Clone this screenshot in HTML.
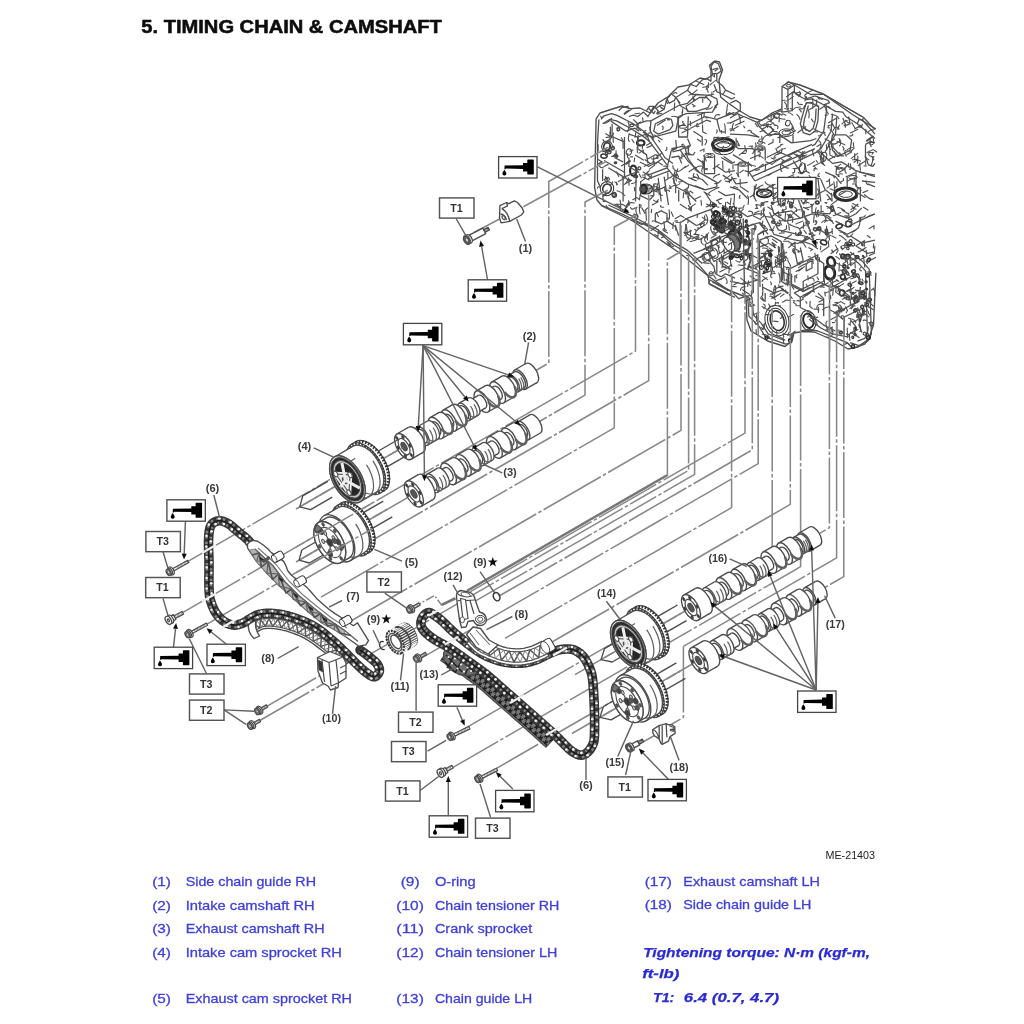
<!DOCTYPE html>
<html><head><meta charset="utf-8"><title>Timing chain &amp; camshaft</title>
<style>html,body{margin:0;padding:0;background:#fff}svg{display:block}text{font-family:"Liberation Sans",sans-serif}</style>
</head><body>
<svg width="1024" height="1024" viewBox="0 0 1024 1024">
<rect width="1024" height="1024" fill="#fff"/>
<g id="art" filter="url(#soft)">
<path d="M596.1 118.9 L594.6 187.7 L597.0 200.0 L602.0 206.0 L632.7 221.0 L679.6 253.0 L708.9 276.5 L728.0 290.0 L746.0 297.0 L747.0 320.0 L751.0 331.0 L767.5 341.0 L785.1 346.5 L792.0 341.0 L793.9 333.0 L803.0 331.5 L814.4 332.0 L834.9 341.0 L848.0 349.0 L858.0 347.0 L868.6 339.0 L873.5 325.0 L875.9 272.7 L875.9 129.0 L852.5 114.5 L823.2 94.0 L800.0 85.0 L788.0 82.0 L783.5 86.0 L782.2 108.6 L772.0 113.0 L761.7 120.3 L750.0 117.0 L738.2 110.0 L728.0 103.0 L720.6 96.9 L719.0 80.0 L722.5 70.0 L719.5 62.0 L714.8 61.0 L711.0 66.0 L712.5 75.0 L706.0 79.3 L700.0 78.0 L688.4 85.2 L678.0 87.0 L667.9 96.9 L658.0 103.0 L650.3 113.0 L640.0 108.0 L629.8 108.6 L622.0 106.0 L609.3 110.0 L600.0 113.0 Z" fill="#fff" stroke="#fff" stroke-width="0.01" stroke-linecap="butt" stroke-linejoin="round"/>
<path d="M875.9 129.0 L852.5 114.5 L823.2 94.0 L800.0 85.0 L788.0 82.0 L783.5 86.0 L782.2 108.6 L772.0 113.0 L761.7 120.3 L750.0 117.0 L738.2 110.0 L728.0 103.0 L720.6 96.9 L719.0 80.0 L722.5 70.0 L719.5 62.0 L714.8 61.0 L711.0 66.0 L712.5 75.0 L706.0 79.3 L700.0 78.0 L688.4 85.2 L678.0 87.0 L667.9 96.9 L658.0 103.0 L650.3 113.0 L640.0 108.0 L629.8 108.6 L622.0 106.0 L609.3 110.0 L600.0 113.0 L596.1 118.9 L594.6 187.7 L597.0 200.0 L602.0 206.0 L632.7 221.0 L679.6 253.0 L708.9 276.5 L728.0 290.0 L746.0 297.0 L747.0 320.0 L751.0 331.0 L767.5 341.0 L785.1 346.5 L792.0 341.0 L793.9 333.0 L803.0 331.5 L814.4 332.0 L834.9 341.0 L848.0 349.0 L858.0 347.0 L868.6 339.0 L873.5 325.0 L875.9 272.7" fill="none" stroke="#4c4c4c" stroke-width="1.35" stroke-linecap="butt" stroke-linejoin="round"/>
<path d="M598.9 119.4 L597.5 142.9 L597.5 181.0 L599.6 185.4 L605.5 191.2" fill="none" stroke="#505050" stroke-width="1.28" stroke-linecap="butt" stroke-linejoin="round"/>
<path d="M601.1 119.4 L604.0 115.8 L611.4 113.6 L616.5 115.1 L633.3 123.8 L643.6 131.2 L650.9 137.0 L661.2 151.7 L664.8 157.5 L672.9 163.4" fill="none" stroke="#505050" stroke-width="1.28" stroke-linecap="butt" stroke-linejoin="round"/>
<path d="M602.6 123.8 L609.9 119.4 L616.5 120.9 L630.4 128.2 L642.1 135.6 L649.4 141.4 L658.2 153.1 L667.0 164.9" fill="none" stroke="#505050" stroke-width="1.28" stroke-linecap="butt" stroke-linejoin="round"/>
<path d="M628.9 116.5 L633.3 115.1 L637.7 116.5 L643.6 112.1 L648.0 116.5 L653.8 106.3 L658.2 110.7 L656.8 113.6 L664.1 109.2 L667.0 98.9 L671.4 93.8 L675.8 97.5 L687.5 90.2 L690.5 84.3 L696.3 86.5 L702.2 79.9 L706.6 78.4 L711.0 81.4" fill="none" stroke="#505050" stroke-width="1.28" stroke-linecap="butt" stroke-linejoin="round"/>
<path d="M650.9 120.9 L678.7 105.5 L687.5 103.3 L696.3 94.5 L709.5 95.3 L716.8 98.9 L717.6 103.3 L712.4 112.1 L686.1 113.6 L678.7 116.5 L675.8 131.2 L653.8 137.0 L650.2 131.2 Z" fill="none" stroke="#505050" stroke-width="1.28" stroke-linecap="butt" stroke-linejoin="round"/>
<path d="M655.3 123.8 L667.0 118.0 L671.4 119.4 L672.9 125.3 L670.0 129.7 L658.2 134.1 L653.8 131.2 Z" fill="none" stroke="#505050" stroke-width="1.28" stroke-linecap="butt" stroke-linejoin="round"/>
<path d="M686.1 106.3 L699.3 97.5 L706.6 97.5 L711.0 101.9 L708.0 107.7 L696.3 111.4 L687.5 111.4 Z" fill="none" stroke="#505050" stroke-width="1.28" stroke-linecap="butt" stroke-linejoin="round"/>
<path d="M678.0 116.5 L678.7 137.0 L687.5 137.0 L688.3 116.5" fill="none" stroke="#505050" stroke-width="1.28" stroke-linecap="butt" stroke-linejoin="round"/>
<ellipse cx="682.8" cy="126.8" rx="4.4" ry="1.5" transform="rotate(0 682.8 126.8)" fill="none" stroke="#333" stroke-width="0.95"/>
<path d="M675.8 140.0 L676.5 148.7 L671.4 150.2 L667.0 167.8 L672.9 175.1 L687.5 183.9 L705.1 189.8 L716.8 186.8 L716.8 182.4 L706.6 176.6 L696.3 170.7 L687.5 157.5 L684.6 145.8 L671.4 148.7" fill="none" stroke="#505050" stroke-width="1.28" stroke-linecap="butt" stroke-linejoin="round"/>
<path d="M687.5 138.5 L690.5 145.8 L686.1 148.7" fill="none" stroke="#505050" stroke-width="1.28" stroke-linecap="butt" stroke-linejoin="round"/>
<path d="M672.9 151.7 L680.2 150.2 L687.5 160.5 L699.3 172.2" fill="none" stroke="#505050" stroke-width="1.28" stroke-linecap="butt" stroke-linejoin="round"/>
<ellipse cx="723.4" cy="144.6" rx="10.8" ry="6.0" transform="rotate(0 723.4 144.6)" fill="#fff" stroke="#2a2a2a" stroke-width="3.2"/>
<ellipse cx="723.4" cy="144.6" rx="6.7" ry="3.2" transform="rotate(0 723.4 144.6)" fill="none" stroke="#333" stroke-width="1.0"/>
<ellipse cx="723.4" cy="148.7" rx="10.8" ry="6.0" transform="rotate(0 723.4 148.7)" fill="none" stroke="#333" stroke-width="1.0"/>
<path d="M704.4 156.1 L704.4 173.6 L714.6 173.6 L714.6 156.1" fill="none" stroke="#505050" stroke-width="1.28" stroke-linecap="butt" stroke-linejoin="round"/>
<ellipse cx="709.5" cy="155.5" rx="5.1" ry="2.1" transform="rotate(0 709.5 155.5)" fill="#fff" stroke="#333" stroke-width="0.95"/>
<ellipse cx="709.5" cy="155.5" rx="2.6" ry="1.0" transform="rotate(0 709.5 155.5)" fill="none" stroke="#333" stroke-width="0.95"/>
<ellipse cx="607.0" cy="146.5" rx="5.3" ry="5.5" transform="rotate(20 607.0 146.5)" fill="#fff" stroke="#333" stroke-width="1.0"/>
<ellipse cx="607.0" cy="146.5" rx="3.3" ry="3.7" transform="rotate(20 607.0 146.5)" fill="none" stroke="#333" stroke-width="1.6"/>
<ellipse cx="607.0" cy="188.6" rx="6.7" ry="7.1" transform="rotate(20 607.0 188.6)" fill="#fff" stroke="#333" stroke-width="1.0"/>
<ellipse cx="607.0" cy="188.6" rx="4.2" ry="4.7" transform="rotate(20 607.0 188.6)" fill="none" stroke="#333" stroke-width="1.6"/>
<ellipse cx="628.9" cy="152.0" rx="2.6" ry="3.2" transform="rotate(20 628.9 152.0)" fill="none" stroke="#333" stroke-width="0.95"/>
<ellipse cx="604.0" cy="156.1" rx="3.2" ry="2.1" transform="rotate(0 604.0 156.1)" fill="none" stroke="#333" stroke-width="1.4"/>
<ellipse cx="633.3" cy="170.7" rx="3.2" ry="5.0" transform="rotate(0 633.3 170.7)" fill="none" stroke="#2a2a2a" stroke-width="2.2"/>
<ellipse cx="646.5" cy="189.0" rx="5.9" ry="5.0" transform="rotate(0 646.5 189.0)" fill="#bbb" stroke="#333" stroke-width="1.2"/>
<ellipse cx="643.6" cy="189.0" rx="3.2" ry="4.4" transform="rotate(0 643.6 189.0)" fill="#555" stroke="#222" stroke-width="2.2"/>
<ellipse cx="640.7" cy="142.9" rx="3.8" ry="2.6" transform="rotate(0 640.7 142.9)" fill="none" stroke="#2a2a2a" stroke-width="2"/>
<path d="M610.6 120.9 L626.0 131.2 L634.8 128.2 L639.2 131.2" fill="none" stroke="#505050" stroke-width="1.28" stroke-linecap="butt" stroke-linejoin="round"/>
<path d="M612.1 123.8 L612.1 137.0 L605.5 142.9" fill="none" stroke="#505050" stroke-width="1.28" stroke-linecap="butt" stroke-linejoin="round"/>
<path d="M624.5 137.0 L624.5 176.6 L628.9 181.0" fill="none" stroke="#505050" stroke-width="1.28" stroke-linecap="butt" stroke-linejoin="round"/>
<path d="M621.6 178.0 L636.3 172.2 L635.5 201.5" fill="none" stroke="#505050" stroke-width="1.28" stroke-linecap="butt" stroke-linejoin="round"/>
<path d="M604.0 160.5 L624.5 172.2" fill="none" stroke="#505050" stroke-width="1.28" stroke-linecap="butt" stroke-linejoin="round"/>
<path d="M612.8 137.0 L623.1 141.4 L623.1 148.7" fill="none" stroke="#505050" stroke-width="1.28" stroke-linecap="butt" stroke-linejoin="round"/>
<path d="M614.3 157.5 L623.1 161.9" fill="none" stroke="#505050" stroke-width="1.28" stroke-linecap="butt" stroke-linejoin="round"/>
<path d="M602.6 169.3 L602.6 181.0" fill="none" stroke="#505050" stroke-width="1.28" stroke-linecap="butt" stroke-linejoin="round"/>
<path d="M608.4 167.8 L623.1 176.6 L623.1 201.5" fill="none" stroke="#505050" stroke-width="1.28" stroke-linecap="butt" stroke-linejoin="round"/>
<path d="M628.9 134.1 L637.7 137.0 L646.5 134.1 L649.4 141.4" fill="none" stroke="#505050" stroke-width="1.28" stroke-linecap="butt" stroke-linejoin="round"/>
<path d="M637.7 137.0 L637.7 148.7 L646.5 154.6 L648.0 163.4" fill="none" stroke="#505050" stroke-width="1.28" stroke-linecap="butt" stroke-linejoin="round"/>
<path d="M628.9 157.5 L628.9 166.3 L637.7 172.2" fill="none" stroke="#505050" stroke-width="1.28" stroke-linecap="butt" stroke-linejoin="round"/>
<path d="M648.0 175.1 L667.0 167.8" fill="none" stroke="#505050" stroke-width="1.28" stroke-linecap="butt" stroke-linejoin="round"/>
<path d="M648.0 178.8 L670.0 170.7" fill="none" stroke="#505050" stroke-width="1.28" stroke-linecap="butt" stroke-linejoin="round"/>
<path d="M640.7 181.0 L640.7 195.6 L649.4 200.0 L653.8 195.6 L653.8 183.9" fill="none" stroke="#505050" stroke-width="1.28" stroke-linecap="butt" stroke-linejoin="round"/>
<path d="M658.2 178.0 L661.2 201.5" fill="none" stroke="#505050" stroke-width="1.28" stroke-linecap="butt" stroke-linejoin="round"/>
<path d="M664.1 176.6 L668.5 205.0" fill="none" stroke="#505050" stroke-width="1.28" stroke-linecap="butt" stroke-linejoin="round"/>
<path d="M687.5 125.3 L705.1 116.5 L716.8 119.4 L731.5 113.6 L735.0 115.1" fill="none" stroke="#505050" stroke-width="1.28" stroke-linecap="butt" stroke-linejoin="round"/>
<path d="M690.5 128.2 L706.6 120.2 L711.0 121.6" fill="none" stroke="#505050" stroke-width="1.28" stroke-linecap="butt" stroke-linejoin="round"/>
<path d="M716.8 119.4 L719.8 131.2" fill="none" stroke="#505050" stroke-width="1.28" stroke-linecap="butt" stroke-linejoin="round"/>
<path d="M693.4 131.2 L702.2 137.0 L702.2 145.8" fill="none" stroke="#505050" stroke-width="1.28" stroke-linecap="butt" stroke-linejoin="round"/>
<path d="M722.7 94.5 L731.5 98.9 L735.0 97.5" fill="none" stroke="#505050" stroke-width="1.28" stroke-linecap="butt" stroke-linejoin="round"/>
<path d="M725.6 90.2 L735.0 94.5" fill="none" stroke="#505050" stroke-width="1.28" stroke-linecap="butt" stroke-linejoin="round"/>
<path d="M716.8 81.4 L722.7 85.8 L725.6 90.2 L722.7 94.5 L716.8 91.6 L713.9 84.3" fill="none" stroke="#505050" stroke-width="1.28" stroke-linecap="butt" stroke-linejoin="round"/>
<path d="M711.0 81.4 L711.0 71.1 L709.5 65.3 L713.9 61.6 L718.3 63.8 L721.2 71.1 L716.8 74.0 L716.8 81.4" fill="none" stroke="#505050" stroke-width="1.28" stroke-linecap="butt" stroke-linejoin="round"/>
<path d="M712.4 69.6 L717.6 68.2" fill="none" stroke="#505050" stroke-width="1.28" stroke-linecap="butt" stroke-linejoin="round"/>
<path d="M711.7 74.0 L716.8 73.3" fill="none" stroke="#505050" stroke-width="1.28" stroke-linecap="butt" stroke-linejoin="round"/>
<path d="M667.0 98.9 L669.2 103.3 L674.4 100.4 L675.8 97.5" fill="none" stroke="#505050" stroke-width="1.28" stroke-linecap="butt" stroke-linejoin="round"/>
<path d="M646.5 110.7 L649.4 106.3 L653.8 106.3" fill="none" stroke="#505050" stroke-width="1.28" stroke-linecap="butt" stroke-linejoin="round"/>
<path d="M648.0 107.7 L653.8 113.6 L655.3 110.7" fill="none" stroke="#505050" stroke-width="1.28" stroke-linecap="butt" stroke-linejoin="round"/>
<path d="M633.3 119.4 L637.7 123.8 L646.5 120.9 L650.9 120.9" fill="none" stroke="#505050" stroke-width="1.28" stroke-linecap="butt" stroke-linejoin="round"/>
<path d="M618.7 110.7 L621.6 107.7 L627.5 106.3 L628.9 107.7" fill="none" stroke="#505050" stroke-width="1.28" stroke-linecap="butt" stroke-linejoin="round"/>
<path d="M687.5 90.2 L691.9 94.5 L696.3 94.5" fill="none" stroke="#505050" stroke-width="1.28" stroke-linecap="butt" stroke-linejoin="round"/>
<path d="M675.8 97.5 L680.2 103.3" fill="none" stroke="#505050" stroke-width="1.28" stroke-linecap="butt" stroke-linejoin="round"/>
<path d="M721.2 157.5 L731.5 163.4 L735.0 161.9" fill="none" stroke="#505050" stroke-width="1.28" stroke-linecap="butt" stroke-linejoin="round"/>
<path d="M716.8 166.3 L725.6 172.2 L735.0 170.7" fill="none" stroke="#505050" stroke-width="1.28" stroke-linecap="butt" stroke-linejoin="round"/>
<path d="M722.7 175.1 L731.5 181.0" fill="none" stroke="#505050" stroke-width="1.28" stroke-linecap="butt" stroke-linejoin="round"/>
<path d="M718.3 191.2 L725.6 195.6 L735.0 194.2" fill="none" stroke="#505050" stroke-width="1.28" stroke-linecap="butt" stroke-linejoin="round"/>
<path d="M705.1 192.7 L711.0 201.5 L716.8 205.0" fill="none" stroke="#505050" stroke-width="1.28" stroke-linecap="butt" stroke-linejoin="round"/>
<path d="M672.9 178.0 L675.8 186.8 L687.5 192.7 L696.3 201.5" fill="none" stroke="#505050" stroke-width="1.28" stroke-linecap="butt" stroke-linejoin="round"/>
<path d="M678.7 189.8 L678.7 201.5" fill="none" stroke="#505050" stroke-width="1.28" stroke-linecap="butt" stroke-linejoin="round"/>
<path d="M687.5 195.6 L690.5 205.0" fill="none" stroke="#505050" stroke-width="1.28" stroke-linecap="butt" stroke-linejoin="round"/>
<path d="M693.4 176.6 L702.2 179.5 L708.0 185.4" fill="none" stroke="#505050" stroke-width="1.28" stroke-linecap="butt" stroke-linejoin="round"/>
<path d="M671.4 157.5 L678.7 156.1 L681.7 163.4" fill="none" stroke="#505050" stroke-width="1.28" stroke-linecap="butt" stroke-linejoin="round"/>
<path d="M782.0 86.5 L788.6 82.1 L794.4 85.0 L794.4 92.4 L792.3 93.1 L792.3 110.7 L782.0 112.1 Z" fill="#fff" stroke="#505050" stroke-width="1.28" stroke-linecap="butt" stroke-linejoin="round"/>
<path d="M782.0 86.5 L787.9 89.4 L794.4 85.0" fill="none" stroke="#505050" stroke-width="1.28" stroke-linecap="butt" stroke-linejoin="round"/>
<path d="M787.9 89.4 L787.9 110.7" fill="none" stroke="#505050" stroke-width="1.28" stroke-linecap="butt" stroke-linejoin="round"/>
<ellipse cx="788.6" cy="85.8" rx="2.3" ry="1.2" transform="rotate(0 788.6 85.8)" fill="none" stroke="#333" stroke-width="0.95"/>
<path d="M794.4 85.0 L810.6 94.5 L823.7 94.3 L863.3 117.3 L862.6 120.2 L858.9 119.4 L857.4 123.8 L845.7 116.5 L842.8 112.1 L835.5 111.4 L823.7 104.8 L812.0 98.9 L806.2 99.7 L801.8 97.5 L794.4 92.4" fill="none" stroke="#505050" stroke-width="1.28" stroke-linecap="butt" stroke-linejoin="round"/>
<path d="M863.3 117.3 L875.0 129.7" fill="none" stroke="#505050" stroke-width="1.28" stroke-linecap="butt" stroke-linejoin="round"/>
<path d="M862.6 120.2 L875.0 134.1" fill="none" stroke="#505050" stroke-width="1.28" stroke-linecap="butt" stroke-linejoin="round"/>
<path d="M857.4 123.8 L875.0 138.5" fill="none" stroke="#505050" stroke-width="1.28" stroke-linecap="butt" stroke-linejoin="round"/>
<path d="M823.7 94.3 L841.3 104.8 L861.8 116.5" fill="none" stroke="#505050" stroke-width="1.28" stroke-linecap="butt" stroke-linejoin="round"/>
<path d="M806.2 98.9 L815.0 96.0 L828.1 100.4 L829.6 102.6 L823.7 104.8" fill="none" stroke="#505050" stroke-width="1.28" stroke-linecap="butt" stroke-linejoin="round"/>
<ellipse cx="798.1" cy="93.8" rx="2.3" ry="1.3" transform="rotate(0 798.1 93.8)" fill="none" stroke="#333" stroke-width="0.95"/>
<path d="M806.2 102.6 L801.8 118.0 L800.3 123.8 L803.2 132.6 L809.8 134.8 L815.0 131.2 L817.9 120.9 L818.6 106.3 L812.0 103.3 Z" fill="none" stroke="#505050" stroke-width="1.28" stroke-linecap="butt" stroke-linejoin="round"/>
<path d="M808.4 105.5 L804.4 119.4 L803.5 125.3 L805.6 130.0 L809.8 131.2 L813.2 128.2 L815.5 119.4 L816.1 108.5" fill="none" stroke="#505050" stroke-width="1.28" stroke-linecap="butt" stroke-linejoin="round"/>
<path d="M823.7 105.5 L826.7 109.2 L823.7 131.2 L815.0 144.4 L812.0 145.8" fill="none" stroke="#505050" stroke-width="1.28" stroke-linecap="butt" stroke-linejoin="round"/>
<path d="M832.5 113.6 L831.1 131.2 L820.8 148.7 L816.4 151.7" fill="none" stroke="#505050" stroke-width="1.28" stroke-linecap="butt" stroke-linejoin="round"/>
<path d="M836.9 116.5 L835.5 134.1 L825.2 151.7" fill="none" stroke="#505050" stroke-width="1.28" stroke-linecap="butt" stroke-linejoin="round"/>
<path d="M730.0 123.1 L743.9 116.5 L757.1 122.4 L780.5 110.7 L782.0 112.1" fill="none" stroke="#505050" stroke-width="1.28" stroke-linecap="butt" stroke-linejoin="round"/>
<path d="M757.1 122.4 L759.3 126.8 L768.1 134.8 L778.3 134.1 L780.5 135.6 L791.5 142.9 L810.6 140.7 L816.4 138.5" fill="none" stroke="#505050" stroke-width="1.28" stroke-linecap="butt" stroke-linejoin="round"/>
<path d="M759.3 126.8 L765.2 123.8 L773.9 129.7 L768.1 134.8" fill="none" stroke="#505050" stroke-width="1.28" stroke-linecap="butt" stroke-linejoin="round"/>
<ellipse cx="769.5" cy="123.1" rx="2.9" ry="1.6" transform="rotate(0 769.5 123.1)" fill="none" stroke="#333" stroke-width="0.95"/>
<ellipse cx="776.9" cy="115.8" rx="2.3" ry="2.6" transform="rotate(30 776.9 115.8)" fill="none" stroke="#333" stroke-width="0.95"/>
<ellipse cx="787.9" cy="123.1" rx="2.3" ry="2.9" transform="rotate(20 787.9 123.1)" fill="none" stroke="#333" stroke-width="0.95"/>
<path d="M754.9 148.7 L754.9 160.5" fill="none" stroke="#505050" stroke-width="1.28" stroke-linecap="butt" stroke-linejoin="round"/>
<path d="M765.2 148.7 L765.2 160.5" fill="none" stroke="#505050" stroke-width="1.28" stroke-linecap="butt" stroke-linejoin="round"/>
<ellipse cx="760.0" cy="148.0" rx="5.1" ry="2.2" transform="rotate(0 760.0 148.0)" fill="#fff" stroke="#333" stroke-width="0.95"/>
<ellipse cx="760.0" cy="148.0" rx="2.6" ry="1.2" transform="rotate(0 760.0 148.0)" fill="none" stroke="#333" stroke-width="0.95"/>
<ellipse cx="760.0" cy="142.9" rx="2.6" ry="1.3" transform="rotate(0 760.0 142.9)" fill="none" stroke="#333" stroke-width="0.95"/>
<path d="M738.1 164.9 L738.1 176.6" fill="none" stroke="#505050" stroke-width="1.28" stroke-linecap="butt" stroke-linejoin="round"/>
<path d="M748.3 164.9 L748.3 176.6" fill="none" stroke="#505050" stroke-width="1.28" stroke-linecap="butt" stroke-linejoin="round"/>
<ellipse cx="743.2" cy="164.1" rx="5.1" ry="2.2" transform="rotate(0 743.2 164.1)" fill="#fff" stroke="#333" stroke-width="0.95"/>
<ellipse cx="743.2" cy="164.1" rx="2.6" ry="1.2" transform="rotate(0 743.2 164.1)" fill="none" stroke="#333" stroke-width="0.95"/>
<ellipse cx="786.4" cy="132.6" rx="7.3" ry="3.7" transform="rotate(0 786.4 132.6)" fill="#fff" stroke="#333" stroke-width="0.95"/>
<ellipse cx="786.4" cy="132.6" rx="4.4" ry="2.1" transform="rotate(0 786.4 132.6)" fill="none" stroke="#333" stroke-width="0.95"/>
<path d="M779.8 134.8 L779.8 142.9" fill="none" stroke="#505050" stroke-width="1.28" stroke-linecap="butt" stroke-linejoin="round"/>
<path d="M793.0 134.8 L793.0 142.9" fill="none" stroke="#505050" stroke-width="1.28" stroke-linecap="butt" stroke-linejoin="round"/>
<path d="M749.0 172.2 L812.0 144.4" fill="none" stroke="#505050" stroke-width="1.28" stroke-linecap="butt" stroke-linejoin="round"/>
<path d="M752.0 176.6 L815.0 148.7" fill="none" stroke="#505050" stroke-width="1.28" stroke-linecap="butt" stroke-linejoin="round"/>
<path d="M754.9 181.0 L817.9 151.7" fill="none" stroke="#505050" stroke-width="1.28" stroke-linecap="butt" stroke-linejoin="round"/>
<path d="M744.6 170.7 L749.0 172.2 L754.9 181.0" fill="none" stroke="#505050" stroke-width="1.28" stroke-linecap="butt" stroke-linejoin="round"/>
<path d="M832.5 134.8 L845.7 134.8 L851.6 140.0 L850.1 150.2 L838.4 156.1 L832.5 150.2 L831.1 142.9 Z" fill="none" stroke="#505050" stroke-width="1.28" stroke-linecap="butt" stroke-linejoin="round"/>
<path d="M865.5 144.4 L865.5 156.1 L868.4 164.9 L872.8 166.3 L875.0 163.4" fill="none" stroke="#505050" stroke-width="1.28" stroke-linecap="butt" stroke-linejoin="round"/>
<path d="M865.5 144.4 L870.6 141.4 L875.0 142.9" fill="none" stroke="#505050" stroke-width="1.28" stroke-linecap="butt" stroke-linejoin="round"/>
<ellipse cx="871.4" cy="143.6" rx="2.1" ry="1.2" transform="rotate(0 871.4 143.6)" fill="none" stroke="#333" stroke-width="0.95"/>
<path d="M817.9 150.2 L832.5 163.4 L841.3 161.9 L856.0 170.7 L875.0 176.6" fill="none" stroke="#505050" stroke-width="1.28" stroke-linecap="butt" stroke-linejoin="round"/>
<path d="M856.0 170.7 L856.0 186.8" fill="none" stroke="#505050" stroke-width="1.28" stroke-linecap="butt" stroke-linejoin="round"/>
<path d="M847.2 176.6 L847.2 186.8" fill="none" stroke="#505050" stroke-width="1.28" stroke-linecap="butt" stroke-linejoin="round"/>
<ellipse cx="853.0" cy="177.3" rx="4.4" ry="1.8" transform="rotate(0 853.0 177.3)" fill="none" stroke="#333" stroke-width="0.95"/>
<ellipse cx="845.7" cy="194.2" rx="11.1" ry="6.2" transform="rotate(0 845.7 194.2)" fill="#fff" stroke="#2a2a2a" stroke-width="3.0"/>
<ellipse cx="845.7" cy="194.2" rx="6.7" ry="3.2" transform="rotate(0 845.7 194.2)" fill="none" stroke="#333" stroke-width="0.95"/>
<ellipse cx="764.4" cy="193.4" rx="7.6" ry="3.8" transform="rotate(0 764.4 193.4)" fill="#fff" stroke="#2a2a2a" stroke-width="2.0"/>
<ellipse cx="764.4" cy="193.4" rx="4.4" ry="1.9" transform="rotate(0 764.4 193.4)" fill="none" stroke="#333" stroke-width="0.95"/>
<path d="M730.0 103.3 L735.9 100.4 L740.3 103.3 L740.3 110.7 L734.4 113.6" fill="none" stroke="#505050" stroke-width="1.28" stroke-linecap="butt" stroke-linejoin="round"/>
<path d="M730.0 118.0 L737.3 113.6 L743.2 116.5" fill="none" stroke="#505050" stroke-width="1.28" stroke-linecap="butt" stroke-linejoin="round"/>
<path d="M730.0 134.1 L747.6 134.8 L759.3 137.0" fill="none" stroke="#505050" stroke-width="1.28" stroke-linecap="butt" stroke-linejoin="round"/>
<path d="M730.0 142.9 L738.8 148.7 L753.4 148.7" fill="none" stroke="#505050" stroke-width="1.28" stroke-linecap="butt" stroke-linejoin="round"/>
<path d="M732.9 154.6 L752.0 166.3" fill="none" stroke="#505050" stroke-width="1.28" stroke-linecap="butt" stroke-linejoin="round"/>
<path d="M766.6 157.5 L778.3 151.7 L791.5 157.5 L781.3 163.4" fill="none" stroke="#505050" stroke-width="1.28" stroke-linecap="butt" stroke-linejoin="round"/>
<path d="M793.0 160.5 L798.8 169.3 L801.8 173.6 L806.2 170.7 L804.7 163.4" fill="none" stroke="#505050" stroke-width="1.28" stroke-linecap="butt" stroke-linejoin="round"/>
<ellipse cx="802.1" cy="167.8" rx="2.6" ry="5.0" transform="rotate(10 802.1 167.8)" fill="none" stroke="#333" stroke-width="0.95"/>
<path d="M817.9 151.7 L823.7 160.5 L823.7 156.1 L820.8 150.2" fill="none" stroke="#505050" stroke-width="1.28" stroke-linecap="butt" stroke-linejoin="round"/>
<ellipse cx="823.7" cy="156.8" rx="2.9" ry="4.7" transform="rotate(15 823.7 156.8)" fill="none" stroke="#333" stroke-width="0.95"/>
<path d="M825.2 172.2 L835.5 176.6 L841.3 183.9" fill="none" stroke="#505050" stroke-width="1.28" stroke-linecap="butt" stroke-linejoin="round"/>
<path d="M820.8 179.5 L825.2 189.8 L832.5 195.6" fill="none" stroke="#505050" stroke-width="1.28" stroke-linecap="butt" stroke-linejoin="round"/>
<path d="M858.9 172.2 L875.0 175.1" fill="none" stroke="#505050" stroke-width="1.28" stroke-linecap="butt" stroke-linejoin="round"/>
<path d="M861.8 181.0 L875.0 182.4" fill="none" stroke="#505050" stroke-width="1.28" stroke-linecap="butt" stroke-linejoin="round"/>
<path d="M756.4 183.9 L753.4 195.6 L756.4 201.5" fill="none" stroke="#505050" stroke-width="1.28" stroke-linecap="butt" stroke-linejoin="round"/>
<path d="M772.5 183.9 L773.9 201.5" fill="none" stroke="#505050" stroke-width="1.28" stroke-linecap="butt" stroke-linejoin="round"/>
<path d="M731.5 176.6 L735.9 183.9 L747.6 182.4" fill="none" stroke="#505050" stroke-width="1.28" stroke-linecap="butt" stroke-linejoin="round"/>
<path d="M730.0 186.8 L738.8 189.8 L747.6 198.5" fill="none" stroke="#505050" stroke-width="1.28" stroke-linecap="butt" stroke-linejoin="round"/>
<path d="M817.9 178.0 L820.8 201.5" fill="none" stroke="#505050" stroke-width="1.28" stroke-linecap="butt" stroke-linejoin="round"/>
<path d="M826.7 194.2 L832.5 201.5" fill="none" stroke="#505050" stroke-width="1.28" stroke-linecap="butt" stroke-linejoin="round"/>
<path d="M860.4 186.8 L860.4 201.5" fill="none" stroke="#505050" stroke-width="1.28" stroke-linecap="butt" stroke-linejoin="round"/>
<path d="M867.7 183.9 L875.0 186.8" fill="none" stroke="#505050" stroke-width="1.28" stroke-linecap="butt" stroke-linejoin="round"/>
<path d="M842.8 118.0 L845.7 125.3 L850.1 123.8 L848.6 116.5" fill="none" stroke="#505050" stroke-width="1.28" stroke-linecap="butt" stroke-linejoin="round"/>
<path d="M831.1 145.8 L841.3 156.1" fill="none" stroke="#505050" stroke-width="1.28" stroke-linecap="butt" stroke-linejoin="round"/>
<path d="M601.1 205.0 L621.6 213.8 L633.3 219.6 L646.5 225.5 L661.2 234.3 L672.9 244.5 L687.5 253.3 L696.3 262.1 L708.0 275.3 L709.5 284.1 L728.5 294.4 L735.0 297.3" fill="none" stroke="#505050" stroke-width="1.28" stroke-linecap="butt" stroke-linejoin="round"/>
<path d="M608.4 205.0 L633.3 216.7 L658.2 229.9 L672.9 241.6 L687.5 250.4 L702.2 263.6" fill="none" stroke="#505050" stroke-width="1.28" stroke-linecap="butt" stroke-linejoin="round"/>
<path d="M680.2 222.6 L687.5 218.2 L711.0 209.4 L716.8 205.0" fill="none" stroke="#505050" stroke-width="1.28" stroke-linecap="butt" stroke-linejoin="round"/>
<path d="M680.2 222.6 L680.2 251.9" fill="none" stroke="#505050" stroke-width="1.28" stroke-linecap="butt" stroke-linejoin="round"/>
<path d="M686.1 224.0 L687.5 234.3 L696.3 238.7 L699.3 234.3" fill="none" stroke="#505050" stroke-width="1.28" stroke-linecap="butt" stroke-linejoin="round"/>
<path d="M705.1 244.5 L713.9 240.2 L731.5 232.8 L732.9 240.2 L716.8 248.9 L706.6 250.4 Z" fill="#fff" stroke="#505050" stroke-width="1.28" stroke-linecap="butt" stroke-linejoin="round"/>
<ellipse cx="715.4" cy="244.3" rx="3.5" ry="5.0" transform="rotate(-20 715.4 244.3)" fill="none" stroke="#333" stroke-width="1.4"/>
<path d="M709.5 279.7 L731.5 291.4 L730.0 294.6 L708.8 283.4 Z" fill="none" stroke="#505050" stroke-width="1.28" stroke-linecap="butt" stroke-linejoin="round"/>
<path d="M712.4 281.9 L728.5 290.7" fill="none" stroke="#505050" stroke-width="1.28" stroke-linecap="butt" stroke-linejoin="round"/>
<path d="M655.3 213.8 L661.2 210.9 L667.0 213.8 L667.0 221.1 L661.2 224.0 L655.3 221.1 Z" fill="none" stroke="#505050" stroke-width="1.28" stroke-linecap="butt" stroke-linejoin="round"/>
<path d="M658.2 231.4 L664.1 236.5 L661.2 238.0" fill="none" stroke="#505050" stroke-width="1.28" stroke-linecap="butt" stroke-linejoin="round"/>
<path d="M633.3 213.8 L637.7 215.3 L636.3 221.1 L631.9 219.6" fill="none" stroke="#505050" stroke-width="1.28" stroke-linecap="butt" stroke-linejoin="round"/>
<path d="M693.4 253.3 L705.1 248.9 L735.0 236.5" fill="none" stroke="#505050" stroke-width="1.28" stroke-linecap="butt" stroke-linejoin="round"/>
<path d="M696.3 259.2 L706.6 253.3 L731.5 243.1" fill="none" stroke="#505050" stroke-width="1.28" stroke-linecap="butt" stroke-linejoin="round"/>
<path d="M706.6 257.7 L713.9 266.5 L715.4 273.8 L721.2 276.8 L725.6 273.8 L735.0 278.2" fill="none" stroke="#505050" stroke-width="1.28" stroke-linecap="butt" stroke-linejoin="round"/>
<path d="M716.8 260.7 L716.8 273.8" fill="none" stroke="#505050" stroke-width="1.28" stroke-linecap="butt" stroke-linejoin="round"/>
<ellipse cx="711.0" cy="273.8" rx="2.1" ry="2.1" transform="rotate(0 711.0 273.8)" fill="none" stroke="#333" stroke-width="0.95"/>
<path d="M722.7 248.9 L722.7 266.5 L731.5 269.4" fill="none" stroke="#505050" stroke-width="1.28" stroke-linecap="butt" stroke-linejoin="round"/>
<path d="M687.5 219.6 L696.3 225.5 L705.1 222.6" fill="none" stroke="#505050" stroke-width="1.28" stroke-linecap="butt" stroke-linejoin="round"/>
<path d="M667.0 221.1 L675.8 227.0 L678.7 235.8" fill="none" stroke="#505050" stroke-width="1.28" stroke-linecap="butt" stroke-linejoin="round"/>
<ellipse cx="716.8" cy="213.8" rx="3.2" ry="2.3" transform="rotate(30 716.8 213.8)" fill="none" stroke="#2a2a2a" stroke-width="2.0"/>
<ellipse cx="722.7" cy="221.1" rx="3.2" ry="2.3" transform="rotate(30 722.7 221.1)" fill="none" stroke="#2a2a2a" stroke-width="2.0"/>
<ellipse cx="730.0" cy="213.8" rx="3.2" ry="2.3" transform="rotate(30 730.0 213.8)" fill="none" stroke="#2a2a2a" stroke-width="2.0"/>
<ellipse cx="731.5" cy="227.0" rx="3.2" ry="2.3" transform="rotate(30 731.5 227.0)" fill="none" stroke="#2a2a2a" stroke-width="2.0"/>
<ellipse cx="721.2" cy="229.9" rx="3.2" ry="2.3" transform="rotate(30 721.2 229.9)" fill="none" stroke="#2a2a2a" stroke-width="2.0"/>
<ellipse cx="713.9" cy="222.6" rx="3.2" ry="2.3" transform="rotate(30 713.9 222.6)" fill="none" stroke="#2a2a2a" stroke-width="2.0"/>
<path d="M711.0 209.4 L713.9 216.7 L721.2 225.5 L731.5 228.4 L735.0 227.0" fill="none" stroke="#505050" stroke-width="1.89" stroke-linecap="butt" stroke-linejoin="round"/>
<path d="M747.6 295.8 L749.0 316.3 L759.3 326.6 L765.2 336.8 L785.7 344.2 L791.5 342.7 L793.0 333.9" fill="none" stroke="#505050" stroke-width="1.28" stroke-linecap="butt" stroke-linejoin="round"/>
<path d="M752.0 297.3 L753.4 314.9 L761.5 323.6 L768.1 333.9 L784.2 340.5" fill="none" stroke="#505050" stroke-width="1.28" stroke-linecap="butt" stroke-linejoin="round"/>
<ellipse cx="776.9" cy="320.7" rx="11.7" ry="15.4" transform="rotate(-15 776.9 320.7)" fill="#fff" stroke="#333" stroke-width="1.0"/>
<ellipse cx="776.9" cy="320.7" rx="9.1" ry="12.6" transform="rotate(-15 776.9 320.7)" fill="none" stroke="#333" stroke-width="1.0"/>
<ellipse cx="777.2" cy="320.7" rx="6.7" ry="10.0" transform="rotate(-15 777.2 320.7)" fill="none" stroke="#333" stroke-width="1.6"/>
<ellipse cx="808.4" cy="320.7" rx="7.3" ry="10.3" transform="rotate(-15 808.4 320.7)" fill="#fff" stroke="#333" stroke-width="1.0"/>
<ellipse cx="808.4" cy="320.7" rx="5.0" ry="7.3" transform="rotate(-15 808.4 320.7)" fill="none" stroke="#2a2a2a" stroke-width="2.0"/>
<ellipse cx="831.1" cy="262.1" rx="3.7" ry="5.1" transform="rotate(-15 831.1 262.1)" fill="none" stroke="#2a2a2a" stroke-width="2.6"/>
<ellipse cx="829.6" cy="272.7" rx="5.1" ry="6.7" transform="rotate(-15 829.6 272.7)" fill="none" stroke="#2a2a2a" stroke-width="3.0"/>
<path d="M788.6 269.4 L817.9 254.8 L817.9 259.2 L823.7 263.6 L823.7 281.2 L803.2 291.4 L788.6 284.1 Z" fill="none" stroke="#505050" stroke-width="1.28" stroke-linecap="butt" stroke-linejoin="round"/>
<path d="M791.5 273.8 L791.5 284.1 L803.2 290.0" fill="none" stroke="#505050" stroke-width="1.28" stroke-linecap="butt" stroke-linejoin="round"/>
<path d="M803.2 291.4 L803.2 281.2 L817.9 273.8 L817.9 259.2" fill="none" stroke="#505050" stroke-width="1.28" stroke-linecap="butt" stroke-linejoin="round"/>
<path d="M806.2 263.6 L812.0 260.7 L812.0 268.0 L806.2 270.9 Z" fill="none" stroke="#505050" stroke-width="1.28" stroke-linecap="butt" stroke-linejoin="round"/>
<path d="M763.7 213.8 L773.9 234.3 L788.6 238.7 L803.2 241.6 L812.0 244.5 L817.9 248.9" fill="none" stroke="#505050" stroke-width="1.28" stroke-linecap="butt" stroke-linejoin="round"/>
<path d="M769.5 212.3 L778.3 229.9 L791.5 232.8 L806.2 236.5 L817.9 243.1" fill="none" stroke="#505050" stroke-width="1.28" stroke-linecap="butt" stroke-linejoin="round"/>
<path d="M771.0 205.0 L773.9 213.8 L785.7 221.1 L800.3 218.2 L812.0 213.8 L823.7 215.3 L832.5 221.1" fill="none" stroke="#505050" stroke-width="1.28" stroke-linecap="butt" stroke-linejoin="round"/>
<path d="M812.0 205.0 L812.0 212.3 L829.6 213.8 L832.5 209.4" fill="none" stroke="#505050" stroke-width="1.28" stroke-linecap="butt" stroke-linejoin="round"/>
<path d="M800.3 205.0 L816.4 247.5" fill="none" stroke="#505050" stroke-width="1.35" stroke-linecap="butt" stroke-linejoin="round"/>
<path d="M850.1 251.9 L861.8 260.7 L869.2 269.4 L871.4 333.9 L867.7 341.2 L858.9 345.6 L850.1 342.7" fill="none" stroke="#505050" stroke-width="1.28" stroke-linecap="butt" stroke-linejoin="round"/>
<path d="M847.2 254.8 L858.9 263.6 L865.5 270.9 L867.4 332.4 L864.8 338.3 L857.4 341.2" fill="none" stroke="#505050" stroke-width="1.28" stroke-linecap="butt" stroke-linejoin="round"/>
<path d="M800.3 331.0 L809.1 329.5 L817.9 331.0 L832.5 336.8 L847.2 342.7 L853.0 348.5 L864.8 344.2 L870.6 336.8" fill="none" stroke="#505050" stroke-width="1.28" stroke-linecap="butt" stroke-linejoin="round"/>
<path d="M809.1 319.3 L820.8 328.0 L832.5 333.9 L847.2 336.8" fill="none" stroke="#505050" stroke-width="1.28" stroke-linecap="butt" stroke-linejoin="round"/>
<path d="M812.0 316.3 L823.7 325.1 L835.5 331.0" fill="none" stroke="#505050" stroke-width="1.28" stroke-linecap="butt" stroke-linejoin="round"/>
<ellipse cx="734.4" cy="238.7" rx="6.7" ry="8.8" transform="rotate(0 734.4 238.7)" fill="#999" stroke="#2a2a2a" stroke-width="3.0"/>
<ellipse cx="732.9" cy="238.7" rx="3.5" ry="5.3" transform="rotate(0 732.9 238.7)" fill="#fff" stroke="#333" stroke-width="1.4"/>
<ellipse cx="842.8" cy="256.3" rx="2.1" ry="2.3" transform="rotate(0 842.8 256.3)" fill="none" stroke="#2a2a2a" stroke-width="1.6"/>
<ellipse cx="847.9" cy="256.6" rx="2.1" ry="2.3" transform="rotate(0 847.9 256.6)" fill="none" stroke="#2a2a2a" stroke-width="1.6"/>
<ellipse cx="842.8" cy="276.8" rx="2.3" ry="2.6" transform="rotate(0 842.8 276.8)" fill="none" stroke="#2a2a2a" stroke-width="1.6"/>
<ellipse cx="842.1" cy="292.9" rx="2.6" ry="2.9" transform="rotate(0 842.1 292.9)" fill="none" stroke="#2a2a2a" stroke-width="1.6"/>
<ellipse cx="854.5" cy="275.3" rx="1.8" ry="1.9" transform="rotate(0 854.5 275.3)" fill="none" stroke="#2a2a2a" stroke-width="1.6"/>
<ellipse cx="856.0" cy="300.2" rx="2.1" ry="2.3" transform="rotate(0 856.0 300.2)" fill="none" stroke="#2a2a2a" stroke-width="1.6"/>
<ellipse cx="862.6" cy="292.9" rx="1.8" ry="1.9" transform="rotate(0 862.6 292.9)" fill="none" stroke="#2a2a2a" stroke-width="1.6"/>
<ellipse cx="844.3" cy="266.5" rx="1.5" ry="1.6" transform="rotate(0 844.3 266.5)" fill="none" stroke="#2a2a2a" stroke-width="1.6"/>
<ellipse cx="867.7" cy="275.3" rx="1.5" ry="1.6" transform="rotate(0 867.7 275.3)" fill="none" stroke="#2a2a2a" stroke-width="1.6"/>
<ellipse cx="868.4" cy="337.6" rx="1.8" ry="1.9" transform="rotate(0 868.4 337.6)" fill="none" stroke="#2a2a2a" stroke-width="1.6"/>
<ellipse cx="766.6" cy="337.6" rx="1.5" ry="1.6" transform="rotate(0 766.6 337.6)" fill="none" stroke="#2a2a2a" stroke-width="1.6"/>
<ellipse cx="790.1" cy="340.5" rx="1.5" ry="1.6" transform="rotate(0 790.1 340.5)" fill="none" stroke="#2a2a2a" stroke-width="1.6"/>
<ellipse cx="853.0" cy="346.4" rx="1.5" ry="1.6" transform="rotate(0 853.0 346.4)" fill="none" stroke="#2a2a2a" stroke-width="1.6"/>
<path d="M730.0 213.8 L738.8 210.9 L747.6 216.7 L756.4 213.8 L763.7 213.8" fill="none" stroke="#505050" stroke-width="1.28" stroke-linecap="butt" stroke-linejoin="round"/>
<path d="M743.2 218.2 L744.6 295.8" fill="none" stroke="#505050" stroke-width="1.35" stroke-linecap="butt" stroke-linejoin="round"/>
<path d="M752.0 229.9 L753.4 292.9" fill="none" stroke="#505050" stroke-width="1.28" stroke-linecap="butt" stroke-linejoin="round"/>
<path d="M759.3 240.2 L760.0 287.0" fill="none" stroke="#505050" stroke-width="1.28" stroke-linecap="butt" stroke-linejoin="round"/>
<path d="M744.6 227.0 L759.3 222.6 L768.1 234.3" fill="none" stroke="#505050" stroke-width="1.28" stroke-linecap="butt" stroke-linejoin="round"/>
<path d="M759.3 240.2 L771.0 235.8 L781.3 241.6 L781.3 281.2 L785.7 284.1" fill="none" stroke="#505050" stroke-width="1.28" stroke-linecap="butt" stroke-linejoin="round"/>
<path d="M782.7 243.1 L784.2 281.2" fill="none" stroke="#505050" stroke-width="1.28" stroke-linecap="butt" stroke-linejoin="round"/>
<path d="M730.0 275.3 L744.6 268.0 L759.3 273.8" fill="none" stroke="#505050" stroke-width="1.28" stroke-linecap="butt" stroke-linejoin="round"/>
<path d="M730.0 281.2 L743.2 284.1 L759.3 279.7" fill="none" stroke="#505050" stroke-width="1.28" stroke-linecap="butt" stroke-linejoin="round"/>
<path d="M732.9 292.9 L738.8 298.7 L747.6 295.8" fill="none" stroke="#505050" stroke-width="1.28" stroke-linecap="butt" stroke-linejoin="round"/>
<path d="M760.8 253.3 L771.0 253.3 L771.0 270.9 L762.2 273.8" fill="none" stroke="#505050" stroke-width="1.28" stroke-linecap="butt" stroke-linejoin="round"/>
<path d="M762.2 287.0 L773.9 292.9 L782.7 290.0 L788.6 292.9" fill="none" stroke="#505050" stroke-width="1.28" stroke-linecap="butt" stroke-linejoin="round"/>
<path d="M765.2 292.9 L765.2 301.7" fill="none" stroke="#505050" stroke-width="1.28" stroke-linecap="butt" stroke-linejoin="round"/>
<path d="M794.4 292.9 L817.9 281.2 L823.7 284.1 L800.3 297.3 Z" fill="none" stroke="#505050" stroke-width="1.28" stroke-linecap="butt" stroke-linejoin="round"/>
<path d="M800.3 297.3 L800.3 307.5 L812.0 313.4" fill="none" stroke="#505050" stroke-width="1.28" stroke-linecap="butt" stroke-linejoin="round"/>
<path d="M823.7 284.1 L829.6 287.0 L829.6 351.5" fill="none" stroke="#505050" stroke-width="1.28" stroke-linecap="butt" stroke-linejoin="round"/>
<path d="M832.5 287.0 L856.0 273.8" fill="none" stroke="#505050" stroke-width="1.28" stroke-linecap="butt" stroke-linejoin="round"/>
<path d="M835.5 313.4 L857.4 301.7" fill="none" stroke="#505050" stroke-width="1.28" stroke-linecap="butt" stroke-linejoin="round"/>
<path d="M842.8 317.8 L857.4 310.5" fill="none" stroke="#505050" stroke-width="1.28" stroke-linecap="butt" stroke-linejoin="round"/>
<path d="M836.9 311.9 L836.9 336.8" fill="none" stroke="#505050" stroke-width="1.28" stroke-linecap="butt" stroke-linejoin="round"/>
<path d="M844.3 317.8 L844.3 336.8" fill="none" stroke="#505050" stroke-width="1.28" stroke-linecap="butt" stroke-linejoin="round"/>
<path d="M832.5 304.6 L838.4 306.1 L839.9 313.4" fill="none" stroke="#505050" stroke-width="1.28" stroke-linecap="butt" stroke-linejoin="round"/>
<path d="M850.1 281.2 L851.6 298.7 L858.9 301.7 L860.4 287.0" fill="none" stroke="#505050" stroke-width="1.28" stroke-linecap="butt" stroke-linejoin="round"/>
<path d="M832.5 205.0 L835.5 213.8 L847.2 218.2 L856.0 213.8 L861.8 207.9" fill="none" stroke="#505050" stroke-width="1.28" stroke-linecap="butt" stroke-linejoin="round"/>
<path d="M835.5 221.1 L847.2 227.0 L861.8 219.6 L875.0 213.8" fill="none" stroke="#505050" stroke-width="1.28" stroke-linecap="butt" stroke-linejoin="round"/>
<path d="M838.4 229.9 L847.2 234.3 L856.0 229.9" fill="none" stroke="#505050" stroke-width="1.28" stroke-linecap="butt" stroke-linejoin="round"/>
<path d="M850.1 235.8 L861.8 243.1 L875.0 240.2" fill="none" stroke="#505050" stroke-width="1.28" stroke-linecap="butt" stroke-linejoin="round"/>
<path d="M856.0 246.0 L867.7 253.3 L875.0 251.9" fill="none" stroke="#505050" stroke-width="1.28" stroke-linecap="butt" stroke-linejoin="round"/>
<path d="M817.9 228.4 L826.7 234.3 L832.5 231.4" fill="none" stroke="#505050" stroke-width="1.28" stroke-linecap="butt" stroke-linejoin="round"/>
<ellipse cx="823.7" cy="242.4" rx="3.2" ry="2.3" transform="rotate(20 823.7 242.4)" fill="none" stroke="#333" stroke-width="1.6"/>
<ellipse cx="839.1" cy="226.2" rx="3.2" ry="2.1" transform="rotate(-20 839.1 226.2)" fill="none" stroke="#333" stroke-width="1.6"/>
<ellipse cx="848.6" cy="224.0" rx="2.9" ry="2.9" transform="rotate(0 848.6 224.0)" fill="none" stroke="#333" stroke-width="1.4"/>
<path d="M857.4 307.5 L861.8 316.3 L858.9 325.1 L861.8 332.4" fill="none" stroke="#505050" stroke-width="1.28" stroke-linecap="butt" stroke-linejoin="round"/>
<path d="M850.1 319.3 L856.0 326.6 L854.5 333.9" fill="none" stroke="#505050" stroke-width="1.28" stroke-linecap="butt" stroke-linejoin="round"/>
<path d="M817.9 292.9 L823.7 298.7 L823.7 316.3" fill="none" stroke="#505050" stroke-width="1.28" stroke-linecap="butt" stroke-linejoin="round"/>
<path d="M730.0 219.6 L735.9 225.5 L735.9 234.3" fill="none" stroke="#505050" stroke-width="1.28" stroke-linecap="butt" stroke-linejoin="round"/>
<path d="M747.6 234.3 L750.5 243.1 L747.6 251.9 L750.5 260.7 L747.6 269.4" fill="none" stroke="#505050" stroke-width="1.89" stroke-linecap="butt" stroke-linejoin="round"/>
<path d="M763.7 253.3 L766.6 260.7 L763.7 266.5 L768.1 272.4" fill="none" stroke="#505050" stroke-width="2.16" stroke-linecap="butt" stroke-linejoin="round"/>
<path d="M794.4 248.9 L797.4 263.6 L803.2 260.7 L800.3 247.5" fill="none" stroke="#505050" stroke-width="1.28" stroke-linecap="butt" stroke-linejoin="round"/>
<path d="M778.3 246.0 L779.8 266.5" fill="none" stroke="#505050" stroke-width="1.28" stroke-linecap="butt" stroke-linejoin="round"/>
<path d="M773.9 213.8 L791.5 210.9 L800.3 218.2" fill="none" stroke="#505050" stroke-width="1.28" stroke-linecap="butt" stroke-linejoin="round"/>
<ellipse cx="730.4" cy="224.0" rx="2.1" ry="2.1" transform="rotate(133 730.4 224.0)" fill="none" stroke="#2a2a2a" stroke-width="1.8"/>
<ellipse cx="713.8" cy="216.6" rx="2.3" ry="1.9" transform="rotate(162 713.8 216.6)" fill="none" stroke="#2a2a2a" stroke-width="1.1"/>
<ellipse cx="726.1" cy="210.7" rx="1.8" ry="1.4" transform="rotate(2 726.1 210.7)" fill="none" stroke="#2a2a2a" stroke-width="1.2"/>
<ellipse cx="720.8" cy="228.7" rx="2.1" ry="1.2" transform="rotate(143 720.8 228.7)" fill="none" stroke="#2a2a2a" stroke-width="1.1"/>
<ellipse cx="730.3" cy="207.4" rx="1.0" ry="0.9" transform="rotate(38 730.3 207.4)" fill="none" stroke="#2a2a2a" stroke-width="1.2"/>
<ellipse cx="740.5" cy="227.6" rx="1.4" ry="1.4" transform="rotate(97 740.5 227.6)" fill="none" stroke="#2a2a2a" stroke-width="1.6"/>
<ellipse cx="718.7" cy="229.4" rx="2.0" ry="1.9" transform="rotate(161 718.7 229.4)" fill="none" stroke="#2a2a2a" stroke-width="1.3"/>
<ellipse cx="723.1" cy="208.5" rx="1.2" ry="0.6" transform="rotate(54 723.1 208.5)" fill="none" stroke="#2a2a2a" stroke-width="1.5"/>
<ellipse cx="713.1" cy="222.3" rx="1.5" ry="1.0" transform="rotate(147 713.1 222.3)" fill="none" stroke="#2a2a2a" stroke-width="1.4"/>
<ellipse cx="721.8" cy="217.0" rx="2.0" ry="1.0" transform="rotate(176 721.8 217.0)" fill="none" stroke="#2a2a2a" stroke-width="1.0"/>
<ellipse cx="734.0" cy="226.8" rx="1.0" ry="0.9" transform="rotate(66 734.0 226.8)" fill="none" stroke="#2a2a2a" stroke-width="1.5"/>
<ellipse cx="713.3" cy="205.3" rx="1.3" ry="1.2" transform="rotate(35 713.3 205.3)" fill="none" stroke="#2a2a2a" stroke-width="1.7"/>
<ellipse cx="739.0" cy="229.4" rx="1.5" ry="1.0" transform="rotate(94 739.0 229.4)" fill="none" stroke="#2a2a2a" stroke-width="1.7"/>
<ellipse cx="716.0" cy="224.2" rx="2.1" ry="2.0" transform="rotate(7 716.0 224.2)" fill="none" stroke="#2a2a2a" stroke-width="1.9"/>
<ellipse cx="715.6" cy="213.2" rx="1.9" ry="1.8" transform="rotate(61 715.6 213.2)" fill="none" stroke="#2a2a2a" stroke-width="1.8"/>
<ellipse cx="728.3" cy="212.4" rx="1.4" ry="0.8" transform="rotate(14 728.3 212.4)" fill="none" stroke="#2a2a2a" stroke-width="1.1"/>
<ellipse cx="732.3" cy="230.9" rx="1.2" ry="0.6" transform="rotate(178 732.3 230.9)" fill="none" stroke="#2a2a2a" stroke-width="1.5"/>
<ellipse cx="724.4" cy="210.4" rx="1.8" ry="1.7" transform="rotate(82 724.4 210.4)" fill="none" stroke="#2a2a2a" stroke-width="1.4"/>
<ellipse cx="714.6" cy="228.7" rx="1.0" ry="0.8" transform="rotate(151 714.6 228.7)" fill="none" stroke="#2a2a2a" stroke-width="1.1"/>
<ellipse cx="733.5" cy="229.6" rx="1.9" ry="1.7" transform="rotate(19 733.5 229.6)" fill="none" stroke="#2a2a2a" stroke-width="1.4"/>
<ellipse cx="717.2" cy="226.8" rx="1.4" ry="1.0" transform="rotate(180 717.2 226.8)" fill="none" stroke="#2a2a2a" stroke-width="1.8"/>
<ellipse cx="740.3" cy="216.2" rx="1.7" ry="1.5" transform="rotate(86 740.3 216.2)" fill="none" stroke="#2a2a2a" stroke-width="1.3"/>
<ellipse cx="724.3" cy="208.0" rx="1.5" ry="1.5" transform="rotate(173 724.3 208.0)" fill="none" stroke="#2a2a2a" stroke-width="1.6"/>
<ellipse cx="727.0" cy="213.1" rx="1.1" ry="0.7" transform="rotate(141 727.0 213.1)" fill="none" stroke="#2a2a2a" stroke-width="1.8"/>
<ellipse cx="723.1" cy="225.2" rx="2.1" ry="1.8" transform="rotate(120 723.1 225.2)" fill="none" stroke="#2a2a2a" stroke-width="1.7"/>
<ellipse cx="723.2" cy="223.0" rx="1.4" ry="1.0" transform="rotate(139 723.2 223.0)" fill="none" stroke="#2a2a2a" stroke-width="1.6"/>
<ellipse cx="721.2" cy="229.5" rx="1.9" ry="1.5" transform="rotate(2 721.2 229.5)" fill="none" stroke="#2a2a2a" stroke-width="1.5"/>
<ellipse cx="720.0" cy="222.1" rx="1.6" ry="1.5" transform="rotate(117 720.0 222.1)" fill="none" stroke="#2a2a2a" stroke-width="1.7"/>
<ellipse cx="722.7" cy="221.4" rx="2.0" ry="1.9" transform="rotate(63 722.7 221.4)" fill="none" stroke="#2a2a2a" stroke-width="1.8"/>
<ellipse cx="737.4" cy="222.6" rx="2.4" ry="2.3" transform="rotate(93 737.4 222.6)" fill="none" stroke="#2a2a2a" stroke-width="1.5"/>
<ellipse cx="717.7" cy="226.6" rx="2.3" ry="1.7" transform="rotate(124 717.7 226.6)" fill="none" stroke="#2a2a2a" stroke-width="1.6"/>
<ellipse cx="733.4" cy="208.6" rx="2.1" ry="1.7" transform="rotate(120 733.4 208.6)" fill="none" stroke="#2a2a2a" stroke-width="1.4"/>
<ellipse cx="730.5" cy="224.9" rx="1.9" ry="1.6" transform="rotate(5 730.5 224.9)" fill="none" stroke="#2a2a2a" stroke-width="1.1"/>
<ellipse cx="725.3" cy="221.6" rx="1.3" ry="1.1" transform="rotate(114 725.3 221.6)" fill="none" stroke="#2a2a2a" stroke-width="1.0"/>
<ellipse cx="747.8" cy="228.6" rx="0.9" ry="0.5" transform="rotate(57 747.8 228.6)" fill="none" stroke="#2a2a2a" stroke-width="1.2"/>
<ellipse cx="746.2" cy="221.4" rx="1.3" ry="0.9" transform="rotate(110 746.2 221.4)" fill="none" stroke="#2a2a2a" stroke-width="1.5"/>
<ellipse cx="746.4" cy="254.3" rx="0.9" ry="0.6" transform="rotate(50 746.4 254.3)" fill="none" stroke="#2a2a2a" stroke-width="1.4"/>
<ellipse cx="745.7" cy="251.6" rx="1.2" ry="0.6" transform="rotate(110 745.7 251.6)" fill="none" stroke="#2a2a2a" stroke-width="1.1"/>
<ellipse cx="748.3" cy="232.9" rx="1.4" ry="1.4" transform="rotate(147 748.3 232.9)" fill="none" stroke="#2a2a2a" stroke-width="1.4"/>
<ellipse cx="749.9" cy="244.4" rx="1.2" ry="0.7" transform="rotate(107 749.9 244.4)" fill="none" stroke="#2a2a2a" stroke-width="1.5"/>
<ellipse cx="750.7" cy="256.8" rx="1.4" ry="1.0" transform="rotate(161 750.7 256.8)" fill="none" stroke="#2a2a2a" stroke-width="1.0"/>
<ellipse cx="745.6" cy="241.5" rx="1.5" ry="0.8" transform="rotate(113 745.6 241.5)" fill="none" stroke="#2a2a2a" stroke-width="1.8"/>
<ellipse cx="747.3" cy="236.4" rx="1.1" ry="0.7" transform="rotate(175 747.3 236.4)" fill="none" stroke="#2a2a2a" stroke-width="1.3"/>
<ellipse cx="750.8" cy="254.7" rx="1.4" ry="0.9" transform="rotate(177 750.8 254.7)" fill="none" stroke="#2a2a2a" stroke-width="1.4"/>
<ellipse cx="747.5" cy="232.1" rx="1.8" ry="1.3" transform="rotate(52 747.5 232.1)" fill="none" stroke="#2a2a2a" stroke-width="1.4"/>
<ellipse cx="745.7" cy="243.6" rx="1.3" ry="0.8" transform="rotate(141 745.7 243.6)" fill="none" stroke="#2a2a2a" stroke-width="1.7"/>
<ellipse cx="745.1" cy="240.2" rx="1.1" ry="1.1" transform="rotate(141 745.1 240.2)" fill="none" stroke="#2a2a2a" stroke-width="1.2"/>
<ellipse cx="746.6" cy="225.9" rx="1.8" ry="1.2" transform="rotate(109 746.6 225.9)" fill="none" stroke="#2a2a2a" stroke-width="1.4"/>
<ellipse cx="748.9" cy="242.9" rx="1.6" ry="0.9" transform="rotate(137 748.9 242.9)" fill="none" stroke="#2a2a2a" stroke-width="1.3"/>
<ellipse cx="748.2" cy="232.8" rx="1.2" ry="0.9" transform="rotate(84 748.2 232.8)" fill="none" stroke="#2a2a2a" stroke-width="1.3"/>
<ellipse cx="769.2" cy="264.2" rx="0.9" ry="0.6" transform="rotate(82 769.2 264.2)" fill="none" stroke="#2a2a2a" stroke-width="1.8"/>
<ellipse cx="770.8" cy="263.1" rx="0.9" ry="0.8" transform="rotate(77 770.8 263.1)" fill="none" stroke="#2a2a2a" stroke-width="1.5"/>
<ellipse cx="768.8" cy="265.2" rx="1.4" ry="1.4" transform="rotate(69 768.8 265.2)" fill="none" stroke="#2a2a2a" stroke-width="1.4"/>
<ellipse cx="770.4" cy="254.7" rx="1.2" ry="1.1" transform="rotate(12 770.4 254.7)" fill="none" stroke="#2a2a2a" stroke-width="1.8"/>
<ellipse cx="768.6" cy="260.4" rx="1.2" ry="1.1" transform="rotate(164 768.6 260.4)" fill="none" stroke="#2a2a2a" stroke-width="1.1"/>
<ellipse cx="766.3" cy="263.2" rx="1.4" ry="1.0" transform="rotate(28 766.3 263.2)" fill="none" stroke="#2a2a2a" stroke-width="1.5"/>
<ellipse cx="769.9" cy="251.6" rx="1.2" ry="1.0" transform="rotate(143 769.9 251.6)" fill="none" stroke="#2a2a2a" stroke-width="1.6"/>
<ellipse cx="761.3" cy="267.3" rx="2.0" ry="2.0" transform="rotate(126 761.3 267.3)" fill="none" stroke="#2a2a2a" stroke-width="1.0"/>
<ellipse cx="770.3" cy="255.3" rx="1.6" ry="1.6" transform="rotate(128 770.3 255.3)" fill="none" stroke="#2a2a2a" stroke-width="1.1"/>
<ellipse cx="764.2" cy="272.0" rx="1.1" ry="0.9" transform="rotate(75 764.2 272.0)" fill="none" stroke="#2a2a2a" stroke-width="1.1"/>
<ellipse cx="767.8" cy="251.0" rx="1.0" ry="0.7" transform="rotate(13 767.8 251.0)" fill="none" stroke="#2a2a2a" stroke-width="1.1"/>
<ellipse cx="767.3" cy="267.8" rx="1.9" ry="1.1" transform="rotate(78 767.3 267.8)" fill="none" stroke="#2a2a2a" stroke-width="1.3"/>
<ellipse cx="736.8" cy="255.9" rx="2.3" ry="1.6" transform="rotate(10 736.8 255.9)" fill="none" stroke="#2a2a2a" stroke-width="1.6"/>
<ellipse cx="731.0" cy="257.6" rx="1.7" ry="1.6" transform="rotate(100 731.0 257.6)" fill="none" stroke="#2a2a2a" stroke-width="1.6"/>
<ellipse cx="732.4" cy="256.6" rx="1.4" ry="1.2" transform="rotate(93 732.4 256.6)" fill="none" stroke="#2a2a2a" stroke-width="1.1"/>
<ellipse cx="732.0" cy="254.5" rx="2.0" ry="1.2" transform="rotate(128 732.0 254.5)" fill="none" stroke="#2a2a2a" stroke-width="1.6"/>
<ellipse cx="730.1" cy="258.0" rx="1.1" ry="0.6" transform="rotate(107 730.1 258.0)" fill="none" stroke="#2a2a2a" stroke-width="1.2"/>
<ellipse cx="740.4" cy="255.8" rx="1.5" ry="1.3" transform="rotate(5 740.4 255.8)" fill="none" stroke="#2a2a2a" stroke-width="1.7"/>
<ellipse cx="729.7" cy="251.8" rx="2.3" ry="2.0" transform="rotate(40 729.7 251.8)" fill="none" stroke="#2a2a2a" stroke-width="1.1"/>
<ellipse cx="741.6" cy="258.0" rx="2.1" ry="1.2" transform="rotate(112 741.6 258.0)" fill="none" stroke="#2a2a2a" stroke-width="1.3"/>
<path d="M707.5 249 L728 237 L735 249.5 L714 261.5 Z" fill="#fff" stroke="#4c4c4c" stroke-width="1.35" stroke-linejoin="round" />
<ellipse cx="733.5" cy="242.5" rx="6" ry="9" transform="rotate(-28 733.5 242.5)" fill="#777" stroke="#333" stroke-width="1.6"/>
<ellipse cx="729" cy="244.5" rx="5" ry="8" transform="rotate(-28 729 244.5)" fill="#fff" stroke="#444" stroke-width="1.2"/>
<ellipse cx="714" cy="253" rx="3.6" ry="5.6" transform="rotate(-28 714 253)" fill="#fff" stroke="#444" stroke-width="1.2"/>
<ellipse cx="707" cy="256.5" rx="2.6" ry="4.2" transform="rotate(-28 707 256.5)" fill="#fff" stroke="#444" stroke-width="1.1"/>
<path d="M700 257.5 L713 250 M702.5 263 L716 255.5" fill="none" stroke="#4c4c4c" stroke-width="1.35" stroke-linejoin="round" />
<ellipse cx="847.5" cy="273.3" rx="1.7" ry="1.1" transform="rotate(69 847.5 273.3)" fill="none" stroke="#3a3a3a" stroke-width="1.1"/>
<ellipse cx="866.6" cy="304.8" rx="1.9" ry="1.4" transform="rotate(153 866.6 304.8)" fill="none" stroke="#3a3a3a" stroke-width="1.5"/>
<ellipse cx="859.0" cy="297.3" rx="1.8" ry="1.3" transform="rotate(17 859.0 297.3)" fill="none" stroke="#3a3a3a" stroke-width="1.0"/>
<ellipse cx="846.5" cy="243.9" rx="2.0" ry="1.5" transform="rotate(137 846.5 243.9)" fill="none" stroke="#3a3a3a" stroke-width="1.0"/>
<ellipse cx="855.0" cy="329.0" rx="1.7" ry="1.2" transform="rotate(84 855.0 329.0)" fill="none" stroke="#3a3a3a" stroke-width="1.1"/>
<ellipse cx="844.9" cy="255.9" rx="1.3" ry="0.9" transform="rotate(158 844.9 255.9)" fill="none" stroke="#3a3a3a" stroke-width="1.1"/>
<ellipse cx="848.1" cy="267.7" rx="1.0" ry="0.7" transform="rotate(42 848.1 267.7)" fill="none" stroke="#3a3a3a" stroke-width="1.4"/>
<ellipse cx="841.0" cy="332.5" rx="1.3" ry="1.3" transform="rotate(124 841.0 332.5)" fill="none" stroke="#3a3a3a" stroke-width="1.6"/>
<ellipse cx="855.1" cy="334.5" rx="1.0" ry="0.8" transform="rotate(52 855.1 334.5)" fill="none" stroke="#3a3a3a" stroke-width="1.6"/>
<ellipse cx="863.3" cy="256.3" rx="1.1" ry="0.6" transform="rotate(41 863.3 256.3)" fill="none" stroke="#3a3a3a" stroke-width="1.1"/>
<ellipse cx="852.8" cy="337.4" rx="1.3" ry="0.9" transform="rotate(84 852.8 337.4)" fill="none" stroke="#3a3a3a" stroke-width="1.3"/>
<ellipse cx="863.4" cy="311.8" rx="1.0" ry="0.6" transform="rotate(121 863.4 311.8)" fill="none" stroke="#3a3a3a" stroke-width="1.8"/>
<ellipse cx="860.7" cy="283.1" rx="2.2" ry="1.1" transform="rotate(11 860.7 283.1)" fill="none" stroke="#3a3a3a" stroke-width="1.7"/>
<ellipse cx="853.1" cy="244.5" rx="1.6" ry="1.6" transform="rotate(93 853.1 244.5)" fill="none" stroke="#3a3a3a" stroke-width="1.3"/>
<ellipse cx="843.0" cy="247.1" rx="2.1" ry="1.5" transform="rotate(168 843.0 247.1)" fill="none" stroke="#3a3a3a" stroke-width="1.0"/>
<ellipse cx="847.8" cy="245.0" rx="1.4" ry="0.7" transform="rotate(46 847.8 245.0)" fill="none" stroke="#3a3a3a" stroke-width="1.4"/>
<ellipse cx="849.8" cy="245.1" rx="0.9" ry="0.8" transform="rotate(32 849.8 245.1)" fill="none" stroke="#3a3a3a" stroke-width="1.5"/>
<ellipse cx="852.9" cy="293.1" rx="0.9" ry="0.6" transform="rotate(19 852.9 293.1)" fill="none" stroke="#3a3a3a" stroke-width="1.5"/>
<ellipse cx="869.5" cy="299.8" rx="2.0" ry="1.2" transform="rotate(3 869.5 299.8)" fill="none" stroke="#3a3a3a" stroke-width="1.5"/>
<ellipse cx="855.6" cy="297.1" rx="1.3" ry="1.1" transform="rotate(131 855.6 297.1)" fill="none" stroke="#3a3a3a" stroke-width="1.8"/>
<ellipse cx="849.8" cy="284.9" rx="2.0" ry="1.2" transform="rotate(21 849.8 284.9)" fill="none" stroke="#3a3a3a" stroke-width="1.3"/>
<ellipse cx="842.8" cy="317.2" rx="1.9" ry="1.3" transform="rotate(23 842.8 317.2)" fill="none" stroke="#3a3a3a" stroke-width="1.1"/>
<ellipse cx="847.8" cy="248.4" rx="1.4" ry="1.1" transform="rotate(44 847.8 248.4)" fill="none" stroke="#3a3a3a" stroke-width="1.1"/>
<ellipse cx="862.4" cy="244.8" rx="1.1" ry="0.7" transform="rotate(67 862.4 244.8)" fill="none" stroke="#3a3a3a" stroke-width="1.1"/>
<ellipse cx="853.5" cy="271.4" rx="1.9" ry="1.4" transform="rotate(161 853.5 271.4)" fill="none" stroke="#3a3a3a" stroke-width="1.6"/>
<ellipse cx="864.3" cy="297.5" rx="1.4" ry="1.3" transform="rotate(118 864.3 297.5)" fill="none" stroke="#3a3a3a" stroke-width="1.9"/>
<ellipse cx="863.3" cy="310.1" rx="1.2" ry="1.1" transform="rotate(69 863.3 310.1)" fill="none" stroke="#3a3a3a" stroke-width="1.1"/>
<ellipse cx="842.1" cy="256.9" rx="1.2" ry="1.0" transform="rotate(51 842.1 256.9)" fill="none" stroke="#3a3a3a" stroke-width="1.1"/>
<ellipse cx="864.4" cy="295.7" rx="0.8" ry="0.4" transform="rotate(23 864.4 295.7)" fill="none" stroke="#3a3a3a" stroke-width="1.3"/>
<ellipse cx="867.5" cy="334.9" rx="1.7" ry="1.0" transform="rotate(77 867.5 334.9)" fill="none" stroke="#3a3a3a" stroke-width="1.3"/>
<ellipse cx="850.6" cy="241.2" rx="1.6" ry="1.5" transform="rotate(131 850.6 241.2)" fill="none" stroke="#3a3a3a" stroke-width="1.1"/>
<ellipse cx="857.0" cy="257.1" rx="1.8" ry="1.3" transform="rotate(169 857.0 257.1)" fill="none" stroke="#3a3a3a" stroke-width="1.7"/>
<ellipse cx="843.8" cy="271.7" rx="2.1" ry="1.5" transform="rotate(78 843.8 271.7)" fill="none" stroke="#3a3a3a" stroke-width="1.4"/>
<ellipse cx="864.6" cy="333.6" rx="1.5" ry="1.5" transform="rotate(107 864.6 333.6)" fill="none" stroke="#3a3a3a" stroke-width="1.1"/>
<ellipse cx="866.1" cy="281.9" rx="0.9" ry="0.9" transform="rotate(6 866.1 281.9)" fill="none" stroke="#3a3a3a" stroke-width="1.5"/>
<ellipse cx="855.4" cy="328.2" rx="1.3" ry="0.8" transform="rotate(50 855.4 328.2)" fill="none" stroke="#3a3a3a" stroke-width="1.2"/>
<ellipse cx="858.0" cy="275.7" rx="1.9" ry="1.1" transform="rotate(63 858.0 275.7)" fill="none" stroke="#3a3a3a" stroke-width="1.2"/>
<ellipse cx="871.4" cy="324.0" rx="2.0" ry="1.6" transform="rotate(72 871.4 324.0)" fill="none" stroke="#3a3a3a" stroke-width="1.1"/>
<ellipse cx="866.6" cy="289.0" rx="0.9" ry="0.5" transform="rotate(18 866.6 289.0)" fill="none" stroke="#3a3a3a" stroke-width="1.6"/>
<ellipse cx="868.8" cy="259.9" rx="1.9" ry="1.3" transform="rotate(123 868.8 259.9)" fill="none" stroke="#3a3a3a" stroke-width="1.8"/>
<ellipse cx="859.9" cy="320.0" rx="1.3" ry="0.7" transform="rotate(92 859.9 320.0)" fill="none" stroke="#3a3a3a" stroke-width="1.5"/>
<ellipse cx="845.9" cy="278.9" rx="1.2" ry="0.6" transform="rotate(56 845.9 278.9)" fill="none" stroke="#3a3a3a" stroke-width="1.3"/>
<ellipse cx="855.2" cy="310.3" rx="1.4" ry="1.3" transform="rotate(147 855.2 310.3)" fill="none" stroke="#3a3a3a" stroke-width="1.8"/>
<ellipse cx="862.2" cy="307.0" rx="1.6" ry="1.4" transform="rotate(65 862.2 307.0)" fill="none" stroke="#3a3a3a" stroke-width="1.5"/>
<ellipse cx="861.7" cy="292.2" rx="1.2" ry="0.6" transform="rotate(16 861.7 292.2)" fill="none" stroke="#3a3a3a" stroke-width="1.3"/>
<ellipse cx="858.6" cy="316.0" rx="1.8" ry="1.2" transform="rotate(167 858.6 316.0)" fill="none" stroke="#3a3a3a" stroke-width="1.2"/>
<ellipse cx="817.3" cy="202.5" rx="1.7" ry="1.4" transform="rotate(172 817.3 202.5)" fill="none" stroke="#444" stroke-width="1.8"/>
<ellipse cx="815.0" cy="229.3" rx="1.7" ry="1.4" transform="rotate(38 815.0 229.3)" fill="none" stroke="#444" stroke-width="1.5"/>
<ellipse cx="831.7" cy="208.4" rx="2.0" ry="1.5" transform="rotate(71 831.7 208.4)" fill="none" stroke="#444" stroke-width="1.0"/>
<ellipse cx="791.2" cy="206.2" rx="1.6" ry="1.5" transform="rotate(164 791.2 206.2)" fill="none" stroke="#444" stroke-width="1.6"/>
<ellipse cx="790.9" cy="203.8" rx="1.6" ry="1.3" transform="rotate(129 790.9 203.8)" fill="none" stroke="#444" stroke-width="1.3"/>
<ellipse cx="830.9" cy="207.4" rx="1.2" ry="0.7" transform="rotate(112 830.9 207.4)" fill="none" stroke="#444" stroke-width="1.8"/>
<ellipse cx="773.4" cy="222.1" rx="1.7" ry="1.1" transform="rotate(11 773.4 222.1)" fill="none" stroke="#444" stroke-width="1.5"/>
<ellipse cx="826.4" cy="230.8" rx="1.7" ry="1.2" transform="rotate(77 826.4 230.8)" fill="none" stroke="#444" stroke-width="1.5"/>
<ellipse cx="832.4" cy="210.6" rx="1.1" ry="0.9" transform="rotate(174 832.4 210.6)" fill="none" stroke="#444" stroke-width="1.2"/>
<ellipse cx="762.4" cy="204.0" rx="1.5" ry="1.2" transform="rotate(33 762.4 204.0)" fill="none" stroke="#444" stroke-width="1.2"/>
<ellipse cx="807.6" cy="222.6" rx="1.6" ry="1.4" transform="rotate(11 807.6 222.6)" fill="none" stroke="#444" stroke-width="1.4"/>
<ellipse cx="826.8" cy="233.5" rx="1.2" ry="1.1" transform="rotate(116 826.8 233.5)" fill="none" stroke="#444" stroke-width="1.8"/>
<ellipse cx="778.3" cy="224.4" rx="1.8" ry="1.3" transform="rotate(18 778.3 224.4)" fill="none" stroke="#444" stroke-width="1.2"/>
<ellipse cx="772.5" cy="203.2" rx="1.0" ry="0.8" transform="rotate(19 772.5 203.2)" fill="none" stroke="#444" stroke-width="1.7"/>
<ellipse cx="818.9" cy="228.6" rx="1.8" ry="1.5" transform="rotate(166 818.9 228.6)" fill="none" stroke="#444" stroke-width="1.9"/>
<ellipse cx="810.0" cy="233.8" rx="0.9" ry="0.5" transform="rotate(12 810.0 233.8)" fill="none" stroke="#444" stroke-width="1.2"/>
<ellipse cx="790.0" cy="216.1" rx="1.6" ry="1.4" transform="rotate(15 790.0 216.1)" fill="none" stroke="#444" stroke-width="1.4"/>
<ellipse cx="803.5" cy="213.1" rx="0.9" ry="0.8" transform="rotate(67 803.5 213.1)" fill="none" stroke="#444" stroke-width="1.6"/>
<ellipse cx="799.6" cy="233.7" rx="1.9" ry="1.0" transform="rotate(137 799.6 233.7)" fill="none" stroke="#444" stroke-width="1.6"/>
<ellipse cx="783.7" cy="204.1" rx="1.4" ry="0.9" transform="rotate(133 783.7 204.1)" fill="none" stroke="#444" stroke-width="1.8"/>
<ellipse cx="612.8" cy="148.2" rx="1.6" ry="1.4" transform="rotate(142 612.8 148.2)" fill="none" stroke="#444" stroke-width="1.5"/>
<ellipse cx="609.0" cy="152.0" rx="2.0" ry="1.5" transform="rotate(9 609.0 152.0)" fill="none" stroke="#444" stroke-width="1.4"/>
<ellipse cx="606.5" cy="178.3" rx="1.1" ry="0.7" transform="rotate(17 606.5 178.3)" fill="none" stroke="#444" stroke-width="1.4"/>
<ellipse cx="639.3" cy="168.3" rx="1.5" ry="1.4" transform="rotate(17 639.3 168.3)" fill="none" stroke="#444" stroke-width="1.3"/>
<ellipse cx="631.7" cy="125.4" rx="1.9" ry="1.3" transform="rotate(3 631.7 125.4)" fill="none" stroke="#444" stroke-width="1.2"/>
<ellipse cx="616.2" cy="155.6" rx="1.6" ry="0.9" transform="rotate(39 616.2 155.6)" fill="none" stroke="#444" stroke-width="1.9"/>
<ellipse cx="615.5" cy="162.8" rx="1.1" ry="0.7" transform="rotate(172 615.5 162.8)" fill="none" stroke="#444" stroke-width="1.6"/>
<ellipse cx="618.3" cy="129.2" rx="1.5" ry="1.3" transform="rotate(78 618.3 129.2)" fill="none" stroke="#444" stroke-width="1.5"/>
<ellipse cx="635.7" cy="176.6" rx="1.8" ry="0.9" transform="rotate(4 635.7 176.6)" fill="none" stroke="#444" stroke-width="1.7"/>
<ellipse cx="614.2" cy="194.9" rx="2.0" ry="1.9" transform="rotate(68 614.2 194.9)" fill="none" stroke="#444" stroke-width="1.9"/>
<path d="M807.3 317.0 Q808.5 316.1 811.7 316.7 M604.1 179.1 L607.4 183.3 M646.1 184.7 Q646.0 187.5 648.8 184.8 M845.7 221.5 Q848.0 220.7 850.6 218.9 M702.7 160.9 Q705.6 163.2 702.8 164.6 M760.6 257.2 Q766.6 254.3 766.6 254.2 M749.6 299.3 L750.0 302.3 M629.1 133.9 Q627.5 140.2 629.3 141.3 M766.4 237.0 L767.6 238.7 M775.4 303.3 Q779.6 302.0 778.4 303.1 M779.4 204.4 L781.1 206.8 M769.3 248.1 L772.7 250.6 L770.3 251.6 M716.3 223.1 L722.9 227.0 L726.9 224.8 M829.7 146.0 L829.9 154.9 L834.6 157.5 M832.1 228.6 L832.3 233.8 M667.5 178.8 Q673.1 176.8 671.7 176.0 M708.7 194.1 Q708.7 192.0 714.2 189.8 M755.9 205.0 L757.6 208.3 L755.4 208.3 M771.0 261.5 Q772.0 265.4 771.6 267.4 M853.3 142.7 L853.9 148.6 L851.0 150.7 M603.3 201.4 L605.7 201.4 M756.7 248.5 Q760.9 246.4 764.7 244.6 M658.6 140.3 L659.8 142.0 M699.2 228.5 L705.3 224.7 M719.4 258.2 L719.3 261.3 L720.9 262.2 M843.4 345.0 L847.4 343.0 L849.6 344.5 M642.6 175.1 Q643.6 176.1 649.3 170.7 M846.2 259.1 L849.9 257.5 M671.2 212.1 L673.2 216.4 M711.3 250.7 Q711.7 249.0 714.4 250.9 M786.3 282.0 L785.9 284.9 M842.0 123.9 Q845.8 120.4 847.2 120.5 M610.4 127.2 L610.5 136.5 L605.7 133.7 M719.7 271.9 Q726.2 268.6 726.7 268.1 M676.4 185.5 Q679.5 184.6 679.9 183.4 M834.7 302.7 L837.4 302.4 M689.9 241.5 Q696.2 241.0 699.0 237.4 M723.1 141.5 Q724.0 136.7 729.2 136.7 M851.0 209.6 L857.9 204.2 M813.6 149.6 Q811.6 149.5 813.8 155.9 M873.9 156.4 Q871.8 161.4 873.9 159.6 M681.9 132.8 L690.3 128.8 M854.0 162.4 Q853.7 162.5 857.9 159.6 M755.6 142.8 L756.2 146.8 M854.7 153.5 L854.7 159.7 M816.9 146.4 L820.8 144.3 M656.6 187.6 L657.1 191.9 L654.7 190.9 M777.3 255.4 L777.3 260.1 M778.8 151.3 Q780.0 150.1 785.4 148.3 M771.9 274.1 Q770.3 272.2 775.1 273.6 M782.1 268.2 Q783.2 269.5 783.0 275.1 M784.8 108.5 Q787.6 109.5 788.8 108.7 M816.7 307.9 Q817.4 303.0 823.6 304.4 M740.6 278.1 L745.7 282.1 L742.1 283.6 M655.0 186.8 L657.5 186.5 M859.6 163.3 Q860.2 167.7 860.4 170.2 M656.4 155.2 Q657.5 157.5 661.9 152.8 M850.4 321.7 L850.1 325.1 L848.4 323.9 M621.9 210.9 L627.6 206.7 M737.1 173.4 Q735.6 171.9 739.0 177.0 M628.1 177.9 L630.2 181.5 M849.5 136.0 Q853.8 135.7 852.5 134.2 M858.1 252.0 Q861.0 251.1 866.0 247.5 M812.6 184.7 Q817.0 189.5 815.1 189.1 M850.2 256.7 L850.5 265.2 M852.6 159.8 L856.7 159.4 M714.7 117.6 Q715.3 113.8 719.6 114.9 M681.7 155.6 Q684.0 157.7 686.4 153.3 M809.6 109.5 L816.9 105.1 M787.8 156.0 L796.1 152.3 M651.4 175.0 L651.1 178.5 M801.8 154.1 Q802.9 158.6 802.5 159.1 M624.1 164.9 Q628.1 161.0 629.8 160.5 M816.2 242.0 L816.0 246.5 M761.6 129.0 Q766.2 127.9 768.4 124.1 M716.8 228.0 Q720.7 231.7 722.6 230.6 M837.4 242.3 Q837.8 242.8 840.2 240.6 M836.0 313.4 Q836.4 316.3 839.1 313.6 M710.1 84.8 Q715.6 80.0 716.4 80.2 M843.0 256.6 Q846.9 257.6 845.7 261.1 M597.4 188.2 Q598.7 185.0 600.1 187.8 M751.8 255.2 L751.6 257.5 M833.3 215.6 Q834.2 215.8 840.5 212.4 M794.2 196.5 L793.3 203.4 M760.8 240.8 Q757.0 245.7 760.0 247.1 M746.6 250.8 Q746.4 248.5 748.6 250.8 M785.7 211.5 L784.9 221.3 M814.0 128.9 Q820.4 132.2 821.5 132.5 M715.0 70.9 L718.1 68.8 M654.0 183.9 Q657.2 184.2 655.8 183.7 M798.7 271.0 L802.7 268.0 M736.1 138.1 L736.3 147.5 M639.3 174.1 L641.3 178.0 M842.7 146.5 L844.1 148.8 L843.3 150.1 M774.9 156.1 Q772.6 158.8 775.8 157.7 M666.9 241.7 L670.5 244.1 L668.2 245.2 M721.3 130.4 L721.6 133.1 M680.2 204.3 L686.7 208.4 M794.6 207.2 Q797.3 208.2 796.4 211.5 M716.8 215.5 Q720.1 219.2 717.0 219.6 M804.7 295.1 Q811.6 291.0 813.5 291.4 M736.0 260.6 Q739.7 263.3 740.3 261.2 M610.2 138.9 L609.2 148.0 M798.6 267.6 Q804.4 263.6 806.8 263.9 M692.8 96.8 Q695.1 100.6 695.1 100.5 M708.6 82.7 L708.4 87.6 M751.6 229.3 Q755.2 226.9 755.8 229.8 M716.7 129.9 Q717.9 130.5 716.5 133.1 M666.8 147.4 L666.8 149.7 L665.6 150.4 M822.5 309.6 Q825.8 306.9 829.3 306.7 M729.2 237.9 Q730.7 241.0 730.8 240.4 M737.1 220.9 L739.0 225.3 M716.3 242.7 Q716.1 245.6 719.6 247.2 M836.8 156.6 L840.8 154.9 M742.6 251.3 L748.6 248.5 M603.3 196.4 L609.0 192.2 M647.4 134.5 L653.9 138.0 M798.0 176.3 L799.7 179.5 L801.8 179.5 M724.6 261.8 Q727.5 263.2 727.7 263.7 M673.0 175.5 Q676.4 178.0 677.0 173.8 M648.9 166.3 L657.6 161.8 L662.6 165.0 M604.1 166.4 Q609.3 163.3 607.7 164.9 M679.1 126.6 L683.4 124.5 M762.3 334.3 Q767.9 334.5 769.6 337.6 M744.1 262.2 Q746.7 265.1 743.9 265.1 M748.5 211.2 Q753.2 211.0 752.4 213.5 M688.4 205.4 L691.2 209.9 M830.5 289.7 L838.6 285.9 M819.9 156.5 L822.4 160.2 M720.3 230.0 Q726.9 234.6 729.1 234.0 M831.9 250.8 Q831.5 248.4 833.2 252.6 M862.9 192.6 L867.8 190.5 M616.9 203.9 L620.3 208.4 M645.0 159.8 Q648.4 162.2 650.3 163.4 M772.9 298.2 Q774.0 298.2 780.8 293.1 M805.8 301.3 L806.8 303.3 M750.4 158.5 L758.8 154.9 L763.2 158.1 M781.0 255.4 L786.7 252.3 M817.7 188.9 Q820.6 195.4 817.9 198.5 M833.0 175.3 L834.4 177.8 M636.2 124.5 L640.6 121.9 M855.9 245.7 L864.3 240.8 L864.3 246.6 M757.9 234.4 L757.0 242.4 M693.1 98.9 L693.9 100.7 M780.2 197.9 L780.8 203.4 M794.8 168.9 L794.4 172.3 L792.6 173.1 M719.8 131.7 Q722.8 131.6 724.2 132.1 M718.2 215.7 L717.9 222.9 M754.7 189.4 Q761.4 185.5 763.0 185.0 M760.6 261.1 Q766.2 260.0 767.9 257.9 M797.5 102.3 L799.3 104.6 M866.7 275.6 L870.9 273.3 M813.9 309.1 L817.4 309.2 M806.1 96.5 L807.6 99.6 M763.4 304.1 Q767.0 305.8 763.8 308.5 M755.3 123.4 L757.5 126.6 M731.0 198.4 L730.2 204.5 L727.3 202.2 M706.3 234.1 L706.0 238.0 M785.3 136.3 Q784.1 137.0 788.6 136.0 M825.1 132.8 Q821.8 131.0 825.4 135.4 M777.1 148.2 Q776.7 148.1 781.0 145.5 M643.8 223.6 L649.1 225.9 M845.3 297.0 L850.2 296.8 M730.4 131.0 L738.3 126.3 M780.8 144.4 Q780.6 144.7 782.8 144.2 M828.0 264.9 Q828.2 266.8 832.5 267.6 M850.1 289.7 Q849.8 293.6 850.5 292.5 M819.2 173.3 Q816.6 176.6 819.3 176.4 M868.3 305.2 Q867.8 307.5 869.6 307.0 M843.1 271.9 L843.9 273.9 M775.1 285.4 Q772.2 291.1 774.7 293.0 M733.2 217.2 Q734.1 216.3 732.9 221.1 M838.0 275.8 L842.8 275.3 M837.9 287.9 Q840.0 285.3 843.4 283.7 M791.0 244.4 L795.6 247.9 M766.8 189.4 Q768.2 186.2 775.1 184.4 M819.3 257.5 Q819.6 260.5 819.5 261.5 M775.9 148.7 L778.5 154.1 M768.7 304.0 Q771.1 308.2 769.1 308.3 M651.6 209.4 L651.3 212.6 M836.2 279.6 Q836.2 281.4 838.8 281.1 M773.0 203.2 L778.9 200.8 L778.4 204.6 M788.9 189.6 L790.0 191.8 M670.1 187.8 Q674.5 185.0 675.1 185.4 M792.0 126.9 Q794.8 126.0 791.8 129.6 M769.8 136.1 L772.8 134.5 M839.6 152.7 L841.5 155.9 L843.7 155.9 M851.9 205.9 L853.8 209.1 L856.1 209.0 M869.3 152.4 Q867.5 155.4 871.7 156.6 M632.8 199.7 L636.6 197.6 M685.7 193.2 Q690.1 190.5 688.7 193.5 M834.1 151.6 L836.1 155.7 M778.2 263.6 L782.5 260.5 M788.3 317.0 L793.6 314.6 M852.6 184.0 L854.2 183.9 M815.7 296.1 L823.2 299.8 M739.0 208.9 L741.4 214.0 M693.2 260.2 Q691.5 259.4 696.5 260.5 M825.0 216.7 Q827.4 221.0 824.5 222.3 M866.2 305.3 L873.5 309.8 M843.1 263.8 L847.3 260.7 L847.7 263.8 M688.3 154.6 L693.2 154.9 L694.8 152.4 M713.7 275.4 L716.0 278.8 M819.6 231.0 Q820.9 231.0 819.4 234.3 M807.4 220.7 L807.1 226.0 M744.4 227.9 L752.5 224.6 M786.2 256.4 Q784.0 255.4 788.0 259.2 M848.4 163.3 L848.4 167.1 M792.2 286.7 L793.9 289.2 M868.2 311.5 Q867.6 312.1 870.1 315.5 M690.1 230.0 L690.9 237.9 L687.0 240.7 M825.0 202.6 L826.7 202.7 L826.1 203.6 M739.2 155.1 L745.4 150.2 L744.8 145.5 M740.2 179.2 L740.2 185.3 M606.6 205.7 Q605.3 205.4 608.0 207.6 M740.9 219.4 Q739.7 218.7 741.1 224.1 M734.2 199.9 L733.9 203.6 M722.4 263.0 L729.3 268.0 L728.9 273.0 M784.4 102.1 Q787.1 104.3 786.5 107.3 M706.2 109.5 Q712.3 108.8 712.2 106.8 M830.6 295.4 Q828.9 298.7 830.4 297.7 M787.6 267.2 Q791.8 269.6 790.2 265.4 M837.8 207.7 Q838.8 206.7 844.6 210.6 M663.1 230.2 Q662.9 227.1 666.3 230.4 M793.0 168.5 Q798.9 169.3 801.9 164.4 M829.4 178.9 L829.7 184.9 M723.7 210.8 L726.4 214.6 M714.8 106.1 L717.8 104.5 M724.0 156.8 L731.9 162.0 M628.1 122.4 Q630.4 125.0 627.6 131.6 M673.9 174.3 L673.9 183.1 M745.3 243.8 L753.6 238.7 M761.8 136.3 L762.1 141.7 L765.0 143.2 M703.9 169.2 L707.3 169.6 M835.4 320.0 Q836.7 322.2 836.4 321.5 M697.4 227.9 Q702.4 228.9 704.0 224.4 M796.0 224.0 Q796.6 223.5 802.8 221.2 M763.7 225.3 Q765.0 224.7 764.0 227.9 M774.6 245.3 L774.5 247.5 M831.0 253.5 L837.8 248.5 M748.7 266.5 L751.3 268.4 M779.5 287.2 Q779.5 286.5 783.6 289.5 M744.8 253.6 Q745.7 251.0 748.1 253.8 M796.6 154.6 L800.3 156.6 L802.4 155.3 M793.1 127.8 L794.4 130.8 M718.1 201.3 L719.5 203.6 L721.2 203.6 M702.7 98.7 L702.8 102.2 M858.1 312.3 L858.5 317.2 M626.3 164.2 L630.5 161.1 M636.9 207.1 Q634.3 210.1 638.1 217.0 M866.6 140.5 Q872.6 135.9 873.1 136.1 M747.9 131.1 Q748.4 129.6 751.5 131.3 M786.0 101.1 Q786.5 101.5 793.2 96.6 M831.3 204.6 L837.1 200.3 M844.0 296.7 Q846.7 301.3 849.1 299.0 M776.7 331.4 L777.0 336.3 M658.4 189.0 L659.2 194.7 M713.4 178.0 Q713.9 175.9 719.6 174.1 M732.2 277.3 Q732.1 282.2 731.8 281.4 M850.0 302.2 L850.7 303.9 M648.6 133.1 L650.1 133.0 M863.6 257.4 L864.8 267.1 M850.1 167.9 L854.0 168.3 M647.6 159.0 L655.4 154.7 M825.1 115.2 Q826.7 115.7 827.2 114.9 M753.0 266.2 L761.5 261.2 L761.6 267.1 M808.7 278.5 Q814.2 276.9 814.1 281.0 M656.4 108.1 L661.2 104.9 L664.3 106.4 M761.4 296.2 L763.3 299.4 M839.5 125.1 Q835.8 130.4 839.1 129.0 M730.4 232.5 Q733.7 234.4 738.2 237.2 M837.7 315.1 Q841.6 318.5 844.7 320.4 M734.5 194.1 L734.3 199.4 M738.8 208.4 L743.1 207.8 L744.1 205.4 M787.3 274.1 L787.2 281.1 M725.9 278.2 Q728.3 283.1 726.3 283.4 M762.5 139.7 Q765.2 134.4 768.8 135.4 M772.4 242.6 L776.0 245.1 M796.1 271.4 L804.4 266.7 M858.9 276.8 Q861.7 281.0 858.7 280.3 M696.0 81.0 L703.8 84.6 M830.2 207.2 L832.1 206.9 M688.8 95.2 Q692.8 94.3 697.1 89.9 M702.5 125.1 L702.8 131.8 L706.3 133.7 M701.3 235.2 Q701.9 235.2 704.9 237.8 M816.7 99.8 L816.5 105.6 M758.0 151.9 L764.2 147.6 M763.8 324.6 L763.2 329.1 L761.0 327.4 M836.8 286.4 Q840.2 291.2 837.3 291.0 M782.5 270.7 L782.0 280.1 M867.0 152.6 L873.2 149.6 L876.7 151.9 M830.1 309.9 L838.8 314.5 M737.7 249.8 Q737.5 247.6 739.4 252.1 M849.3 296.7 Q850.9 299.4 850.2 305.4 M705.0 139.6 Q708.3 139.5 705.1 144.8 M618.4 181.6 L625.4 177.7 M873.6 243.8 L873.4 247.9 M792.7 249.5 L794.4 252.2 M635.9 168.6 L638.8 172.5 M853.0 322.0 Q858.1 320.0 858.4 318.4 M856.4 317.2 L864.6 313.7 L868.9 316.9 M787.8 260.4 L790.4 265.3 M744.4 245.0 L750.5 242.1 M748.5 280.9 Q747.6 284.1 750.7 285.7 M868.4 322.8 L870.1 323.0 M642.7 176.9 L649.0 179.9 M859.3 260.1 L865.6 257.0 M665.6 189.8 Q669.9 189.8 669.3 191.5 M684.9 153.5 L687.7 153.9 L688.7 152.5 M746.9 219.5 L746.6 225.4 M802.8 203.3 L806.6 202.9 M690.4 121.4 L690.7 125.7 M689.9 178.2 L693.4 177.7 M655.8 163.8 Q661.3 158.6 662.2 159.2 M694.0 173.4 Q691.8 177.9 696.3 177.3 M751.1 254.5 L756.6 257.8 M791.1 123.3 L792.4 125.6 M848.6 318.2 Q855.4 319.1 855.8 322.8 M838.3 293.7 L841.8 296.2 M739.3 227.8 L739.0 230.8 M777.8 137.6 Q781.1 136.6 782.3 137.0 M764.3 323.4 L764.4 328.0 L762.0 329.4 M784.5 196.7 Q785.9 200.5 785.1 201.9 M856.5 276.0 Q859.4 278.2 858.9 279.7 M837.0 141.3 L844.8 144.8 M831.5 114.5 Q837.4 115.0 838.9 118.7 M668.0 120.1 Q666.5 118.2 669.5 120.0 M839.7 304.9 Q843.6 309.7 840.8 307.7 M724.2 249.7 L724.1 252.1 L725.3 252.8 M804.7 95.2 Q806.1 100.3 804.9 101.0 M799.3 242.7 Q803.0 242.3 803.3 243.3 M790.9 274.8 L791.5 283.7 M630.0 151.2 L632.9 149.9 M808.3 256.7 L810.5 257.0 M806.2 284.2 L807.7 287.0 M789.7 294.6 Q788.2 293.3 792.2 298.5 M652.3 191.3 Q652.5 191.4 658.8 187.7 M852.9 294.5 L856.0 292.2 M799.5 91.4 Q801.8 93.7 798.8 96.7 M817.4 256.5 Q815.3 258.9 817.4 260.4 M851.3 298.6 Q851.0 300.5 854.1 297.4 M728.3 225.5 L732.6 228.8 M874.8 290.3 L874.8 295.6 M721.6 211.3 L726.1 211.5 M599.7 165.7 Q599.2 167.6 603.5 167.8 M773.7 321.1 L778.0 321.6 M833.6 267.1 L833.3 271.6 M771.7 271.3 Q769.6 277.8 771.9 277.4 M838.9 306.9 L841.5 312.1 M786.6 96.7 Q791.6 92.7 793.7 91.4 M832.4 144.4 Q838.7 143.5 840.1 139.7 M850.4 133.0 L857.8 129.3 M702.6 87.3 L707.3 86.7 L706.2 89.4 M797.7 132.7 Q804.3 127.9 805.7 126.8 M704.4 168.9 L707.4 168.5 M772.0 242.6 L774.9 246.8 M741.8 228.4 L747.2 232.2 M851.5 298.4 L855.6 295.6 M652.8 134.8 Q651.6 135.3 653.3 140.0 M797.9 243.6 L805.8 239.1 M801.7 200.5 Q799.9 199.5 803.8 204.2 M634.4 187.5 L634.7 190.8 M856.1 294.8 L858.4 299.2 M639.5 204.5 Q643.0 204.6 639.6 208.2 M839.2 172.3 L844.1 169.5 M730.4 259.7 L730.9 265.3 L728.2 267.2 M807.5 108.2 Q810.0 112.1 808.8 117.8 M641.8 207.9 L644.8 213.1 M642.6 117.9 L643.0 121.3 M739.9 117.3 L741.5 117.5 M764.0 228.2 L766.5 228.1 L767.4 229.4 M788.2 241.4 L792.4 243.9 L795.0 242.5 M792.9 185.9 L795.5 190.2 M704.0 191.9 L710.1 195.5 M811.3 196.6 Q817.1 197.7 818.2 193.3 M845.7 167.0 Q843.9 170.8 846.3 173.2 M631.6 183.6 Q636.7 182.7 636.0 180.4 M626.1 206.6 Q627.6 201.4 634.3 203.0 M663.8 230.8 L667.6 232.9 M608.0 177.1 Q611.1 180.2 608.0 180.2 M615.0 181.9 Q617.3 183.2 616.6 185.0 M777.1 196.1 L778.0 202.5 M732.1 255.1 L735.1 253.6 M609.8 132.0 L610.3 136.1 M798.9 159.3 Q800.3 155.4 806.6 155.0 M818.8 308.2 L818.4 312.4 M732.0 255.0 L734.9 255.2 M774.6 289.9 Q778.5 286.2 783.1 286.1 M684.7 235.3 Q688.6 231.6 691.4 230.6 M829.3 281.3 Q831.7 281.1 830.8 285.1 M835.6 196.1 L836.4 198.2 M801.7 126.3 Q808.9 130.9 809.7 131.6 M825.5 239.5 Q827.8 236.1 830.9 235.3 M793.1 300.7 Q794.0 301.7 795.0 300.8 M713.2 168.7 L719.1 164.4 M740.5 290.3 Q740.6 286.8 745.1 286.7 M782.7 274.8 L782.4 279.8 M725.8 202.4 Q724.9 208.0 726.2 207.1 M663.9 221.6 Q664.6 227.9 664.9 230.5 M706.7 204.1 L711.0 206.8 M762.8 276.4 Q766.8 279.4 767.8 279.7 M733.2 203.6 L734.3 205.3 M825.0 138.8 L829.9 141.5 M624.1 113.6 Q629.0 109.6 628.9 110.4 M849.5 334.0 L858.0 329.5 M730.6 225.5 Q731.4 228.0 730.9 229.6 M635.6 132.9 L635.6 135.3 M821.7 222.4 L825.3 219.9 L827.7 221.0 M836.7 167.2 L840.9 164.1 M859.1 317.2 L865.0 314.4 M764.0 207.6 L764.3 210.8 M767.9 207.0 Q767.6 206.9 772.9 210.0 M721.4 221.1 L724.4 219.4 M869.2 228.4 L874.0 225.7 L874.0 229.0 M788.9 223.9 Q789.1 230.3 789.5 230.0 M754.3 186.1 L754.4 194.5 L750.0 197.0 M669.1 209.8 Q669.8 214.9 669.3 218.9 M710.2 220.5 Q709.8 221.3 714.2 218.1 M806.0 171.1 L809.3 173.1 M834.0 305.6 L840.8 301.6 L844.8 303.9 M777.4 256.8 L777.3 261.2 M697.5 159.1 L704.1 163.4 L703.8 168.1 M784.5 272.6 L792.0 276.6 M736.4 255.9 L742.6 253.2 L745.8 255.6 M787.2 214.4 L793.1 217.5 M788.3 192.5 Q790.2 193.9 792.7 190.5 M848.6 213.2 Q849.5 218.6 848.4 220.3 M792.4 202.7 L791.8 207.1 L789.7 205.5 M741.5 223.6 Q740.8 228.2 746.4 226.9 M867.9 302.2 Q867.9 302.4 871.1 300.8 M765.5 216.5 L770.4 217.1 M853.2 207.5 L854.9 207.7 M740.6 236.0 Q744.0 240.9 746.2 240.0 M816.3 160.5 L817.6 162.5 M849.9 308.5 Q852.6 305.3 855.1 306.0 M831.7 330.2 Q834.3 331.0 831.8 335.5 M772.1 218.0 L774.7 219.7 M646.0 130.5 Q643.4 130.1 646.4 136.5 M780.7 163.8 Q786.1 168.7 788.5 168.0 M737.1 140.8 L739.5 145.8 M831.5 193.3 L832.1 199.6 M864.4 303.1 Q867.7 301.5 868.7 301.3 M753.3 194.3 L754.4 196.4 M781.9 314.1 L782.0 317.4 L780.3 318.5 M797.1 150.7 L802.0 153.3 L804.8 151.5 M772.4 196.6 L775.7 194.2 M645.0 210.4 Q647.9 207.3 648.7 207.7 M780.2 118.5 Q783.5 119.5 785.0 119.1 M771.4 298.2 L779.5 294.2 M686.0 190.3 Q684.2 194.3 686.2 193.8 M759.7 241.9 L767.8 247.1 M638.2 123.3 L638.1 128.7 L640.8 130.4 M804.1 239.1 L807.8 236.4 M756.1 329.6 L756.3 333.3 M828.7 220.2 Q831.3 219.6 833.4 223.5 M729.6 215.8 Q726.9 218.9 729.1 224.3 M772.4 239.3 L777.1 242.4 M849.9 260.7 L854.0 258.7 L856.3 260.2 M731.0 212.9 L736.3 210.7 L736.8 207.2 M856.1 290.6 Q860.3 289.6 858.6 294.1 M768.5 144.6 L773.0 142.3 L773.1 139.3 M864.4 194.7 Q870.0 199.6 873.1 199.5 M755.8 275.8 Q756.4 274.5 759.2 276.2 M812.7 98.4 Q813.1 104.7 812.6 108.3 M721.5 254.7 L721.0 263.9 M723.5 146.3 Q721.2 151.0 723.7 150.5 M866.4 181.2 Q865.6 183.3 868.1 184.8 M630.4 156.8 L632.8 156.8 M748.3 162.1 Q748.4 164.8 755.4 166.3 M769.6 229.6 Q773.4 230.6 774.3 226.7 M728.4 244.8 L733.8 241.0 L734.1 245.0 M719.0 245.0 Q717.3 247.2 719.9 253.4 M738.2 142.8 L738.0 145.9 M685.3 218.6 Q689.2 218.9 687.8 222.9 M687.1 187.8 L687.2 194.9 M790.0 224.4 Q791.3 226.0 798.7 227.9 M852.2 231.5 Q852.3 233.0 858.8 227.5 M825.5 330.4 L832.2 327.2 L831.8 331.6 M624.6 114.4 L632.0 108.9 M616.6 171.9 L618.7 176.4 M757.8 260.3 L765.0 255.4 M804.4 237.3 Q804.5 238.5 808.1 239.4 M747.6 296.1 Q750.9 295.0 751.0 295.8 M720.3 238.2 Q721.7 243.3 726.6 242.2 M832.8 322.5 Q831.5 322.8 834.5 322.4 M669.6 185.7 L670.8 188.4 L669.1 188.2 M711.8 246.1 Q711.4 247.2 713.8 250.5 M853.7 299.9 Q853.7 300.3 859.5 297.5 M616.9 190.8 Q620.3 191.2 624.8 195.6 M771.3 114.8 L771.0 120.2 M832.0 236.1 L835.9 238.1 M743.7 126.1 L744.8 127.8 M652.3 221.5 Q652.4 219.8 656.0 222.0 M840.0 232.0 L844.6 232.6 M706.2 207.0 L710.3 205.1 L710.5 202.4 M835.3 245.0 L838.2 250.2 L836.4 253.3 M845.4 120.3 Q849.1 124.0 849.2 122.5 M709.7 273.4 Q711.3 275.0 714.4 271.3 M604.0 123.2 Q607.6 123.5 611.6 118.3 M756.0 204.6 L760.7 205.2 M736.3 233.2 Q734.0 233.3 736.6 237.6 M710.7 229.8 L713.3 233.9 M724.2 258.9 L731.2 254.4 M799.7 229.0 Q800.1 228.6 805.4 225.1 M724.4 124.0 Q725.4 126.0 725.3 133.3 M870.4 302.3 Q868.3 301.5 873.2 306.0 M674.5 170.7 L677.2 170.4 L677.8 168.9 M701.0 200.4 L701.5 205.3 M798.6 250.8 Q796.6 253.6 801.2 251.1 M851.3 158.4 L857.7 153.4 M625.8 183.2 Q628.2 178.4 631.5 180.4 M782.6 243.4 L782.8 248.1 M760.4 297.8 Q764.5 302.3 764.4 300.4 M866.1 261.3 L867.4 263.6 M810.5 259.5 L813.1 259.4 M874.9 246.3 L874.4 251.5 M847.3 181.0 L854.5 177.6 L854.1 182.3 M704.2 262.9 L709.1 263.4 M864.9 156.9 L868.8 159.9 M751.4 290.8 L751.4 298.0 M775.6 286.5 L775.7 292.4 L772.6 294.3 M782.5 163.1 Q778.7 166.5 781.6 171.4 M865.8 158.0 L865.7 164.6 M796.8 114.6 Q799.2 116.0 800.0 119.3 M845.5 267.9 L848.1 272.9 M773.7 267.5 L781.7 262.3 M733.8 284.9 L738.1 282.3 M667.9 217.8 L668.1 220.3 M720.1 230.0 L723.6 229.6 L724.4 227.7 M762.3 292.7 L762.7 295.8 M755.2 266.6 L756.2 268.2 M744.9 243.1 L748.9 240.0 M802.6 151.6 L803.2 156.1 L805.7 157.2 M851.8 122.7 L854.8 127.8 M842.8 293.9 L850.1 297.6 M722.2 266.8 L725.6 266.8 M598.1 144.6 L598.1 150.7 M814.2 215.4 L813.6 222.3 M694.6 229.3 Q697.3 229.8 695.2 233.7 M733.5 123.4 Q730.9 128.6 734.1 130.9 M774.9 256.8 Q780.7 260.4 780.6 260.4 M723.2 241.6 Q720.0 241.0 723.5 244.8 M703.8 256.5 L704.1 260.5 M760.8 223.4 Q758.7 223.9 762.8 226.1 M862.0 313.7 L867.6 310.0 M714.5 189.3 L719.0 187.4 M809.2 175.5 L812.0 179.4 M710.1 240.9 L718.9 236.8 M828.1 285.3 Q826.8 287.1 831.1 286.8 M749.5 302.1 L754.4 305.1 L751.3 306.7 M772.7 198.5 L775.3 198.4 M829.3 277.8 Q832.1 281.8 829.4 281.0 M737.7 239.7 L738.6 241.3 M827.6 199.8 L830.6 198.6 M600.7 116.4 Q601.4 119.1 603.7 116.0 M729.6 209.0 L733.1 206.3 M612.2 156.5 L616.2 153.7 L616.0 150.7 M694.7 199.3 L700.6 196.5 M724.2 221.8 L724.2 225.5 L722.2 224.4 M779.3 214.8 L781.0 214.9 L780.4 215.8 M780.9 203.2 Q779.4 206.9 784.8 205.2 M794.8 275.7 L794.9 281.9 M775.1 188.0 L777.4 188.3 M785.3 131.2 Q791.0 131.3 792.3 127.4 M674.7 221.0 L677.5 220.9 M640.7 189.1 Q644.8 187.4 642.9 192.6 M770.3 294.1 L775.0 293.5 L773.9 296.1 M606.7 147.5 Q604.7 148.9 605.6 155.6 M802.8 212.5 L802.2 217.6 M674.7 102.8 L674.2 110.5 M812.8 319.2 L817.6 317.1 M818.5 210.4 Q816.1 210.1 818.5 216.1 M830.9 283.3 L837.6 280.1 M711.2 225.9 Q710.2 227.0 711.2 229.9 M805.5 94.5 Q809.3 91.5 812.7 90.3 M781.9 115.4 Q781.1 112.4 785.9 115.3 M643.2 172.1 L651.2 177.5 M712.1 232.2 Q715.3 230.8 715.2 234.4 M681.3 106.4 Q687.8 109.4 688.7 111.7 M779.4 233.3 L784.2 232.9 M731.7 286.4 L736.3 286.8 M667.7 172.8 L668.1 178.6 L665.2 180.6 M835.0 166.1 L842.9 169.4 L847.0 166.2 M628.6 200.7 Q630.4 204.4 627.9 205.8 M814.2 166.4 Q817.6 169.4 814.1 168.9 M695.6 185.7 L703.7 189.2 M675.6 225.2 L675.9 230.1 M714.6 205.3 Q718.2 207.6 718.9 207.1 M846.9 154.7 Q847.4 154.1 851.5 152.3 M826.6 226.4 L826.9 236.2 M637.1 147.0 L637.4 152.5 M647.4 172.1 Q648.8 175.8 649.5 177.1 M802.7 291.6 L809.8 287.5 M861.0 267.1 Q858.3 269.9 861.4 270.9 M778.8 273.1 Q780.8 277.6 779.7 282.9 M639.5 204.3 Q639.0 210.0 640.1 213.9 M863.9 175.5 Q866.7 176.9 865.5 175.4 M783.1 337.7 L783.8 343.6 M776.0 262.6 L780.4 264.7 M752.8 255.5 Q751.2 259.6 752.6 261.1 M740.8 236.0 L743.9 236.3 M784.7 266.8 Q787.6 267.3 786.7 269.4 M662.2 126.0 Q664.0 127.2 662.6 129.6 M845.3 306.9 L847.5 310.4 L846.4 312.6 M698.1 239.5 Q699.3 239.9 706.8 235.4 M803.4 207.4 L808.8 209.7 M860.7 294.9 Q863.8 299.4 860.5 298.9 M634.6 158.1 L634.2 161.7 M783.0 191.7 L784.6 195.6 M677.1 171.5 Q680.0 171.8 685.4 166.4 M805.0 106.1 Q806.5 101.0 812.8 102.7 M688.1 209.0 L695.3 203.9 M776.7 335.4 L784.8 340.1 M729.8 169.2 Q727.8 168.3 729.7 172.9 M737.9 213.1 Q739.3 214.1 743.2 209.2 M775.6 259.5 Q774.7 264.7 776.4 267.2 M725.5 181.1 Q729.2 183.1 732.4 178.1 M845.8 256.8 Q847.5 257.5 853.7 253.2 M755.5 265.0 Q759.4 264.2 756.5 267.0 M818.8 302.0 L823.4 299.7 M800.7 156.7 L800.6 161.8 M643.2 132.3 L648.4 135.9 L644.9 137.5 M714.7 137.2 Q712.7 140.1 714.2 142.6 M605.4 176.6 Q605.3 179.1 607.4 180.5 M850.2 212.3 L853.4 210.4 M781.6 231.6 L786.5 228.9 L786.5 225.6 M852.7 203.6 Q857.9 206.4 858.3 206.4 M602.7 151.6 Q608.2 150.9 607.4 154.8 M729.8 179.8 Q729.2 181.6 729.5 182.6 M750.5 295.4 L751.5 297.6 M765.7 164.4 L765.1 171.4 M630.5 207.5 Q631.8 210.7 635.1 207.7 M667.7 242.9 Q669.7 246.0 673.5 246.6 M773.0 113.1 L773.5 117.6 M632.0 139.6 L634.1 142.7 M828.1 143.5 L834.6 139.0 M811.2 237.1 L815.1 235.0 M846.5 333.9 L848.3 336.5 M833.3 130.3 Q835.2 125.7 838.8 128.1 M762.7 248.1 Q768.2 247.4 769.9 252.9 M753.4 314.7 L758.9 312.2 M689.4 193.5 Q687.9 198.3 689.2 198.7 M735.1 232.7 Q738.9 227.5 741.2 228.9 M725.4 230.8 Q726.4 229.8 729.2 228.9 M819.5 109.2 L826.7 104.8 M782.2 302.2 Q784.9 301.3 785.5 300.4 M870.5 271.3 L871.0 275.4 M865.8 129.4 L865.8 133.8 M850.1 163.8 Q851.9 169.2 849.7 169.4 M734.9 212.3 L741.7 216.1 M621.3 166.0 L628.3 161.7 M701.8 223.8 Q699.0 225.6 701.9 226.9 M797.7 264.5 Q800.6 261.6 799.7 264.8 M686.6 255.5 Q689.8 255.1 688.8 255.3 M855.6 184.2 L858.2 188.8 L856.6 191.5 M767.7 175.7 L771.5 173.4 M633.1 215.4 L634.4 217.8 M862.2 279.2 L863.1 281.0 M730.8 220.6 L734.5 220.5 M654.5 135.1 L662.2 139.7 M870.4 140.1 Q869.1 140.7 871.1 146.8 M674.7 172.0 Q673.9 174.9 674.2 177.4 M713.9 234.6 L720.6 230.1 L720.3 225.2 M657.3 125.2 L665.5 120.0 M821.1 205.6 L821.2 212.0 M697.7 115.5 L704.4 112.6 L703.9 116.9 M677.9 118.8 L682.4 115.4 L682.0 112.1 M611.7 156.5 L615.2 156.8 M816.0 321.1 L817.4 324.5 M840.6 311.6 L844.5 309.9 M834.1 313.3 L838.8 310.0 M627.8 153.6 Q626.8 157.0 627.9 157.6 M825.7 109.5 L828.4 114.0 M818.5 307.3 L818.1 310.4 M699.1 224.4 L704.9 220.2 L704.5 215.9 M846.8 236.6 Q849.9 238.2 852.8 233.7 M847.2 291.5 Q850.7 290.5 854.0 287.4 M734.8 164.9 Q740.4 164.6 740.2 162.5 M783.1 183.2 Q780.4 182.1 783.4 186.4 M799.1 228.6 L801.6 232.8 M788.4 155.7 L796.5 151.0 M817.3 96.6 L819.2 99.2 M771.2 158.0 L774.0 159.2 M855.4 289.8 Q857.9 292.1 859.3 290.2 M846.2 150.3 Q843.3 150.9 846.2 156.2 M869.7 152.2 L873.3 152.5 L872.1 154.3 M684.6 129.5 L686.3 129.5 M782.9 211.1 L786.2 208.8 L785.9 206.4 M777.2 114.4 Q775.0 111.9 779.0 114.1 M685.8 224.6 Q686.1 226.1 684.7 233.4 M789.1 182.0 L791.8 179.9 M624.0 184.5 L629.0 181.7 L629.0 185.2 M716.4 280.5 Q721.9 279.5 725.1 276.8 M835.9 171.9 Q836.6 166.7 843.0 167.7 M748.3 265.6 L757.2 269.7 M761.3 210.5 L761.2 215.4 M857.7 162.9 Q857.4 158.6 860.4 161.2 M650.7 195.9 L652.8 195.6 M850.8 278.8 Q855.5 278.0 855.8 275.7 M867.9 216.5 L873.6 214.2 M804.1 230.3 L806.3 233.4 M866.1 250.3 L866.9 256.5 M772.8 122.7 L775.0 125.6 M665.4 187.6 Q663.9 188.5 665.4 191.4 M647.1 147.6 L652.5 145.2 M722.2 213.0 Q725.0 216.5 725.7 213.3 M788.1 112.8 Q788.9 111.9 792.9 115.1 M739.9 172.6 L743.3 170.2 M789.1 133.5 L795.6 130.7 M826.7 206.4 Q830.1 207.3 827.7 208.2 M742.4 293.2 L750.4 298.8 L745.1 301.3 M851.9 305.2 L855.9 303.2 M614.6 193.8 L615.9 196.5 L614.1 196.3 M804.5 194.5 L805.3 201.4 L809.1 203.1 M716.5 200.6 L721.7 198.4 M749.2 303.7 Q752.6 306.2 749.2 306.1 M695.0 169.8 Q697.0 165.0 702.9 166.2 M860.2 292.2 L865.0 289.5 M863.4 207.2 L867.9 210.1 M836.4 167.9 L839.2 169.6 M850.8 265.6 Q853.7 263.3 856.4 261.6 M745.7 243.9 L748.9 242.3 M656.8 190.5 Q664.1 187.5 665.6 186.2 M792.5 152.6 L799.5 157.8 M707.5 85.2 Q705.8 85.7 708.2 92.2 M839.4 235.6 Q839.9 234.6 846.0 240.2 M621.4 137.7 L623.4 141.4 M782.4 201.3 L788.0 197.3 L788.4 201.5 M781.1 256.6 Q779.1 254.7 783.1 259.1 M864.1 166.0 L866.2 165.9 M776.7 262.0 L784.3 257.6 L784.2 252.3 M859.6 324.0 Q861.8 331.3 859.8 331.7 M844.9 256.5 L844.9 259.8 M856.8 192.3 L865.1 197.4 M856.8 317.1 Q859.2 316.5 862.3 313.3 M747.5 195.8 Q749.1 197.0 748.1 204.4 M713.9 150.6 Q719.8 150.9 720.8 154.4 M795.7 232.4 L795.9 235.1 L797.4 235.7 M603.0 139.5 Q604.1 142.8 607.0 141.5 M814.9 253.2 L815.6 259.0 M722.6 161.2 L723.0 169.1 M867.3 235.5 L870.3 237.7 M769.2 243.5 L775.5 247.7 M634.6 136.8 L636.3 136.8 M635.6 155.2 L643.4 160.1 M651.2 158.8 Q656.5 160.3 657.9 155.0 M849.5 334.5 L849.8 340.4 M777.5 221.9 L778.5 223.8 M827.0 321.2 Q824.5 323.0 827.8 330.3 M800.5 108.7 Q803.7 109.7 804.8 105.5 M704.0 248.8 L711.0 245.2 L711.2 240.5 M727.1 123.0 L730.5 122.9 M759.2 120.3 Q758.1 124.1 761.9 125.2 M773.6 198.0 L776.7 196.7 M791.4 179.8 L797.4 183.2 M751.0 132.2 Q757.6 135.9 758.0 136.9 M791.6 335.1 L791.4 341.4 M628.3 202.4 Q630.9 205.5 628.1 205.1 M783.6 333.7 Q782.5 332.0 783.8 337.0 M808.7 247.8 L812.4 249.4 L810.5 250.9 M634.7 221.4 L641.9 224.5 L645.6 221.7 M642.7 145.1 L642.2 149.0 M705.8 214.2 Q709.1 219.2 706.6 223.9 M718.6 230.3 L722.5 228.6 M813.1 166.3 L820.7 162.6 L824.9 165.5 M688.2 147.4 L688.2 153.1 L691.2 154.8 M755.4 168.8 Q755.0 171.6 759.7 169.3 M851.9 283.2 L856.3 281.0 M831.0 319.6 L838.9 315.3 M606.1 137.4 Q612.9 137.6 613.6 133.1 M738.8 115.2 Q741.0 120.4 740.0 123.9 M640.9 181.6 L645.3 178.2 L644.9 174.9 M781.3 158.9 L783.9 160.7 L782.2 161.5 M762.6 284.2 L762.5 289.2 M757.8 261.4 L758.8 263.7 M813.5 131.5 L817.6 132.0 M620.1 200.0 Q621.3 205.5 620.3 209.9 M765.3 251.5 L764.7 258.2 M707.8 260.2 Q709.9 261.7 710.2 260.1 M840.4 270.1 Q847.3 271.0 849.1 273.7 M780.9 262.6 L786.0 260.3 M637.5 124.0 L637.9 127.1 L636.4 128.2 M771.6 120.2 Q774.3 116.0 777.1 117.4 M843.9 125.0 Q846.4 126.7 845.2 127.1 M820.7 161.2 L823.4 163.3 M800.9 242.4 Q804.1 241.8 809.4 237.7 M831.9 277.7 Q833.1 284.9 831.9 287.6 M675.1 218.8 L680.7 215.5 L684.0 217.5 M639.1 153.1 L643.2 150.3 L643.5 153.3 M856.0 191.0 Q859.2 196.8 856.1 198.3 M832.9 285.4 L840.9 289.5 M787.8 203.3 Q786.5 200.1 791.6 203.0 M806.2 188.4 Q807.0 188.3 806.4 194.6 M848.1 334.9 L854.7 330.6 M779.1 220.8 L784.1 220.7 M822.9 214.2 Q828.3 215.3 830.9 218.0 M673.6 93.5 Q676.0 91.6 676.8 93.4 M753.4 215.9 L760.6 219.4 M859.8 217.6 Q865.3 217.1 865.2 215.4 M762.8 191.6 L769.6 186.5 L774.3 188.5 M701.4 113.8 L702.3 123.5 M870.0 260.5 L875.5 257.4 M705.9 117.9 Q705.6 117.2 708.2 117.8 M697.4 123.3 Q694.8 127.8 698.8 126.1 M817.7 194.0 L824.8 190.6 M609.0 184.5 Q610.5 186.6 612.7 181.9 M825.9 107.8 Q827.0 104.9 830.1 107.7 M740.3 239.6 Q740.0 243.6 745.3 243.1 M840.6 182.2 L843.5 180.5 L843.4 178.5 M714.0 109.4 Q715.5 105.6 716.5 107.5 M843.5 294.7 Q845.0 290.9 851.4 288.8 M733.6 178.6 L736.3 178.7 M772.4 267.1 L772.6 270.9 L774.6 272.0 M722.4 205.4 Q727.2 207.8 729.9 209.9 M740.1 195.3 Q738.3 198.5 740.1 198.2 M616.6 182.9 Q615.6 181.0 617.5 184.5 M702.3 217.4 Q707.4 221.4 708.0 220.0 M814.1 171.0 Q813.4 166.7 817.0 169.0 M770.0 296.5 Q770.6 294.6 775.4 299.6 M732.7 253.8 L734.4 253.6 L735.0 254.4 M816.0 178.4 Q819.7 177.8 820.6 179.0 M819.0 140.7 Q822.7 143.5 820.0 148.6 M785.9 280.0 L789.6 282.0 M702.8 167.1 Q701.0 171.3 702.3 171.9 M735.1 216.8 Q737.1 217.0 739.2 216.3 M786.6 279.3 Q789.0 282.1 787.1 284.2 M775.5 125.1 Q778.8 125.4 777.6 128.6 M683.7 144.3 Q680.1 144.0 683.5 147.8 M789.6 215.2 Q786.1 222.6 788.8 223.9 M792.7 218.4 L792.5 222.1 M693.9 234.4 L698.2 234.5 M672.8 148.4 Q672.4 149.0 673.2 152.0 M747.7 283.2 L747.8 286.4 M828.1 160.1 L835.5 156.0 M708.4 232.9 Q706.9 234.0 707.5 240.0 M663.8 166.3 Q666.3 165.7 667.9 166.6 M692.3 104.3 L694.9 105.9 L693.3 106.8 M734.3 210.2 L735.1 218.6 M796.7 180.2 L796.0 189.2 L800.5 192.2 M778.4 305.4 Q781.9 307.8 780.0 305.6 M832.1 123.4 L834.8 128.1 M690.0 191.1 L692.9 192.9 M759.5 259.1 L764.2 256.2 M829.4 296.6 Q831.2 295.4 830.6 298.8 M780.5 296.6 L784.1 294.0 M854.7 129.0 L861.0 125.3 M788.7 247.7 Q794.1 242.3 797.1 243.3 M683.0 121.4 Q681.4 121.7 684.6 124.2 M765.2 314.5 L769.2 314.6 M749.0 146.2 Q754.1 145.7 752.5 146.3 M734.7 231.2 Q737.5 228.6 737.2 231.3 M804.1 294.6 L807.3 295.1 M816.1 103.6 Q816.7 106.2 817.7 106.3 M675.5 183.8 Q675.8 187.7 675.6 192.8 M797.1 274.8 Q795.2 275.8 796.8 277.9 M849.5 222.1 L852.3 222.3 M828.6 122.8 L836.4 118.3 M742.5 289.8 Q744.1 290.9 749.4 294.3 M735.3 125.2 L744.1 121.2 M787.7 335.4 Q792.6 334.2 795.2 331.2 M820.8 246.2 L820.4 249.8 M658.4 230.2 L657.9 236.6 L654.7 234.4 M714.7 183.6 Q718.2 184.0 721.0 180.3 M824.8 292.0 L825.3 296.0 M824.7 293.3 L833.3 289.8 L832.6 295.3 M704.6 98.0 Q706.2 94.8 713.6 94.2 M709.1 204.8 L712.6 205.0 M832.8 265.0 Q830.4 266.2 834.3 267.0 M770.6 281.9 Q772.0 284.6 770.9 284.7 M810.3 317.9 L815.1 319.8 M820.5 287.2 L828.3 282.8 M762.1 147.0 L762.3 150.5 M760.7 207.0 Q762.6 201.3 767.8 201.6 M703.8 155.6 L706.3 161.0 M779.2 247.1 L779.5 251.9 M730.4 235.2 L735.4 231.7 L735.1 228.1 M864.2 297.3 L871.0 302.5 M812.1 120.0 Q810.5 117.4 813.3 121.8 M863.4 320.7 Q862.4 319.3 866.5 320.5 M762.8 265.6 Q765.5 264.0 768.1 262.3 M813.9 287.7 Q812.2 286.8 814.3 292.2 M762.1 281.4 Q761.5 280.5 766.9 277.8 M824.1 278.1 L824.8 285.0 M682.8 168.2 Q684.0 168.4 688.7 165.1 M706.1 237.8 Q702.7 239.0 706.3 242.3 M656.4 154.9 Q659.7 158.4 656.9 158.4 M871.3 290.2 L873.7 288.3 L874.0 290.2 M866.7 141.3 L873.1 136.8 L873.6 141.5 M807.9 275.8 L808.1 279.8 M731.5 264.3 L731.8 266.7 M818.5 135.7 L820.2 135.7 L820.7 134.8 M838.6 290.8 Q839.8 288.0 842.4 290.8 M855.0 263.5 L855.3 267.9 M845.4 247.2 L849.1 246.9 M817.1 277.0 L818.5 279.6 M649.7 127.4 Q651.0 132.4 650.0 132.9 M738.2 265.0 L742.7 265.4 M727.5 104.7 L726.9 109.0 M680.0 150.0 L688.8 145.8 L688.4 151.6 M821.1 251.9 L828.8 246.5 L828.3 240.8 M830.3 129.9 Q831.0 128.7 833.6 134.2 M762.0 246.5 L768.1 243.5 L768.5 239.4 M841.1 246.4 Q843.2 250.7 842.4 249.5 M635.8 219.4 L635.9 221.7 M804.5 215.8 L806.9 219.8 M719.7 235.7 L719.6 241.2 M780.8 253.6 Q779.8 254.4 784.1 251.7 M774.5 193.5 L777.5 192.2 M818.6 211.9 Q819.8 212.2 823.5 211.3 M847.3 265.6 Q848.8 264.7 851.9 262.8 M784.7 239.7 L791.4 234.5 M805.7 207.8 Q811.0 207.9 813.8 203.7 M714.5 74.5 L714.5 76.7 L713.3 76.1 M757.1 316.2 L756.4 321.1 M787.6 283.0 L787.8 286.0 M858.2 165.6 L865.4 161.1 M807.3 261.6 Q810.6 259.5 812.5 259.3 M802.2 297.9 L810.5 292.7 M734.2 218.4 L736.9 222.3 M850.6 332.4 Q856.7 335.2 859.1 337.7 M770.6 126.2 L773.4 131.4 L777.0 131.5 M635.0 113.8 L639.4 113.2 M832.7 143.3 L833.1 147.5 M757.9 234.4 L763.3 230.8 L763.6 234.6 M729.9 129.1 L731.4 128.9 M813.0 259.6 Q812.6 262.4 813.4 263.1 M803.0 242.7 L805.9 247.2 M852.0 304.0 Q854.7 305.2 851.4 308.8 M847.2 328.0 L847.7 337.6 M793.1 176.5 L793.0 182.2 M778.8 260.5 L779.2 263.4 L780.8 264.1 M839.0 195.2 L845.5 191.4 M649.4 169.1 L654.6 165.3 L654.1 161.4 M760.0 131.7 Q765.3 129.4 764.7 131.8 M769.5 306.3 Q776.0 307.1 775.5 302.1 M765.8 161.8 L772.0 164.4 L775.2 161.9 M868.5 131.6 L871.4 129.3 L873.5 130.2 M856.7 308.6 Q859.4 312.2 860.4 309.0 M754.9 226.0 L753.7 234.5 M645.7 190.2 Q649.1 189.9 654.2 185.5 M792.6 214.2 Q796.0 209.0 800.3 209.9 M821.0 286.8 Q824.5 287.6 824.1 287.2 M826.4 144.7 L826.7 150.0 M778.7 254.3 L786.0 257.7 M812.0 232.4 Q813.8 235.7 814.1 235.9 M783.8 249.7 L784.2 255.3 L781.4 257.2 M849.2 151.2 L851.4 151.4 L852.1 150.3 M700.1 151.0 L704.0 149.1 L703.9 151.7 M723.8 253.5 L731.6 248.9 L731.5 243.5 M738.1 251.3 L740.7 251.4 M771.2 217.0 L778.5 211.7 L779.0 217.1 M598.3 163.9 L602.2 162.2 M836.3 285.8 L835.7 292.1 L838.8 294.4 M651.0 230.6 L658.5 225.6 M757.6 188.1 L759.1 190.3 L758.4 191.7 M733.7 188.1 Q732.8 185.0 737.8 188.1 M857.9 156.0 L857.4 163.2 M752.7 224.1 Q757.2 225.3 755.8 228.2 M781.4 260.3 Q785.5 256.8 785.7 260.1 M764.6 255.4 L765.9 257.9 M740.3 186.5 L748.3 191.9 M810.4 204.5 Q810.9 204.7 812.0 204.4 M807.8 182.8 Q805.8 183.5 808.3 189.5 M684.7 232.5 L687.3 237.9 L690.9 238.2 M697.4 139.3 L700.8 141.5 M683.8 232.6 L687.9 232.5 M839.5 253.9 L840.8 255.8 M758.9 234.3 L767.6 230.0 M618.3 204.2 Q624.0 203.4 626.3 207.6 M782.5 269.0 Q784.9 270.2 782.6 275.3 M851.5 219.1 L851.4 224.3 M665.9 100.9 L667.6 103.4 M765.1 181.9 Q766.3 185.6 773.4 185.4 M726.3 216.3 L729.6 214.1 L729.5 211.7 M656.3 212.4 L658.5 216.7 M838.8 329.9 L839.3 333.9 M762.0 306.5 Q769.0 310.7 770.0 310.4 M673.3 222.5 L672.8 228.4 M798.1 172.5 L801.2 173.8 M678.9 181.9 Q683.7 181.8 681.7 180.7 M644.2 166.3 L653.0 162.6 L653.8 157.0 M746.5 249.5 L747.7 258.8 L743.2 262.2 M807.0 314.1 L811.8 317.7 L815.0 316.3 M867.7 326.6 Q868.7 326.2 867.6 332.2 M689.0 171.7 L695.7 167.2 M759.7 188.0 L760.0 192.2 L762.3 193.3 M756.8 314.7 Q755.9 318.5 757.2 319.7 M761.6 190.9 L762.4 192.7 L761.2 192.6 M866.8 272.0 L871.1 272.2 M836.9 181.2 L837.0 186.5 L834.3 188.1 M783.6 241.3 L788.3 241.2 M792.2 199.5 Q791.3 198.2 796.2 197.4 M737.2 248.7 L738.6 251.9 M646.5 145.3 L651.0 142.7 M660.8 205.6 Q659.8 207.5 663.4 207.2 M810.2 301.4 L809.8 306.5 L812.3 308.3 M614.7 204.2 L620.6 207.1 M715.1 141.8 L720.8 138.4 M675.8 222.3 L679.3 222.5 M683.6 192.8 L683.2 197.8 M688.6 177.7 L696.3 180.9 M613.0 135.9 L613.3 142.3 M754.1 213.3 Q757.0 211.9 759.1 210.9 M779.4 220.1 L781.5 224.9 M771.1 230.4 L773.4 230.4 M703.3 253.8 Q700.5 255.9 703.2 259.9 M858.5 127.2 Q862.6 127.6 862.2 124.3 M828.5 126.4 Q827.0 128.3 829.5 127.9 M869.5 255.5 L874.8 253.0 M762.9 288.7 L762.7 294.5 M659.7 105.6 Q661.9 109.6 664.5 108.7 M724.3 179.2 Q726.2 178.5 731.7 174.1 M711.1 237.9 L716.3 235.0 M826.8 337.1 Q825.9 337.4 828.7 337.3 M658.3 183.0 Q656.1 184.8 658.0 190.1 M839.4 263.1 L839.0 271.1 M671.8 116.5 Q677.6 115.2 678.7 120.2 M836.4 167.6 L836.1 174.1 L839.4 176.2 M721.8 230.3 L727.8 227.2 M763.1 209.1 L764.0 215.8 L760.8 218.2 M781.8 197.0 L788.1 192.4 M785.5 290.0 Q783.8 291.7 787.6 293.6 M723.3 255.0 Q724.0 258.7 723.2 259.4 M859.8 217.9 Q860.4 224.2 858.5 227.3 M815.9 220.6 L816.9 222.3 M713.8 137.7 L718.4 137.2 L717.3 139.7 M691.7 206.5 L691.1 211.0 L689.0 209.3 M751.0 229.3 L755.5 229.1 M860.7 218.0 L860.7 221.3 M767.8 118.7 L771.2 120.9 M842.5 299.2 L846.6 296.7 L846.7 299.6 M653.5 200.2 Q656.3 203.0 658.4 199.8 M736.3 238.9 Q742.1 236.6 743.1 235.6 M869.4 291.2 L869.0 298.3 M790.5 108.4 Q792.8 111.0 794.9 108.0 M852.7 271.4 L852.2 276.3 M752.7 153.7 Q755.2 148.1 759.5 149.0 M764.3 195.4 Q767.5 194.1 770.9 192.0 M763.3 125.6 Q768.3 124.4 767.6 127.7 M758.2 317.8 L757.5 324.3 M780.2 286.6 L782.9 290.9 L786.0 290.8 M799.1 108.8 L801.3 111.9 M799.6 301.2 L803.5 299.0 M833.9 181.9 L835.1 190.9 L830.1 188.8 M856.1 301.3 L861.0 297.8 L860.7 294.2 M672.8 165.7 L673.3 168.7 L674.9 169.3 M711.9 92.0 Q712.0 93.3 711.7 95.4 M857.0 188.0 Q859.6 186.4 861.0 190.6 M682.1 153.5 L681.7 158.5 L679.2 156.8 M803.4 202.9 Q810.0 196.9 811.6 197.3 M836.3 262.9 Q840.1 264.7 844.1 266.8 M819.4 97.7 Q820.7 99.0 822.2 99.4 M827.0 188.1 L832.8 184.0 M760.1 222.6 Q761.7 224.7 765.5 226.6 M726.6 114.4 Q731.0 112.0 729.8 112.8 M657.7 113.9 Q656.6 114.1 661.8 113.5 M640.3 194.0 L639.5 199.7 L636.8 197.6 M676.1 172.0 L678.5 176.7 M762.9 221.0 Q761.1 227.1 762.9 227.4 M854.7 273.3 L854.8 275.6 M777.3 113.8 L779.7 113.5 L780.5 114.6 M637.9 144.0 Q636.1 141.5 641.1 145.7 M697.1 214.1 Q697.7 214.6 697.1 217.7 M746.4 149.7 L746.4 152.1 M602.8 195.4 L608.9 192.7 M801.9 211.3 Q803.2 210.8 804.4 211.2 M717.2 254.2 Q723.1 252.8 724.2 248.8 M847.3 297.9 Q849.6 296.9 848.8 300.3 M775.5 161.5 L779.7 159.0 M736.4 239.2 Q738.6 235.8 743.6 235.9 M795.8 107.5 L800.6 107.0 M598.1 159.4 L601.8 161.7 L599.5 162.9 M864.0 290.8 L866.2 294.0 M788.8 272.7 L791.7 277.7 M675.7 174.1 Q675.3 174.7 676.4 181.0 M828.3 144.2 Q829.5 149.1 830.6 149.5 M722.7 262.3 L722.0 267.7 M807.5 165.3 Q809.0 165.5 814.4 161.4 M714.0 91.7 Q711.9 92.0 716.7 90.0 M777.9 205.4 L780.4 203.5 M765.1 237.1 L767.9 236.9 L767.1 238.4 M759.1 151.9 Q761.5 151.7 759.2 156.8 M842.0 209.9 L847.8 213.6 M702.1 163.7 Q705.6 164.1 702.4 166.5 M796.9 301.1 Q798.2 299.5 798.9 301.0 M740.3 239.9 Q742.4 240.3 742.8 241.8 M795.9 305.8 Q797.8 305.7 799.7 305.7 M803.8 222.5 L803.2 228.6 M855.9 309.4 L857.9 312.9 L856.7 315.0 M828.5 232.4 L829.5 239.9 M872.3 156.5 Q873.5 160.0 871.2 165.8 M774.4 133.7 Q775.3 132.8 779.0 133.1 M742.3 153.4 L745.5 153.4 M733.0 164.6 L733.0 169.0 M793.8 248.5 Q791.1 250.0 794.5 253.7 M844.8 215.9 L847.7 216.1 L846.7 217.5 M783.2 186.8 L790.3 183.5 M678.1 101.3 L680.9 106.2 M845.1 244.1 L848.6 241.7 L850.9 242.8 M692.0 238.9 L697.1 235.9 M759.5 166.9 L763.4 164.0 M778.8 284.7 L779.1 287.7 M800.4 104.4 L802.3 104.6 M788.1 177.3 L793.8 174.8 M847.2 150.2 Q846.9 149.0 852.4 147.5 M779.5 117.9 L779.0 122.0 M775.2 155.2 L781.5 152.5 L782.0 148.5 M624.7 210.6 L627.9 210.3 M638.2 135.3 L638.2 139.3 M747.2 245.1 L750.1 246.8 M751.8 147.4 L754.9 151.5 M845.7 266.6 L845.8 273.4 L849.4 275.4 M816.2 207.7 Q814.4 213.4 817.0 216.9 M846.1 176.7 L854.8 173.0 M702.2 238.1 Q699.5 241.4 703.1 244.7 M839.0 138.4 Q842.0 142.8 839.6 145.9 M640.3 162.2 L648.8 166.4 M840.5 308.9 L844.6 309.5 M835.9 256.6 Q839.5 258.5 839.3 259.3 M659.9 193.0 L661.0 195.2 L662.5 195.3 M848.1 217.8 L852.2 220.7 M696.4 230.7 L701.7 226.6 M793.4 302.4 L796.2 304.5 M826.5 181.5 Q830.5 180.9 829.0 179.6 M682.7 108.8 L682.5 112.5 M727.1 109.3 Q725.5 115.1 726.7 116.0 M815.2 221.0 Q817.7 224.3 815.0 224.6 M726.5 115.7 Q728.8 114.1 733.9 112.6 M754.8 322.4 L755.9 324.5 M786.3 300.1 Q784.9 299.7 790.0 300.4 M828.1 125.5 L831.8 125.0 M645.8 210.6 L646.4 220.1 M697.0 174.1 L698.9 177.2 L697.8 179.1 M794.8 242.0 L795.2 248.9 L798.8 250.8 M602.7 195.5 Q603.2 199.6 603.4 201.2 M783.2 334.2 L787.8 334.5 L789.4 332.2 M843.5 233.6 L848.5 236.5 M838.3 176.4 Q838.2 173.0 842.5 174.0 M734.4 234.0 L737.5 231.6 M750.1 275.9 Q757.4 280.6 758.5 280.1 M841.2 290.0 Q846.4 293.9 849.3 295.9 M684.0 189.9 L688.3 187.9 L688.6 185.1 M783.2 209.3 Q780.4 211.5 784.2 211.7 M816.8 239.6 Q815.6 239.6 820.1 239.2 M782.7 100.5 L784.8 100.2 M776.4 266.7 L780.8 267.3 M760.3 139.0 Q757.1 141.1 760.6 141.9 M812.5 284.2 L813.6 285.7 L814.7 285.6 M652.3 204.9 L658.1 201.7 M716.3 238.1 L719.8 236.2" fill="none" stroke="#505050" stroke-width="1.15" stroke-linecap="round"/>
<path d="M296.0 509.0 L548.8 363.0 L548.8 181.5 L607.8 147.3" fill="none" stroke="#888888" stroke-width="1.55" stroke-dasharray="66 2.5 3.5 2.5" stroke-linecap="butt" stroke-linejoin="round"/>
<path d="M296.0 562.0 L585.0 395.1 L585.0 202.0 L607.8 190.3" fill="none" stroke="#888888" stroke-width="1.55" stroke-dasharray="66 2.5 3.5 2.5" stroke-linecap="butt" stroke-linejoin="round"/>
<path d="M183.0 612.3 L635.5 351.1 L635.5 216.0" fill="none" stroke="#888888" stroke-width="1.55" stroke-dasharray="66 2.5 3.5 2.5" stroke-linecap="butt" stroke-linejoin="round"/>
<path d="M301.0 581.5 L648.7 380.7 L648.7 188.0" fill="none" stroke="#888888" stroke-width="1.55" stroke-dasharray="66 2.5 3.5 2.5" stroke-linecap="butt" stroke-linejoin="round"/>
<path d="M321.0 597.2 L614.3 427.8 L614.3 227.0 L636.0 215.3" fill="none" stroke="#888888" stroke-width="1.55" stroke-dasharray="66 2.5 3.5 2.5" stroke-linecap="butt" stroke-linejoin="round"/>
<path d="M350.0 621.5 L681.0 430.4 L681.0 221.0" fill="none" stroke="#888888" stroke-width="1.55" stroke-dasharray="66 2.5 3.5 2.5" stroke-linecap="butt" stroke-linejoin="round"/>
<path d="M467.0 591.2 L667.4 475.4 L667.4 259.5 L680.0 252.0" fill="none" stroke="#888888" stroke-width="1.55" stroke-dasharray="66 2.5 3.5 2.5" stroke-linecap="butt" stroke-linejoin="round"/>
<path d="M372.0 653.2 L688.6 470.4 L688.6 255.0" fill="none" stroke="#888888" stroke-width="1.55" stroke-dasharray="66 2.5 3.5 2.5" stroke-linecap="butt" stroke-linejoin="round"/>
<path d="M470.0 604.1 L694.6 474.4 L694.6 256.5" fill="none" stroke="#888888" stroke-width="1.55" stroke-dasharray="66 2.5 3.5 2.5" stroke-linecap="butt" stroke-linejoin="round"/>
<path d="M470.0 591.9 L745.0 433.1 L745.0 293.0" fill="none" stroke="#888888" stroke-width="1.55" stroke-dasharray="66 2.5 3.5 2.5" stroke-linecap="butt" stroke-linejoin="round"/>
<path d="M500.0 595.5 L752.3 449.8 L752.3 228.7" fill="none" stroke="#888888" stroke-width="1.55" stroke-dasharray="66 2.5 3.5 2.5" stroke-linecap="butt" stroke-linejoin="round"/>
<path d="M417.0 660.7 L758.2 463.7 L758.2 237.5" fill="none" stroke="#888888" stroke-width="1.55" stroke-dasharray="66 2.5 3.5 2.5" stroke-linecap="butt" stroke-linejoin="round"/>
<path d="M505.0 638.4 L731.6 507.6 L731.6 275.6" fill="none" stroke="#888888" stroke-width="1.55" stroke-dasharray="66 2.5 3.5 2.5" stroke-linecap="butt" stroke-linejoin="round"/>
<path d="M552.0 642.0 L790.3 504.4 L790.3 266.8" fill="none" stroke="#888888" stroke-width="1.55" stroke-dasharray="66 2.5 3.5 2.5" stroke-linecap="butt" stroke-linejoin="round"/>
<path d="M441.0 774.4 L800.6 566.7 L800.6 315.0" fill="none" stroke="#888888" stroke-width="1.55" stroke-dasharray="66 2.5 3.5 2.5" stroke-linecap="butt" stroke-linejoin="round"/>
<path d="M575.0 674.6 L829.4 527.7 L829.4 284.4" fill="none" stroke="#888888" stroke-width="1.55" stroke-dasharray="66 2.5 3.5 2.5" stroke-linecap="butt" stroke-linejoin="round"/>
<path d="M683.4 646.4 L836.6 557.9 L836.6 313.7" fill="none" stroke="#888888" stroke-width="1.55" stroke-dasharray="66 2.5 3.5 2.5" stroke-linecap="butt" stroke-linejoin="round"/>
<path d="M572.0 733.5 L843.8 576.6 L843.8 316.6" fill="none" stroke="#888888" stroke-width="1.55" stroke-dasharray="66 2.5 3.5 2.5" stroke-linecap="butt" stroke-linejoin="round"/>
<path d="M467.0 590.7 L667.0 475.2" fill="none" stroke="#777777" stroke-width="2.29" stroke-linecap="butt" stroke-linejoin="round"/>
<path d="M772.2 546.0 L772.2 307.8" fill="none" stroke="#888888" stroke-width="1.55" stroke-dasharray="66 2.5 3.5 2.5" stroke-linecap="butt" stroke-linejoin="round"/>
<path d="M683.4 646.4 L683.4 717.5 L672.0 724.0" fill="none" stroke="#888888" stroke-width="1.55" stroke-dasharray="66 2.5 3.5 2.5" stroke-linecap="butt" stroke-linejoin="round"/>
<path d="M188.0 561.3 L330.0 479.4" fill="none" stroke="#888888" stroke-width="1.55" stroke-dasharray="66 2.5 3.5 2.5" stroke-linecap="butt" stroke-linejoin="round"/>
<path d="M207.0 624.1 L340.0 547.3" fill="none" stroke="#888888" stroke-width="1.55" stroke-dasharray="66 2.5 3.5 2.5" stroke-linecap="butt" stroke-linejoin="round"/>
<path d="M259.0 710.8 L326.0 672.1" fill="none" stroke="#888888" stroke-width="1.55" stroke-dasharray="66 2.5 3.5 2.5" stroke-linecap="butt" stroke-linejoin="round"/>
<path d="M252.0 725.0 L330.0 680.0" fill="none" stroke="#888888" stroke-width="1.55" stroke-dasharray="66 2.5 3.5 2.5" stroke-linecap="butt" stroke-linejoin="round"/>
<path d="M523.4 206.7 L606.2 161.4" fill="none" stroke="#888888" stroke-width="1.55" stroke-dasharray="66 2.5 3.5 2.5" stroke-linecap="butt" stroke-linejoin="round"/>
<path d="M474.0 232.5 L509.0 214.0" fill="none" stroke="#888888" stroke-width="1.55" stroke-dasharray="66 2.5 3.5 2.5" stroke-linecap="butt" stroke-linejoin="round"/>
<path d="M413.0 607.6 L434.5 595.5 L441.5 605.0 L455.0 598.5" fill="none" stroke="#888888" stroke-width="1.49" stroke-dasharray="9 2 2 2" stroke-linecap="butt" stroke-linejoin="round"/>
<path d="M442.0 604.8 L455.5 598.2" fill="none" stroke="#777777" stroke-width="2.70" stroke-linecap="butt" stroke-linejoin="round"/>
<path d="M452.0 735.9 L622.0 637.8" fill="none" stroke="#888888" stroke-width="1.55" stroke-dasharray="66 2.5 3.5 2.5" stroke-linecap="butt" stroke-linejoin="round"/>
<path d="M481.0 777.3 L612.0 701.6" fill="none" stroke="#888888" stroke-width="1.55" stroke-dasharray="66 2.5 3.5 2.5" stroke-linecap="butt" stroke-linejoin="round"/>
<path d="M640.0 743.5 L661.0 732.0" fill="none" stroke="#888888" stroke-width="1.55" stroke-dasharray="66 2.5 3.5 2.5" stroke-linecap="butt" stroke-linejoin="round"/>
<ellipse cx="531.4" cy="373.1" rx="11.0" ry="5.5" transform="rotate(60 531.4 373.1)" fill="#fff" stroke="#4c4c4c" stroke-width="1.35" />
<path d="M514.6 370.0 L525.9 363.5 L536.9 382.6 L525.6 389.1 Z" fill="#fff" stroke="none"/>
<path d="M514.6 370.0 L525.9 363.5" fill="none" stroke="#4c4c4c" stroke-width="1.35" stroke-linecap="butt" stroke-linejoin="round"/>
<path d="M525.6 389.1 L536.9 382.6" fill="none" stroke="#4c4c4c" stroke-width="1.35" stroke-linecap="butt" stroke-linejoin="round"/>
<ellipse cx="520.1" cy="379.6" rx="11.0" ry="5.5" transform="rotate(60 520.1 379.6)" fill="#fff" stroke="#4c4c4c" stroke-width="1.35" />
<ellipse cx="520.1" cy="379.6" rx="7.2" ry="3.6" transform="rotate(60 520.1 379.6)" fill="#fff" stroke="#4c4c4c" stroke-width="1.35" />
<path d="M515.7 373.8 L516.5 373.3 L523.7 385.8 L522.9 386.3 Z" fill="#fff" stroke="none"/>
<path d="M515.7 373.8 L516.5 373.3" fill="none" stroke="#4c4c4c" stroke-width="1.35" stroke-linecap="butt" stroke-linejoin="round"/>
<path d="M522.9 386.3 L523.7 385.8" fill="none" stroke="#4c4c4c" stroke-width="1.35" stroke-linecap="butt" stroke-linejoin="round"/>
<ellipse cx="519.3" cy="380.1" rx="7.2" ry="3.6" transform="rotate(60 519.3 380.1)" fill="#fff" stroke="#4c4c4c" stroke-width="1.35" />
<ellipse cx="519.3" cy="380.1" rx="9.5" ry="4.8" transform="rotate(60 519.3 380.1)" fill="#fff" stroke="#4c4c4c" stroke-width="1.35" />
<path d="M508.5 375.3 L514.5 371.8 L524.0 388.3 L518.0 391.8 Z" fill="#fff" stroke="none"/>
<path d="M508.5 375.3 L514.5 371.8" fill="none" stroke="#4c4c4c" stroke-width="1.35" stroke-linecap="butt" stroke-linejoin="round"/>
<path d="M518.0 391.8 L524.0 388.3" fill="none" stroke="#4c4c4c" stroke-width="1.35" stroke-linecap="butt" stroke-linejoin="round"/>
<ellipse cx="513.2" cy="383.6" rx="9.5" ry="4.8" transform="rotate(60 513.2 383.6)" fill="#fff" stroke="#4c4c4c" stroke-width="1.35" />
<path d="M510.5 383.3 L511.8 385.7 L513.4 387.8 L515.2 389.5 L517.0 390.5 L518.7 390.9 L520.1 390.6 L521.1 389.5 L521.6 387.9 L521.5 385.8 L521.0 383.4 L520.0 380.9 L518.6 378.6" fill="none" stroke="#606060" stroke-width="1.22" stroke-linecap="butt" stroke-linejoin="round"/>
<path d="M512.6 382.0 L513.9 384.4 L515.6 386.6 L517.4 388.2 L519.2 389.3 L520.8 389.7 L522.2 389.3 L523.2 388.3 L523.7 386.7 L523.7 384.6 L523.1 382.2 L522.1 379.7 L520.7 377.4" fill="none" stroke="#606060" stroke-width="1.22" stroke-linecap="butt" stroke-linejoin="round"/>
<ellipse cx="513.2" cy="383.6" rx="7.2" ry="3.6" transform="rotate(60 513.2 383.6)" fill="#fff" stroke="#4c4c4c" stroke-width="1.35" />
<path d="M504.4 380.3 L509.6 377.3 L516.8 389.8 L511.6 392.8 Z" fill="#fff" stroke="none"/>
<path d="M504.4 380.3 L509.6 377.3" fill="none" stroke="#4c4c4c" stroke-width="1.35" stroke-linecap="butt" stroke-linejoin="round"/>
<path d="M511.6 392.8 L516.8 389.8" fill="none" stroke="#4c4c4c" stroke-width="1.35" stroke-linecap="butt" stroke-linejoin="round"/>
<ellipse cx="508.0" cy="386.6" rx="7.2" ry="3.6" transform="rotate(60 508.0 386.6)" fill="#fff" stroke="#4c4c4c" stroke-width="1.35" />
<ellipse cx="508.0" cy="386.6" rx="12.0" ry="6.0" transform="rotate(60 508.0 386.6)" fill="#fff" stroke="#4c4c4c" stroke-width="1.35" />
<path d="M491.6 382.2 L502.0 376.2 L514.0 397.0 L503.6 403.0 Z" fill="#fff" stroke="none"/>
<path d="M491.6 382.2 L502.0 376.2" fill="none" stroke="#4c4c4c" stroke-width="1.35" stroke-linecap="butt" stroke-linejoin="round"/>
<path d="M503.6 403.0 L514.0 397.0" fill="none" stroke="#4c4c4c" stroke-width="1.35" stroke-linecap="butt" stroke-linejoin="round"/>
<ellipse cx="497.6" cy="392.6" rx="12.0" ry="6.0" transform="rotate(60 497.6 392.6)" fill="#fff" stroke="#4c4c4c" stroke-width="1.35" />
<path d="M504.6 392.2 L506.2 394.0 L507.9 395.6 L509.6 396.6 L511.3 397.3 L512.8 397.4 L514.0 397.0 L515.0 396.1 L515.7 394.7 L515.9 393.0 L515.9 391.0 L515.4 388.7 L514.6 386.4" fill="none" stroke="#606060" stroke-width="2.56" stroke-linecap="butt" stroke-linejoin="round"/>
<ellipse cx="497.6" cy="392.6" rx="7.2" ry="3.6" transform="rotate(60 497.6 392.6)" fill="#fff" stroke="#4c4c4c" stroke-width="1.35" />
<path d="M488.0 389.8 L494.0 386.3 L501.2 398.8 L495.2 402.3 Z" fill="#fff" stroke="none"/>
<path d="M488.0 389.8 L494.0 386.3" fill="none" stroke="#4c4c4c" stroke-width="1.35" stroke-linecap="butt" stroke-linejoin="round"/>
<path d="M495.2 402.3 L501.2 398.8" fill="none" stroke="#4c4c4c" stroke-width="1.35" stroke-linecap="butt" stroke-linejoin="round"/>
<ellipse cx="491.6" cy="396.1" rx="7.2" ry="3.6" transform="rotate(60 491.6 396.1)" fill="#fff" stroke="#4c4c4c" stroke-width="1.35" />
<ellipse cx="491.6" cy="396.1" rx="12.0" ry="6.0" transform="rotate(60 491.6 396.1)" fill="#fff" stroke="#4c4c4c" stroke-width="1.35" />
<path d="M476.0 391.2 L485.6 385.7 L497.6 406.5 L488.0 412.0 Z" fill="#fff" stroke="none"/>
<path d="M476.0 391.2 L485.6 385.7" fill="none" stroke="#4c4c4c" stroke-width="1.35" stroke-linecap="butt" stroke-linejoin="round"/>
<path d="M488.0 412.0 L497.6 406.5" fill="none" stroke="#4c4c4c" stroke-width="1.35" stroke-linecap="butt" stroke-linejoin="round"/>
<ellipse cx="482.0" cy="401.6" rx="12.0" ry="6.0" transform="rotate(60 482.0 401.6)" fill="#fff" stroke="#4c4c4c" stroke-width="1.35" />
<path d="M488.1 401.7 L489.7 403.5 L491.4 405.1 L493.2 406.1 L494.8 406.8 L496.3 406.9 L497.6 406.5 L498.6 405.6 L499.2 404.2 L499.5 402.5 L499.4 400.5 L498.9 398.2 L498.1 395.9" fill="none" stroke="#606060" stroke-width="2.56" stroke-linecap="butt" stroke-linejoin="round"/>
<ellipse cx="482.0" cy="401.6" rx="7.2" ry="3.6" transform="rotate(60 482.0 401.6)" fill="#fff" stroke="#4c4c4c" stroke-width="1.35" />
<path d="M469.8 400.3 L478.4 395.3 L485.6 407.8 L477.0 412.8 Z" fill="#fff" stroke="none"/>
<path d="M469.8 400.3 L478.4 395.3" fill="none" stroke="#4c4c4c" stroke-width="1.35" stroke-linecap="butt" stroke-linejoin="round"/>
<path d="M477.0 412.8 L485.6 407.8" fill="none" stroke="#4c4c4c" stroke-width="1.35" stroke-linecap="butt" stroke-linejoin="round"/>
<ellipse cx="473.4" cy="406.6" rx="7.2" ry="3.6" transform="rotate(60 473.4 406.6)" fill="#fff" stroke="#4c4c4c" stroke-width="1.35" />
<ellipse cx="473.4" cy="406.6" rx="10.0" ry="5.0" transform="rotate(60 473.4 406.6)" fill="#fff" stroke="#4c4c4c" stroke-width="1.35" />
<path d="M458.9 403.4 L468.4 397.9 L478.4 415.2 L468.9 420.7 Z" fill="#fff" stroke="none"/>
<path d="M458.9 403.4 L468.4 397.9" fill="none" stroke="#4c4c4c" stroke-width="1.35" stroke-linecap="butt" stroke-linejoin="round"/>
<path d="M468.9 420.7 L478.4 415.2" fill="none" stroke="#4c4c4c" stroke-width="1.35" stroke-linecap="butt" stroke-linejoin="round"/>
<ellipse cx="463.9" cy="412.1" rx="10.0" ry="5.0" transform="rotate(60 463.9 412.1)" fill="#fff" stroke="#4c4c4c" stroke-width="1.35" />
<path d="M462.1 411.1 L463.5 413.6 L465.2 415.9 L467.1 417.6 L469.0 418.8 L470.7 419.2 L472.2 418.8 L473.2 417.7 L473.7 416.0 L473.7 413.8 L473.1 411.3 L472.1 408.7 L470.6 406.2" fill="none" stroke="#606060" stroke-width="1.22" stroke-linecap="butt" stroke-linejoin="round"/>
<path d="M465.4 409.2 L466.8 411.7 L468.5 413.9 L470.4 415.7 L472.3 416.8 L474.1 417.2 L475.5 416.9 L476.6 415.8 L477.1 414.1 L477.1 411.9 L476.5 409.4 L475.4 406.7 L473.9 404.3" fill="none" stroke="#606060" stroke-width="1.22" stroke-linecap="butt" stroke-linejoin="round"/>
<ellipse cx="463.9" cy="412.1" rx="7.2" ry="3.6" transform="rotate(60 463.9 412.1)" fill="#fff" stroke="#4c4c4c" stroke-width="1.35" />
<path d="M455.1 408.8 L460.3 405.8 L467.5 418.3 L462.3 421.3 Z" fill="#fff" stroke="none"/>
<path d="M455.1 408.8 L460.3 405.8" fill="none" stroke="#4c4c4c" stroke-width="1.35" stroke-linecap="butt" stroke-linejoin="round"/>
<path d="M462.3 421.3 L467.5 418.3" fill="none" stroke="#4c4c4c" stroke-width="1.35" stroke-linecap="butt" stroke-linejoin="round"/>
<ellipse cx="458.7" cy="415.1" rx="7.2" ry="3.6" transform="rotate(60 458.7 415.1)" fill="#fff" stroke="#4c4c4c" stroke-width="1.35" />
<ellipse cx="458.7" cy="415.1" rx="12.0" ry="6.0" transform="rotate(60 458.7 415.1)" fill="#fff" stroke="#4c4c4c" stroke-width="1.35" />
<path d="M443.1 410.2 L452.7 404.7 L464.7 425.5 L455.1 431.0 Z" fill="#fff" stroke="none"/>
<path d="M443.1 410.2 L452.7 404.7" fill="none" stroke="#4c4c4c" stroke-width="1.35" stroke-linecap="butt" stroke-linejoin="round"/>
<path d="M455.1 431.0 L464.7 425.5" fill="none" stroke="#4c4c4c" stroke-width="1.35" stroke-linecap="butt" stroke-linejoin="round"/>
<ellipse cx="449.1" cy="420.6" rx="12.0" ry="6.0" transform="rotate(60 449.1 420.6)" fill="#fff" stroke="#4c4c4c" stroke-width="1.35" />
<path d="M455.2 420.7 L456.8 422.5 L458.5 424.1 L460.3 425.1 L461.9 425.8 L463.4 425.9 L464.7 425.5 L465.6 424.6 L466.3 423.2 L466.6 421.5 L466.5 419.5 L466.0 417.2 L465.2 414.9" fill="none" stroke="#606060" stroke-width="2.56" stroke-linecap="butt" stroke-linejoin="round"/>
<ellipse cx="449.1" cy="420.6" rx="7.2" ry="3.6" transform="rotate(60 449.1 420.6)" fill="#fff" stroke="#4c4c4c" stroke-width="1.35" />
<path d="M441.2 416.8 L445.5 414.3 L452.7 426.8 L448.4 429.3 Z" fill="#fff" stroke="none"/>
<path d="M441.2 416.8 L445.5 414.3" fill="none" stroke="#4c4c4c" stroke-width="1.35" stroke-linecap="butt" stroke-linejoin="round"/>
<path d="M448.4 429.3 L452.7 426.8" fill="none" stroke="#4c4c4c" stroke-width="1.35" stroke-linecap="butt" stroke-linejoin="round"/>
<ellipse cx="444.8" cy="423.1" rx="7.2" ry="3.6" transform="rotate(60 444.8 423.1)" fill="#fff" stroke="#4c4c4c" stroke-width="1.35" />
<ellipse cx="444.8" cy="423.1" rx="12.0" ry="6.0" transform="rotate(60 444.8 423.1)" fill="#fff" stroke="#4c4c4c" stroke-width="1.35" />
<path d="M430.1 417.7 L438.8 412.7 L450.8 433.5 L442.1 438.5 Z" fill="#fff" stroke="none"/>
<path d="M430.1 417.7 L438.8 412.7" fill="none" stroke="#4c4c4c" stroke-width="1.35" stroke-linecap="butt" stroke-linejoin="round"/>
<path d="M442.1 438.5 L450.8 433.5" fill="none" stroke="#4c4c4c" stroke-width="1.35" stroke-linecap="butt" stroke-linejoin="round"/>
<ellipse cx="436.1" cy="428.1" rx="12.0" ry="6.0" transform="rotate(60 436.1 428.1)" fill="#fff" stroke="#4c4c4c" stroke-width="1.35" />
<path d="M441.3 428.7 L443.0 430.5 L444.7 432.1 L446.4 433.1 L448.0 433.8 L449.5 433.9 L450.8 433.5 L451.8 432.6 L452.4 431.2 L452.7 429.5 L452.6 427.5 L452.2 425.2 L451.4 422.9" fill="none" stroke="#606060" stroke-width="2.56" stroke-linecap="butt" stroke-linejoin="round"/>
<ellipse cx="436.1" cy="428.1" rx="7.2" ry="3.6" transform="rotate(60 436.1 428.1)" fill="#fff" stroke="#4c4c4c" stroke-width="1.35" />
<path d="M429.1 423.8 L432.5 421.8 L439.7 434.3 L436.3 436.3 Z" fill="#fff" stroke="none"/>
<path d="M429.1 423.8 L432.5 421.8" fill="none" stroke="#4c4c4c" stroke-width="1.35" stroke-linecap="butt" stroke-linejoin="round"/>
<path d="M436.3 436.3 L439.7 434.3" fill="none" stroke="#4c4c4c" stroke-width="1.35" stroke-linecap="butt" stroke-linejoin="round"/>
<ellipse cx="432.7" cy="430.1" rx="7.2" ry="3.6" transform="rotate(60 432.7 430.1)" fill="#fff" stroke="#4c4c4c" stroke-width="1.35" />
<ellipse cx="432.7" cy="430.1" rx="10.5" ry="5.2" transform="rotate(60 432.7 430.1)" fill="#fff" stroke="#4c4c4c" stroke-width="1.35" />
<path d="M417.0 427.0 L427.4 421.0 L437.9 439.2 L427.5 445.2 Z" fill="#fff" stroke="none"/>
<path d="M417.0 427.0 L427.4 421.0" fill="none" stroke="#4c4c4c" stroke-width="1.35" stroke-linecap="butt" stroke-linejoin="round"/>
<path d="M427.5 445.2 L437.9 439.2" fill="none" stroke="#4c4c4c" stroke-width="1.35" stroke-linecap="butt" stroke-linejoin="round"/>
<ellipse cx="422.3" cy="436.1" rx="10.5" ry="5.2" transform="rotate(60 422.3 436.1)" fill="#fff" stroke="#4c4c4c" stroke-width="1.35" />
<path d="M420.5 435.0 L422.0 437.6 L423.8 440.0 L425.8 441.8 L427.8 443.0 L429.6 443.4 L431.2 443.1 L432.3 441.9 L432.8 440.1 L432.8 437.8 L432.2 435.2 L431.0 432.4 L429.5 429.8" fill="none" stroke="#606060" stroke-width="1.22" stroke-linecap="butt" stroke-linejoin="round"/>
<path d="M424.2 432.9 L425.7 435.5 L427.5 437.9 L429.5 439.7 L431.4 440.9 L433.3 441.3 L434.8 441.0 L435.9 439.8 L436.4 438.0 L436.4 435.7 L435.8 433.1 L434.7 430.3 L433.1 427.7" fill="none" stroke="#606060" stroke-width="1.22" stroke-linecap="butt" stroke-linejoin="round"/>
<ellipse cx="422.3" cy="436.1" rx="7.5" ry="3.8" transform="rotate(60 422.3 436.1)" fill="#fff" stroke="#4c4c4c" stroke-width="1.35" />
<path d="M412.0 433.3 L418.5 429.6 L426.0 442.6 L419.5 446.3 Z" fill="#fff" stroke="none"/>
<path d="M412.0 433.3 L418.5 429.6" fill="none" stroke="#4c4c4c" stroke-width="1.35" stroke-linecap="butt" stroke-linejoin="round"/>
<path d="M419.5 446.3 L426.0 442.6" fill="none" stroke="#4c4c4c" stroke-width="1.35" stroke-linecap="butt" stroke-linejoin="round"/>
<ellipse cx="415.8" cy="439.8" rx="7.5" ry="3.8" transform="rotate(60 415.8 439.8)" fill="#fff" stroke="#4c4c4c" stroke-width="1.35" />
<ellipse cx="415.8" cy="439.8" rx="14.5" ry="7.2" transform="rotate(60 415.8 439.8)" fill="#fff" stroke="#4c4c4c" stroke-width="1.35" />
<path d="M396.9 434.0 L408.5 427.3 L423.0 452.4 L411.4 459.1 Z" fill="#fff" stroke="none"/>
<path d="M396.9 434.0 L408.5 427.3" fill="none" stroke="#4c4c4c" stroke-width="1.35" stroke-linecap="butt" stroke-linejoin="round"/>
<path d="M411.4 459.1 L423.0 452.4" fill="none" stroke="#4c4c4c" stroke-width="1.35" stroke-linecap="butt" stroke-linejoin="round"/>
<ellipse cx="404.1" cy="446.6" rx="14.5" ry="7.2" transform="rotate(60 404.1 446.6)" fill="#fff" stroke="#4c4c4c" stroke-width="1.35" />
<ellipse cx="404.1" cy="446.6" rx="9.0" ry="4.5" transform="rotate(60 404.1 446.6)" fill="#fff" stroke="#4c4c4c" stroke-width="1.22" />
<ellipse cx="404.1" cy="446.6" rx="4.6" ry="2.3" transform="rotate(60 404.1 446.6)" fill="#555" stroke="#4c4c4c" stroke-width="1.22" />
<ellipse cx="411.3" cy="455.0" rx="2.0" ry="1.0" transform="rotate(60 411.3 455.0)" fill="#333" stroke="#4c4c4c" stroke-width="0.68" />
<ellipse cx="410.1" cy="445.5" rx="2.0" ry="1.0" transform="rotate(60 410.1 445.5)" fill="#333" stroke="#4c4c4c" stroke-width="0.68" />
<ellipse cx="402.9" cy="437.0" rx="2.0" ry="1.0" transform="rotate(60 402.9 437.0)" fill="#333" stroke="#4c4c4c" stroke-width="0.68" />
<ellipse cx="396.9" cy="438.1" rx="2.0" ry="1.0" transform="rotate(60 396.9 438.1)" fill="#333" stroke="#4c4c4c" stroke-width="0.68" />
<ellipse cx="398.1" cy="447.7" rx="2.0" ry="1.0" transform="rotate(60 398.1 447.7)" fill="#333" stroke="#4c4c4c" stroke-width="0.68" />
<ellipse cx="405.3" cy="456.1" rx="2.0" ry="1.0" transform="rotate(60 405.3 456.1)" fill="#333" stroke="#4c4c4c" stroke-width="0.68" />
<ellipse cx="535.1" cy="423.9" rx="10.5" ry="5.2" transform="rotate(60 535.1 423.9)" fill="#fff" stroke="#4c4c4c" stroke-width="1.35" />
<path d="M517.8 421.8 L529.9 414.8 L540.4 433.0 L528.3 440.0 Z" fill="#fff" stroke="none"/>
<path d="M517.8 421.8 L529.9 414.8" fill="none" stroke="#4c4c4c" stroke-width="1.35" stroke-linecap="butt" stroke-linejoin="round"/>
<path d="M528.3 440.0 L540.4 433.0" fill="none" stroke="#4c4c4c" stroke-width="1.35" stroke-linecap="butt" stroke-linejoin="round"/>
<ellipse cx="523.0" cy="430.9" rx="10.5" ry="5.2" transform="rotate(60 523.0 430.9)" fill="#fff" stroke="#4c4c4c" stroke-width="1.35" />
<ellipse cx="523.0" cy="430.9" rx="7.2" ry="3.6" transform="rotate(60 523.0 430.9)" fill="#fff" stroke="#4c4c4c" stroke-width="1.35" />
<path d="M515.1 427.2 L519.4 424.7 L526.6 437.1 L522.3 439.6 Z" fill="#fff" stroke="none"/>
<path d="M515.1 427.2 L519.4 424.7" fill="none" stroke="#4c4c4c" stroke-width="1.35" stroke-linecap="butt" stroke-linejoin="round"/>
<path d="M522.3 439.6 L526.6 437.1" fill="none" stroke="#4c4c4c" stroke-width="1.35" stroke-linecap="butt" stroke-linejoin="round"/>
<ellipse cx="518.7" cy="433.4" rx="7.2" ry="3.6" transform="rotate(60 518.7 433.4)" fill="#fff" stroke="#4c4c4c" stroke-width="1.35" />
<ellipse cx="518.7" cy="433.4" rx="12.0" ry="6.0" transform="rotate(60 518.7 433.4)" fill="#fff" stroke="#4c4c4c" stroke-width="1.35" />
<path d="M503.2 428.5 L512.7 423.0 L524.7 443.8 L515.2 449.3 Z" fill="#fff" stroke="none"/>
<path d="M503.2 428.5 L512.7 423.0" fill="none" stroke="#4c4c4c" stroke-width="1.35" stroke-linecap="butt" stroke-linejoin="round"/>
<path d="M515.2 449.3 L524.7 443.8" fill="none" stroke="#4c4c4c" stroke-width="1.35" stroke-linecap="butt" stroke-linejoin="round"/>
<ellipse cx="509.2" cy="438.9" rx="12.0" ry="6.0" transform="rotate(60 509.2 438.9)" fill="#fff" stroke="#4c4c4c" stroke-width="1.35" />
<path d="M515.2 439.0 L516.9 440.9 L518.6 442.4 L520.3 443.5 L521.9 444.1 L523.4 444.2 L524.7 443.8 L525.7 442.9 L526.3 441.6 L526.6 439.8 L526.5 437.8 L526.1 435.6 L525.3 433.2" fill="none" stroke="#606060" stroke-width="2.56" stroke-linecap="butt" stroke-linejoin="round"/>
<ellipse cx="509.2" cy="438.9" rx="7.2" ry="3.6" transform="rotate(60 509.2 438.9)" fill="#fff" stroke="#4c4c4c" stroke-width="1.35" />
<path d="M500.4 435.7 L505.6 432.7 L512.8 445.1 L507.6 448.1 Z" fill="#fff" stroke="none"/>
<path d="M500.4 435.7 L505.6 432.7" fill="none" stroke="#4c4c4c" stroke-width="1.35" stroke-linecap="butt" stroke-linejoin="round"/>
<path d="M507.6 448.1 L512.8 445.1" fill="none" stroke="#4c4c4c" stroke-width="1.35" stroke-linecap="butt" stroke-linejoin="round"/>
<ellipse cx="504.0" cy="441.9" rx="7.2" ry="3.6" transform="rotate(60 504.0 441.9)" fill="#fff" stroke="#4c4c4c" stroke-width="1.35" />
<ellipse cx="504.0" cy="441.9" rx="12.0" ry="6.0" transform="rotate(60 504.0 441.9)" fill="#fff" stroke="#4c4c4c" stroke-width="1.35" />
<path d="M488.4 437.0 L498.0 431.5 L510.0 452.3 L500.4 457.8 Z" fill="#fff" stroke="none"/>
<path d="M488.4 437.0 L498.0 431.5" fill="none" stroke="#4c4c4c" stroke-width="1.35" stroke-linecap="butt" stroke-linejoin="round"/>
<path d="M500.4 457.8 L510.0 452.3" fill="none" stroke="#4c4c4c" stroke-width="1.35" stroke-linecap="butt" stroke-linejoin="round"/>
<ellipse cx="494.4" cy="447.4" rx="12.0" ry="6.0" transform="rotate(60 494.4 447.4)" fill="#fff" stroke="#4c4c4c" stroke-width="1.35" />
<path d="M500.5 447.5 L502.1 449.4 L503.8 450.9 L505.6 452.0 L507.2 452.6 L508.7 452.7 L510.0 452.3 L510.9 451.4 L511.6 450.1 L511.9 448.3 L511.8 446.3 L511.3 444.1 L510.5 441.7" fill="none" stroke="#606060" stroke-width="2.56" stroke-linecap="butt" stroke-linejoin="round"/>
<ellipse cx="494.4" cy="447.4" rx="7.2" ry="3.6" transform="rotate(60 494.4 447.4)" fill="#fff" stroke="#4c4c4c" stroke-width="1.35" />
<path d="M483.9 445.2 L490.8 441.2 L498.0 453.6 L491.1 457.6 Z" fill="#fff" stroke="none"/>
<path d="M483.9 445.2 L490.8 441.2" fill="none" stroke="#4c4c4c" stroke-width="1.35" stroke-linecap="butt" stroke-linejoin="round"/>
<path d="M491.1 457.6 L498.0 453.6" fill="none" stroke="#4c4c4c" stroke-width="1.35" stroke-linecap="butt" stroke-linejoin="round"/>
<ellipse cx="487.5" cy="451.4" rx="7.2" ry="3.6" transform="rotate(60 487.5 451.4)" fill="#fff" stroke="#4c4c4c" stroke-width="1.35" />
<ellipse cx="487.5" cy="451.4" rx="10.0" ry="5.0" transform="rotate(60 487.5 451.4)" fill="#fff" stroke="#4c4c4c" stroke-width="1.35" />
<path d="M473.0 448.3 L482.5 442.8 L492.5 460.1 L483.0 465.6 Z" fill="#fff" stroke="none"/>
<path d="M473.0 448.3 L482.5 442.8" fill="none" stroke="#4c4c4c" stroke-width="1.35" stroke-linecap="butt" stroke-linejoin="round"/>
<path d="M483.0 465.6 L492.5 460.1" fill="none" stroke="#4c4c4c" stroke-width="1.35" stroke-linecap="butt" stroke-linejoin="round"/>
<ellipse cx="478.0" cy="456.9" rx="10.0" ry="5.0" transform="rotate(60 478.0 456.9)" fill="#fff" stroke="#4c4c4c" stroke-width="1.35" />
<path d="M476.2 455.9 L477.6 458.5 L479.3 460.7 L481.2 462.5 L483.1 463.6 L484.9 464.0 L486.3 463.6 L487.4 462.6 L487.9 460.9 L487.9 458.6 L487.3 456.1 L486.2 453.5 L484.7 451.0" fill="none" stroke="#606060" stroke-width="1.22" stroke-linecap="butt" stroke-linejoin="round"/>
<path d="M479.5 454.0 L480.9 456.6 L482.7 458.8 L484.6 460.5 L486.5 461.7 L488.2 462.1 L489.7 461.7 L490.7 460.6 L491.2 458.9 L491.2 456.7 L490.6 454.2 L489.5 451.6 L488.1 449.1" fill="none" stroke="#606060" stroke-width="1.22" stroke-linecap="butt" stroke-linejoin="round"/>
<ellipse cx="478.0" cy="456.9" rx="7.2" ry="3.6" transform="rotate(60 478.0 456.9)" fill="#fff" stroke="#4c4c4c" stroke-width="1.35" />
<path d="M469.2 453.7 L474.4 450.7 L481.6 463.1 L476.4 466.1 Z" fill="#fff" stroke="none"/>
<path d="M469.2 453.7 L474.4 450.7" fill="none" stroke="#4c4c4c" stroke-width="1.35" stroke-linecap="butt" stroke-linejoin="round"/>
<path d="M476.4 466.1 L481.6 463.1" fill="none" stroke="#4c4c4c" stroke-width="1.35" stroke-linecap="butt" stroke-linejoin="round"/>
<ellipse cx="472.8" cy="459.9" rx="7.2" ry="3.6" transform="rotate(60 472.8 459.9)" fill="#fff" stroke="#4c4c4c" stroke-width="1.35" />
<ellipse cx="472.8" cy="459.9" rx="12.0" ry="6.0" transform="rotate(60 472.8 459.9)" fill="#fff" stroke="#4c4c4c" stroke-width="1.35" />
<path d="M457.3 455.0 L466.8 449.5 L478.8 470.3 L469.3 475.8 Z" fill="#fff" stroke="none"/>
<path d="M457.3 455.0 L466.8 449.5" fill="none" stroke="#4c4c4c" stroke-width="1.35" stroke-linecap="butt" stroke-linejoin="round"/>
<path d="M469.3 475.8 L478.8 470.3" fill="none" stroke="#4c4c4c" stroke-width="1.35" stroke-linecap="butt" stroke-linejoin="round"/>
<ellipse cx="463.3" cy="465.4" rx="12.0" ry="6.0" transform="rotate(60 463.3 465.4)" fill="#fff" stroke="#4c4c4c" stroke-width="1.35" />
<path d="M469.3 465.5 L471.0 467.4 L472.7 468.9 L474.4 470.0 L476.0 470.6 L477.5 470.7 L478.8 470.3 L479.8 469.4 L480.4 468.1 L480.7 466.3 L480.6 464.3 L480.2 462.1 L479.4 459.7" fill="none" stroke="#606060" stroke-width="2.56" stroke-linecap="butt" stroke-linejoin="round"/>
<ellipse cx="463.3" cy="465.4" rx="7.2" ry="3.6" transform="rotate(60 463.3 465.4)" fill="#fff" stroke="#4c4c4c" stroke-width="1.35" />
<path d="M454.5 462.2 L459.7 459.2 L466.9 471.6 L461.7 474.6 Z" fill="#fff" stroke="none"/>
<path d="M454.5 462.2 L459.7 459.2" fill="none" stroke="#4c4c4c" stroke-width="1.35" stroke-linecap="butt" stroke-linejoin="round"/>
<path d="M461.7 474.6 L466.9 471.6" fill="none" stroke="#4c4c4c" stroke-width="1.35" stroke-linecap="butt" stroke-linejoin="round"/>
<ellipse cx="458.1" cy="468.4" rx="7.2" ry="3.6" transform="rotate(60 458.1 468.4)" fill="#fff" stroke="#4c4c4c" stroke-width="1.35" />
<ellipse cx="458.1" cy="468.4" rx="12.0" ry="6.0" transform="rotate(60 458.1 468.4)" fill="#fff" stroke="#4c4c4c" stroke-width="1.35" />
<path d="M442.5 463.5 L452.1 458.0 L464.1 478.8 L454.5 484.3 Z" fill="#fff" stroke="none"/>
<path d="M442.5 463.5 L452.1 458.0" fill="none" stroke="#4c4c4c" stroke-width="1.35" stroke-linecap="butt" stroke-linejoin="round"/>
<path d="M454.5 484.3 L464.1 478.8" fill="none" stroke="#4c4c4c" stroke-width="1.35" stroke-linecap="butt" stroke-linejoin="round"/>
<ellipse cx="448.5" cy="473.9" rx="12.0" ry="6.0" transform="rotate(60 448.5 473.9)" fill="#fff" stroke="#4c4c4c" stroke-width="1.35" />
<path d="M454.6 474.0 L456.2 475.9 L457.9 477.4 L459.7 478.5 L461.3 479.1 L462.8 479.2 L464.1 478.8 L465.0 477.9 L465.7 476.6 L466.0 474.8 L465.9 472.8 L465.4 470.6 L464.6 468.2" fill="none" stroke="#606060" stroke-width="2.56" stroke-linecap="butt" stroke-linejoin="round"/>
<ellipse cx="448.5" cy="473.9" rx="7.2" ry="3.6" transform="rotate(60 448.5 473.9)" fill="#fff" stroke="#4c4c4c" stroke-width="1.35" />
<path d="M438.9 471.2 L444.9 467.7 L452.1 480.1 L446.1 483.6 Z" fill="#fff" stroke="none"/>
<path d="M438.9 471.2 L444.9 467.7" fill="none" stroke="#4c4c4c" stroke-width="1.35" stroke-linecap="butt" stroke-linejoin="round"/>
<path d="M446.1 483.6 L452.1 480.1" fill="none" stroke="#4c4c4c" stroke-width="1.35" stroke-linecap="butt" stroke-linejoin="round"/>
<ellipse cx="442.5" cy="477.4" rx="7.2" ry="3.6" transform="rotate(60 442.5 477.4)" fill="#fff" stroke="#4c4c4c" stroke-width="1.35" />
<ellipse cx="442.5" cy="477.4" rx="10.5" ry="5.2" transform="rotate(60 442.5 477.4)" fill="#fff" stroke="#4c4c4c" stroke-width="1.35" />
<path d="M426.8 474.3 L437.2 468.3 L447.7 486.5 L437.3 492.5 Z" fill="#fff" stroke="none"/>
<path d="M426.8 474.3 L437.2 468.3" fill="none" stroke="#4c4c4c" stroke-width="1.35" stroke-linecap="butt" stroke-linejoin="round"/>
<path d="M437.3 492.5 L447.7 486.5" fill="none" stroke="#4c4c4c" stroke-width="1.35" stroke-linecap="butt" stroke-linejoin="round"/>
<ellipse cx="432.1" cy="483.4" rx="10.5" ry="5.2" transform="rotate(60 432.1 483.4)" fill="#fff" stroke="#4c4c4c" stroke-width="1.35" />
<path d="M430.3 482.3 L431.8 485.0 L433.6 487.3 L435.6 489.2 L437.6 490.4 L439.4 490.8 L441.0 490.4 L442.1 489.3 L442.6 487.5 L442.6 485.1 L442.0 482.5 L440.8 479.8 L439.3 477.2" fill="none" stroke="#606060" stroke-width="1.22" stroke-linecap="butt" stroke-linejoin="round"/>
<path d="M434.0 480.2 L435.5 482.9 L437.3 485.2 L439.3 487.1 L441.2 488.3 L443.1 488.7 L444.6 488.3 L445.7 487.2 L446.2 485.4 L446.2 483.0 L445.6 480.4 L444.5 477.7 L442.9 475.1" fill="none" stroke="#606060" stroke-width="1.22" stroke-linecap="butt" stroke-linejoin="round"/>
<ellipse cx="432.1" cy="483.4" rx="7.5" ry="3.8" transform="rotate(60 432.1 483.4)" fill="#fff" stroke="#4c4c4c" stroke-width="1.35" />
<path d="M421.8 480.7 L428.3 476.9 L435.8 489.9 L429.3 493.7 Z" fill="#fff" stroke="none"/>
<path d="M421.8 480.7 L428.3 476.9" fill="none" stroke="#4c4c4c" stroke-width="1.35" stroke-linecap="butt" stroke-linejoin="round"/>
<path d="M429.3 493.7 L435.8 489.9" fill="none" stroke="#4c4c4c" stroke-width="1.35" stroke-linecap="butt" stroke-linejoin="round"/>
<ellipse cx="425.6" cy="487.2" rx="7.5" ry="3.8" transform="rotate(60 425.6 487.2)" fill="#fff" stroke="#4c4c4c" stroke-width="1.35" />
<ellipse cx="425.6" cy="487.2" rx="14.5" ry="7.2" transform="rotate(60 425.6 487.2)" fill="#fff" stroke="#4c4c4c" stroke-width="1.35" />
<path d="M406.6 481.4 L418.3 474.6 L432.8 499.7 L421.1 506.5 Z" fill="#fff" stroke="none"/>
<path d="M406.6 481.4 L418.3 474.6" fill="none" stroke="#4c4c4c" stroke-width="1.35" stroke-linecap="butt" stroke-linejoin="round"/>
<path d="M421.1 506.5 L432.8 499.7" fill="none" stroke="#4c4c4c" stroke-width="1.35" stroke-linecap="butt" stroke-linejoin="round"/>
<ellipse cx="413.9" cy="493.9" rx="14.5" ry="7.2" transform="rotate(60 413.9 493.9)" fill="#fff" stroke="#4c4c4c" stroke-width="1.35" />
<ellipse cx="413.9" cy="493.9" rx="9.0" ry="4.5" transform="rotate(60 413.9 493.9)" fill="#fff" stroke="#4c4c4c" stroke-width="1.22" />
<ellipse cx="413.9" cy="493.9" rx="4.6" ry="2.3" transform="rotate(60 413.9 493.9)" fill="#555" stroke="#4c4c4c" stroke-width="1.22" />
<ellipse cx="421.1" cy="502.4" rx="2.0" ry="1.0" transform="rotate(60 421.1 502.4)" fill="#333" stroke="#4c4c4c" stroke-width="0.68" />
<ellipse cx="419.9" cy="492.8" rx="2.0" ry="1.0" transform="rotate(60 419.9 492.8)" fill="#333" stroke="#4c4c4c" stroke-width="0.68" />
<ellipse cx="412.7" cy="484.4" rx="2.0" ry="1.0" transform="rotate(60 412.7 484.4)" fill="#333" stroke="#4c4c4c" stroke-width="0.68" />
<ellipse cx="406.7" cy="485.5" rx="2.0" ry="1.0" transform="rotate(60 406.7 485.5)" fill="#333" stroke="#4c4c4c" stroke-width="0.68" />
<ellipse cx="407.9" cy="495.0" rx="2.0" ry="1.0" transform="rotate(60 407.9 495.0)" fill="#333" stroke="#4c4c4c" stroke-width="0.68" />
<ellipse cx="415.1" cy="503.5" rx="2.0" ry="1.0" transform="rotate(60 415.1 503.5)" fill="#333" stroke="#4c4c4c" stroke-width="0.68" />
<ellipse cx="814.8" cy="536.1" rx="10.5" ry="5.2" transform="rotate(60 814.8 536.1)" fill="#fff" stroke="#4c4c4c" stroke-width="1.35" />
<path d="M799.2 533.0 L809.6 527.0 L820.1 545.2 L809.7 551.2 Z" fill="#fff" stroke="none"/>
<path d="M799.2 533.0 L809.6 527.0" fill="none" stroke="#4c4c4c" stroke-width="1.35" stroke-linecap="butt" stroke-linejoin="round"/>
<path d="M809.7 551.2 L820.1 545.2" fill="none" stroke="#4c4c4c" stroke-width="1.35" stroke-linecap="butt" stroke-linejoin="round"/>
<ellipse cx="804.4" cy="542.1" rx="10.5" ry="5.2" transform="rotate(60 804.4 542.1)" fill="#fff" stroke="#4c4c4c" stroke-width="1.35" />
<ellipse cx="804.4" cy="542.1" rx="7.2" ry="3.6" transform="rotate(60 804.4 542.1)" fill="#fff" stroke="#4c4c4c" stroke-width="1.35" />
<path d="M800.0 536.4 L800.8 535.9 L808.0 548.4 L807.2 548.9 Z" fill="#fff" stroke="none"/>
<path d="M800.0 536.4 L800.8 535.9" fill="none" stroke="#4c4c4c" stroke-width="1.35" stroke-linecap="butt" stroke-linejoin="round"/>
<path d="M807.2 548.9 L808.0 548.4" fill="none" stroke="#4c4c4c" stroke-width="1.35" stroke-linecap="butt" stroke-linejoin="round"/>
<ellipse cx="803.6" cy="542.6" rx="7.2" ry="3.6" transform="rotate(60 803.6 542.6)" fill="#fff" stroke="#4c4c4c" stroke-width="1.35" />
<ellipse cx="803.6" cy="542.6" rx="9.5" ry="4.8" transform="rotate(60 803.6 542.6)" fill="#fff" stroke="#4c4c4c" stroke-width="1.35" />
<path d="M793.6 537.4 L798.8 534.4 L808.3 550.8 L803.1 553.8 Z" fill="#fff" stroke="none"/>
<path d="M793.6 537.4 L798.8 534.4" fill="none" stroke="#4c4c4c" stroke-width="1.35" stroke-linecap="butt" stroke-linejoin="round"/>
<path d="M803.1 553.8 L808.3 550.8" fill="none" stroke="#4c4c4c" stroke-width="1.35" stroke-linecap="butt" stroke-linejoin="round"/>
<ellipse cx="798.4" cy="545.6" rx="9.5" ry="4.8" transform="rotate(60 798.4 545.6)" fill="#fff" stroke="#4c4c4c" stroke-width="1.35" />
<path d="M795.3 545.5 L796.7 547.9 L798.3 550.0 L800.1 551.7 L801.9 552.7 L803.6 553.1 L805.0 552.8 L805.9 551.8 L806.4 550.1 L806.4 548.0 L805.9 545.6 L804.8 543.2 L803.4 540.8" fill="none" stroke="#606060" stroke-width="1.22" stroke-linecap="butt" stroke-linejoin="round"/>
<path d="M797.1 544.4 L798.5 546.8 L800.1 549.0 L801.9 550.6 L803.7 551.7 L805.4 552.1 L806.8 551.7 L807.8 550.7 L808.3 549.1 L808.2 547.0 L807.7 544.6 L806.7 542.1 L805.3 539.7" fill="none" stroke="#606060" stroke-width="1.22" stroke-linecap="butt" stroke-linejoin="round"/>
<ellipse cx="798.4" cy="545.6" rx="7.2" ry="3.6" transform="rotate(60 798.4 545.6)" fill="#fff" stroke="#4c4c4c" stroke-width="1.35" />
<path d="M790.5 541.9 L794.8 539.4 L802.0 551.9 L797.7 554.4 Z" fill="#fff" stroke="none"/>
<path d="M790.5 541.9 L794.8 539.4" fill="none" stroke="#4c4c4c" stroke-width="1.35" stroke-linecap="butt" stroke-linejoin="round"/>
<path d="M797.7 554.4 L802.0 551.9" fill="none" stroke="#4c4c4c" stroke-width="1.35" stroke-linecap="butt" stroke-linejoin="round"/>
<ellipse cx="794.1" cy="548.1" rx="7.2" ry="3.6" transform="rotate(60 794.1 548.1)" fill="#fff" stroke="#4c4c4c" stroke-width="1.35" />
<ellipse cx="794.1" cy="548.1" rx="12.0" ry="6.0" transform="rotate(60 794.1 548.1)" fill="#fff" stroke="#4c4c4c" stroke-width="1.35" />
<path d="M778.5 543.2 L788.1 537.7 L800.1 558.5 L790.5 564.0 Z" fill="#fff" stroke="none"/>
<path d="M778.5 543.2 L788.1 537.7" fill="none" stroke="#4c4c4c" stroke-width="1.35" stroke-linecap="butt" stroke-linejoin="round"/>
<path d="M790.5 564.0 L800.1 558.5" fill="none" stroke="#4c4c4c" stroke-width="1.35" stroke-linecap="butt" stroke-linejoin="round"/>
<ellipse cx="784.5" cy="553.6" rx="12.0" ry="6.0" transform="rotate(60 784.5 553.6)" fill="#fff" stroke="#4c4c4c" stroke-width="1.35" />
<path d="M790.6 553.7 L792.2 555.6 L793.9 557.1 L795.7 558.2 L797.3 558.8 L798.8 558.9 L800.1 558.5 L801.0 557.6 L801.7 556.3 L802.0 554.5 L801.9 552.5 L801.4 550.3 L800.6 547.9" fill="none" stroke="#606060" stroke-width="2.56" stroke-linecap="butt" stroke-linejoin="round"/>
<ellipse cx="784.5" cy="553.6" rx="7.2" ry="3.6" transform="rotate(60 784.5 553.6)" fill="#fff" stroke="#4c4c4c" stroke-width="1.35" />
<path d="M774.9 550.9 L780.9 547.4 L788.1 559.9 L782.1 563.4 Z" fill="#fff" stroke="none"/>
<path d="M774.9 550.9 L780.9 547.4" fill="none" stroke="#4c4c4c" stroke-width="1.35" stroke-linecap="butt" stroke-linejoin="round"/>
<path d="M782.1 563.4 L788.1 559.9" fill="none" stroke="#4c4c4c" stroke-width="1.35" stroke-linecap="butt" stroke-linejoin="round"/>
<ellipse cx="778.5" cy="557.1" rx="7.2" ry="3.6" transform="rotate(60 778.5 557.1)" fill="#fff" stroke="#4c4c4c" stroke-width="1.35" />
<ellipse cx="778.5" cy="557.1" rx="12.0" ry="6.0" transform="rotate(60 778.5 557.1)" fill="#fff" stroke="#4c4c4c" stroke-width="1.35" />
<path d="M762.9 552.2 L772.5 546.7 L784.5 567.5 L774.9 573.0 Z" fill="#fff" stroke="none"/>
<path d="M762.9 552.2 L772.5 546.7" fill="none" stroke="#4c4c4c" stroke-width="1.35" stroke-linecap="butt" stroke-linejoin="round"/>
<path d="M774.9 573.0 L784.5 567.5" fill="none" stroke="#4c4c4c" stroke-width="1.35" stroke-linecap="butt" stroke-linejoin="round"/>
<ellipse cx="768.9" cy="562.6" rx="12.0" ry="6.0" transform="rotate(60 768.9 562.6)" fill="#fff" stroke="#4c4c4c" stroke-width="1.35" />
<path d="M775.0 562.7 L776.6 564.6 L778.3 566.1 L780.1 567.2 L781.7 567.8 L783.2 567.9 L784.5 567.5 L785.5 566.6 L786.1 565.3 L786.4 563.5 L786.3 561.5 L785.8 559.3 L785.0 556.9" fill="none" stroke="#606060" stroke-width="2.56" stroke-linecap="butt" stroke-linejoin="round"/>
<ellipse cx="768.9" cy="562.6" rx="7.2" ry="3.6" transform="rotate(60 768.9 562.6)" fill="#fff" stroke="#4c4c4c" stroke-width="1.35" />
<path d="M758.4 560.4 L765.3 556.4 L772.5 568.9 L765.6 572.9 Z" fill="#fff" stroke="none"/>
<path d="M758.4 560.4 L765.3 556.4" fill="none" stroke="#4c4c4c" stroke-width="1.35" stroke-linecap="butt" stroke-linejoin="round"/>
<path d="M765.6 572.9 L772.5 568.9" fill="none" stroke="#4c4c4c" stroke-width="1.35" stroke-linecap="butt" stroke-linejoin="round"/>
<ellipse cx="762.0" cy="566.6" rx="7.2" ry="3.6" transform="rotate(60 762.0 566.6)" fill="#fff" stroke="#4c4c4c" stroke-width="1.35" />
<ellipse cx="762.0" cy="566.6" rx="10.0" ry="5.0" transform="rotate(60 762.0 566.6)" fill="#fff" stroke="#4c4c4c" stroke-width="1.35" />
<path d="M748.4 563.0 L757.0 558.0 L767.0 575.3 L758.4 580.3 Z" fill="#fff" stroke="none"/>
<path d="M748.4 563.0 L757.0 558.0" fill="none" stroke="#4c4c4c" stroke-width="1.35" stroke-linecap="butt" stroke-linejoin="round"/>
<path d="M758.4 580.3 L767.0 575.3" fill="none" stroke="#4c4c4c" stroke-width="1.35" stroke-linecap="butt" stroke-linejoin="round"/>
<ellipse cx="753.4" cy="571.6" rx="10.0" ry="5.0" transform="rotate(60 753.4 571.6)" fill="#fff" stroke="#4c4c4c" stroke-width="1.35" />
<path d="M751.3 570.8 L752.7 573.4 L754.4 575.6 L756.3 577.3 L758.2 578.5 L759.9 578.9 L761.4 578.5 L762.4 577.4 L762.9 575.7 L762.9 573.5 L762.3 571.0 L761.3 568.4 L759.8 565.9" fill="none" stroke="#606060" stroke-width="1.22" stroke-linecap="butt" stroke-linejoin="round"/>
<path d="M754.3 569.1 L755.7 571.6 L757.4 573.8 L759.3 575.6 L761.2 576.7 L763.0 577.1 L764.4 576.8 L765.4 575.7 L766.0 574.0 L765.9 571.8 L765.4 569.3 L764.3 566.6 L762.8 564.2" fill="none" stroke="#606060" stroke-width="1.22" stroke-linecap="butt" stroke-linejoin="round"/>
<ellipse cx="753.4" cy="571.6" rx="7.2" ry="3.6" transform="rotate(60 753.4 571.6)" fill="#fff" stroke="#4c4c4c" stroke-width="1.35" />
<path d="M744.6 568.4 L749.8 565.4 L757.0 577.9 L751.8 580.9 Z" fill="#fff" stroke="none"/>
<path d="M744.6 568.4 L749.8 565.4" fill="none" stroke="#4c4c4c" stroke-width="1.35" stroke-linecap="butt" stroke-linejoin="round"/>
<path d="M751.8 580.9 L757.0 577.9" fill="none" stroke="#4c4c4c" stroke-width="1.35" stroke-linecap="butt" stroke-linejoin="round"/>
<ellipse cx="748.2" cy="574.6" rx="7.2" ry="3.6" transform="rotate(60 748.2 574.6)" fill="#fff" stroke="#4c4c4c" stroke-width="1.35" />
<ellipse cx="748.2" cy="574.6" rx="12.0" ry="6.0" transform="rotate(60 748.2 574.6)" fill="#fff" stroke="#4c4c4c" stroke-width="1.35" />
<path d="M732.6 569.7 L742.2 564.2 L754.2 585.0 L744.6 590.5 Z" fill="#fff" stroke="none"/>
<path d="M732.6 569.7 L742.2 564.2" fill="none" stroke="#4c4c4c" stroke-width="1.35" stroke-linecap="butt" stroke-linejoin="round"/>
<path d="M744.6 590.5 L754.2 585.0" fill="none" stroke="#4c4c4c" stroke-width="1.35" stroke-linecap="butt" stroke-linejoin="round"/>
<ellipse cx="738.6" cy="580.1" rx="12.0" ry="6.0" transform="rotate(60 738.6 580.1)" fill="#fff" stroke="#4c4c4c" stroke-width="1.35" />
<path d="M744.7 580.2 L746.3 582.1 L748.0 583.6 L749.8 584.7 L751.4 585.3 L752.9 585.4 L754.2 585.0 L755.1 584.1 L755.8 582.8 L756.1 581.0 L756.0 579.0 L755.5 576.8 L754.7 574.4" fill="none" stroke="#606060" stroke-width="2.56" stroke-linecap="butt" stroke-linejoin="round"/>
<ellipse cx="738.6" cy="580.1" rx="7.2" ry="3.6" transform="rotate(60 738.6 580.1)" fill="#fff" stroke="#4c4c4c" stroke-width="1.35" />
<path d="M729.8 576.9 L735.0 573.9 L742.2 586.4 L737.0 589.4 Z" fill="#fff" stroke="none"/>
<path d="M729.8 576.9 L735.0 573.9" fill="none" stroke="#4c4c4c" stroke-width="1.35" stroke-linecap="butt" stroke-linejoin="round"/>
<path d="M737.0 589.4 L742.2 586.4" fill="none" stroke="#4c4c4c" stroke-width="1.35" stroke-linecap="butt" stroke-linejoin="round"/>
<ellipse cx="733.4" cy="583.1" rx="7.2" ry="3.6" transform="rotate(60 733.4 583.1)" fill="#fff" stroke="#4c4c4c" stroke-width="1.35" />
<ellipse cx="733.4" cy="583.1" rx="12.0" ry="6.0" transform="rotate(60 733.4 583.1)" fill="#fff" stroke="#4c4c4c" stroke-width="1.35" />
<path d="M717.9 578.2 L727.4 572.7 L739.4 593.5 L729.9 599.0 Z" fill="#fff" stroke="none"/>
<path d="M717.9 578.2 L727.4 572.7" fill="none" stroke="#4c4c4c" stroke-width="1.35" stroke-linecap="butt" stroke-linejoin="round"/>
<path d="M729.9 599.0 L739.4 593.5" fill="none" stroke="#4c4c4c" stroke-width="1.35" stroke-linecap="butt" stroke-linejoin="round"/>
<ellipse cx="723.9" cy="588.6" rx="12.0" ry="6.0" transform="rotate(60 723.9 588.6)" fill="#fff" stroke="#4c4c4c" stroke-width="1.35" />
<path d="M730.0 588.7 L731.6 590.6 L733.3 592.1 L735.0 593.2 L736.7 593.8 L738.2 593.9 L739.4 593.5 L740.4 592.6 L741.1 591.3 L741.4 589.5 L741.3 587.5 L740.8 585.3 L740.0 582.9" fill="none" stroke="#606060" stroke-width="2.56" stroke-linecap="butt" stroke-linejoin="round"/>
<ellipse cx="723.9" cy="588.6" rx="7.2" ry="3.6" transform="rotate(60 723.9 588.6)" fill="#fff" stroke="#4c4c4c" stroke-width="1.35" />
<path d="M716.0 584.9 L720.3 582.4 L727.5 594.9 L723.2 597.4 Z" fill="#fff" stroke="none"/>
<path d="M716.0 584.9 L720.3 582.4" fill="none" stroke="#4c4c4c" stroke-width="1.35" stroke-linecap="butt" stroke-linejoin="round"/>
<path d="M723.2 597.4 L727.5 594.9" fill="none" stroke="#4c4c4c" stroke-width="1.35" stroke-linecap="butt" stroke-linejoin="round"/>
<ellipse cx="719.6" cy="591.1" rx="7.2" ry="3.6" transform="rotate(60 719.6 591.1)" fill="#fff" stroke="#4c4c4c" stroke-width="1.35" />
<ellipse cx="719.6" cy="591.1" rx="10.5" ry="5.2" transform="rotate(60 719.6 591.1)" fill="#fff" stroke="#4c4c4c" stroke-width="1.35" />
<path d="M703.9 588.0 L714.3 582.0 L724.8 600.2 L714.4 606.2 Z" fill="#fff" stroke="none"/>
<path d="M703.9 588.0 L714.3 582.0" fill="none" stroke="#4c4c4c" stroke-width="1.35" stroke-linecap="butt" stroke-linejoin="round"/>
<path d="M714.4 606.2 L724.8 600.2" fill="none" stroke="#4c4c4c" stroke-width="1.35" stroke-linecap="butt" stroke-linejoin="round"/>
<ellipse cx="709.2" cy="597.1" rx="10.5" ry="5.2" transform="rotate(60 709.2 597.1)" fill="#fff" stroke="#4c4c4c" stroke-width="1.35" />
<path d="M707.4 596.0 L708.9 598.7 L710.7 601.0 L712.7 602.9 L714.7 604.1 L716.5 604.5 L718.1 604.1 L719.2 603.0 L719.7 601.2 L719.7 598.9 L719.1 596.2 L717.9 593.5 L716.4 590.9" fill="none" stroke="#606060" stroke-width="1.22" stroke-linecap="butt" stroke-linejoin="round"/>
<path d="M711.1 593.9 L712.6 596.6 L714.4 598.9 L716.4 600.8 L718.3 602.0 L720.2 602.4 L721.7 602.0 L722.8 600.9 L723.3 599.1 L723.3 596.8 L722.7 594.1 L721.6 591.4 L720.0 588.8" fill="none" stroke="#606060" stroke-width="1.22" stroke-linecap="butt" stroke-linejoin="round"/>
<ellipse cx="709.2" cy="597.1" rx="7.5" ry="3.8" transform="rotate(60 709.2 597.1)" fill="#fff" stroke="#4c4c4c" stroke-width="1.35" />
<path d="M698.9 594.4 L705.4 590.6 L712.9 603.6 L706.4 607.4 Z" fill="#fff" stroke="none"/>
<path d="M698.9 594.4 L705.4 590.6" fill="none" stroke="#4c4c4c" stroke-width="1.35" stroke-linecap="butt" stroke-linejoin="round"/>
<path d="M706.4 607.4 L712.9 603.6" fill="none" stroke="#4c4c4c" stroke-width="1.35" stroke-linecap="butt" stroke-linejoin="round"/>
<ellipse cx="702.7" cy="600.9" rx="7.5" ry="3.8" transform="rotate(60 702.7 600.9)" fill="#fff" stroke="#4c4c4c" stroke-width="1.35" />
<ellipse cx="702.7" cy="600.9" rx="14.5" ry="7.2" transform="rotate(60 702.7 600.9)" fill="#fff" stroke="#4c4c4c" stroke-width="1.35" />
<path d="M683.8 595.1 L695.4 588.3 L709.9 613.4 L698.2 620.2 Z" fill="#fff" stroke="none"/>
<path d="M683.8 595.1 L695.4 588.3" fill="none" stroke="#4c4c4c" stroke-width="1.35" stroke-linecap="butt" stroke-linejoin="round"/>
<path d="M698.2 620.2 L709.9 613.4" fill="none" stroke="#4c4c4c" stroke-width="1.35" stroke-linecap="butt" stroke-linejoin="round"/>
<ellipse cx="691.0" cy="607.6" rx="14.5" ry="7.2" transform="rotate(60 691.0 607.6)" fill="#fff" stroke="#4c4c4c" stroke-width="1.35" />
<ellipse cx="691.0" cy="607.6" rx="9.0" ry="4.5" transform="rotate(60 691.0 607.6)" fill="#fff" stroke="#4c4c4c" stroke-width="1.22" />
<ellipse cx="691.0" cy="607.6" rx="4.6" ry="2.3" transform="rotate(60 691.0 607.6)" fill="#555" stroke="#4c4c4c" stroke-width="1.22" />
<ellipse cx="698.2" cy="616.1" rx="2.0" ry="1.0" transform="rotate(60 698.2 616.1)" fill="#333" stroke="#4c4c4c" stroke-width="0.68" />
<ellipse cx="697.0" cy="606.5" rx="2.0" ry="1.0" transform="rotate(60 697.0 606.5)" fill="#333" stroke="#4c4c4c" stroke-width="0.68" />
<ellipse cx="689.8" cy="598.1" rx="2.0" ry="1.0" transform="rotate(60 689.8 598.1)" fill="#333" stroke="#4c4c4c" stroke-width="0.68" />
<ellipse cx="683.8" cy="599.2" rx="2.0" ry="1.0" transform="rotate(60 683.8 599.2)" fill="#333" stroke="#4c4c4c" stroke-width="0.68" />
<ellipse cx="685.0" cy="608.7" rx="2.0" ry="1.0" transform="rotate(60 685.0 608.7)" fill="#333" stroke="#4c4c4c" stroke-width="0.68" />
<ellipse cx="692.2" cy="617.2" rx="2.0" ry="1.0" transform="rotate(60 692.2 617.2)" fill="#333" stroke="#4c4c4c" stroke-width="0.68" />
<ellipse cx="820.6" cy="590.0" rx="10.0" ry="5.0" transform="rotate(60 820.6 590.0)" fill="#fff" stroke="#4c4c4c" stroke-width="1.35" />
<path d="M804.4 587.8 L815.6 581.3 L825.6 598.6 L814.4 605.1 Z" fill="#fff" stroke="none"/>
<path d="M804.4 587.8 L815.6 581.3" fill="none" stroke="#4c4c4c" stroke-width="1.35" stroke-linecap="butt" stroke-linejoin="round"/>
<path d="M814.4 605.1 L825.6 598.6" fill="none" stroke="#4c4c4c" stroke-width="1.35" stroke-linecap="butt" stroke-linejoin="round"/>
<ellipse cx="809.4" cy="596.5" rx="10.0" ry="5.0" transform="rotate(60 809.4 596.5)" fill="#fff" stroke="#4c4c4c" stroke-width="1.35" />
<ellipse cx="809.4" cy="596.5" rx="7.2" ry="3.6" transform="rotate(60 809.4 596.5)" fill="#fff" stroke="#4c4c4c" stroke-width="1.35" />
<path d="M799.7 593.8 L805.8 590.3 L813.0 602.7 L806.9 606.2 Z" fill="#fff" stroke="none"/>
<path d="M799.7 593.8 L805.8 590.3" fill="none" stroke="#4c4c4c" stroke-width="1.35" stroke-linecap="butt" stroke-linejoin="round"/>
<path d="M806.9 606.2 L813.0 602.7" fill="none" stroke="#4c4c4c" stroke-width="1.35" stroke-linecap="butt" stroke-linejoin="round"/>
<ellipse cx="803.3" cy="600.0" rx="7.2" ry="3.6" transform="rotate(60 803.3 600.0)" fill="#fff" stroke="#4c4c4c" stroke-width="1.35" />
<ellipse cx="803.3" cy="600.0" rx="12.0" ry="6.0" transform="rotate(60 803.3 600.0)" fill="#fff" stroke="#4c4c4c" stroke-width="1.35" />
<path d="M787.8 595.1 L797.3 589.6 L809.3 610.4 L799.8 615.9 Z" fill="#fff" stroke="none"/>
<path d="M787.8 595.1 L797.3 589.6" fill="none" stroke="#4c4c4c" stroke-width="1.35" stroke-linecap="butt" stroke-linejoin="round"/>
<path d="M799.8 615.9 L809.3 610.4" fill="none" stroke="#4c4c4c" stroke-width="1.35" stroke-linecap="butt" stroke-linejoin="round"/>
<ellipse cx="793.8" cy="605.5" rx="12.0" ry="6.0" transform="rotate(60 793.8 605.5)" fill="#fff" stroke="#4c4c4c" stroke-width="1.35" />
<path d="M799.8 605.6 L801.5 607.4 L803.2 609.0 L804.9 610.1 L806.5 610.7 L808.0 610.8 L809.3 610.4 L810.3 609.5 L810.9 608.1 L811.2 606.4 L811.1 604.4 L810.7 602.1 L809.9 599.8" fill="none" stroke="#606060" stroke-width="2.56" stroke-linecap="butt" stroke-linejoin="round"/>
<ellipse cx="793.8" cy="605.5" rx="7.2" ry="3.6" transform="rotate(60 793.8 605.5)" fill="#fff" stroke="#4c4c4c" stroke-width="1.35" />
<path d="M785.0 602.3 L790.2 599.3 L797.4 611.7 L792.2 614.7 Z" fill="#fff" stroke="none"/>
<path d="M785.0 602.3 L790.2 599.3" fill="none" stroke="#4c4c4c" stroke-width="1.35" stroke-linecap="butt" stroke-linejoin="round"/>
<path d="M792.2 614.7 L797.4 611.7" fill="none" stroke="#4c4c4c" stroke-width="1.35" stroke-linecap="butt" stroke-linejoin="round"/>
<ellipse cx="788.6" cy="608.5" rx="7.2" ry="3.6" transform="rotate(60 788.6 608.5)" fill="#fff" stroke="#4c4c4c" stroke-width="1.35" />
<ellipse cx="788.6" cy="608.5" rx="12.0" ry="6.0" transform="rotate(60 788.6 608.5)" fill="#fff" stroke="#4c4c4c" stroke-width="1.35" />
<path d="M773.0 603.6 L782.6 598.1 L794.6 618.9 L785.0 624.4 Z" fill="#fff" stroke="none"/>
<path d="M773.0 603.6 L782.6 598.1" fill="none" stroke="#4c4c4c" stroke-width="1.35" stroke-linecap="butt" stroke-linejoin="round"/>
<path d="M785.0 624.4 L794.6 618.9" fill="none" stroke="#4c4c4c" stroke-width="1.35" stroke-linecap="butt" stroke-linejoin="round"/>
<ellipse cx="779.0" cy="614.0" rx="12.0" ry="6.0" transform="rotate(60 779.0 614.0)" fill="#fff" stroke="#4c4c4c" stroke-width="1.35" />
<path d="M785.1 614.1 L786.7 615.9 L788.4 617.5 L790.2 618.6 L791.8 619.2 L793.3 619.3 L794.6 618.9 L795.5 618.0 L796.2 616.6 L796.5 614.9 L796.4 612.9 L795.9 610.6 L795.1 608.3" fill="none" stroke="#606060" stroke-width="2.56" stroke-linecap="butt" stroke-linejoin="round"/>
<ellipse cx="779.0" cy="614.0" rx="7.2" ry="3.6" transform="rotate(60 779.0 614.0)" fill="#fff" stroke="#4c4c4c" stroke-width="1.35" />
<path d="M769.4 611.3 L775.4 607.8 L782.6 620.2 L776.6 623.7 Z" fill="#fff" stroke="none"/>
<path d="M769.4 611.3 L775.4 607.8" fill="none" stroke="#4c4c4c" stroke-width="1.35" stroke-linecap="butt" stroke-linejoin="round"/>
<path d="M776.6 623.7 L782.6 620.2" fill="none" stroke="#4c4c4c" stroke-width="1.35" stroke-linecap="butt" stroke-linejoin="round"/>
<ellipse cx="773.0" cy="617.5" rx="7.2" ry="3.6" transform="rotate(60 773.0 617.5)" fill="#fff" stroke="#4c4c4c" stroke-width="1.35" />
<ellipse cx="773.0" cy="617.5" rx="10.0" ry="5.0" transform="rotate(60 773.0 617.5)" fill="#fff" stroke="#4c4c4c" stroke-width="1.35" />
<path d="M759.3 613.8 L768.0 608.8 L778.0 626.1 L769.3 631.1 Z" fill="#fff" stroke="none"/>
<path d="M759.3 613.8 L768.0 608.8" fill="none" stroke="#4c4c4c" stroke-width="1.35" stroke-linecap="butt" stroke-linejoin="round"/>
<path d="M769.3 631.1 L778.0 626.1" fill="none" stroke="#4c4c4c" stroke-width="1.35" stroke-linecap="butt" stroke-linejoin="round"/>
<ellipse cx="764.3" cy="622.5" rx="10.0" ry="5.0" transform="rotate(60 764.3 622.5)" fill="#fff" stroke="#4c4c4c" stroke-width="1.35" />
<path d="M762.2 621.7 L763.6 624.2 L765.4 626.5 L767.2 628.2 L769.1 629.3 L770.9 629.7 L772.3 629.4 L773.4 628.3 L773.9 626.6 L773.9 624.4 L773.3 621.9 L772.2 619.3 L770.7 616.8" fill="none" stroke="#606060" stroke-width="1.22" stroke-linecap="butt" stroke-linejoin="round"/>
<path d="M765.2 619.9 L766.7 622.5 L768.4 624.7 L770.3 626.5 L772.2 627.6 L773.9 628.0 L775.4 627.6 L776.4 626.6 L776.9 624.8 L776.9 622.6 L776.3 620.1 L775.3 617.5 L773.8 615.0" fill="none" stroke="#606060" stroke-width="1.22" stroke-linecap="butt" stroke-linejoin="round"/>
<ellipse cx="764.3" cy="622.5" rx="7.2" ry="3.6" transform="rotate(60 764.3 622.5)" fill="#fff" stroke="#4c4c4c" stroke-width="1.35" />
<path d="M755.5 619.3 L760.7 616.3 L767.9 628.7 L762.7 631.7 Z" fill="#fff" stroke="none"/>
<path d="M755.5 619.3 L760.7 616.3" fill="none" stroke="#4c4c4c" stroke-width="1.35" stroke-linecap="butt" stroke-linejoin="round"/>
<path d="M762.7 631.7 L767.9 628.7" fill="none" stroke="#4c4c4c" stroke-width="1.35" stroke-linecap="butt" stroke-linejoin="round"/>
<ellipse cx="759.1" cy="625.5" rx="7.2" ry="3.6" transform="rotate(60 759.1 625.5)" fill="#fff" stroke="#4c4c4c" stroke-width="1.35" />
<ellipse cx="759.1" cy="625.5" rx="12.0" ry="6.0" transform="rotate(60 759.1 625.5)" fill="#fff" stroke="#4c4c4c" stroke-width="1.35" />
<path d="M743.6 620.6 L753.1 615.1 L765.1 635.9 L755.6 641.4 Z" fill="#fff" stroke="none"/>
<path d="M743.6 620.6 L753.1 615.1" fill="none" stroke="#4c4c4c" stroke-width="1.35" stroke-linecap="butt" stroke-linejoin="round"/>
<path d="M755.6 641.4 L765.1 635.9" fill="none" stroke="#4c4c4c" stroke-width="1.35" stroke-linecap="butt" stroke-linejoin="round"/>
<ellipse cx="749.6" cy="631.0" rx="12.0" ry="6.0" transform="rotate(60 749.6 631.0)" fill="#fff" stroke="#4c4c4c" stroke-width="1.35" />
<path d="M755.7 631.1 L757.3 632.9 L759.0 634.5 L760.7 635.6 L762.4 636.2 L763.9 636.3 L765.1 635.9 L766.1 635.0 L766.8 633.6 L767.0 631.9 L767.0 629.9 L766.5 627.6 L765.7 625.3" fill="none" stroke="#606060" stroke-width="2.56" stroke-linecap="butt" stroke-linejoin="round"/>
<ellipse cx="749.6" cy="631.0" rx="7.2" ry="3.6" transform="rotate(60 749.6 631.0)" fill="#fff" stroke="#4c4c4c" stroke-width="1.35" />
<path d="M740.8 627.8 L746.0 624.8 L753.2 637.2 L748.0 640.2 Z" fill="#fff" stroke="none"/>
<path d="M740.8 627.8 L746.0 624.8" fill="none" stroke="#4c4c4c" stroke-width="1.35" stroke-linecap="butt" stroke-linejoin="round"/>
<path d="M748.0 640.2 L753.2 637.2" fill="none" stroke="#4c4c4c" stroke-width="1.35" stroke-linecap="butt" stroke-linejoin="round"/>
<ellipse cx="744.4" cy="634.0" rx="7.2" ry="3.6" transform="rotate(60 744.4 634.0)" fill="#fff" stroke="#4c4c4c" stroke-width="1.35" />
<ellipse cx="744.4" cy="634.0" rx="12.0" ry="6.0" transform="rotate(60 744.4 634.0)" fill="#fff" stroke="#4c4c4c" stroke-width="1.35" />
<path d="M728.9 629.1 L738.4 623.6 L750.4 644.4 L740.9 649.9 Z" fill="#fff" stroke="none"/>
<path d="M728.9 629.1 L738.4 623.6" fill="none" stroke="#4c4c4c" stroke-width="1.35" stroke-linecap="butt" stroke-linejoin="round"/>
<path d="M740.9 649.9 L750.4 644.4" fill="none" stroke="#4c4c4c" stroke-width="1.35" stroke-linecap="butt" stroke-linejoin="round"/>
<ellipse cx="734.9" cy="639.5" rx="12.0" ry="6.0" transform="rotate(60 734.9 639.5)" fill="#fff" stroke="#4c4c4c" stroke-width="1.35" />
<path d="M740.9 639.6 L742.6 641.4 L744.3 643.0 L746.0 644.1 L747.6 644.7 L749.1 644.8 L750.4 644.4 L751.4 643.5 L752.0 642.1 L752.3 640.4 L752.2 638.4 L751.8 636.1 L751.0 633.8" fill="none" stroke="#606060" stroke-width="2.56" stroke-linecap="butt" stroke-linejoin="round"/>
<ellipse cx="734.9" cy="639.5" rx="7.2" ry="3.6" transform="rotate(60 734.9 639.5)" fill="#fff" stroke="#4c4c4c" stroke-width="1.35" />
<path d="M723.5 637.8 L731.3 633.3 L738.5 645.7 L730.7 650.2 Z" fill="#fff" stroke="none"/>
<path d="M723.5 637.8 L731.3 633.3" fill="none" stroke="#4c4c4c" stroke-width="1.35" stroke-linecap="butt" stroke-linejoin="round"/>
<path d="M730.7 650.2 L738.5 645.7" fill="none" stroke="#4c4c4c" stroke-width="1.35" stroke-linecap="butt" stroke-linejoin="round"/>
<ellipse cx="727.1" cy="644.0" rx="7.2" ry="3.6" transform="rotate(60 727.1 644.0)" fill="#fff" stroke="#4c4c4c" stroke-width="1.35" />
<ellipse cx="727.1" cy="644.0" rx="10.5" ry="5.2" transform="rotate(60 727.1 644.0)" fill="#fff" stroke="#4c4c4c" stroke-width="1.35" />
<path d="M711.4 640.9 L721.8 634.9 L732.3 653.1 L721.9 659.1 Z" fill="#fff" stroke="none"/>
<path d="M711.4 640.9 L721.8 634.9" fill="none" stroke="#4c4c4c" stroke-width="1.35" stroke-linecap="butt" stroke-linejoin="round"/>
<path d="M721.9 659.1 L732.3 653.1" fill="none" stroke="#4c4c4c" stroke-width="1.35" stroke-linecap="butt" stroke-linejoin="round"/>
<ellipse cx="716.7" cy="650.0" rx="10.5" ry="5.2" transform="rotate(60 716.7 650.0)" fill="#fff" stroke="#4c4c4c" stroke-width="1.35" />
<path d="M714.9 648.9 L716.4 651.5 L718.2 653.9 L720.2 655.7 L722.2 656.9 L724.0 657.3 L725.6 657.0 L726.7 655.8 L727.2 654.0 L727.2 651.7 L726.6 649.1 L725.4 646.3 L723.9 643.7" fill="none" stroke="#606060" stroke-width="1.22" stroke-linecap="butt" stroke-linejoin="round"/>
<path d="M718.6 646.8 L720.1 649.4 L721.9 651.8 L723.9 653.6 L725.8 654.8 L727.7 655.2 L729.2 654.9 L730.3 653.7 L730.8 651.9 L730.8 649.6 L730.2 647.0 L729.1 644.2 L727.5 641.6" fill="none" stroke="#606060" stroke-width="1.22" stroke-linecap="butt" stroke-linejoin="round"/>
<ellipse cx="716.7" cy="650.0" rx="7.5" ry="3.8" transform="rotate(60 716.7 650.0)" fill="#fff" stroke="#4c4c4c" stroke-width="1.35" />
<path d="M706.4 647.2 L712.9 643.5 L720.4 656.5 L713.9 660.2 Z" fill="#fff" stroke="none"/>
<path d="M706.4 647.2 L712.9 643.5" fill="none" stroke="#4c4c4c" stroke-width="1.35" stroke-linecap="butt" stroke-linejoin="round"/>
<path d="M713.9 660.2 L720.4 656.5" fill="none" stroke="#4c4c4c" stroke-width="1.35" stroke-linecap="butt" stroke-linejoin="round"/>
<ellipse cx="710.2" cy="653.7" rx="7.5" ry="3.8" transform="rotate(60 710.2 653.7)" fill="#fff" stroke="#4c4c4c" stroke-width="1.35" />
<ellipse cx="710.2" cy="653.7" rx="14.5" ry="7.2" transform="rotate(60 710.2 653.7)" fill="#fff" stroke="#4c4c4c" stroke-width="1.35" />
<path d="M691.2 647.9 L702.9 641.2 L717.4 666.3 L705.8 673.0 Z" fill="#fff" stroke="none"/>
<path d="M691.2 647.9 L702.9 641.2" fill="none" stroke="#4c4c4c" stroke-width="1.35" stroke-linecap="butt" stroke-linejoin="round"/>
<path d="M705.8 673.0 L717.4 666.3" fill="none" stroke="#4c4c4c" stroke-width="1.35" stroke-linecap="butt" stroke-linejoin="round"/>
<ellipse cx="698.5" cy="660.5" rx="14.5" ry="7.2" transform="rotate(60 698.5 660.5)" fill="#fff" stroke="#4c4c4c" stroke-width="1.35" />
<ellipse cx="698.5" cy="660.5" rx="9.0" ry="4.5" transform="rotate(60 698.5 660.5)" fill="#fff" stroke="#4c4c4c" stroke-width="1.22" />
<ellipse cx="698.5" cy="660.5" rx="4.6" ry="2.3" transform="rotate(60 698.5 660.5)" fill="#555" stroke="#4c4c4c" stroke-width="1.22" />
<ellipse cx="705.7" cy="668.9" rx="2.0" ry="1.0" transform="rotate(60 705.7 668.9)" fill="#333" stroke="#4c4c4c" stroke-width="0.68" />
<ellipse cx="704.5" cy="659.4" rx="2.0" ry="1.0" transform="rotate(60 704.5 659.4)" fill="#333" stroke="#4c4c4c" stroke-width="0.68" />
<ellipse cx="697.3" cy="650.9" rx="2.0" ry="1.0" transform="rotate(60 697.3 650.9)" fill="#333" stroke="#4c4c4c" stroke-width="0.68" />
<ellipse cx="691.3" cy="652.0" rx="2.0" ry="1.0" transform="rotate(60 691.3 652.0)" fill="#333" stroke="#4c4c4c" stroke-width="0.68" />
<ellipse cx="692.5" cy="661.6" rx="2.0" ry="1.0" transform="rotate(60 692.5 661.6)" fill="#333" stroke="#4c4c4c" stroke-width="0.68" />
<ellipse cx="699.7" cy="670.0" rx="2.0" ry="1.0" transform="rotate(60 699.7 670.0)" fill="#333" stroke="#4c4c4c" stroke-width="0.68" />
<path d="M327.8 481.4 L302.7 495.9 L299.8 506.8 L310.7 509.7 L332.3 497.2" fill="none" stroke="#4c4c4c" stroke-width="1.35" stroke-linecap="butt" stroke-linejoin="round"/>
<path d="M303.2 504.8 L335.3 486.3" fill="none" stroke="#888888" stroke-width="1.55" stroke-dasharray="11 2.5 3 2.5" stroke-linecap="butt" stroke-linejoin="round"/>
<path d="M319.1 540.0 L301.8 550.0 L299.1 560.2 L309.3 563.0 L323.2 555.0" fill="none" stroke="#4c4c4c" stroke-width="1.35" stroke-linecap="butt" stroke-linejoin="round"/>
<path d="M302.5 558.2 L326.3 544.5" fill="none" stroke="#888888" stroke-width="1.55" stroke-dasharray="11 2.5 3 2.5" stroke-linecap="butt" stroke-linejoin="round"/>
<path d="M619.3 640.2 L604.5 648.7 L601.0 659.6 L612.2 662.0 L623.5 655.5" fill="none" stroke="#4c4c4c" stroke-width="1.35" stroke-linecap="butt" stroke-linejoin="round"/>
<path d="M604.5 657.6 L626.6 644.8" fill="none" stroke="#888888" stroke-width="1.55" stroke-dasharray="11 2.5 3 2.5" stroke-linecap="butt" stroke-linejoin="round"/>
<path d="M618.2 698.0 L603.4 706.5 L599.9 717.4 L611.1 719.8 L622.4 713.3" fill="none" stroke="#4c4c4c" stroke-width="1.35" stroke-linecap="butt" stroke-linejoin="round"/>
<path d="M603.4 715.4 L625.5 702.7" fill="none" stroke="#888888" stroke-width="1.55" stroke-dasharray="11 2.5 3 2.5" stroke-linecap="butt" stroke-linejoin="round"/>
<path d="M367.1 457.5 L398.3 439.5" fill="none" stroke="#4c4c4c" stroke-width="1.35" stroke-linecap="butt" stroke-linejoin="round"/>
<path d="M371.6 465.3 L402.8 447.3" fill="none" stroke="#888888" stroke-width="1.55" stroke-dasharray="11 2.5 3 2.5" stroke-linecap="butt" stroke-linejoin="round"/>
<path d="M376.1 473.1 L407.3 455.1" fill="none" stroke="#4c4c4c" stroke-width="1.35" stroke-linecap="butt" stroke-linejoin="round"/>
<path d="M352.1 519.2 L383.3 501.2" fill="none" stroke="#4c4c4c" stroke-width="1.35" stroke-linecap="butt" stroke-linejoin="round"/>
<path d="M356.6 527.0 L387.8 509.0" fill="none" stroke="#888888" stroke-width="1.55" stroke-dasharray="11 2.5 3 2.5" stroke-linecap="butt" stroke-linejoin="round"/>
<path d="M361.1 534.8 L392.3 516.8" fill="none" stroke="#4c4c4c" stroke-width="1.35" stroke-linecap="butt" stroke-linejoin="round"/>
<path d="M646.3 623.0 L677.5 605.0" fill="none" stroke="#4c4c4c" stroke-width="1.35" stroke-linecap="butt" stroke-linejoin="round"/>
<path d="M650.8 630.8 L682.0 612.8" fill="none" stroke="#888888" stroke-width="1.55" stroke-dasharray="11 2.5 3 2.5" stroke-linecap="butt" stroke-linejoin="round"/>
<path d="M655.3 638.6 L686.5 620.6" fill="none" stroke="#4c4c4c" stroke-width="1.35" stroke-linecap="butt" stroke-linejoin="round"/>
<path d="M645.2 680.9 L676.4 662.9" fill="none" stroke="#4c4c4c" stroke-width="1.35" stroke-linecap="butt" stroke-linejoin="round"/>
<path d="M649.7 688.7 L680.9 670.7" fill="none" stroke="#888888" stroke-width="1.55" stroke-dasharray="11 2.5 3 2.5" stroke-linecap="butt" stroke-linejoin="round"/>
<path d="M654.2 696.4 L685.4 678.4" fill="none" stroke="#4c4c4c" stroke-width="1.35" stroke-linecap="butt" stroke-linejoin="round"/>
<ellipse cx="369.9" cy="466.3" rx="28.5" ry="15.7" transform="rotate(60 369.9 466.3)" fill="#fff" stroke="#4c4c4c" stroke-width="1.35" />
<ellipse cx="369.9" cy="466.3" rx="27.3" ry="15.0" transform="rotate(60 369.9 466.3)" fill="none" stroke="#333" stroke-width="3" stroke-dasharray="1.7 1.5"/>
<ellipse cx="366.0" cy="468.6" rx="28.5" ry="15.7" transform="rotate(60 366.0 468.6)" fill="#fff" stroke="#4c4c4c" stroke-width="1.35" />
<ellipse cx="366.0" cy="468.6" rx="27.2" ry="15.0" transform="rotate(60 366.0 468.6)" fill="none" stroke="#3a3a3a" stroke-width="2.6" stroke-dasharray="1.7 1.5"/>
<ellipse cx="366.0" cy="468.6" rx="25.5" ry="14.0" transform="rotate(60 366.0 468.6)" fill="#fff" stroke="#4c4c4c" stroke-width="1.22" />
<ellipse cx="366.0" cy="468.6" rx="25.8" ry="14.2" transform="rotate(60 366.0 468.6)" fill="#fff" stroke="#4c4c4c" stroke-width="1.35" />
<path d="M334.5 457.0 L353.1 446.2 L378.9 490.9 L360.3 501.7 Z" fill="#fff" stroke="none"/>
<path d="M334.5 457.0 L353.1 446.2" fill="none" stroke="#4c4c4c" stroke-width="1.35" stroke-linecap="butt" stroke-linejoin="round"/>
<path d="M360.3 501.7 L378.9 490.9" fill="none" stroke="#4c4c4c" stroke-width="1.35" stroke-linecap="butt" stroke-linejoin="round"/>
<ellipse cx="347.4" cy="479.3" rx="25.8" ry="14.2" transform="rotate(60 347.4 479.3)" fill="#fff" stroke="#4c4c4c" stroke-width="1.35" />
<path d="M342.0 478.8 L344.7 483.5 L347.9 487.9 L351.4 491.6 L355.1 494.6 L358.9 496.7 L362.5 497.8 L365.8 497.8 L368.7 496.8 L371.0 494.8 L372.6 491.9 L373.5 488.3 L373.5 484.0 L372.8 479.3 L371.3 474.3 L369.2 469.4 L366.4 464.7" fill="none" stroke="#606060" stroke-width="1.22" stroke-linecap="butt" stroke-linejoin="round"/>
<path d="M348.5 475.0 L351.2 479.8 L354.4 484.1 L357.9 487.9 L361.6 490.8 L365.4 492.9 L369.0 494.0 L372.3 494.0 L375.2 493.1 L377.5 491.1 L379.1 488.2 L380.0 484.5 L380.0 480.2 L379.3 475.5 L377.9 470.6 L375.7 465.6 L372.9 460.9" fill="none" stroke="#606060" stroke-width="1.22" stroke-linecap="butt" stroke-linejoin="round"/>
<path d="M348.7 462.2 L355.2 458.4" fill="none" stroke="#6a6a6a" stroke-width="1.22" stroke-linecap="butt" stroke-linejoin="round"/>
<ellipse cx="347.4" cy="479.3" rx="25.8" ry="14.2" transform="rotate(60 347.4 479.3)" fill="#fff" stroke="#4c4c4c" stroke-width="1.35" />
<ellipse cx="347.4" cy="479.3" rx="24.0" ry="13.2" transform="rotate(60 347.4 479.3)" fill="#2b2b2b" stroke="#4c4c4c" stroke-width="0.81" />
<ellipse cx="347.4" cy="479.3" rx="20.6" ry="11.4" transform="rotate(60 347.4 479.3)" fill="#c8c8c8" stroke="#4c4c4c" stroke-width="1.08" />
<ellipse cx="347.4" cy="479.3" rx="18.1" ry="9.9" transform="rotate(60 347.4 479.3)" fill="#252525" stroke="#4c4c4c" stroke-width="0.81" />
<path d="M350.0 474.9 L335.7 474.0 L349.0 492.7 Z" fill="#ddd" stroke="#eee" stroke-width="4.59" stroke-linecap="butt" stroke-linejoin="round"/>
<path d="M350.0 474.9 L335.7 474.0 L349.0 492.7 Z" fill="none" stroke="#505050" stroke-width="1.08" stroke-linecap="butt" stroke-linejoin="round"/>
<ellipse cx="350.0" cy="474.9" rx="3.0" ry="1.8" transform="rotate(60 350.0 474.9)" fill="#fff" stroke="#4c4c4c" stroke-width="1.08" />
<ellipse cx="335.7" cy="474.0" rx="3.0" ry="1.8" transform="rotate(60 335.7 474.0)" fill="#fff" stroke="#4c4c4c" stroke-width="1.08" />
<ellipse cx="349.0" cy="492.7" rx="3.0" ry="1.8" transform="rotate(60 349.0 492.7)" fill="#fff" stroke="#4c4c4c" stroke-width="1.08" />
<ellipse cx="344.9" cy="480.5" rx="3.4" ry="2.0" transform="rotate(60 344.9 480.5)" fill="#666" stroke="#4c4c4c" stroke-width="1.08" />
<path d="M345.4 480.3 L359.8 488.1" fill="none" stroke="#eee" stroke-width="2.97" stroke-linecap="butt" stroke-linejoin="round"/>
<path d="M345.4 480.3 L341.9 462.9" fill="none" stroke="#eee" stroke-width="2.97" stroke-linecap="butt" stroke-linejoin="round"/>
<path d="M345.4 480.3 L340.5 486.9" fill="none" stroke="#eee" stroke-width="2.97" stroke-linecap="butt" stroke-linejoin="round"/>
<ellipse cx="355.3" cy="527.7" rx="28.5" ry="15.7" transform="rotate(60 355.3 527.7)" fill="#fff" stroke="#4c4c4c" stroke-width="1.35" />
<ellipse cx="355.3" cy="527.7" rx="27.3" ry="15.0" transform="rotate(60 355.3 527.7)" fill="none" stroke="#333" stroke-width="3" stroke-dasharray="1.7 1.5"/>
<ellipse cx="351.5" cy="530.0" rx="28.5" ry="15.7" transform="rotate(60 351.5 530.0)" fill="#fff" stroke="#4c4c4c" stroke-width="1.35" />
<ellipse cx="351.5" cy="530.0" rx="27.2" ry="15.0" transform="rotate(60 351.5 530.0)" fill="none" stroke="#3a3a3a" stroke-width="2.6" stroke-dasharray="1.7 1.5"/>
<ellipse cx="351.5" cy="530.0" rx="25.5" ry="14.0" transform="rotate(60 351.5 530.0)" fill="#fff" stroke="#4c4c4c" stroke-width="1.22" />
<ellipse cx="351.5" cy="530.0" rx="26.0" ry="14.3" transform="rotate(60 351.5 530.0)" fill="#fff" stroke="#4c4c4c" stroke-width="1.35" />
<path d="M323.9 515.8 L338.5 507.5 L364.5 552.5 L349.9 560.9 Z" fill="#fff" stroke="none"/>
<path d="M323.9 515.8 L338.5 507.5" fill="none" stroke="#4c4c4c" stroke-width="1.35" stroke-linecap="butt" stroke-linejoin="round"/>
<path d="M349.9 560.9 L364.5 552.5" fill="none" stroke="#4c4c4c" stroke-width="1.35" stroke-linecap="butt" stroke-linejoin="round"/>
<ellipse cx="336.9" cy="538.3" rx="26.0" ry="14.3" transform="rotate(60 336.9 538.3)" fill="#fff" stroke="#4c4c4c" stroke-width="1.35" />
<path d="M331.1 538.1 L333.8 542.9 L337.0 547.2 L340.5 551.0 L344.3 554.0 L348.1 556.1 L351.7 557.2 L355.1 557.2 L358.0 556.2 L360.3 554.2 L361.9 551.3 L362.8 547.6 L362.8 543.3 L362.1 538.5 L360.6 533.6 L358.5 528.6 L355.7 523.9" fill="none" stroke="#606060" stroke-width="1.22" stroke-linecap="butt" stroke-linejoin="round"/>
<ellipse cx="337.6" cy="538.0" rx="23.0" ry="12.7" transform="rotate(60 337.6 538.0)" fill="#fff" stroke="#4c4c4c" stroke-width="1.35" />
<path d="M318.3 522.6 L326.1 518.1 L349.1 557.9 L341.3 562.4 Z" fill="#fff" stroke="none"/>
<path d="M318.3 522.6 L326.1 518.1" fill="none" stroke="#4c4c4c" stroke-width="1.35" stroke-linecap="butt" stroke-linejoin="round"/>
<path d="M341.3 562.4 L349.1 557.9" fill="none" stroke="#4c4c4c" stroke-width="1.35" stroke-linecap="butt" stroke-linejoin="round"/>
<ellipse cx="329.8" cy="542.5" rx="23.0" ry="12.7" transform="rotate(60 329.8 542.5)" fill="#fff" stroke="#4c4c4c" stroke-width="1.35" />
<ellipse cx="329.8" cy="542.5" rx="23.0" ry="12.7" transform="rotate(60 329.8 542.5)" fill="#fff" stroke="#4c4c4c" stroke-width="1.35" />
<ellipse cx="329.8" cy="542.5" rx="16.6" ry="9.1" transform="rotate(60 329.8 542.5)" fill="#fff" stroke="#4c4c4c" stroke-width="1.08" />
<ellipse cx="341.2" cy="558.4" rx="2.0" ry="1.2" transform="rotate(60 341.2 558.4)" fill="#555" stroke="#4c4c4c" stroke-width="0.68" />
<ellipse cx="342.8" cy="546.0" rx="2.0" ry="1.2" transform="rotate(60 342.8 546.0)" fill="#555" stroke="#4c4c4c" stroke-width="0.68" />
<ellipse cx="334.8" cy="531.0" rx="2.0" ry="1.2" transform="rotate(60 334.8 531.0)" fill="#555" stroke="#4c4c4c" stroke-width="0.68" />
<ellipse cx="323.1" cy="524.5" rx="2.0" ry="1.2" transform="rotate(60 323.1 524.5)" fill="#555" stroke="#4c4c4c" stroke-width="0.68" />
<ellipse cx="316.3" cy="531.3" rx="2.0" ry="1.2" transform="rotate(60 316.3 531.3)" fill="#555" stroke="#4c4c4c" stroke-width="0.68" />
<ellipse cx="319.6" cy="546.4" rx="2.0" ry="1.2" transform="rotate(60 319.6 546.4)" fill="#555" stroke="#4c4c4c" stroke-width="0.68" />
<ellipse cx="330.4" cy="558.6" rx="2.0" ry="1.2" transform="rotate(60 330.4 558.6)" fill="#555" stroke="#4c4c4c" stroke-width="0.68" />
<path d="M329.8 542.5 L336.7 548.8" fill="none" stroke="#505050" stroke-width="1.22" stroke-linecap="butt" stroke-linejoin="round"/>
<ellipse cx="336.7" cy="548.8" rx="2.2" ry="1.3" transform="rotate(60 336.7 548.8)" fill="#ccc" stroke="#4c4c4c" stroke-width="0.94" />
<path d="M329.8 542.5 L333.5 537.8" fill="none" stroke="#505050" stroke-width="1.22" stroke-linecap="butt" stroke-linejoin="round"/>
<ellipse cx="333.5" cy="537.8" rx="2.2" ry="1.3" transform="rotate(60 333.5 537.8)" fill="#ccc" stroke="#4c4c4c" stroke-width="0.94" />
<path d="M329.8 542.5 L325.2 533.3" fill="none" stroke="#505050" stroke-width="1.22" stroke-linecap="butt" stroke-linejoin="round"/>
<ellipse cx="325.2" cy="533.3" rx="2.2" ry="1.3" transform="rotate(60 325.2 533.3)" fill="#ccc" stroke="#4c4c4c" stroke-width="0.94" />
<path d="M329.8 542.5 L323.2 541.4" fill="none" stroke="#505050" stroke-width="1.22" stroke-linecap="butt" stroke-linejoin="round"/>
<ellipse cx="323.2" cy="541.4" rx="2.2" ry="1.3" transform="rotate(60 323.2 541.4)" fill="#ccc" stroke="#4c4c4c" stroke-width="0.94" />
<path d="M329.8 542.5 L330.3 551.0" fill="none" stroke="#505050" stroke-width="1.22" stroke-linecap="butt" stroke-linejoin="round"/>
<ellipse cx="330.3" cy="551.0" rx="2.2" ry="1.3" transform="rotate(60 330.3 551.0)" fill="#ccc" stroke="#4c4c4c" stroke-width="0.94" />
<ellipse cx="329.8" cy="542.5" rx="4.0" ry="2.4" transform="rotate(60 329.8 542.5)" fill="#3a3a3a" stroke="#4c4c4c" stroke-width="1.08" />
<ellipse cx="338.2" cy="541.9" rx="3.3" ry="2.3" transform="rotate(60 338.2 541.9)" fill="#444" stroke="#4c4c4c" stroke-width="0.81" />
<ellipse cx="321.2" cy="531.6" rx="3.3" ry="2.3" transform="rotate(60 321.2 531.6)" fill="#444" stroke="#4c4c4c" stroke-width="0.81" />
<ellipse cx="330.0" cy="554.0" rx="3.3" ry="2.3" transform="rotate(60 330.0 554.0)" fill="#444" stroke="#4c4c4c" stroke-width="0.81" />
<path d="M317.1 524.6 L314.5 530.0 L317.1 532.5 L321.8 528.5 Z" fill="#777" stroke="#4c4c4c" stroke-width="1.22" stroke-linecap="butt" stroke-linejoin="round"/>
<ellipse cx="334.7" cy="541.0" rx="2.6" ry="2.1" transform="rotate(60 334.7 541.0)" fill="#555" stroke="#4c4c4c" stroke-width="0.81" />
<ellipse cx="341.0" cy="547.9" rx="2.6" ry="2.1" transform="rotate(60 341.0 547.9)" fill="#555" stroke="#4c4c4c" stroke-width="0.81" />
<ellipse cx="649.5" cy="631.6" rx="28.5" ry="15.7" transform="rotate(60 649.5 631.6)" fill="#fff" stroke="#4c4c4c" stroke-width="1.35" />
<ellipse cx="649.5" cy="631.6" rx="27.3" ry="15.0" transform="rotate(60 649.5 631.6)" fill="none" stroke="#333" stroke-width="3" stroke-dasharray="1.7 1.5"/>
<ellipse cx="645.6" cy="633.8" rx="28.5" ry="15.7" transform="rotate(60 645.6 633.8)" fill="#fff" stroke="#4c4c4c" stroke-width="1.35" />
<ellipse cx="645.6" cy="633.8" rx="27.2" ry="15.0" transform="rotate(60 645.6 633.8)" fill="none" stroke="#3a3a3a" stroke-width="2.6" stroke-dasharray="1.7 1.5"/>
<ellipse cx="645.6" cy="633.8" rx="25.5" ry="14.0" transform="rotate(60 645.6 633.8)" fill="#fff" stroke="#4c4c4c" stroke-width="1.22" />
<ellipse cx="645.6" cy="633.8" rx="25.8" ry="14.2" transform="rotate(60 645.6 633.8)" fill="#fff" stroke="#4c4c4c" stroke-width="1.35" />
<path d="M615.4 621.5 L632.7 611.5 L658.5 656.2 L641.2 666.2 Z" fill="#fff" stroke="none"/>
<path d="M615.4 621.5 L632.7 611.5" fill="none" stroke="#4c4c4c" stroke-width="1.35" stroke-linecap="butt" stroke-linejoin="round"/>
<path d="M641.2 666.2 L658.5 656.2" fill="none" stroke="#4c4c4c" stroke-width="1.35" stroke-linecap="butt" stroke-linejoin="round"/>
<ellipse cx="628.3" cy="643.8" rx="25.8" ry="14.2" transform="rotate(60 628.3 643.8)" fill="#fff" stroke="#4c4c4c" stroke-width="1.35" />
<path d="M622.3 643.6 L625.0 648.4 L628.2 652.7 L631.7 656.5 L635.4 659.4 L639.2 661.5 L642.8 662.6 L646.1 662.7 L649.0 661.7 L651.3 659.7 L652.9 656.8 L653.8 653.1 L653.8 648.8 L653.1 644.1 L651.7 639.2 L649.5 634.2 L646.7 629.6" fill="none" stroke="#606060" stroke-width="1.22" stroke-linecap="butt" stroke-linejoin="round"/>
<path d="M628.4 640.1 L631.1 644.9 L634.2 649.2 L637.8 653.0 L641.5 655.9 L645.3 658.0 L648.9 659.1 L652.2 659.2 L655.1 658.2 L657.3 656.2 L659.0 653.3 L659.8 649.6 L659.9 645.3 L659.2 640.6 L657.7 635.7 L655.5 630.7 L652.8 626.1" fill="none" stroke="#606060" stroke-width="1.22" stroke-linecap="butt" stroke-linejoin="round"/>
<path d="M629.0 627.0 L635.1 623.5" fill="none" stroke="#6a6a6a" stroke-width="1.22" stroke-linecap="butt" stroke-linejoin="round"/>
<ellipse cx="628.3" cy="643.8" rx="25.8" ry="14.2" transform="rotate(60 628.3 643.8)" fill="#fff" stroke="#4c4c4c" stroke-width="1.35" />
<ellipse cx="628.3" cy="643.8" rx="24.0" ry="13.2" transform="rotate(60 628.3 643.8)" fill="#2b2b2b" stroke="#4c4c4c" stroke-width="0.81" />
<ellipse cx="628.3" cy="643.8" rx="20.6" ry="11.4" transform="rotate(60 628.3 643.8)" fill="#c8c8c8" stroke="#4c4c4c" stroke-width="1.08" />
<ellipse cx="628.3" cy="643.8" rx="18.1" ry="9.9" transform="rotate(60 628.3 643.8)" fill="#252525" stroke="#4c4c4c" stroke-width="0.81" />
<path d="M630.9 639.4 L616.6 638.5 L629.9 657.2 Z" fill="#ddd" stroke="#eee" stroke-width="4.59" stroke-linecap="butt" stroke-linejoin="round"/>
<path d="M630.9 639.4 L616.6 638.5 L629.9 657.2 Z" fill="none" stroke="#505050" stroke-width="1.08" stroke-linecap="butt" stroke-linejoin="round"/>
<ellipse cx="630.9" cy="639.4" rx="3.0" ry="1.8" transform="rotate(60 630.9 639.4)" fill="#fff" stroke="#4c4c4c" stroke-width="1.08" />
<ellipse cx="616.6" cy="638.5" rx="3.0" ry="1.8" transform="rotate(60 616.6 638.5)" fill="#fff" stroke="#4c4c4c" stroke-width="1.08" />
<ellipse cx="629.9" cy="657.2" rx="3.0" ry="1.8" transform="rotate(60 629.9 657.2)" fill="#fff" stroke="#4c4c4c" stroke-width="1.08" />
<ellipse cx="625.8" cy="645.0" rx="3.4" ry="2.0" transform="rotate(60 625.8 645.0)" fill="#666" stroke="#4c4c4c" stroke-width="1.08" />
<path d="M626.3 644.8 L640.7 652.6" fill="none" stroke="#eee" stroke-width="2.97" stroke-linecap="butt" stroke-linejoin="round"/>
<path d="M626.3 644.8 L622.8 627.4" fill="none" stroke="#eee" stroke-width="2.97" stroke-linecap="butt" stroke-linejoin="round"/>
<path d="M626.3 644.8 L621.4 651.4" fill="none" stroke="#eee" stroke-width="2.97" stroke-linecap="butt" stroke-linejoin="round"/>
<ellipse cx="648.4" cy="689.4" rx="28.5" ry="15.7" transform="rotate(60 648.4 689.4)" fill="#fff" stroke="#4c4c4c" stroke-width="1.35" />
<ellipse cx="648.4" cy="689.4" rx="27.3" ry="15.0" transform="rotate(60 648.4 689.4)" fill="none" stroke="#333" stroke-width="3" stroke-dasharray="1.7 1.5"/>
<ellipse cx="644.5" cy="691.7" rx="28.5" ry="15.7" transform="rotate(60 644.5 691.7)" fill="#fff" stroke="#4c4c4c" stroke-width="1.35" />
<ellipse cx="644.5" cy="691.7" rx="27.2" ry="15.0" transform="rotate(60 644.5 691.7)" fill="none" stroke="#3a3a3a" stroke-width="2.6" stroke-dasharray="1.7 1.5"/>
<ellipse cx="644.5" cy="691.7" rx="25.5" ry="14.0" transform="rotate(60 644.5 691.7)" fill="#fff" stroke="#4c4c4c" stroke-width="1.22" />
<ellipse cx="644.5" cy="691.7" rx="26.0" ry="14.3" transform="rotate(60 644.5 691.7)" fill="#fff" stroke="#4c4c4c" stroke-width="1.35" />
<path d="M619.9 675.8 L631.5 669.1 L657.5 714.2 L645.9 720.9 Z" fill="#fff" stroke="none"/>
<path d="M619.9 675.8 L631.5 669.1" fill="none" stroke="#4c4c4c" stroke-width="1.35" stroke-linecap="butt" stroke-linejoin="round"/>
<path d="M645.9 720.9 L657.5 714.2" fill="none" stroke="#4c4c4c" stroke-width="1.35" stroke-linecap="butt" stroke-linejoin="round"/>
<ellipse cx="632.9" cy="698.4" rx="26.0" ry="14.3" transform="rotate(60 632.9 698.4)" fill="#fff" stroke="#4c4c4c" stroke-width="1.35" />
<path d="M625.4 699.0 L628.2 703.8 L631.4 708.2 L634.9 711.9 L638.7 714.9 L642.4 717.0 L646.1 718.1 L649.4 718.2 L652.3 717.2 L654.6 715.2 L656.3 712.2 L657.1 708.5 L657.2 704.2 L656.5 699.5 L655.0 694.5 L652.8 689.5 L650.0 684.8" fill="none" stroke="#606060" stroke-width="1.22" stroke-linecap="butt" stroke-linejoin="round"/>
<ellipse cx="633.4" cy="698.1" rx="23.0" ry="12.7" transform="rotate(60 633.4 698.1)" fill="#fff" stroke="#4c4c4c" stroke-width="1.35" />
<path d="M615.7 681.7 L621.9 678.1 L644.9 718.0 L638.7 721.6 Z" fill="#fff" stroke="none"/>
<path d="M615.7 681.7 L621.9 678.1" fill="none" stroke="#4c4c4c" stroke-width="1.35" stroke-linecap="butt" stroke-linejoin="round"/>
<path d="M638.7 721.6 L644.9 718.0" fill="none" stroke="#4c4c4c" stroke-width="1.35" stroke-linecap="butt" stroke-linejoin="round"/>
<ellipse cx="627.2" cy="701.7" rx="23.0" ry="12.7" transform="rotate(60 627.2 701.7)" fill="#fff" stroke="#4c4c4c" stroke-width="1.35" />
<ellipse cx="627.2" cy="701.7" rx="23.0" ry="12.7" transform="rotate(60 627.2 701.7)" fill="#fff" stroke="#4c4c4c" stroke-width="1.35" />
<ellipse cx="627.2" cy="701.7" rx="16.6" ry="9.1" transform="rotate(60 627.2 701.7)" fill="#fff" stroke="#4c4c4c" stroke-width="1.08" />
<ellipse cx="638.6" cy="717.6" rx="2.0" ry="1.2" transform="rotate(60 638.6 717.6)" fill="#555" stroke="#4c4c4c" stroke-width="0.68" />
<ellipse cx="640.2" cy="705.2" rx="2.0" ry="1.2" transform="rotate(60 640.2 705.2)" fill="#555" stroke="#4c4c4c" stroke-width="0.68" />
<ellipse cx="632.2" cy="690.2" rx="2.0" ry="1.2" transform="rotate(60 632.2 690.2)" fill="#555" stroke="#4c4c4c" stroke-width="0.68" />
<ellipse cx="620.5" cy="683.7" rx="2.0" ry="1.2" transform="rotate(60 620.5 683.7)" fill="#555" stroke="#4c4c4c" stroke-width="0.68" />
<ellipse cx="613.7" cy="690.5" rx="2.0" ry="1.2" transform="rotate(60 613.7 690.5)" fill="#555" stroke="#4c4c4c" stroke-width="0.68" />
<ellipse cx="617.0" cy="705.6" rx="2.0" ry="1.2" transform="rotate(60 617.0 705.6)" fill="#555" stroke="#4c4c4c" stroke-width="0.68" />
<ellipse cx="627.8" cy="717.8" rx="2.0" ry="1.2" transform="rotate(60 627.8 717.8)" fill="#555" stroke="#4c4c4c" stroke-width="0.68" />
<path d="M627.2 701.7 L634.1 708.0" fill="none" stroke="#505050" stroke-width="1.22" stroke-linecap="butt" stroke-linejoin="round"/>
<ellipse cx="634.1" cy="708.0" rx="2.2" ry="1.3" transform="rotate(60 634.1 708.0)" fill="#ccc" stroke="#4c4c4c" stroke-width="0.94" />
<path d="M627.2 701.7 L630.9 697.0" fill="none" stroke="#505050" stroke-width="1.22" stroke-linecap="butt" stroke-linejoin="round"/>
<ellipse cx="630.9" cy="697.0" rx="2.2" ry="1.3" transform="rotate(60 630.9 697.0)" fill="#ccc" stroke="#4c4c4c" stroke-width="0.94" />
<path d="M627.2 701.7 L622.6 692.4" fill="none" stroke="#505050" stroke-width="1.22" stroke-linecap="butt" stroke-linejoin="round"/>
<ellipse cx="622.6" cy="692.4" rx="2.2" ry="1.3" transform="rotate(60 622.6 692.4)" fill="#ccc" stroke="#4c4c4c" stroke-width="0.94" />
<path d="M627.2 701.7 L620.6 700.6" fill="none" stroke="#505050" stroke-width="1.22" stroke-linecap="butt" stroke-linejoin="round"/>
<ellipse cx="620.6" cy="700.6" rx="2.2" ry="1.3" transform="rotate(60 620.6 700.6)" fill="#ccc" stroke="#4c4c4c" stroke-width="0.94" />
<path d="M627.2 701.7 L627.7 710.2" fill="none" stroke="#505050" stroke-width="1.22" stroke-linecap="butt" stroke-linejoin="round"/>
<ellipse cx="627.7" cy="710.2" rx="2.2" ry="1.3" transform="rotate(60 627.7 710.2)" fill="#ccc" stroke="#4c4c4c" stroke-width="0.94" />
<ellipse cx="627.2" cy="701.7" rx="4.0" ry="2.4" transform="rotate(60 627.2 701.7)" fill="#3a3a3a" stroke="#4c4c4c" stroke-width="1.08" />
<ellipse cx="635.6" cy="701.1" rx="3.3" ry="2.3" transform="rotate(60 635.6 701.1)" fill="#444" stroke="#4c4c4c" stroke-width="0.81" />
<ellipse cx="618.6" cy="690.7" rx="3.3" ry="2.3" transform="rotate(60 618.6 690.7)" fill="#444" stroke="#4c4c4c" stroke-width="0.81" />
<ellipse cx="627.4" cy="713.2" rx="3.3" ry="2.3" transform="rotate(60 627.4 713.2)" fill="#444" stroke="#4c4c4c" stroke-width="0.81" />
<path d="M614.5 683.7 L611.9 689.2 L614.5 691.7 L619.2 687.7 Z" fill="#777" stroke="#4c4c4c" stroke-width="1.22" stroke-linecap="butt" stroke-linejoin="round"/>
<ellipse cx="631.2" cy="700.7" rx="2.6" ry="2.1" transform="rotate(60 631.2 700.7)" fill="#555" stroke="#4c4c4c" stroke-width="0.81" />
<ellipse cx="637.2" cy="707.8" rx="2.6" ry="2.1" transform="rotate(60 637.2 707.8)" fill="#555" stroke="#4c4c4c" stroke-width="0.81" />
<path d="M296.0 547.1 L372.0 503.2" fill="none" stroke="#888888" stroke-width="1.55" stroke-dasharray="66 2.5 3.5 2.5" stroke-linecap="butt" stroke-linejoin="round"/>
<path d="M296.0 572.7 L372.0 528.8" fill="none" stroke="#888888" stroke-width="1.55" stroke-dasharray="66 2.5 3.5 2.5" stroke-linecap="butt" stroke-linejoin="round"/>
<path d="M251.4 621.3 L252.1 621.0 L252.9 620.5 L253.7 620.0 L254.7 619.5 L255.7 618.9 L256.7 618.4 L257.7 618.0 L258.7 617.7 L259.7 617.4 L260.9 617.1 L262.1 616.9 L263.3 616.7 L264.6 616.5 L265.9 616.4 L267.3 616.3 L268.7 616.3 L270.2 616.3 L271.8 616.4 L273.5 616.5 L275.2 616.7 L277.0 616.9 L278.8 617.2 L280.5 617.4 L282.2 617.7 L283.9 618.1 L285.6 618.5 L287.4 618.9 L289.1 619.4 L290.8 619.9 L292.5 620.4 L294.2 621.0 L295.9 621.5 L297.6 622.1 L299.2 622.7 L300.9 623.4 L302.5 624.0 L304.1 624.7 L305.6 625.4 L307.2 626.1 L308.6 626.9 L310.0 627.6 L311.4 628.4 L312.7 629.1 L314.0 629.9 L315.3 630.8 L316.6 631.6 L317.9 632.5 L319.3 633.5 L320.7 634.4 L322.1 635.4 L323.4 636.4 L324.8 637.5 L326.3 638.6 L327.7 639.7 L329.1 640.8 L330.6 642.0 L332.2 643.3 L333.8 644.6 L335.4 646.0 L337.1 647.4 L338.7 648.8 L340.2 650.1 L341.6 651.5 L342.8 652.7 L343.9 653.9 L344.9 655.1 L345.9 656.4 L346.8 657.7 L347.6 658.9 L348.4 660.0 L349.0 661.0 L349.5 661.7 L339.7 668.6 L339.1 667.7 L338.4 666.7 L337.7 665.6 L337.0 664.5 L336.2 663.5 L335.5 662.5 L334.8 661.7 L334.1 660.9 L333.3 660.1 L332.1 659.0 L330.8 657.8 L329.3 656.5 L327.7 655.2 L326.1 653.9 L324.6 652.6 L323.0 651.3 L321.6 650.2 L320.3 649.1 L318.9 648.1 L317.6 647.1 L316.3 646.1 L315.0 645.1 L313.8 644.2 L312.5 643.3 L311.2 642.4 L309.9 641.6 L308.7 640.8 L307.6 640.1 L306.5 639.4 L305.4 638.8 L304.3 638.2 L303.2 637.6 L301.9 636.9 L300.6 636.3 L299.3 635.7 L297.9 635.1 L296.4 634.5 L295.0 634.0 L293.5 633.4 L292.0 632.9 L290.5 632.4 L288.9 631.9 L287.4 631.4 L285.9 630.9 L284.3 630.5 L282.8 630.2 L281.4 629.8 L280.0 629.5 L278.5 629.3 L277.0 629.0 L275.4 628.8 L273.9 628.6 L272.5 628.5 L271.1 628.4 L269.8 628.3 L268.7 628.3 L267.7 628.3 L266.8 628.4 L265.9 628.5 L265.0 628.6 L264.2 628.7 L263.4 628.8 L262.7 629.0 L262.2 629.1 L262.0 629.2 L261.7 629.3 L261.2 629.6 L260.5 630.0 L259.8 630.4 L258.9 630.9 L258.0 631.4 L257.2 631.9 Z" fill="#fff" stroke="#4c4c4c" stroke-width="1.35" stroke-linecap="butt" stroke-linejoin="round"/>
<path d="M252.5 623.2 L253.1 622.9 L253.9 622.4 L254.8 621.9 L255.7 621.4 L256.7 620.8 L257.6 620.4 L258.5 620.0 L259.3 619.7 L260.3 619.5 L261.3 619.2 L262.4 619.0 L263.6 618.8 L264.8 618.7 L266.0 618.6 L267.3 618.5 L268.7 618.5 L270.1 618.5 L271.7 618.6 L273.3 618.7 L275.0 618.8 L276.7 619.0 L278.4 619.3 L280.1 619.6 L281.8 619.9 L283.5 620.2 L285.1 620.6 L286.8 621.0 L288.5 621.5 L290.2 622.0 L291.9 622.5 L293.6 623.0 L295.2 623.6 L296.8 624.2 L298.5 624.8 L300.1 625.4 L301.7 626.0 L303.2 626.7 L304.7 627.4 L306.2 628.1 L307.7 628.8 L309.0 629.5 L310.3 630.2 L311.6 631.0 L312.9 631.8 L314.1 632.6 L315.4 633.4 L316.7 634.3 L318.1 635.2 L319.4 636.2 L320.8 637.2 L322.2 638.2 L323.5 639.2 L324.9 640.3 L326.3 641.4 L327.8 642.5 L329.2 643.7 L330.8 645.0 L332.4 646.3 L334.0 647.6 L335.7 649.0 L337.3 650.4 L338.8 651.7 L340.1 653.0 L341.3 654.2 L342.3 655.3 L343.2 656.5 L344.2 657.7 L345.0 658.9 L345.8 660.1 L346.6 661.2 L347.2 662.2 L347.8 663.0" fill="none" stroke="#585858" stroke-width="1.22" stroke-linecap="butt" stroke-linejoin="round"/>
<path d="M256.2 630.0 L256.9 629.5 L257.8 629.0 L258.7 628.5 L259.5 628.1 L260.2 627.7 L260.8 627.4 L261.2 627.2 L261.5 627.1 L262.1 626.9 L262.9 626.7 L263.8 626.6 L264.7 626.4 L265.6 626.3 L266.6 626.2 L267.6 626.2 L268.7 626.1 L269.9 626.2 L271.2 626.2 L272.7 626.3 L274.2 626.5 L275.7 626.7 L277.3 626.9 L278.9 627.1 L280.4 627.4 L281.9 627.7 L283.4 628.1 L284.9 628.4 L286.4 628.9 L288.0 629.3 L289.6 629.8 L291.1 630.3 L292.7 630.8 L294.2 631.4 L295.7 631.9 L297.2 632.5 L298.7 633.1 L300.1 633.7 L301.5 634.4 L302.9 635.0 L304.2 635.6 L305.4 636.3 L306.5 636.9 L307.6 637.6 L308.8 638.3 L309.9 639.0 L311.1 639.8 L312.4 640.7 L313.7 641.6 L315.0 642.5 L316.3 643.4 L317.6 644.3 L318.9 645.3 L320.2 646.4 L321.6 647.4 L323.0 648.5 L324.4 649.7 L325.9 650.9 L327.5 652.2 L329.1 653.5 L330.7 654.9 L332.2 656.2 L333.6 657.4 L334.8 658.5 L335.7 659.5 L336.5 660.3 L337.2 661.2 L338.0 662.2 L338.7 663.3 L339.5 664.4 L340.2 665.5 L340.9 666.5 L341.5 667.4" fill="none" stroke="#585858" stroke-width="1.22" stroke-linecap="butt" stroke-linejoin="round"/>
<path d="M252.5 623.2 L259.8 627.9 L260.4 619.4 L265.4 626.3 L268.9 618.5 L272.8 626.3 L278.1 619.2 L281.2 627.6 L287.3 621.1 L289.6 629.8 L296.5 624.0 L298.0 632.8 L305.2 627.6 L305.7 636.5 L313.4 632.1 L313.1 641.1 L321.4 637.6 L320.6 646.6 L329.1 643.6 L328.0 652.6 L336.6 649.8 L334.7 658.4 L343.1 656.3 L339.6 664.6" fill="none" stroke="#585858" stroke-width="1.49" stroke-linecap="butt" stroke-linejoin="round"/>
<path d="M256.3 629.9 L256.5 620.9 L262.4 626.8 L264.5 618.7 L268.9 626.1 L273.5 618.7 L277.0 626.8 L282.8 620.1 L285.4 628.6 L291.9 622.5 L293.8 631.2 L300.9 625.7 L302.0 634.6 L309.4 629.7 L309.3 638.6 L317.4 634.8 L316.9 643.8 L325.3 640.5 L324.3 649.6 L332.9 646.7 L331.6 655.6 L340.1 653.0 L337.1 661.1 L345.8 660.1" fill="none" stroke="#7a7a7a" stroke-width="0.94" stroke-linecap="butt" stroke-linejoin="round"/>
<path d="M248.5 622 Q247 632 254 638.5 L259.5 636 Q254 628 256 620 Z" fill="#fff" stroke="#4c4c4c" stroke-width="1.35" stroke-linejoin="round" />
<path d="M317.5 657.5 L330 651.5 L343 657 L346 663 L346 678 L338.5 683 L338 687.5 L330.5 690 L328 686 L322.5 683 L318 671 Z" fill="#fff" stroke="#4c4c4c" stroke-width="1.35" stroke-linejoin="round" />
<path d="M317.5 657.5 L329 662.5 L343 657 M329 662.5 L331 686 M322 660 L324.5 682 M336 660 L338.5 683" fill="none" stroke="#4c4c4c" stroke-width="1.22" stroke-linejoin="round" />
<path d="M318 660 L322 662 L323 672 L319 670 Z" fill="#333" stroke="#4c4c4c" stroke-width="0.81" stroke-linejoin="round" />
<path d="M331 686 L338 683" fill="none" stroke="#4c4c4c" stroke-width="1.22" stroke-linejoin="round" />
<path d="M340 668 L346 665 M340 674 L346 671" fill="none" stroke="#4c4c4c" stroke-width="1.08" stroke-linejoin="round" />
<path d="M554.0 738.2 L552.5 736.9 L550.5 735.1 L548.2 733.0 L545.6 730.7 L542.9 728.2 L540.1 725.7 L537.4 723.3 L535.0 721.1 L532.7 719.1 L530.5 717.1 L528.2 715.1 L526.0 713.1 L523.8 711.2 L521.6 709.3 L519.5 707.4 L517.4 705.6 L515.4 703.8 L513.4 702.0 L511.4 700.3 L509.5 698.6 L507.5 696.9 L505.6 695.2 L503.7 693.6 L501.7 691.9 L499.8 690.1 L497.8 688.4 L495.8 686.6 L493.9 684.9 L492.0 683.1 L490.0 681.5 L488.1 679.8 L486.2 678.2 L484.3 676.7 L482.3 675.2 L480.4 673.7 L478.4 672.2 L476.4 670.8 L474.5 669.4 L472.6 668.0 L470.7 666.6 L468.9 665.3 L467.1 664.0 L465.3 662.7 L463.6 661.5 L461.8 660.3 L460.2 659.1 L458.6 658.0 L457.1 657.0 L455.6 656.0 L454.2 655.0 L452.8 654.0 L451.4 653.2 L450.1 652.3 L449.0 651.6 L448.1 651.0 L447.4 650.5 L440.8 660.5 L441.5 661.0 L442.5 661.7 L443.6 662.4 L444.8 663.2 L446.1 664.1 L447.5 665.0 L448.9 665.9 L450.3 666.9 L451.8 667.9 L453.3 669.0 L455.0 670.1 L456.6 671.3 L458.4 672.5 L460.1 673.7 L461.9 675.0 L463.7 676.3 L465.5 677.7 L467.4 679.1 L469.4 680.5 L471.3 681.9 L473.2 683.3 L475.0 684.7 L476.8 686.1 L478.6 687.5 L480.4 689.0 L482.2 690.5 L484.0 692.1 L485.9 693.8 L487.8 695.5 L489.8 697.3 L491.8 699.1 L493.8 700.9 L495.8 702.6 L497.7 704.3 L499.7 706.0 L501.6 707.6 L503.5 709.3 L505.5 711.0 L507.5 712.8 L509.5 714.6 L511.6 716.4 L513.7 718.3 L515.9 720.2 L518.0 722.1 L520.3 724.1 L522.5 726.1 L524.7 728.1 L527.0 730.1 L529.4 732.3 L532.1 734.6 L534.8 737.1 L537.6 739.6 L540.2 741.9 L542.5 744.0 L544.5 745.8 L546.0 747.1 Z" fill="#777" stroke="#4c4c4c" stroke-width="1.35" stroke-linecap="butt" stroke-linejoin="round"/>
<path d="M552.5 739.8 L551.1 738.5 L549.1 736.7 L546.7 734.6 L544.1 732.3 L541.4 729.8 L538.6 727.3 L536.0 724.9 L533.6 722.7 L531.3 720.7 L529.0 718.7 L526.8 716.7 L524.6 714.7 L522.4 712.8 L520.2 710.9 L518.1 709.0 L516.0 707.2 L513.9 705.4 L511.9 703.6 L510.0 701.9 L508.0 700.2 L506.1 698.5 L504.2 696.9 L502.3 695.2 L500.3 693.5 L498.3 691.7 L496.3 690.0 L494.4 688.2 L492.5 686.5 L490.5 684.8 L488.6 683.1 L486.7 681.5 L484.8 679.9 L482.9 678.4 L481.0 676.9 L479.1 675.4 L477.1 673.9 L475.2 672.5 L473.2 671.1 L471.3 669.7 L469.5 668.4 L467.6 667.1 L465.8 665.8 L464.1 664.5 L462.3 663.2 L460.6 662.0 L459.0 660.9 L457.4 659.8 L455.9 658.8 L454.4 657.8 L453.0 656.8 L451.6 655.8 L450.2 655.0 L449.0 654.1 L447.9 653.4 L446.9 652.8 L446.2 652.3" fill="none" stroke="#1e1e1e" stroke-width="1.22" stroke-linecap="butt" stroke-linejoin="round"/>
<path d="M547.4 745.5 L545.9 744.2 L544.0 742.4 L541.6 740.3 L539.0 738.0 L536.3 735.5 L533.5 733.0 L530.9 730.6 L528.4 728.5 L526.2 726.4 L523.9 724.4 L521.7 722.5 L519.5 720.5 L517.3 718.6 L515.1 716.7 L513.0 714.8 L510.9 712.9 L508.9 711.2 L506.9 709.4 L504.9 707.7 L503.0 706.0 L501.1 704.3 L499.1 702.7 L497.2 701.0 L495.2 699.2 L493.2 697.5 L491.2 695.7 L489.3 693.9 L487.3 692.2 L485.4 690.5 L483.6 688.9 L481.8 687.3 L480.0 685.9 L478.2 684.4 L476.3 683.0 L474.5 681.5 L472.5 680.1 L470.6 678.7 L468.7 677.3 L466.8 675.9 L464.9 674.6 L463.1 673.3 L461.4 672.0 L459.6 670.7 L457.9 669.5 L456.2 668.3 L454.6 667.2 L453.0 666.1 L451.5 665.1 L450.1 664.1 L448.7 663.2 L447.3 662.3 L446.0 661.4 L444.8 660.6 L443.7 659.8 L442.7 659.2 L441.9 658.7" fill="none" stroke="#1e1e1e" stroke-width="1.22" stroke-linecap="butt" stroke-linejoin="round"/>
<path d="M552.5 739.8 L544.9 743.3 L547.5 735.3 L539.8 738.7 L542.4 730.7 L534.8 734.2 L537.4 726.2 L529.7 729.6 L532.3 721.7 L524.7 725.1 L527.3 717.1 L519.6 720.6 L522.2 712.6 L514.6 716.2 L517.1 708.2 L509.5 711.7 L512.0 703.7 L504.4 707.2 L506.9 699.2 L499.3 702.8 L501.7 694.7 L494.1 698.2 L496.6 690.2 L488.9 693.6 L491.6 685.7 L484.0 689.3 L486.5 681.3 L479.2 685.2 L481.4 677.2 L474.1 681.3 L476.1 673.2 L468.8 677.4 L470.6 669.2 L463.3 673.4 L465.1 665.2 L457.9 669.5 L459.6 661.3 L452.5 665.7 L454.1 657.5 L447.0 662.1 L448.5 653.8" fill="none" stroke="#1e1e1e" stroke-width="1.49" stroke-linecap="butt" stroke-linejoin="round"/>
<path d="M547.4 745.5 L550.0 737.6 L542.4 741.0 L545.0 733.0 L537.3 736.4 L539.9 728.5 L532.3 731.9 L534.9 723.9 L527.2 727.4 L529.8 719.4 L522.2 722.9 L524.7 714.9 L517.1 718.4 L519.6 710.4 L512.0 713.9 L514.6 705.9 L507.0 709.5 L509.4 701.5 L501.8 705.0 L504.3 697.0 L496.7 700.5 L499.2 692.5 L491.5 695.9 L494.1 687.9 L486.5 691.4 L489.1 683.5 L481.6 687.2 L484.0 679.2 L476.7 683.3 L478.8 675.2 L471.5 679.4 L473.3 671.2 L466.1 675.4 L467.8 667.2 L460.6 671.5 L462.4 663.3 L455.2 667.6 L456.8 659.4 L449.8 663.9 L451.3 655.7 L444.2 660.2" fill="none" stroke="#7a7a7a" stroke-width="0.94" stroke-linecap="butt" stroke-linejoin="round"/>
<path d="M448.0 646.0 L443.5 653.0 L444.5 662.0 L450.0 669.5 L459.0 674.5 L470.0 675.5 L481.0 672.0 L470.0 662.0 L458.0 652.0 Z" fill="#6e6e6e" stroke="#4c4c4c" stroke-width="1.35" stroke-linecap="butt" stroke-linejoin="round"/>
<path d="M446 655 L462 672 M445 662 L455 672 M450 650 L474 672 M447 668 L456 652 M455 673 L463 658 M465 674.5 L470 664" fill="none" stroke="#222" stroke-width="1.49" stroke-linejoin="round" />
<circle cx="448.5" cy="657" r="1.1" fill="#eee"/>
<circle cx="452" cy="663.5" r="1.1" fill="#eee"/>
<circle cx="457.5" cy="668.5" r="1.1" fill="#eee"/>
<circle cx="464" cy="671.5" r="1.1" fill="#eee"/>
<circle cx="471" cy="671" r="1.1" fill="#eee"/>
<circle cx="455" cy="658.5" r="1.1" fill="#eee"/>
<circle cx="461" cy="664.5" r="1.1" fill="#eee"/>
<circle cx="467.5" cy="667.5" r="1.1" fill="#eee"/>
<path d="M252.5 545.5 L252.2 545.1 L251.8 544.6 L251.4 544.1 L250.8 543.4 L250.3 542.7 L249.7 542.0 L249.0 541.3 L248.4 540.5 L247.6 539.7 L246.9 539.0 L246.1 538.3 L245.3 537.5 L244.4 536.7 L243.4 536.0 L242.4 535.2 L241.4 534.4 L240.4 533.6 L239.4 532.8 L238.5 532.0 L237.5 531.2 L236.6 530.4 L235.6 529.6 L234.7 528.8 L233.7 527.9 L232.8 527.1 L231.9 526.3 L230.9 525.5 L230.0 524.8 L229.0 524.2 L228.1 523.6 L227.2 523.1 L226.2 522.6 L225.2 522.2 L224.3 521.8 L223.3 521.4 L222.3 521.1 L221.4 520.9 L220.5 520.8 L219.6 520.8 L218.7 520.8 L217.8 520.9 L217.0 521.1 L216.1 521.4 L215.2 521.7 L214.4 522.1 L213.6 522.6 L212.9 523.2 L212.2 523.9 L211.5 524.6 L211.0 525.5 L210.5 526.4 L210.1 527.5 L209.8 528.6 L209.5 529.8 L209.3 531.1 L209.1 532.5 L208.9 533.9 L208.8 535.5 L208.7 537.2 L208.6 539.0 L208.5 540.9 L208.5 543.0 L208.5 545.3 L208.6 547.6 L208.6 550.0 L208.7 552.5 L208.8 555.0 L208.9 557.5 L209.0 560.0 L209.0 562.5 L209.0 565.0 L209.0 567.6 L209.0 570.3 L209.0 573.0 L208.9 575.7 L208.9 578.3 L208.9 580.9 L208.9 583.3 L208.9 585.5 L209.0 587.5 L209.1 589.3 L209.1 590.8 L209.2 592.2 L209.3 593.4 L209.4 594.5 L209.5 595.6 L209.7 596.6 L209.9 597.7 L210.1 598.8 L210.4 600.0 L210.8 601.3 L211.2 602.6 L211.6 603.9 L212.1 605.2 L212.6 606.5 L213.2 607.8 L213.7 609.0 L214.3 610.3 L215.0 611.4 L215.6 612.5 L216.3 613.5 L217.0 614.5 L217.7 615.5 L218.5 616.4 L219.2 617.3 L220.0 618.1 L220.9 618.9 L221.7 619.7 L222.5 620.4 L223.4 621.0 L224.3 621.6 L225.2 622.2 L226.1 622.7 L227.0 623.2 L228.0 623.6 L229.0 624.0 L229.9 624.4 L230.9 624.6 L231.9 624.8 L232.8 625.0 L233.7 625.1 L234.7 625.1 L235.7 625.0 L236.6 624.9 L237.6 624.7 L238.6 624.5 L239.5 624.3 L240.4 624.0 L241.3 623.7 L242.2 623.4 L243.0 623.1 L243.9 622.6 L244.7 622.2 L245.4 621.7 L246.2 621.2 L247.0 620.7 L247.7 620.1 L248.5 619.6 L249.2 619.2 L250.0 618.7 L250.8 618.3 L251.5 617.8 L252.2 617.4 L253.0 617.0 L253.7 616.6 L254.5 616.1 L255.2 615.8 L256.0 615.4 L256.9 615.1 L257.8 614.8 L258.8 614.5 L259.7 614.3 L260.7 614.1 L261.8 613.9 L262.9 613.7 L264.0 613.6 L265.1 613.5 L266.3 613.4 L267.5 613.3 L268.7 613.3 L270.0 613.3 L271.3 613.4 L272.7 613.5 L274.1 613.6 L275.6 613.7 L277.0 613.9 L278.5 614.1 L279.9 614.3 L281.4 614.5 L282.8 614.8 L284.2 615.1 L285.6 615.4 L287.1 615.7 L288.5 616.1 L289.9 616.5 L291.3 616.9 L292.7 617.3 L294.1 617.8 L295.5 618.2 L296.9 618.7 L298.3 619.2 L299.6 619.7 L301.0 620.2 L302.3 620.7 L303.6 621.3 L305.0 621.8 L306.3 622.4 L307.5 623.0 L308.8 623.6 L310.0 624.2 L311.2 624.8 L312.3 625.4 L313.4 626.0 L314.4 626.6 L315.5 627.3 L316.5 627.9 L317.6 628.6 L318.7 629.4 L319.8 630.1 L321.0 631.0 L322.3 631.9 L323.6 633.0 L324.9 634.1 L326.3 635.2 L327.7 636.4 L329.1 637.6 L330.5 638.8 L331.8 639.9 L333.0 641.0 L334.2 642.0 L335.3 642.9 L336.3 643.8 L337.2 644.7 L338.1 645.5 L338.9 646.4 L339.8 647.1 L340.6 647.9 L341.4 648.7 L342.2 649.5 L343.0 650.3 L343.8 651.1 L344.6 651.9 L345.4 652.7 L346.2 653.5 L347.0 654.2 L347.7 655.0 L348.5 655.8 L349.3 656.5 L350.0 657.3 L350.8 658.1 L351.6 658.9 L352.4 659.7 L353.1 660.5 L353.9 661.3 L354.7 662.1 L355.5 662.9 L356.3 663.6 L357.0 664.4 L357.8 665.2 L358.6 665.9 L359.4 666.6 L360.2 667.4 L360.9 668.1 L361.7 668.8 L362.5 669.5 L363.3 670.2 L364.1 670.9 L364.8 671.5 L365.6 672.1 L366.4 672.7 L367.2 673.3 L368.0 673.8 L368.8 674.4 L369.6 675.0 L370.5 675.5 L371.3 676.0 L372.1 676.3 L372.8 676.6 L373.5 676.8 L374.2 676.8 L374.9 676.7 L375.5 676.4 L376.2 676.0 L376.8 675.5 L377.4 674.9 L377.9 674.2 L378.4 673.5 L378.8 672.9 L379.1 672.2 L379.3 671.5 L379.4 670.8 L379.4 670.1 L379.4 669.4 L379.3 668.7 L379.1 667.9 L378.8 667.1 L378.5 666.3 L378.1 665.6 L377.6 664.8 L377.1 664.0 L376.5 663.2 L375.8 662.4 L375.0 661.6 L374.1 660.8 L373.1 660.0 L372.2 659.1 L371.2 658.4 L370.2 657.6 L369.3 656.8 L368.4 656.1 L367.5 655.4 L366.6 654.7 L365.6 653.9 L364.6 653.2 L363.7 652.6 L362.7 651.9 L361.9 651.3 L361.1 650.8 L360.5 650.4 L360.0 650.0" fill="none" stroke="#363636" stroke-width="9.6" stroke-linejoin="round" stroke-linecap="round"/>
<path d="M252.5 545.5 L252.2 545.1 L251.8 544.6 L251.4 544.1 L250.8 543.4 L250.3 542.7 L249.7 542.0 L249.0 541.3 L248.4 540.5 L247.6 539.7 L246.9 539.0 L246.1 538.3 L245.3 537.5 L244.4 536.7 L243.4 536.0 L242.4 535.2 L241.4 534.4 L240.4 533.6 L239.4 532.8 L238.5 532.0 L237.5 531.2 L236.6 530.4 L235.6 529.6 L234.7 528.8 L233.7 527.9 L232.8 527.1 L231.9 526.3 L230.9 525.5 L230.0 524.8 L229.0 524.2 L228.1 523.6 L227.2 523.1 L226.2 522.6 L225.2 522.2 L224.3 521.8 L223.3 521.4 L222.3 521.1 L221.4 520.9 L220.5 520.8 L219.6 520.8 L218.7 520.8 L217.8 520.9 L217.0 521.1 L216.1 521.4 L215.2 521.7 L214.4 522.1 L213.6 522.6 L212.9 523.2 L212.2 523.9 L211.5 524.6 L211.0 525.5 L210.5 526.4 L210.1 527.5 L209.8 528.6 L209.5 529.8 L209.3 531.1 L209.1 532.5 L208.9 533.9 L208.8 535.5 L208.7 537.2 L208.6 539.0 L208.5 540.9 L208.5 543.0 L208.5 545.3 L208.6 547.6 L208.6 550.0 L208.7 552.5 L208.8 555.0 L208.9 557.5 L209.0 560.0 L209.0 562.5 L209.0 565.0 L209.0 567.6 L209.0 570.3 L209.0 573.0 L208.9 575.7 L208.9 578.3 L208.9 580.9 L208.9 583.3 L208.9 585.5 L209.0 587.5 L209.1 589.3 L209.1 590.8 L209.2 592.2 L209.3 593.4 L209.4 594.5 L209.5 595.6 L209.7 596.6 L209.9 597.7 L210.1 598.8 L210.4 600.0 L210.8 601.3 L211.2 602.6 L211.6 603.9 L212.1 605.2 L212.6 606.5 L213.2 607.8 L213.7 609.0 L214.3 610.3 L215.0 611.4 L215.6 612.5 L216.3 613.5 L217.0 614.5 L217.7 615.5 L218.5 616.4 L219.2 617.3 L220.0 618.1 L220.9 618.9 L221.7 619.7 L222.5 620.4 L223.4 621.0 L224.3 621.6 L225.2 622.2 L226.1 622.7 L227.0 623.2 L228.0 623.6 L229.0 624.0 L229.9 624.4 L230.9 624.6 L231.9 624.8 L232.8 625.0 L233.7 625.1 L234.7 625.1 L235.7 625.0 L236.6 624.9 L237.6 624.7 L238.6 624.5 L239.5 624.3 L240.4 624.0 L241.3 623.7 L242.2 623.4 L243.0 623.1 L243.9 622.6 L244.7 622.2 L245.4 621.7 L246.2 621.2 L247.0 620.7 L247.7 620.1 L248.5 619.6 L249.2 619.2 L250.0 618.7 L250.8 618.3 L251.5 617.8 L252.2 617.4 L253.0 617.0 L253.7 616.6 L254.5 616.1 L255.2 615.8 L256.0 615.4 L256.9 615.1 L257.8 614.8 L258.8 614.5 L259.7 614.3 L260.7 614.1 L261.8 613.9 L262.9 613.7 L264.0 613.6 L265.1 613.5 L266.3 613.4 L267.5 613.3 L268.7 613.3 L270.0 613.3 L271.3 613.4 L272.7 613.5 L274.1 613.6 L275.6 613.7 L277.0 613.9 L278.5 614.1 L279.9 614.3 L281.4 614.5 L282.8 614.8 L284.2 615.1 L285.6 615.4 L287.1 615.7 L288.5 616.1 L289.9 616.5 L291.3 616.9 L292.7 617.3 L294.1 617.8 L295.5 618.2 L296.9 618.7 L298.3 619.2 L299.6 619.7 L301.0 620.2 L302.3 620.7 L303.6 621.3 L305.0 621.8 L306.3 622.4 L307.5 623.0 L308.8 623.6 L310.0 624.2 L311.2 624.8 L312.3 625.4 L313.4 626.0 L314.4 626.6 L315.5 627.3 L316.5 627.9 L317.6 628.6 L318.7 629.4 L319.8 630.1 L321.0 631.0 L322.3 631.9 L323.6 633.0 L324.9 634.1 L326.3 635.2 L327.7 636.4 L329.1 637.6 L330.5 638.8 L331.8 639.9 L333.0 641.0 L334.2 642.0 L335.3 642.9 L336.3 643.8 L337.2 644.7 L338.1 645.5 L338.9 646.4 L339.8 647.1 L340.6 647.9 L341.4 648.7 L342.2 649.5 L343.0 650.3 L343.8 651.1 L344.6 651.9 L345.4 652.7 L346.2 653.5 L347.0 654.2 L347.7 655.0 L348.5 655.8 L349.3 656.5 L350.0 657.3 L350.8 658.1 L351.6 658.9 L352.4 659.7 L353.1 660.5 L353.9 661.3 L354.7 662.1 L355.5 662.9 L356.3 663.6 L357.0 664.4 L357.8 665.2 L358.6 665.9 L359.4 666.6 L360.2 667.4 L360.9 668.1 L361.7 668.8 L362.5 669.5 L363.3 670.2 L364.1 670.9 L364.8 671.5 L365.6 672.1 L366.4 672.7 L367.2 673.3 L368.0 673.8 L368.8 674.4 L369.6 675.0 L370.5 675.5 L371.3 676.0 L372.1 676.3 L372.8 676.6 L373.5 676.8 L374.2 676.8 L374.9 676.7 L375.5 676.4 L376.2 676.0 L376.8 675.5 L377.4 674.9 L377.9 674.2 L378.4 673.5 L378.8 672.9 L379.1 672.2 L379.3 671.5 L379.4 670.8 L379.4 670.1 L379.4 669.4 L379.3 668.7 L379.1 667.9 L378.8 667.1 L378.5 666.3 L378.1 665.6 L377.6 664.8 L377.1 664.0 L376.5 663.2 L375.8 662.4 L375.0 661.6 L374.1 660.8 L373.1 660.0 L372.2 659.1 L371.2 658.4 L370.2 657.6 L369.3 656.8 L368.4 656.1 L367.5 655.4 L366.6 654.7 L365.6 653.9 L364.6 653.2 L363.7 652.6 L362.7 651.9 L361.9 651.3 L361.1 650.8 L360.5 650.4 L360.0 650.0" fill="none" stroke="#858585" stroke-width="6.6" stroke-linejoin="round" stroke-dasharray="2.2 3.1"/>
<path d="M252.5 545.5 L252.2 545.1 L251.8 544.6 L251.4 544.1 L250.8 543.4 L250.3 542.7 L249.7 542.0 L249.0 541.3 L248.4 540.5 L247.6 539.7 L246.9 539.0 L246.1 538.3 L245.3 537.5 L244.4 536.7 L243.4 536.0 L242.4 535.2 L241.4 534.4 L240.4 533.6 L239.4 532.8 L238.5 532.0 L237.5 531.2 L236.6 530.4 L235.6 529.6 L234.7 528.8 L233.7 527.9 L232.8 527.1 L231.9 526.3 L230.9 525.5 L230.0 524.8 L229.0 524.2 L228.1 523.6 L227.2 523.1 L226.2 522.6 L225.2 522.2 L224.3 521.8 L223.3 521.4 L222.3 521.1 L221.4 520.9 L220.5 520.8 L219.6 520.8 L218.7 520.8 L217.8 520.9 L217.0 521.1 L216.1 521.4 L215.2 521.7 L214.4 522.1 L213.6 522.6 L212.9 523.2 L212.2 523.9 L211.5 524.6 L211.0 525.5 L210.5 526.4 L210.1 527.5 L209.8 528.6 L209.5 529.8 L209.3 531.1 L209.1 532.5 L208.9 533.9 L208.8 535.5 L208.7 537.2 L208.6 539.0 L208.5 540.9 L208.5 543.0 L208.5 545.3 L208.6 547.6 L208.6 550.0 L208.7 552.5 L208.8 555.0 L208.9 557.5 L209.0 560.0 L209.0 562.5 L209.0 565.0 L209.0 567.6 L209.0 570.3 L209.0 573.0 L208.9 575.7 L208.9 578.3 L208.9 580.9 L208.9 583.3 L208.9 585.5 L209.0 587.5 L209.1 589.3 L209.1 590.8 L209.2 592.2 L209.3 593.4 L209.4 594.5 L209.5 595.6 L209.7 596.6 L209.9 597.7 L210.1 598.8 L210.4 600.0 L210.8 601.3 L211.2 602.6 L211.6 603.9 L212.1 605.2 L212.6 606.5 L213.2 607.8 L213.7 609.0 L214.3 610.3 L215.0 611.4 L215.6 612.5 L216.3 613.5 L217.0 614.5 L217.7 615.5 L218.5 616.4 L219.2 617.3 L220.0 618.1 L220.9 618.9 L221.7 619.7 L222.5 620.4 L223.4 621.0 L224.3 621.6 L225.2 622.2 L226.1 622.7 L227.0 623.2 L228.0 623.6 L229.0 624.0 L229.9 624.4 L230.9 624.6 L231.9 624.8 L232.8 625.0 L233.7 625.1 L234.7 625.1 L235.7 625.0 L236.6 624.9 L237.6 624.7 L238.6 624.5 L239.5 624.3 L240.4 624.0 L241.3 623.7 L242.2 623.4 L243.0 623.1 L243.9 622.6 L244.7 622.2 L245.4 621.7 L246.2 621.2 L247.0 620.7 L247.7 620.1 L248.5 619.6 L249.2 619.2 L250.0 618.7 L250.8 618.3 L251.5 617.8 L252.2 617.4 L253.0 617.0 L253.7 616.6 L254.5 616.1 L255.2 615.8 L256.0 615.4 L256.9 615.1 L257.8 614.8 L258.8 614.5 L259.7 614.3 L260.7 614.1 L261.8 613.9 L262.9 613.7 L264.0 613.6 L265.1 613.5 L266.3 613.4 L267.5 613.3 L268.7 613.3 L270.0 613.3 L271.3 613.4 L272.7 613.5 L274.1 613.6 L275.6 613.7 L277.0 613.9 L278.5 614.1 L279.9 614.3 L281.4 614.5 L282.8 614.8 L284.2 615.1 L285.6 615.4 L287.1 615.7 L288.5 616.1 L289.9 616.5 L291.3 616.9 L292.7 617.3 L294.1 617.8 L295.5 618.2 L296.9 618.7 L298.3 619.2 L299.6 619.7 L301.0 620.2 L302.3 620.7 L303.6 621.3 L305.0 621.8 L306.3 622.4 L307.5 623.0 L308.8 623.6 L310.0 624.2 L311.2 624.8 L312.3 625.4 L313.4 626.0 L314.4 626.6 L315.5 627.3 L316.5 627.9 L317.6 628.6 L318.7 629.4 L319.8 630.1 L321.0 631.0 L322.3 631.9 L323.6 633.0 L324.9 634.1 L326.3 635.2 L327.7 636.4 L329.1 637.6 L330.5 638.8 L331.8 639.9 L333.0 641.0 L334.2 642.0 L335.3 642.9 L336.3 643.8 L337.2 644.7 L338.1 645.5 L338.9 646.4 L339.8 647.1 L340.6 647.9 L341.4 648.7 L342.2 649.5 L343.0 650.3 L343.8 651.1 L344.6 651.9 L345.4 652.7 L346.2 653.5 L347.0 654.2 L347.7 655.0 L348.5 655.8 L349.3 656.5 L350.0 657.3 L350.8 658.1 L351.6 658.9 L352.4 659.7 L353.1 660.5 L353.9 661.3 L354.7 662.1 L355.5 662.9 L356.3 663.6 L357.0 664.4 L357.8 665.2 L358.6 665.9 L359.4 666.6 L360.2 667.4 L360.9 668.1 L361.7 668.8 L362.5 669.5 L363.3 670.2 L364.1 670.9 L364.8 671.5 L365.6 672.1 L366.4 672.7 L367.2 673.3 L368.0 673.8 L368.8 674.4 L369.6 675.0 L370.5 675.5 L371.3 676.0 L372.1 676.3 L372.8 676.6 L373.5 676.8 L374.2 676.8 L374.9 676.7 L375.5 676.4 L376.2 676.0 L376.8 675.5 L377.4 674.9 L377.9 674.2 L378.4 673.5 L378.8 672.9 L379.1 672.2 L379.3 671.5 L379.4 670.8 L379.4 670.1 L379.4 669.4 L379.3 668.7 L379.1 667.9 L378.8 667.1 L378.5 666.3 L378.1 665.6 L377.6 664.8 L377.1 664.0 L376.5 663.2 L375.8 662.4 L375.0 661.6 L374.1 660.8 L373.1 660.0 L372.2 659.1 L371.2 658.4 L370.2 657.6 L369.3 656.8 L368.4 656.1 L367.5 655.4 L366.6 654.7 L365.6 653.9 L364.6 653.2 L363.7 652.6 L362.7 651.9 L361.9 651.3 L361.1 650.8 L360.5 650.4 L360.0 650.0" fill="none" stroke="#1c1c1c" stroke-width="1.6" stroke-linejoin="round"/>
<circle cx="247.5" cy="543.0" r="1.3" fill="#f4f4f4"/>
<circle cx="247.0" cy="536.0" r="1.3" fill="#f4f4f4"/>
<circle cx="240.0" cy="536.1" r="1.3" fill="#f4f4f4"/>
<circle cx="238.8" cy="529.3" r="1.3" fill="#f4f4f4"/>
<circle cx="231.9" cy="529.4" r="1.3" fill="#f4f4f4"/>
<circle cx="230.6" cy="522.4" r="1.3" fill="#f4f4f4"/>
<circle cx="223.9" cy="524.1" r="1.3" fill="#f4f4f4"/>
<circle cx="219.5" cy="518.5" r="1.3" fill="#f4f4f4"/>
<circle cx="215.7" cy="524.1" r="1.3" fill="#f4f4f4"/>
<circle cx="208.9" cy="524.6" r="1.3" fill="#f4f4f4"/>
<circle cx="211.6" cy="531.2" r="1.3" fill="#f4f4f4"/>
<circle cx="206.5" cy="535.8" r="1.3" fill="#f4f4f4"/>
<circle cx="210.8" cy="541.2" r="1.3" fill="#f4f4f4"/>
<circle cx="206.3" cy="546.5" r="1.3" fill="#f4f4f4"/>
<circle cx="211.0" cy="551.6" r="1.3" fill="#f4f4f4"/>
<circle cx="206.6" cy="557.0" r="1.3" fill="#f4f4f4"/>
<circle cx="211.3" cy="562.2" r="1.3" fill="#f4f4f4"/>
<circle cx="206.7" cy="567.4" r="1.3" fill="#f4f4f4"/>
<circle cx="211.3" cy="572.7" r="1.3" fill="#f4f4f4"/>
<circle cx="206.6" cy="577.9" r="1.3" fill="#f4f4f4"/>
<circle cx="211.2" cy="583.2" r="1.3" fill="#f4f4f4"/>
<circle cx="206.7" cy="588.5" r="1.3" fill="#f4f4f4"/>
<circle cx="211.6" cy="593.4" r="1.3" fill="#f4f4f4"/>
<circle cx="207.9" cy="599.4" r="1.3" fill="#f4f4f4"/>
<circle cx="213.8" cy="603.1" r="1.3" fill="#f4f4f4"/>
<circle cx="211.5" cy="609.7" r="1.3" fill="#f4f4f4"/>
<circle cx="218.1" cy="612.1" r="1.3" fill="#f4f4f4"/>
<circle cx="217.7" cy="619.0" r="1.3" fill="#f4f4f4"/>
<circle cx="224.7" cy="619.1" r="1.3" fill="#f4f4f4"/>
<circle cx="226.9" cy="625.7" r="1.3" fill="#f4f4f4"/>
<circle cx="233.1" cy="622.7" r="1.3" fill="#f4f4f4"/>
<circle cx="238.5" cy="626.9" r="1.3" fill="#f4f4f4"/>
<circle cx="242.1" cy="621.0" r="1.3" fill="#f4f4f4"/>
<circle cx="248.7" cy="622.2" r="1.3" fill="#f4f4f4"/>
<circle cx="250.9" cy="615.5" r="1.3" fill="#f4f4f4"/>
<circle cx="257.5" cy="617.3" r="1.3" fill="#f4f4f4"/>
<circle cx="261.4" cy="611.6" r="1.3" fill="#f4f4f4"/>
<circle cx="267.1" cy="615.6" r="1.3" fill="#f4f4f4"/>
<circle cx="272.4" cy="611.1" r="1.3" fill="#f4f4f4"/>
<circle cx="277.2" cy="616.2" r="1.3" fill="#f4f4f4"/>
<circle cx="283.1" cy="612.5" r="1.3" fill="#f4f4f4"/>
<circle cx="287.2" cy="618.2" r="1.3" fill="#f4f4f4"/>
<circle cx="293.5" cy="615.2" r="1.3" fill="#f4f4f4"/>
<circle cx="297.0" cy="621.2" r="1.3" fill="#f4f4f4"/>
<circle cx="303.6" cy="618.7" r="1.3" fill="#f4f4f4"/>
<circle cx="306.5" cy="625.1" r="1.3" fill="#f4f4f4"/>
<circle cx="313.3" cy="623.3" r="1.3" fill="#f4f4f4"/>
<circle cx="315.5" cy="630.0" r="1.3" fill="#f4f4f4"/>
<circle cx="322.4" cy="629.2" r="1.3" fill="#f4f4f4"/>
<circle cx="323.7" cy="636.0" r="1.3" fill="#f4f4f4"/>
<circle cx="330.7" cy="635.9" r="1.3" fill="#f4f4f4"/>
<circle cx="331.6" cy="642.8" r="1.3" fill="#f4f4f4"/>
<circle cx="338.6" cy="642.9" r="1.3" fill="#f4f4f4"/>
<circle cx="339.2" cy="649.9" r="1.3" fill="#f4f4f4"/>
<circle cx="346.2" cy="650.2" r="1.3" fill="#f4f4f4"/>
<circle cx="346.7" cy="657.2" r="1.3" fill="#f4f4f4"/>
<circle cx="353.6" cy="657.7" r="1.3" fill="#f4f4f4"/>
<circle cx="354.1" cy="664.7" r="1.3" fill="#f4f4f4"/>
<circle cx="361.0" cy="665.0" r="1.3" fill="#f4f4f4"/>
<circle cx="361.8" cy="672.0" r="1.3" fill="#f4f4f4"/>
<circle cx="368.8" cy="671.6" r="1.3" fill="#f4f4f4"/>
<circle cx="371.4" cy="678.5" r="1.3" fill="#f4f4f4"/>
<circle cx="375.4" cy="673.6" r="1.3" fill="#f4f4f4"/>
<circle cx="381.6" cy="671.5" r="1.3" fill="#f4f4f4"/>
<circle cx="376.2" cy="667.0" r="1.3" fill="#f4f4f4"/>
<circle cx="376.9" cy="660.3" r="1.3" fill="#f4f4f4"/>
<circle cx="369.8" cy="660.2" r="1.3" fill="#f4f4f4"/>
<circle cx="368.5" cy="653.3" r="1.3" fill="#f4f4f4"/>
<path d="M423.7 630.5 L423.1 629.7 L422.6 629.0 L422.2 628.2 L421.8 627.5 L421.5 626.8 L421.3 626.1 L421.1 625.4 L421.0 624.6 L420.9 623.9 L420.9 623.2 L420.9 622.5 L421.0 621.7 L421.2 620.9 L421.4 620.1 L421.7 619.4 L422.0 618.6 L422.4 617.9 L422.7 617.2 L423.1 616.6 L423.5 616.0 L423.9 615.5 L424.4 615.0 L424.9 614.5 L425.4 614.1 L425.9 613.7 L426.5 613.3 L427.1 613.0 L427.6 612.8 L428.2 612.7 L428.8 612.6 L429.4 612.6 L430.0 612.7 L430.5 612.9 L431.1 613.2 L431.7 613.5 L432.3 613.8 L433.0 614.2 L433.6 614.7 L434.3 615.1 L435.0 615.6 L435.7 616.1 L436.5 616.6 L437.3 617.2 L438.1 617.8 L438.9 618.4 L439.7 619.1 L440.6 619.7 L441.4 620.5 L442.3 621.2 L443.2 622.0 L444.1 622.8 L445.0 623.6 L445.8 624.5 L446.7 625.4 L447.6 626.3 L448.6 627.3 L449.6 628.3 L450.6 629.3 L451.8 630.4 L453.0 631.5 L454.3 632.7 L455.7 633.9 L457.3 635.2 L458.8 636.6 L460.4 637.9 L462.1 639.3 L463.7 640.7 L465.4 642.0 L467.0 643.3 L468.6 644.5 L470.2 645.7 L471.7 646.8 L473.2 648.0 L474.7 649.1 L476.3 650.2 L477.8 651.2 L479.4 652.2 L481.0 653.2 L482.6 654.1 L484.2 655.0 L485.9 655.8 L487.6 656.6 L489.3 657.4 L491.1 658.1 L492.9 658.8 L494.7 659.4 L496.5 660.0 L498.2 660.6 L500.0 661.1 L501.8 661.5 L503.6 661.9 L505.4 662.2 L507.1 662.5 L508.9 662.8 L510.7 663.0 L512.5 663.2 L514.3 663.3 L516.0 663.3 L517.7 663.3 L519.4 663.3 L521.0 663.2 L522.6 663.1 L524.2 662.9 L525.8 662.7 L527.3 662.4 L528.9 662.0 L530.4 661.7 L531.9 661.3 L533.4 660.8 L535.0 660.3 L536.6 659.7 L538.2 659.1 L539.8 658.3 L541.5 657.5 L543.1 656.7 L544.7 655.9 L546.3 655.0 L547.8 654.3 L549.3 653.6 L550.6 653.0 L551.8 652.5 L553.0 652.0 L554.1 651.6 L555.1 651.2 L556.1 650.8 L557.0 650.5 L558.0 650.2 L559.0 649.9 L560.0 649.7 L561.0 649.5 L562.1 649.3 L563.2 649.2 L564.4 649.1 L565.5 649.0 L566.7 649.0 L567.9 649.0 L569.0 649.0 L570.1 649.1 L571.1 649.2 L572.1 649.4 L573.0 649.6 L573.9 649.9 L574.8 650.2 L575.6 650.6 L576.4 651.0 L577.1 651.5 L577.9 651.9 L578.6 652.4 L579.3 653.0 L580.0 653.5 L580.7 654.0 L581.3 654.6 L581.9 655.1 L582.5 655.7 L583.0 656.3 L583.6 657.0 L584.1 657.7 L584.7 658.5 L585.2 659.3 L585.8 660.3 L586.4 661.4 L587.0 662.5 L587.7 663.8 L588.3 665.1 L588.9 666.5 L589.6 667.9 L590.1 669.4 L590.7 670.9 L591.2 672.4 L591.6 674.0 L592.0 675.6 L592.3 677.3 L592.5 679.0 L592.7 680.7 L592.9 682.5 L593.1 684.3 L593.2 686.1 L593.3 688.0 L593.5 689.8 L593.6 691.6 L593.7 693.4 L593.8 695.3 L593.9 697.1 L594.0 699.0 L594.1 700.9 L594.2 702.7 L594.2 704.6 L594.3 706.4 L594.3 708.2 L594.4 710.0 L594.4 711.7 L594.5 713.5 L594.5 715.2 L594.6 716.9 L594.6 718.5 L594.6 720.2 L594.6 721.8 L594.6 723.5 L594.6 725.1 L594.6 726.7 L594.6 728.3 L594.6 730.0 L594.5 731.6 L594.5 733.3 L594.5 734.9 L594.4 736.5 L594.3 738.1 L594.1 739.6 L593.9 741.0 L593.6 742.3 L593.2 743.5 L592.7 744.7 L592.2 745.9 L591.6 747.0 L591.0 748.0 L590.4 748.9 L589.7 749.8 L589.0 750.7 L588.3 751.4 L587.7 752.1 L587.1 752.7 L586.4 753.2 L585.8 753.7 L585.1 754.1 L584.4 754.5 L583.7 754.7 L583.0 754.9 L582.3 755.1 L581.6 755.2 L580.9 755.2 L580.1 755.1 L579.4 755.0 L578.6 754.8 L577.8 754.5 L576.9 754.2 L576.1 753.8 L575.3 753.3 L574.5 752.9 L573.8 752.5 L573.0 752.0 L572.3 751.6 L571.6 751.1 L571.0 750.6 L570.4 750.2 L569.8 749.6 L569.2 749.1 L568.6 748.5 L567.9 747.8 L567.1 747.0 L566.2 746.2 L565.3 745.3 L564.3 744.3 L563.2 743.2 L562.2 742.1 L561.0 741.0 L559.8 739.7 L558.6 738.5 L557.3 737.2 L555.9 735.9 L554.5 734.5 L553.0 733.1 L551.4 731.6 L549.7 730.1 L547.9 728.5 L546.1 726.9 L544.3 725.3 L542.4 723.7 L540.6 722.1 L538.8 720.5 L537.0 718.9 L535.2 717.3 L533.5 715.7 L531.7 714.2 L529.9 712.6 L528.1 711.0 L526.3 709.4 L524.5 707.8 L522.8 706.3 L521.1 704.8 L519.4 703.3 L517.8 701.9 L516.1 700.4 L514.5 699.1 L513.0 697.7 L511.4 696.3 L509.9 695.0 L508.3 693.7 L506.8 692.3 L505.3 691.0 L503.7 689.6 L502.1 688.2 L500.6 686.8 L499.0 685.4 L497.5 684.0 L495.9 682.6 L494.3 681.2 L492.8 679.9 L491.2 678.5 L489.7 677.2 L488.1 675.9 L486.5 674.6 L484.9 673.4 L483.4 672.2 L481.8 671.0 L480.2 669.8 L478.6 668.6 L477.0 667.5 L475.5 666.4 L474.0 665.3 L472.5 664.2 L471.0 663.1 L469.6 662.1 L468.2 661.1 L466.8 660.1 L465.4 659.1 L464.0 658.2 L462.7 657.2 L461.4 656.3 L460.1 655.4 L458.8 654.5 L457.6 653.6 L456.4 652.8 L455.2 652.0 L454.1 651.2 L453.0 650.4 L451.8 649.7 L450.7 648.9 L449.5 648.1 L448.3 647.4 L447.1 646.6 L445.8 645.8 L444.4 645.0 L443.0 644.3 L441.6 643.5 L440.1 642.7 L438.7 642.0 L437.3 641.2 L435.9 640.4 L434.6 639.6 L433.4 638.8 L432.2 638.0 L431.1 637.2 L430.0 636.3 L428.9 635.5 L427.9 634.6 L426.9 633.8 L426.0 632.9 L425.1 632.1 L424.4 631.3 L423.7 630.5" fill="none" stroke="#363636" stroke-width="9.6" stroke-linejoin="round" stroke-linecap="round"/>
<path d="M423.7 630.5 L423.1 629.7 L422.6 629.0 L422.2 628.2 L421.8 627.5 L421.5 626.8 L421.3 626.1 L421.1 625.4 L421.0 624.6 L420.9 623.9 L420.9 623.2 L420.9 622.5 L421.0 621.7 L421.2 620.9 L421.4 620.1 L421.7 619.4 L422.0 618.6 L422.4 617.9 L422.7 617.2 L423.1 616.6 L423.5 616.0 L423.9 615.5 L424.4 615.0 L424.9 614.5 L425.4 614.1 L425.9 613.7 L426.5 613.3 L427.1 613.0 L427.6 612.8 L428.2 612.7 L428.8 612.6 L429.4 612.6 L430.0 612.7 L430.5 612.9 L431.1 613.2 L431.7 613.5 L432.3 613.8 L433.0 614.2 L433.6 614.7 L434.3 615.1 L435.0 615.6 L435.7 616.1 L436.5 616.6 L437.3 617.2 L438.1 617.8 L438.9 618.4 L439.7 619.1 L440.6 619.7 L441.4 620.5 L442.3 621.2 L443.2 622.0 L444.1 622.8 L445.0 623.6 L445.8 624.5 L446.7 625.4 L447.6 626.3 L448.6 627.3 L449.6 628.3 L450.6 629.3 L451.8 630.4 L453.0 631.5 L454.3 632.7 L455.7 633.9 L457.3 635.2 L458.8 636.6 L460.4 637.9 L462.1 639.3 L463.7 640.7 L465.4 642.0 L467.0 643.3 L468.6 644.5 L470.2 645.7 L471.7 646.8 L473.2 648.0 L474.7 649.1 L476.3 650.2 L477.8 651.2 L479.4 652.2 L481.0 653.2 L482.6 654.1 L484.2 655.0 L485.9 655.8 L487.6 656.6 L489.3 657.4 L491.1 658.1 L492.9 658.8 L494.7 659.4 L496.5 660.0 L498.2 660.6 L500.0 661.1 L501.8 661.5 L503.6 661.9 L505.4 662.2 L507.1 662.5 L508.9 662.8 L510.7 663.0 L512.5 663.2 L514.3 663.3 L516.0 663.3 L517.7 663.3 L519.4 663.3 L521.0 663.2 L522.6 663.1 L524.2 662.9 L525.8 662.7 L527.3 662.4 L528.9 662.0 L530.4 661.7 L531.9 661.3 L533.4 660.8 L535.0 660.3 L536.6 659.7 L538.2 659.1 L539.8 658.3 L541.5 657.5 L543.1 656.7 L544.7 655.9 L546.3 655.0 L547.8 654.3 L549.3 653.6 L550.6 653.0 L551.8 652.5 L553.0 652.0 L554.1 651.6 L555.1 651.2 L556.1 650.8 L557.0 650.5 L558.0 650.2 L559.0 649.9 L560.0 649.7 L561.0 649.5 L562.1 649.3 L563.2 649.2 L564.4 649.1 L565.5 649.0 L566.7 649.0 L567.9 649.0 L569.0 649.0 L570.1 649.1 L571.1 649.2 L572.1 649.4 L573.0 649.6 L573.9 649.9 L574.8 650.2 L575.6 650.6 L576.4 651.0 L577.1 651.5 L577.9 651.9 L578.6 652.4 L579.3 653.0 L580.0 653.5 L580.7 654.0 L581.3 654.6 L581.9 655.1 L582.5 655.7 L583.0 656.3 L583.6 657.0 L584.1 657.7 L584.7 658.5 L585.2 659.3 L585.8 660.3 L586.4 661.4 L587.0 662.5 L587.7 663.8 L588.3 665.1 L588.9 666.5 L589.6 667.9 L590.1 669.4 L590.7 670.9 L591.2 672.4 L591.6 674.0 L592.0 675.6 L592.3 677.3 L592.5 679.0 L592.7 680.7 L592.9 682.5 L593.1 684.3 L593.2 686.1 L593.3 688.0 L593.5 689.8 L593.6 691.6 L593.7 693.4 L593.8 695.3 L593.9 697.1 L594.0 699.0 L594.1 700.9 L594.2 702.7 L594.2 704.6 L594.3 706.4 L594.3 708.2 L594.4 710.0 L594.4 711.7 L594.5 713.5 L594.5 715.2 L594.6 716.9 L594.6 718.5 L594.6 720.2 L594.6 721.8 L594.6 723.5 L594.6 725.1 L594.6 726.7 L594.6 728.3 L594.6 730.0 L594.5 731.6 L594.5 733.3 L594.5 734.9 L594.4 736.5 L594.3 738.1 L594.1 739.6 L593.9 741.0 L593.6 742.3 L593.2 743.5 L592.7 744.7 L592.2 745.9 L591.6 747.0 L591.0 748.0 L590.4 748.9 L589.7 749.8 L589.0 750.7 L588.3 751.4 L587.7 752.1 L587.1 752.7 L586.4 753.2 L585.8 753.7 L585.1 754.1 L584.4 754.5 L583.7 754.7 L583.0 754.9 L582.3 755.1 L581.6 755.2 L580.9 755.2 L580.1 755.1 L579.4 755.0 L578.6 754.8 L577.8 754.5 L576.9 754.2 L576.1 753.8 L575.3 753.3 L574.5 752.9 L573.8 752.5 L573.0 752.0 L572.3 751.6 L571.6 751.1 L571.0 750.6 L570.4 750.2 L569.8 749.6 L569.2 749.1 L568.6 748.5 L567.9 747.8 L567.1 747.0 L566.2 746.2 L565.3 745.3 L564.3 744.3 L563.2 743.2 L562.2 742.1 L561.0 741.0 L559.8 739.7 L558.6 738.5 L557.3 737.2 L555.9 735.9 L554.5 734.5 L553.0 733.1 L551.4 731.6 L549.7 730.1 L547.9 728.5 L546.1 726.9 L544.3 725.3 L542.4 723.7 L540.6 722.1 L538.8 720.5 L537.0 718.9 L535.2 717.3 L533.5 715.7 L531.7 714.2 L529.9 712.6 L528.1 711.0 L526.3 709.4 L524.5 707.8 L522.8 706.3 L521.1 704.8 L519.4 703.3 L517.8 701.9 L516.1 700.4 L514.5 699.1 L513.0 697.7 L511.4 696.3 L509.9 695.0 L508.3 693.7 L506.8 692.3 L505.3 691.0 L503.7 689.6 L502.1 688.2 L500.6 686.8 L499.0 685.4 L497.5 684.0 L495.9 682.6 L494.3 681.2 L492.8 679.9 L491.2 678.5 L489.7 677.2 L488.1 675.9 L486.5 674.6 L484.9 673.4 L483.4 672.2 L481.8 671.0 L480.2 669.8 L478.6 668.6 L477.0 667.5 L475.5 666.4 L474.0 665.3 L472.5 664.2 L471.0 663.1 L469.6 662.1 L468.2 661.1 L466.8 660.1 L465.4 659.1 L464.0 658.2 L462.7 657.2 L461.4 656.3 L460.1 655.4 L458.8 654.5 L457.6 653.6 L456.4 652.8 L455.2 652.0 L454.1 651.2 L453.0 650.4 L451.8 649.7 L450.7 648.9 L449.5 648.1 L448.3 647.4 L447.1 646.6 L445.8 645.8 L444.4 645.0 L443.0 644.3 L441.6 643.5 L440.1 642.7 L438.7 642.0 L437.3 641.2 L435.9 640.4 L434.6 639.6 L433.4 638.8 L432.2 638.0 L431.1 637.2 L430.0 636.3 L428.9 635.5 L427.9 634.6 L426.9 633.8 L426.0 632.9 L425.1 632.1 L424.4 631.3 L423.7 630.5" fill="none" stroke="#858585" stroke-width="6.6" stroke-linejoin="round" stroke-dasharray="2.2 3.1"/>
<path d="M423.7 630.5 L423.1 629.7 L422.6 629.0 L422.2 628.2 L421.8 627.5 L421.5 626.8 L421.3 626.1 L421.1 625.4 L421.0 624.6 L420.9 623.9 L420.9 623.2 L420.9 622.5 L421.0 621.7 L421.2 620.9 L421.4 620.1 L421.7 619.4 L422.0 618.6 L422.4 617.9 L422.7 617.2 L423.1 616.6 L423.5 616.0 L423.9 615.5 L424.4 615.0 L424.9 614.5 L425.4 614.1 L425.9 613.7 L426.5 613.3 L427.1 613.0 L427.6 612.8 L428.2 612.7 L428.8 612.6 L429.4 612.6 L430.0 612.7 L430.5 612.9 L431.1 613.2 L431.7 613.5 L432.3 613.8 L433.0 614.2 L433.6 614.7 L434.3 615.1 L435.0 615.6 L435.7 616.1 L436.5 616.6 L437.3 617.2 L438.1 617.8 L438.9 618.4 L439.7 619.1 L440.6 619.7 L441.4 620.5 L442.3 621.2 L443.2 622.0 L444.1 622.8 L445.0 623.6 L445.8 624.5 L446.7 625.4 L447.6 626.3 L448.6 627.3 L449.6 628.3 L450.6 629.3 L451.8 630.4 L453.0 631.5 L454.3 632.7 L455.7 633.9 L457.3 635.2 L458.8 636.6 L460.4 637.9 L462.1 639.3 L463.7 640.7 L465.4 642.0 L467.0 643.3 L468.6 644.5 L470.2 645.7 L471.7 646.8 L473.2 648.0 L474.7 649.1 L476.3 650.2 L477.8 651.2 L479.4 652.2 L481.0 653.2 L482.6 654.1 L484.2 655.0 L485.9 655.8 L487.6 656.6 L489.3 657.4 L491.1 658.1 L492.9 658.8 L494.7 659.4 L496.5 660.0 L498.2 660.6 L500.0 661.1 L501.8 661.5 L503.6 661.9 L505.4 662.2 L507.1 662.5 L508.9 662.8 L510.7 663.0 L512.5 663.2 L514.3 663.3 L516.0 663.3 L517.7 663.3 L519.4 663.3 L521.0 663.2 L522.6 663.1 L524.2 662.9 L525.8 662.7 L527.3 662.4 L528.9 662.0 L530.4 661.7 L531.9 661.3 L533.4 660.8 L535.0 660.3 L536.6 659.7 L538.2 659.1 L539.8 658.3 L541.5 657.5 L543.1 656.7 L544.7 655.9 L546.3 655.0 L547.8 654.3 L549.3 653.6 L550.6 653.0 L551.8 652.5 L553.0 652.0 L554.1 651.6 L555.1 651.2 L556.1 650.8 L557.0 650.5 L558.0 650.2 L559.0 649.9 L560.0 649.7 L561.0 649.5 L562.1 649.3 L563.2 649.2 L564.4 649.1 L565.5 649.0 L566.7 649.0 L567.9 649.0 L569.0 649.0 L570.1 649.1 L571.1 649.2 L572.1 649.4 L573.0 649.6 L573.9 649.9 L574.8 650.2 L575.6 650.6 L576.4 651.0 L577.1 651.5 L577.9 651.9 L578.6 652.4 L579.3 653.0 L580.0 653.5 L580.7 654.0 L581.3 654.6 L581.9 655.1 L582.5 655.7 L583.0 656.3 L583.6 657.0 L584.1 657.7 L584.7 658.5 L585.2 659.3 L585.8 660.3 L586.4 661.4 L587.0 662.5 L587.7 663.8 L588.3 665.1 L588.9 666.5 L589.6 667.9 L590.1 669.4 L590.7 670.9 L591.2 672.4 L591.6 674.0 L592.0 675.6 L592.3 677.3 L592.5 679.0 L592.7 680.7 L592.9 682.5 L593.1 684.3 L593.2 686.1 L593.3 688.0 L593.5 689.8 L593.6 691.6 L593.7 693.4 L593.8 695.3 L593.9 697.1 L594.0 699.0 L594.1 700.9 L594.2 702.7 L594.2 704.6 L594.3 706.4 L594.3 708.2 L594.4 710.0 L594.4 711.7 L594.5 713.5 L594.5 715.2 L594.6 716.9 L594.6 718.5 L594.6 720.2 L594.6 721.8 L594.6 723.5 L594.6 725.1 L594.6 726.7 L594.6 728.3 L594.6 730.0 L594.5 731.6 L594.5 733.3 L594.5 734.9 L594.4 736.5 L594.3 738.1 L594.1 739.6 L593.9 741.0 L593.6 742.3 L593.2 743.5 L592.7 744.7 L592.2 745.9 L591.6 747.0 L591.0 748.0 L590.4 748.9 L589.7 749.8 L589.0 750.7 L588.3 751.4 L587.7 752.1 L587.1 752.7 L586.4 753.2 L585.8 753.7 L585.1 754.1 L584.4 754.5 L583.7 754.7 L583.0 754.9 L582.3 755.1 L581.6 755.2 L580.9 755.2 L580.1 755.1 L579.4 755.0 L578.6 754.8 L577.8 754.5 L576.9 754.2 L576.1 753.8 L575.3 753.3 L574.5 752.9 L573.8 752.5 L573.0 752.0 L572.3 751.6 L571.6 751.1 L571.0 750.6 L570.4 750.2 L569.8 749.6 L569.2 749.1 L568.6 748.5 L567.9 747.8 L567.1 747.0 L566.2 746.2 L565.3 745.3 L564.3 744.3 L563.2 743.2 L562.2 742.1 L561.0 741.0 L559.8 739.7 L558.6 738.5 L557.3 737.2 L555.9 735.9 L554.5 734.5 L553.0 733.1 L551.4 731.6 L549.7 730.1 L547.9 728.5 L546.1 726.9 L544.3 725.3 L542.4 723.7 L540.6 722.1 L538.8 720.5 L537.0 718.9 L535.2 717.3 L533.5 715.7 L531.7 714.2 L529.9 712.6 L528.1 711.0 L526.3 709.4 L524.5 707.8 L522.8 706.3 L521.1 704.8 L519.4 703.3 L517.8 701.9 L516.1 700.4 L514.5 699.1 L513.0 697.7 L511.4 696.3 L509.9 695.0 L508.3 693.7 L506.8 692.3 L505.3 691.0 L503.7 689.6 L502.1 688.2 L500.6 686.8 L499.0 685.4 L497.5 684.0 L495.9 682.6 L494.3 681.2 L492.8 679.9 L491.2 678.5 L489.7 677.2 L488.1 675.9 L486.5 674.6 L484.9 673.4 L483.4 672.2 L481.8 671.0 L480.2 669.8 L478.6 668.6 L477.0 667.5 L475.5 666.4 L474.0 665.3 L472.5 664.2 L471.0 663.1 L469.6 662.1 L468.2 661.1 L466.8 660.1 L465.4 659.1 L464.0 658.2 L462.7 657.2 L461.4 656.3 L460.1 655.4 L458.8 654.5 L457.6 653.6 L456.4 652.8 L455.2 652.0 L454.1 651.2 L453.0 650.4 L451.8 649.7 L450.7 648.9 L449.5 648.1 L448.3 647.4 L447.1 646.6 L445.8 645.8 L444.4 645.0 L443.0 644.3 L441.6 643.5 L440.1 642.7 L438.7 642.0 L437.3 641.2 L435.9 640.4 L434.6 639.6 L433.4 638.8 L432.2 638.0 L431.1 637.2 L430.0 636.3 L428.9 635.5 L427.9 634.6 L426.9 633.8 L426.0 632.9 L425.1 632.1 L424.4 631.3 L423.7 630.5" fill="none" stroke="#1c1c1c" stroke-width="1.6" stroke-linejoin="round"/>
<circle cx="419.0" cy="626.5" r="1.3" fill="#f4f4f4"/>
<circle cx="423.5" cy="621.2" r="1.3" fill="#f4f4f4"/>
<circle cx="421.7" cy="614.6" r="1.3" fill="#f4f4f4"/>
<circle cx="428.1" cy="615.1" r="1.3" fill="#f4f4f4"/>
<circle cx="433.4" cy="611.9" r="1.3" fill="#f4f4f4"/>
<circle cx="435.5" cy="618.8" r="1.3" fill="#f4f4f4"/>
<circle cx="442.5" cy="618.4" r="1.3" fill="#f4f4f4"/>
<circle cx="443.3" cy="625.3" r="1.3" fill="#f4f4f4"/>
<circle cx="450.2" cy="625.7" r="1.3" fill="#f4f4f4"/>
<circle cx="450.9" cy="632.7" r="1.3" fill="#f4f4f4"/>
<circle cx="457.9" cy="632.7" r="1.3" fill="#f4f4f4"/>
<circle cx="458.9" cy="639.6" r="1.3" fill="#f4f4f4"/>
<circle cx="465.8" cy="639.4" r="1.3" fill="#f4f4f4"/>
<circle cx="467.1" cy="646.3" r="1.3" fill="#f4f4f4"/>
<circle cx="474.1" cy="645.7" r="1.3" fill="#f4f4f4"/>
<circle cx="475.7" cy="652.6" r="1.3" fill="#f4f4f4"/>
<circle cx="482.6" cy="651.5" r="1.3" fill="#f4f4f4"/>
<circle cx="485.1" cy="658.0" r="1.3" fill="#f4f4f4"/>
<circle cx="491.7" cy="655.9" r="1.3" fill="#f4f4f4"/>
<circle cx="495.1" cy="662.0" r="1.3" fill="#f4f4f4"/>
<circle cx="501.4" cy="659.0" r="1.3" fill="#f4f4f4"/>
<circle cx="505.6" cy="664.6" r="1.3" fill="#f4f4f4"/>
<circle cx="511.4" cy="660.7" r="1.3" fill="#f4f4f4"/>
<circle cx="516.4" cy="665.6" r="1.3" fill="#f4f4f4"/>
<circle cx="521.5" cy="660.9" r="1.3" fill="#f4f4f4"/>
<circle cx="527.3" cy="664.7" r="1.3" fill="#f4f4f4"/>
<circle cx="531.3" cy="659.0" r="1.3" fill="#f4f4f4"/>
<circle cx="537.8" cy="661.7" r="1.3" fill="#f4f4f4"/>
<circle cx="540.7" cy="655.3" r="1.3" fill="#f4f4f4"/>
<circle cx="547.4" cy="657.1" r="1.3" fill="#f4f4f4"/>
<circle cx="550.2" cy="650.7" r="1.3" fill="#f4f4f4"/>
<circle cx="556.7" cy="653.0" r="1.3" fill="#f4f4f4"/>
<circle cx="560.7" cy="647.2" r="1.3" fill="#f4f4f4"/>
<circle cx="566.4" cy="651.3" r="1.3" fill="#f4f4f4"/>
<circle cx="572.0" cy="647.0" r="1.3" fill="#f4f4f4"/>
<circle cx="575.4" cy="653.1" r="1.3" fill="#f4f4f4"/>
<circle cx="582.3" cy="652.4" r="1.3" fill="#f4f4f4"/>
<circle cx="582.5" cy="659.3" r="1.3" fill="#f4f4f4"/>
<circle cx="589.0" cy="661.4" r="1.3" fill="#f4f4f4"/>
<circle cx="587.1" cy="668.1" r="1.3" fill="#f4f4f4"/>
<circle cx="593.3" cy="671.4" r="1.3" fill="#f4f4f4"/>
<circle cx="590.0" cy="677.6" r="1.3" fill="#f4f4f4"/>
<circle cx="595.2" cy="682.2" r="1.3" fill="#f4f4f4"/>
<circle cx="591.0" cy="687.8" r="1.3" fill="#f4f4f4"/>
<circle cx="596.0" cy="692.7" r="1.3" fill="#f4f4f4"/>
<circle cx="591.7" cy="698.2" r="1.3" fill="#f4f4f4"/>
<circle cx="596.5" cy="703.3" r="1.3" fill="#f4f4f4"/>
<circle cx="592.1" cy="708.7" r="1.3" fill="#f4f4f4"/>
<circle cx="596.8" cy="713.8" r="1.3" fill="#f4f4f4"/>
<circle cx="592.3" cy="719.2" r="1.3" fill="#f4f4f4"/>
<circle cx="596.9" cy="724.4" r="1.3" fill="#f4f4f4"/>
<circle cx="592.3" cy="729.6" r="1.3" fill="#f4f4f4"/>
<circle cx="596.8" cy="735.0" r="1.3" fill="#f4f4f4"/>
<circle cx="591.8" cy="739.7" r="1.3" fill="#f4f4f4"/>
<circle cx="594.7" cy="746.0" r="1.3" fill="#f4f4f4"/>
<circle cx="588.0" cy="748.2" r="1.3" fill="#f4f4f4"/>
<circle cx="587.5" cy="755.3" r="1.3" fill="#f4f4f4"/>
<circle cx="581.3" cy="752.9" r="1.3" fill="#f4f4f4"/>
<circle cx="575.5" cy="756.0" r="1.3" fill="#f4f4f4"/>
<circle cx="573.2" cy="749.4" r="1.3" fill="#f4f4f4"/>
<circle cx="566.3" cy="749.5" r="1.3" fill="#f4f4f4"/>
<circle cx="565.7" cy="742.5" r="1.3" fill="#f4f4f4"/>
<circle cx="558.8" cy="742.0" r="1.3" fill="#f4f4f4"/>
<circle cx="558.4" cy="735.0" r="1.3" fill="#f4f4f4"/>
<circle cx="551.4" cy="734.7" r="1.3" fill="#f4f4f4"/>
<circle cx="550.6" cy="727.8" r="1.3" fill="#f4f4f4"/>
<circle cx="543.6" cy="727.8" r="1.3" fill="#f4f4f4"/>
<circle cx="542.7" cy="720.9" r="1.3" fill="#f4f4f4"/>
<circle cx="535.7" cy="720.8" r="1.3" fill="#f4f4f4"/>
<circle cx="534.8" cy="713.9" r="1.3" fill="#f4f4f4"/>
<circle cx="527.9" cy="713.9" r="1.3" fill="#f4f4f4"/>
<circle cx="527.0" cy="706.9" r="1.3" fill="#f4f4f4"/>
<circle cx="520.0" cy="706.9" r="1.3" fill="#f4f4f4"/>
<circle cx="519.1" cy="700.0" r="1.3" fill="#f4f4f4"/>
<circle cx="512.1" cy="700.0" r="1.3" fill="#f4f4f4"/>
<circle cx="511.2" cy="693.1" r="1.3" fill="#f4f4f4"/>
<circle cx="504.2" cy="693.1" r="1.3" fill="#f4f4f4"/>
<circle cx="503.3" cy="686.2" r="1.3" fill="#f4f4f4"/>
<circle cx="496.3" cy="686.1" r="1.3" fill="#f4f4f4"/>
<circle cx="495.5" cy="679.2" r="1.3" fill="#f4f4f4"/>
<circle cx="488.5" cy="679.2" r="1.3" fill="#f4f4f4"/>
<circle cx="487.3" cy="672.3" r="1.3" fill="#f4f4f4"/>
<circle cx="480.3" cy="672.8" r="1.3" fill="#f4f4f4"/>
<circle cx="478.9" cy="666.0" r="1.3" fill="#f4f4f4"/>
<circle cx="471.9" cy="666.6" r="1.3" fill="#f4f4f4"/>
<circle cx="470.3" cy="659.8" r="1.3" fill="#f4f4f4"/>
<circle cx="463.4" cy="660.5" r="1.3" fill="#f4f4f4"/>
<circle cx="461.7" cy="653.7" r="1.3" fill="#f4f4f4"/>
<circle cx="454.8" cy="654.5" r="1.3" fill="#f4f4f4"/>
<circle cx="453.1" cy="647.7" r="1.3" fill="#f4f4f4"/>
<circle cx="446.2" cy="648.7" r="1.3" fill="#f4f4f4"/>
<circle cx="443.9" cy="642.2" r="1.3" fill="#f4f4f4"/>
<circle cx="437.1" cy="643.7" r="1.3" fill="#f4f4f4"/>
<circle cx="435.0" cy="637.1" r="1.3" fill="#f4f4f4"/>
<circle cx="428.0" cy="637.7" r="1.3" fill="#f4f4f4"/>
<path d="M202.0 553.0 L216.0 545.0" fill="none" stroke="#eee" stroke-width="2.16" stroke-linecap="butt" stroke-linejoin="round"/>
<path d="M202.0 601.5 L216.0 593.5" fill="none" stroke="#eee" stroke-width="2.16" stroke-linecap="butt" stroke-linejoin="round"/>
<path d="M222.0 627.5 L236.0 619.5" fill="none" stroke="#eee" stroke-width="2.16" stroke-linecap="butt" stroke-linejoin="round"/>
<path d="M510.0 703.0 L524.0 695.0" fill="none" stroke="#eee" stroke-width="2.16" stroke-linecap="butt" stroke-linejoin="round"/>
<path d="M546.0 735.0 L560.0 727.0" fill="none" stroke="#eee" stroke-width="2.16" stroke-linecap="butt" stroke-linejoin="round"/>
<path d="M553.0 655.5 L567.0 647.5" fill="none" stroke="#eee" stroke-width="2.16" stroke-linecap="butt" stroke-linejoin="round"/>
<path d="M444.5 644.8 L458.5 636.8" fill="none" stroke="#eee" stroke-width="2.16" stroke-linecap="butt" stroke-linejoin="round"/>
<path d="M429.0 615.5 L443.0 607.5" fill="none" stroke="#eee" stroke-width="2.16" stroke-linecap="butt" stroke-linejoin="round"/>
<path d="M466.7 643.3 L467.3 643.9 L468.1 644.7 L469.1 645.8 L470.2 646.9 L471.4 648.1 L472.5 649.3 L473.7 650.4 L474.9 651.4 L475.8 652.2 L476.7 652.9 L477.6 653.5 L478.5 654.1 L479.5 654.7 L480.7 655.3 L482.0 656.0 L483.5 656.6 L485.2 657.4 L487.2 658.3 L489.4 659.2 L491.8 660.1 L494.2 661.0 L496.6 661.9 L499.0 662.6 L501.4 663.2 L503.7 663.7 L506.0 664.2 L508.2 664.5 L510.5 664.8 L512.8 665.0 L515.1 665.1 L517.3 665.1 L519.5 665.1 L521.6 665.0 L523.7 664.7 L525.8 664.4 L527.9 664.0 L529.8 663.6 L531.8 663.1 L533.7 662.6 L535.6 662.0 L537.5 661.4 L539.4 660.6 L541.4 659.7 L543.3 658.8 L545.0 658.0 L546.5 657.2 L547.8 656.6 L548.8 656.1 L541.8 641.4 L540.7 641.9 L539.3 642.6 L537.8 643.4 L536.2 644.1 L534.6 644.9 L533.1 645.5 L531.8 646.1 L530.6 646.5 L529.2 646.9 L527.6 647.3 L526.1 647.7 L524.6 648.1 L523.1 648.4 L521.6 648.6 L520.2 648.7 L518.8 648.8 L517.3 648.8 L515.7 648.8 L513.9 648.7 L512.2 648.6 L510.4 648.4 L508.6 648.1 L506.9 647.8 L505.2 647.4 L503.5 647.0 L501.7 646.4 L499.7 645.7 L497.6 644.9 L495.6 644.1 L493.6 643.3 L491.7 642.5 L490.1 641.8 L488.9 641.2 L488.1 640.8 L487.6 640.5 L487.2 640.3 L486.9 640.1 L486.5 639.8 L485.9 639.4 L485.2 638.8 L484.6 638.3 L483.9 637.6 L482.9 636.7 L481.9 635.6 L481.0 634.6 L480.0 633.6 L479.1 632.6 L478.4 631.9 Z" fill="#fff" stroke="#4c4c4c" stroke-width="1.35" stroke-linecap="butt" stroke-linejoin="round"/>
<path d="M468.8 641.2 L469.4 641.9 L470.3 642.7 L471.2 643.8 L472.3 644.9 L473.4 646.1 L474.6 647.2 L475.7 648.2 L476.7 649.1 L477.7 649.9 L478.5 650.5 L479.3 651.1 L480.1 651.6 L481.0 652.2 L482.0 652.7 L483.2 653.3 L484.7 654.0 L486.4 654.7 L488.4 655.6 L490.5 656.5 L492.8 657.4 L495.2 658.3 L497.5 659.1 L499.8 659.8 L502.1 660.4 L504.2 660.9 L506.4 661.3 L508.6 661.6 L510.8 661.9 L513.0 662.1 L515.2 662.2 L517.3 662.2 L519.4 662.2 L521.4 662.0 L523.4 661.8 L525.3 661.5 L527.3 661.2 L529.2 660.7 L531.0 660.3 L532.9 659.8 L534.7 659.2 L536.4 658.6 L538.3 657.9 L540.2 657.0 L542.0 656.2 L543.7 655.4 L545.2 654.6 L546.5 653.9 L547.5 653.5" fill="none" stroke="#585858" stroke-width="1.22" stroke-linecap="butt" stroke-linejoin="round"/>
<path d="M476.3 634.0 L477.0 634.7 L477.9 635.6 L478.8 636.6 L479.8 637.7 L480.9 638.7 L481.8 639.7 L482.7 640.5 L483.4 641.1 L484.1 641.7 L484.7 642.2 L485.2 642.5 L485.7 642.8 L486.1 643.1 L486.8 643.4 L487.7 643.9 L488.9 644.4 L490.6 645.2 L492.4 646.0 L494.5 646.8 L496.6 647.7 L498.7 648.5 L500.8 649.2 L502.7 649.8 L504.5 650.3 L506.3 650.6 L508.2 651.0 L510.0 651.3 L511.9 651.5 L513.7 651.6 L515.5 651.7 L517.3 651.8 L518.9 651.7 L520.5 651.6 L522.0 651.5 L523.6 651.2 L525.1 650.9 L526.7 650.6 L528.4 650.2 L530.0 649.7 L531.5 649.3 L532.8 648.8 L534.3 648.2 L535.9 647.5 L537.5 646.8 L539.1 646.0 L540.6 645.3 L542.0 644.6 L543.0 644.0" fill="none" stroke="#585858" stroke-width="1.22" stroke-linecap="butt" stroke-linejoin="round"/>
<path d="M468.8 641.2 L480.5 638.4 L478.0 650.1 L488.2 644.1 L489.3 656.0 L498.7 648.5 L501.4 660.2 L509.2 651.1 L514.0 662.1 L519.7 651.7 L526.6 661.3 L529.8 649.8 L538.8 657.6 L540.2 645.4" fill="none" stroke="#585858" stroke-width="1.49" stroke-linecap="butt" stroke-linejoin="round"/>
<path d="M476.4 634.0 L473.3 645.9 L484.2 641.7 L483.4 653.4 L493.3 646.3 L495.2 658.3 L503.9 650.1 L507.6 661.5 L514.5 651.7 L520.3 662.1 L524.7 651.0 L532.8 659.8 L534.9 648.0 L544.7 654.9" fill="none" stroke="#7a7a7a" stroke-width="0.94" stroke-linecap="butt" stroke-linejoin="round"/>
<path d="M466.5 634.5 L473 627 L480.5 628.5 L489 640 L498 645 L488 654 L476 647 Z" fill="#fff" stroke="#4c4c4c" stroke-width="1.35" stroke-linejoin="round" />
<path d="M470 633 L479 645 M476 630 L490 645" fill="none" stroke="#6a6a6a" stroke-width="1.08" stroke-linejoin="round" />
<rect x="543.5" y="639.0" width="10" height="13" rx="2.5" transform="rotate(-30 548.5 645.5)" fill="#fff" stroke="#2e2e2e" stroke-width="1"/>
<ellipse cx="545.2" cy="647.4" rx="6.5" ry="3.6" transform="rotate(60 545.2 647.4)" fill="#fff" stroke="#2e2e2e" stroke-width="0.8"/>
<path d="M250.0 541.5 L253.7 540.3 L258.0 541.5 L263.2 545.0 L268.0 549.0 L271.4 552.6 L277.0 556.5 L283.7 561.4 L286.0 566.0 L287.9 571.0 L291.0 574.8 L294.7 577.9 L301.0 582.5 L307.0 587.4 L311.5 592.5 L316.6 598.4 L322.5 603.8 L328.9 609.3 L335.0 613.6 L341.2 617.5 L347.0 621.5 L353.5 625.7 L357.5 622.8 L368.5 640.7 L365.8 644.8 L359.0 646.2 L346.0 637.0 L334.0 629.5 L322.0 623.0 L308.4 612.0 L294.7 599.7 L279.6 586.0 L267.3 573.7 L256.4 561.4 L247.5 547.8 L247.5 544.0 Z" fill="#fff" stroke="#4c4c4c" stroke-width="1.35" stroke-linecap="butt" stroke-linejoin="round"/>
<path d="M255.0 549.0 L263.5 557.0 L272.8 565.5 L285.1 582.0 L298.8 595.6 L313.8 607.9 L327.5 618.9 L343.9 629.8 L346.0 637.0 L334.0 629.5 L322.0 623.0 L308.4 612.0 L294.7 599.7 L279.6 586.0 L267.3 573.7 L256.4 561.4 L249.5 550.0 Z" fill="#b4b4b4" stroke="#777" stroke-width="0.81" stroke-linecap="butt" stroke-linejoin="round"/>
<path d="M255.0 549.0 L263.5 557.0 L272.8 565.5 L285.1 582.0 L298.8 595.6 L313.8 607.9 L327.5 618.9 L343.9 629.8 L358.0 641.5" fill="none" stroke="#606060" stroke-width="1.35" stroke-linecap="butt" stroke-linejoin="round"/>
<path d="M258.0 548.0 L267.0 556.0 L276.5 565.0 L289.0 581.0 L302.5 594.5 L317.0 606.5 L331.0 617.5 L347.0 628.0" fill="none" stroke="#7a7a7a" stroke-width="1.08" stroke-linecap="butt" stroke-linejoin="round"/>
<path d="M252.0 555.0 L259.0 553.0 L261.5 567.0 L268.0 561.5 L272.5 579.5 L278.5 574.0 L286.0 593.0 L291.5 589.0 L300.5 605.7 L306.0 602.0 L314.5 617.5 L320.5 613.5 L327.5 626.0 L335.5 624.5 L340.0 633.0 L351.0 635.5" fill="none" stroke="#505050" stroke-width="1.62" stroke-linecap="butt" stroke-linejoin="round"/>
<path d="M259.0 553.0 L256.8 561.0 L268.0 561.5 L267.0 573.2 L278.5 574.0 L279.2 586.2 L291.5 589.0 L293.2 599.4 L306.0 602.0 L307.5 611.6 L320.5 613.5 L321.0 621.8 L335.5 624.5 L333.8 629.5" fill="none" stroke="#606060" stroke-width="1.22" stroke-linecap="butt" stroke-linejoin="round"/>
<path d="M259.4 556.5 L263.8 559.3 L264.6 562.5 L260.2 559.7 Z" fill="#2a2a2a"/>
<path d="M278.4 576.5 L282.8 579.3 L283.6 582.5 L279.2 579.7 Z" fill="#2a2a2a"/>
<path d="M293.4 592.5 L297.8 595.3 L298.6 598.5 L294.2 595.7 Z" fill="#2a2a2a"/>
<path d="M308.4 605.5 L312.8 608.3 L313.6 611.5 L309.2 608.7 Z" fill="#2a2a2a"/>
<path d="M322.4 616.5 L326.8 619.3 L327.6 622.5 L323.2 619.7 Z" fill="#2a2a2a"/>
<rect x="272.2" y="552.6" width="11.5" height="8" rx="2.5" transform="rotate(-30 278.0 556.6)" fill="#fff" stroke="#2e2e2e" stroke-width="1"/>
<ellipse cx="274.2" cy="558.8" rx="4.0" ry="2.2" transform="rotate(60 274.2 558.8)" fill="#fff" stroke="#2e2e2e" stroke-width="0.8"/>
<rect x="294.6" y="577.3" width="11.5" height="8" rx="2.5" transform="rotate(-30 300.3 581.3)" fill="#fff" stroke="#2e2e2e" stroke-width="1"/>
<ellipse cx="296.5" cy="583.5" rx="4.0" ry="2.2" transform="rotate(60 296.5 583.5)" fill="#fff" stroke="#2e2e2e" stroke-width="0.8"/>
<rect x="340.2" y="616.8" width="11.5" height="8" rx="2.5" transform="rotate(-30 346.0 620.8)" fill="#fff" stroke="#2e2e2e" stroke-width="1"/>
<ellipse cx="342.2" cy="623.0" rx="4.0" ry="2.2" transform="rotate(60 342.2 623.0)" fill="#fff" stroke="#2e2e2e" stroke-width="0.8"/>
<path d="M262.5 560.5 L269 556.5 L270 558.5 L263.5 562.5 Z" fill="#555" stroke="#4c4c4c" stroke-width="0.94" stroke-linejoin="round" />
<path d="M456.5 596.5 Q456 591.5 461 590.5 L469 592.2 Q474.5 594 475 599.5 L479.5 612 Q486 613.5 486.5 619.5 Q486 625.5 480 625.5 Q475 625 473.5 620.5 L468 621.5 L466 627 L461.5 627.5 L459.5 620 L457.5 606 Z" fill="#fff" stroke="#4c4c4c" stroke-width="1.35" stroke-linejoin="round" />
<path d="M460.5 598.5 L463 620 L468 618.5 L465.5 599.5 Z" fill="#fff" stroke="#4c4c4c" stroke-width="1.22" stroke-linejoin="round" />
<path d="M458 594.5 Q463 597.5 472.5 596 M457.5 601 L461 600 M466 600.5 L474.5 600 M470 600.5 L474 614" fill="none" stroke="#4c4c4c" stroke-width="1.22" stroke-linejoin="round" />
<ellipse cx="480.3" cy="619.3" rx="4.8" ry="3.9" fill="#fff" stroke="#333" stroke-width="1"/>
<ellipse cx="480.3" cy="619.3" rx="2.6" ry="2.1" fill="#fff" stroke="#333" stroke-width="0.8"/>
<ellipse cx="462.3" cy="619.8" rx="2.2" ry="3" fill="#fff" stroke="#333" stroke-width="0.8"/>
<ellipse cx="465.5" cy="594.6" rx="4.6" ry="2.2" transform="rotate(10 465.5 594.6)" fill="#fff" stroke="#333" stroke-width="0.8"/>
<ellipse cx="408.6" cy="634.5" rx="12.5" ry="6.9" transform="rotate(60 408.6 634.5)" fill="#4a4a4a" stroke="#4c4c4c" stroke-width="1.35" />
<path d="M388.9 631.5 L402.4 623.7 L414.9 645.4 L401.4 653.1 Z" fill="#4a4a4a" stroke="none"/>
<path d="M388.9 631.5 L402.4 623.7" fill="none" stroke="#4c4c4c" stroke-width="1.35" stroke-linecap="butt" stroke-linejoin="round"/>
<path d="M401.4 653.1 L414.9 645.4" fill="none" stroke="#4c4c4c" stroke-width="1.35" stroke-linecap="butt" stroke-linejoin="round"/>
<ellipse cx="395.2" cy="642.3" rx="12.5" ry="6.9" transform="rotate(60 395.2 642.3)" fill="#fff" stroke="#4c4c4c" stroke-width="1.35" />
<path d="M400.6 653.5 L414.0 645.7" fill="none" stroke="#f4f4f4" stroke-width="1.15" stroke-linecap="butt" stroke-linejoin="round"/>
<path d="M401.8 652.9 L415.2 645.1" fill="none" stroke="#f4f4f4" stroke-width="1.15" stroke-linecap="butt" stroke-linejoin="round"/>
<path d="M402.8 651.9 L416.2 644.1" fill="none" stroke="#f4f4f4" stroke-width="1.15" stroke-linecap="butt" stroke-linejoin="round"/>
<path d="M403.5 650.4 L416.9 642.7" fill="none" stroke="#f4f4f4" stroke-width="1.15" stroke-linecap="butt" stroke-linejoin="round"/>
<path d="M403.8 648.7 L417.2 640.9" fill="none" stroke="#f4f4f4" stroke-width="1.15" stroke-linecap="butt" stroke-linejoin="round"/>
<path d="M403.8 646.7 L417.2 638.9" fill="none" stroke="#f4f4f4" stroke-width="1.15" stroke-linecap="butt" stroke-linejoin="round"/>
<path d="M403.4 644.5 L416.9 636.8" fill="none" stroke="#f4f4f4" stroke-width="1.15" stroke-linecap="butt" stroke-linejoin="round"/>
<path d="M402.7 642.2 L416.2 634.5" fill="none" stroke="#f4f4f4" stroke-width="1.15" stroke-linecap="butt" stroke-linejoin="round"/>
<path d="M401.8 640.0 L415.2 632.2" fill="none" stroke="#f4f4f4" stroke-width="1.15" stroke-linecap="butt" stroke-linejoin="round"/>
<path d="M400.5 637.8 L413.9 630.0" fill="none" stroke="#f4f4f4" stroke-width="1.15" stroke-linecap="butt" stroke-linejoin="round"/>
<path d="M399.0 635.8 L412.5 628.0" fill="none" stroke="#f4f4f4" stroke-width="1.15" stroke-linecap="butt" stroke-linejoin="round"/>
<path d="M397.4 634.1 L410.8 626.3" fill="none" stroke="#f4f4f4" stroke-width="1.15" stroke-linecap="butt" stroke-linejoin="round"/>
<path d="M395.7 632.7 L409.1 624.9" fill="none" stroke="#f4f4f4" stroke-width="1.15" stroke-linecap="butt" stroke-linejoin="round"/>
<path d="M394.0 631.7 L407.4 623.9" fill="none" stroke="#f4f4f4" stroke-width="1.15" stroke-linecap="butt" stroke-linejoin="round"/>
<path d="M392.3 631.1 L405.7 623.3" fill="none" stroke="#f4f4f4" stroke-width="1.15" stroke-linecap="butt" stroke-linejoin="round"/>
<path d="M390.7 631.0 L404.1 623.2" fill="none" stroke="#f4f4f4" stroke-width="1.15" stroke-linecap="butt" stroke-linejoin="round"/>
<path d="M389.3 631.3 L402.8 623.5" fill="none" stroke="#f4f4f4" stroke-width="1.15" stroke-linecap="butt" stroke-linejoin="round"/>
<path d="M388.2 632.1 L401.6 624.3" fill="none" stroke="#f4f4f4" stroke-width="1.15" stroke-linecap="butt" stroke-linejoin="round"/>
<path d="M407.7 649.7 L409.1 648.8 L410.1 647.3 L410.6 645.3 L410.6 643.0 L410.2 640.3 L409.3 637.6 L408.0 634.9 L406.3 632.4 L404.4 630.3 L402.4 628.6 L400.3 627.5 L398.3 626.9 L396.5 627.0 L395.1 627.8" fill="none" stroke="#4a4a4a" stroke-width="1.76" stroke-linecap="butt" stroke-linejoin="round"/>
<ellipse cx="395.2" cy="642.3" rx="12.5" ry="6.9" transform="rotate(60 395.2 642.3)" fill="#fff" stroke="#333" stroke-width="2.2" stroke-dasharray="1.8 1.2"/>
<ellipse cx="395.2" cy="642.3" rx="9.8" ry="5.4" transform="rotate(60 395.2 642.3)" fill="#fff" stroke="#4c4c4c" stroke-width="1.35" />
<ellipse cx="395.9" cy="641.9" rx="7.5" ry="4.1" transform="rotate(60 395.9 641.9)" fill="#fff" stroke="#4c4c4c" stroke-width="1.35" />
<ellipse cx="496.6" cy="596.7" rx="3.1" ry="4.3" transform="rotate(-25 496.6 596.7)" fill="#fff" stroke="#333" stroke-width="1.5"/>
<path d="M383.7 641.8 A3.2 4.3 -25 1 0 384.7 649.4" fill="none" stroke="#333" stroke-width="1.4"/>
<path d="M499.9 205.6 L506.6 202.5 L508.9 203.7 L514.4 200.9 L517.5 202.5 L522.2 208.0 L523.8 211.9 L521.4 215.0 L509.7 221.3 L501.1 222.8 L499.5 218.1 Z" fill="#fff" stroke="#4c4c4c" stroke-width="1.35" stroke-linecap="butt" stroke-linejoin="round"/>
<path d="M501.8 208.7 Q508.0 212.0 509.7 221.3 M501.8 208.7 L507.5 206.0 L506.6 202.5 M500.5 214.0 Q505.0 214.5 506.5 220.0" fill="none" stroke="#4c4c4c" stroke-width="1.35" stroke-linejoin="round" />
<ellipse cx="503.6" cy="217.6" rx="2.2" ry="1.3" transform="rotate(60 503.6 217.6)" fill="#fff" stroke="#4c4c4c" stroke-width="1.22" />
<path d="M652.8 729.5 L659.1 725.6 L666.1 723.7 L668.4 724.8 L671.6 724.5 L674.7 726.8 L675.1 733.4 L670.0 736.6 L668.4 741.2 L662.2 744.4 L660.6 742.8 L659.1 738.9 L654.4 735.8 L652.8 732.7 Z" fill="#fff" stroke="#4c4c4c" stroke-width="1.35" stroke-linecap="butt" stroke-linejoin="round"/>
<path d="M662.2 725.6 L662.2 743.6 M666.1 724 L666.9 737.3 M659.1 725.6 L659.3 738.5 M669.5 726 L674 727.5 M669.8 730.5 L674.3 731.5 M652.8 729.5 Q657 730.5 659.1 738.9" fill="none" stroke="#4c4c4c" stroke-width="1.28" stroke-linejoin="round" />
<path d="M670 729.5 L674.3 728.5 L674.3 730.5 Z" fill="#444" stroke="#4c4c4c" stroke-width="0.81" stroke-linejoin="round" />
<path d="M169.3 573.4 L188.9 562.5 L187.7 560.3 L168.1 571.2 Z" fill="#fff" stroke="#4c4c4c" stroke-width="1.22" stroke-linecap="butt" stroke-linejoin="round"/>
<path d="M177.7 568.8 L177.0 566.2" fill="none" stroke="#6a6a6a" stroke-width="0.68" stroke-linecap="butt" stroke-linejoin="round"/>
<path d="M179.1 568.0 L178.4 565.4" fill="none" stroke="#6a6a6a" stroke-width="0.68" stroke-linecap="butt" stroke-linejoin="round"/>
<path d="M180.5 567.2 L179.8 564.7" fill="none" stroke="#6a6a6a" stroke-width="0.68" stroke-linecap="butt" stroke-linejoin="round"/>
<path d="M181.9 566.4 L181.2 563.9" fill="none" stroke="#6a6a6a" stroke-width="0.68" stroke-linecap="butt" stroke-linejoin="round"/>
<path d="M183.3 565.7 L182.6 563.1" fill="none" stroke="#6a6a6a" stroke-width="0.68" stroke-linecap="butt" stroke-linejoin="round"/>
<path d="M184.7 564.9 L184.0 562.3" fill="none" stroke="#6a6a6a" stroke-width="0.68" stroke-linecap="butt" stroke-linejoin="round"/>
<path d="M186.1 564.1 L185.4 561.5" fill="none" stroke="#6a6a6a" stroke-width="0.68" stroke-linecap="butt" stroke-linejoin="round"/>
<path d="M187.5 563.3 L186.8 560.8" fill="none" stroke="#6a6a6a" stroke-width="0.68" stroke-linecap="butt" stroke-linejoin="round"/>
<ellipse cx="171.0" cy="571.0" rx="4.3" ry="2.7" transform="rotate(60 171.0 571.0)" fill="#fff" stroke="#4c4c4c" stroke-width="1.22" />
<ellipse cx="170.1" cy="571.5" rx="3.4" ry="2.1" transform="rotate(60 170.1 571.5)" fill="#ddd" stroke="#4c4c4c" stroke-width="1.22" />
<ellipse cx="168.7" cy="572.3" rx="3.4" ry="2.1" transform="rotate(60 168.7 572.3)" fill="#999" stroke="#4c4c4c" stroke-width="1.35" />
<ellipse cx="168.7" cy="572.3" rx="1.7" ry="1.1" transform="rotate(60 168.7 572.3)" fill="#ddd" stroke="#4c4c4c" stroke-width="0.81" />
<path d="M169.1 621.6 L183.5 614.1 L182.1 611.5 L167.7 619.0 Z" fill="#fff" stroke="#4c4c4c" stroke-width="1.22" stroke-linecap="butt" stroke-linejoin="round"/>
<path d="M174.8 618.7 L173.9 615.7" fill="none" stroke="#6a6a6a" stroke-width="0.68" stroke-linecap="butt" stroke-linejoin="round"/>
<path d="M176.2 617.9 L175.3 615.0" fill="none" stroke="#6a6a6a" stroke-width="0.68" stroke-linecap="butt" stroke-linejoin="round"/>
<path d="M177.6 617.2 L176.8 614.3" fill="none" stroke="#6a6a6a" stroke-width="0.68" stroke-linecap="butt" stroke-linejoin="round"/>
<path d="M179.0 616.5 L178.2 613.5" fill="none" stroke="#6a6a6a" stroke-width="0.68" stroke-linecap="butt" stroke-linejoin="round"/>
<path d="M180.4 615.7 L179.6 612.8" fill="none" stroke="#6a6a6a" stroke-width="0.68" stroke-linecap="butt" stroke-linejoin="round"/>
<path d="M181.9 615.0 L181.0 612.0" fill="none" stroke="#6a6a6a" stroke-width="0.68" stroke-linecap="butt" stroke-linejoin="round"/>
<path d="M171.9 621.6 L175.9 619.5 L173.3 614.6 L169.3 616.7 Z" fill="#fff" stroke="#4c4c4c" stroke-width="1.22" stroke-linecap="butt" stroke-linejoin="round"/>
<ellipse cx="170.4" cy="619.3" rx="4.4" ry="2.7" transform="rotate(60 170.4 619.3)" fill="#fff" stroke="#4c4c4c" stroke-width="1.22" />
<ellipse cx="168.4" cy="620.3" rx="4.4" ry="2.7" transform="rotate(60 168.4 620.3)" fill="#fff" stroke="#4c4c4c" stroke-width="1.35" />
<ellipse cx="168.4" cy="620.3" rx="1.6" ry="1.0" transform="rotate(60 168.4 620.3)" fill="#bbb" stroke="#4c4c4c" stroke-width="1.08" />
<path d="M188.1 635.8 L207.6 625.3 L206.4 623.1 L186.9 633.6 Z" fill="#fff" stroke="#4c4c4c" stroke-width="1.22" stroke-linecap="butt" stroke-linejoin="round"/>
<path d="M195.2 632.1 L194.5 629.5" fill="none" stroke="#6a6a6a" stroke-width="0.68" stroke-linecap="butt" stroke-linejoin="round"/>
<path d="M196.6 631.3 L195.9 628.7" fill="none" stroke="#6a6a6a" stroke-width="0.68" stroke-linecap="butt" stroke-linejoin="round"/>
<path d="M198.0 630.5 L197.3 628.0" fill="none" stroke="#6a6a6a" stroke-width="0.68" stroke-linecap="butt" stroke-linejoin="round"/>
<path d="M199.4 629.8 L198.7 627.2" fill="none" stroke="#6a6a6a" stroke-width="0.68" stroke-linecap="butt" stroke-linejoin="round"/>
<path d="M200.8 629.0 L200.1 626.4" fill="none" stroke="#6a6a6a" stroke-width="0.68" stroke-linecap="butt" stroke-linejoin="round"/>
<path d="M202.2 628.3 L201.5 625.7" fill="none" stroke="#6a6a6a" stroke-width="0.68" stroke-linecap="butt" stroke-linejoin="round"/>
<path d="M203.6 627.5 L202.9 624.9" fill="none" stroke="#6a6a6a" stroke-width="0.68" stroke-linecap="butt" stroke-linejoin="round"/>
<path d="M205.0 626.7 L204.3 624.2" fill="none" stroke="#6a6a6a" stroke-width="0.68" stroke-linecap="butt" stroke-linejoin="round"/>
<ellipse cx="189.8" cy="633.5" rx="4.3" ry="2.7" transform="rotate(60 189.8 633.5)" fill="#fff" stroke="#4c4c4c" stroke-width="1.22" />
<ellipse cx="188.9" cy="633.9" rx="3.4" ry="2.1" transform="rotate(60 188.9 633.9)" fill="#ddd" stroke="#4c4c4c" stroke-width="1.22" />
<ellipse cx="187.5" cy="634.7" rx="3.4" ry="2.1" transform="rotate(60 187.5 634.7)" fill="#999" stroke="#4c4c4c" stroke-width="1.35" />
<ellipse cx="187.5" cy="634.7" rx="1.7" ry="1.1" transform="rotate(60 187.5 634.7)" fill="#ddd" stroke="#4c4c4c" stroke-width="0.81" />
<path d="M257.8 712.6 L267.6 707.1 L266.4 704.9 L256.6 710.4 Z" fill="#fff" stroke="#4c4c4c" stroke-width="1.22" stroke-linecap="butt" stroke-linejoin="round"/>
<path d="M262.0 710.3 L261.3 707.7" fill="none" stroke="#6a6a6a" stroke-width="0.68" stroke-linecap="butt" stroke-linejoin="round"/>
<path d="M263.4 709.5 L262.7 706.9" fill="none" stroke="#6a6a6a" stroke-width="0.68" stroke-linecap="butt" stroke-linejoin="round"/>
<path d="M264.8 708.7 L264.1 706.2" fill="none" stroke="#6a6a6a" stroke-width="0.68" stroke-linecap="butt" stroke-linejoin="round"/>
<path d="M266.2 707.9 L265.5 705.4" fill="none" stroke="#6a6a6a" stroke-width="0.68" stroke-linecap="butt" stroke-linejoin="round"/>
<ellipse cx="259.5" cy="710.2" rx="4.3" ry="2.7" transform="rotate(60 259.5 710.2)" fill="#fff" stroke="#4c4c4c" stroke-width="1.22" />
<ellipse cx="258.6" cy="710.7" rx="3.4" ry="2.1" transform="rotate(60 258.6 710.7)" fill="#ddd" stroke="#4c4c4c" stroke-width="1.22" />
<ellipse cx="257.2" cy="711.5" rx="3.4" ry="2.1" transform="rotate(60 257.2 711.5)" fill="#999" stroke="#4c4c4c" stroke-width="1.35" />
<ellipse cx="257.2" cy="711.5" rx="1.7" ry="1.1" transform="rotate(60 257.2 711.5)" fill="#ddd" stroke="#4c4c4c" stroke-width="0.81" />
<path d="M250.5 727.2 L260.6 721.6 L259.4 719.4 L249.3 725.0 Z" fill="#fff" stroke="#4c4c4c" stroke-width="1.22" stroke-linecap="butt" stroke-linejoin="round"/>
<path d="M254.7 724.9 L254.0 722.3" fill="none" stroke="#6a6a6a" stroke-width="0.68" stroke-linecap="butt" stroke-linejoin="round"/>
<path d="M256.1 724.1 L255.4 721.6" fill="none" stroke="#6a6a6a" stroke-width="0.68" stroke-linecap="butt" stroke-linejoin="round"/>
<path d="M257.5 723.4 L256.8 720.8" fill="none" stroke="#6a6a6a" stroke-width="0.68" stroke-linecap="butt" stroke-linejoin="round"/>
<path d="M258.9 722.6 L258.2 720.0" fill="none" stroke="#6a6a6a" stroke-width="0.68" stroke-linecap="butt" stroke-linejoin="round"/>
<ellipse cx="252.2" cy="724.8" rx="4.3" ry="2.7" transform="rotate(60 252.2 724.8)" fill="#fff" stroke="#4c4c4c" stroke-width="1.22" />
<ellipse cx="251.3" cy="725.3" rx="3.4" ry="2.1" transform="rotate(60 251.3 725.3)" fill="#ddd" stroke="#4c4c4c" stroke-width="1.22" />
<ellipse cx="249.9" cy="726.1" rx="3.4" ry="2.1" transform="rotate(60 249.9 726.1)" fill="#999" stroke="#4c4c4c" stroke-width="1.35" />
<ellipse cx="249.9" cy="726.1" rx="1.7" ry="1.1" transform="rotate(60 249.9 726.1)" fill="#ddd" stroke="#4c4c4c" stroke-width="0.81" />
<path d="M409.6 611.1 L420.1 605.1 L418.9 602.9 L408.4 608.9 Z" fill="#fff" stroke="#4c4c4c" stroke-width="1.22" stroke-linecap="butt" stroke-linejoin="round"/>
<path d="M413.8 608.7 L413.0 606.2" fill="none" stroke="#6a6a6a" stroke-width="0.68" stroke-linecap="butt" stroke-linejoin="round"/>
<path d="M415.2 608.0 L414.4 605.4" fill="none" stroke="#6a6a6a" stroke-width="0.68" stroke-linecap="butt" stroke-linejoin="round"/>
<path d="M416.6 607.2 L415.8 604.6" fill="none" stroke="#6a6a6a" stroke-width="0.68" stroke-linecap="butt" stroke-linejoin="round"/>
<path d="M418.0 606.4 L417.2 603.8" fill="none" stroke="#6a6a6a" stroke-width="0.68" stroke-linecap="butt" stroke-linejoin="round"/>
<ellipse cx="411.3" cy="608.7" rx="4.3" ry="2.7" transform="rotate(60 411.3 608.7)" fill="#fff" stroke="#4c4c4c" stroke-width="1.22" />
<ellipse cx="410.4" cy="609.2" rx="3.4" ry="2.1" transform="rotate(60 410.4 609.2)" fill="#ddd" stroke="#4c4c4c" stroke-width="1.22" />
<ellipse cx="409.0" cy="610.0" rx="3.4" ry="2.1" transform="rotate(60 409.0 610.0)" fill="#999" stroke="#4c4c4c" stroke-width="1.35" />
<ellipse cx="409.0" cy="610.0" rx="1.7" ry="1.1" transform="rotate(60 409.0 610.0)" fill="#ddd" stroke="#4c4c4c" stroke-width="0.81" />
<path d="M416.6 660.3 L426.6 654.6 L425.4 652.4 L415.4 658.1 Z" fill="#fff" stroke="#4c4c4c" stroke-width="1.22" stroke-linecap="butt" stroke-linejoin="round"/>
<path d="M420.8 658.0 L420.0 655.4" fill="none" stroke="#6a6a6a" stroke-width="0.68" stroke-linecap="butt" stroke-linejoin="round"/>
<path d="M422.2 657.2 L421.4 654.6" fill="none" stroke="#6a6a6a" stroke-width="0.68" stroke-linecap="butt" stroke-linejoin="round"/>
<path d="M423.6 656.4 L422.8 653.8" fill="none" stroke="#6a6a6a" stroke-width="0.68" stroke-linecap="butt" stroke-linejoin="round"/>
<path d="M425.0 655.6 L424.2 653.0" fill="none" stroke="#6a6a6a" stroke-width="0.68" stroke-linecap="butt" stroke-linejoin="round"/>
<ellipse cx="418.3" cy="657.9" rx="4.3" ry="2.7" transform="rotate(60 418.3 657.9)" fill="#fff" stroke="#4c4c4c" stroke-width="1.22" />
<ellipse cx="417.4" cy="658.4" rx="3.4" ry="2.1" transform="rotate(60 417.4 658.4)" fill="#ddd" stroke="#4c4c4c" stroke-width="1.22" />
<ellipse cx="416.0" cy="659.2" rx="3.4" ry="2.1" transform="rotate(60 416.0 659.2)" fill="#999" stroke="#4c4c4c" stroke-width="1.35" />
<ellipse cx="416.0" cy="659.2" rx="1.7" ry="1.1" transform="rotate(60 416.0 659.2)" fill="#ddd" stroke="#4c4c4c" stroke-width="0.81" />
<path d="M450.2 738.4 L470.0 728.9 L468.8 726.5 L449.0 736.0 Z" fill="#fff" stroke="#4c4c4c" stroke-width="1.22" stroke-linecap="butt" stroke-linejoin="round"/>
<path d="M457.4 734.9 L456.8 732.3" fill="none" stroke="#6a6a6a" stroke-width="0.68" stroke-linecap="butt" stroke-linejoin="round"/>
<path d="M458.8 734.2 L458.2 731.6" fill="none" stroke="#6a6a6a" stroke-width="0.68" stroke-linecap="butt" stroke-linejoin="round"/>
<path d="M460.3 733.5 L459.7 730.9" fill="none" stroke="#6a6a6a" stroke-width="0.68" stroke-linecap="butt" stroke-linejoin="round"/>
<path d="M461.7 732.8 L461.1 730.2" fill="none" stroke="#6a6a6a" stroke-width="0.68" stroke-linecap="butt" stroke-linejoin="round"/>
<path d="M463.1 732.1 L462.6 729.5" fill="none" stroke="#6a6a6a" stroke-width="0.68" stroke-linecap="butt" stroke-linejoin="round"/>
<path d="M464.6 731.5 L464.0 728.8" fill="none" stroke="#6a6a6a" stroke-width="0.68" stroke-linecap="butt" stroke-linejoin="round"/>
<path d="M466.0 730.8 L465.4 728.2" fill="none" stroke="#6a6a6a" stroke-width="0.68" stroke-linecap="butt" stroke-linejoin="round"/>
<path d="M467.5 730.1 L466.9 727.5" fill="none" stroke="#6a6a6a" stroke-width="0.68" stroke-linecap="butt" stroke-linejoin="round"/>
<ellipse cx="451.9" cy="736.1" rx="4.3" ry="2.7" transform="rotate(60 451.9 736.1)" fill="#fff" stroke="#4c4c4c" stroke-width="1.22" />
<ellipse cx="451.0" cy="736.5" rx="3.4" ry="2.1" transform="rotate(60 451.0 736.5)" fill="#ddd" stroke="#4c4c4c" stroke-width="1.22" />
<ellipse cx="449.6" cy="737.2" rx="3.4" ry="2.1" transform="rotate(60 449.6 737.2)" fill="#999" stroke="#4c4c4c" stroke-width="1.35" />
<ellipse cx="449.6" cy="737.2" rx="1.7" ry="1.1" transform="rotate(60 449.6 737.2)" fill="#ddd" stroke="#4c4c4c" stroke-width="0.81" />
<path d="M441.1 774.6 L453.2 768.0 L451.8 765.4 L439.7 772.0 Z" fill="#fff" stroke="#4c4c4c" stroke-width="1.22" stroke-linecap="butt" stroke-linejoin="round"/>
<path d="M445.3 772.3 L444.4 769.4" fill="none" stroke="#6a6a6a" stroke-width="0.68" stroke-linecap="butt" stroke-linejoin="round"/>
<path d="M446.7 771.6 L445.8 768.6" fill="none" stroke="#6a6a6a" stroke-width="0.68" stroke-linecap="butt" stroke-linejoin="round"/>
<path d="M448.1 770.8 L447.2 767.9" fill="none" stroke="#6a6a6a" stroke-width="0.68" stroke-linecap="butt" stroke-linejoin="round"/>
<path d="M449.5 770.0 L448.6 767.1" fill="none" stroke="#6a6a6a" stroke-width="0.68" stroke-linecap="butt" stroke-linejoin="round"/>
<path d="M451.0 769.3 L450.0 766.3" fill="none" stroke="#6a6a6a" stroke-width="0.68" stroke-linecap="butt" stroke-linejoin="round"/>
<path d="M443.9 774.6 L447.9 772.4 L445.2 767.5 L441.3 769.6 Z" fill="#fff" stroke="#4c4c4c" stroke-width="1.22" stroke-linecap="butt" stroke-linejoin="round"/>
<ellipse cx="442.3" cy="772.2" rx="4.4" ry="2.7" transform="rotate(60 442.3 772.2)" fill="#fff" stroke="#4c4c4c" stroke-width="1.22" />
<ellipse cx="440.4" cy="773.3" rx="4.4" ry="2.7" transform="rotate(60 440.4 773.3)" fill="#fff" stroke="#4c4c4c" stroke-width="1.35" />
<ellipse cx="440.4" cy="773.3" rx="1.6" ry="1.0" transform="rotate(60 440.4 773.3)" fill="#bbb" stroke="#4c4c4c" stroke-width="1.08" />
<path d="M477.9 780.6 L497.6 770.6 L496.4 768.2 L476.7 778.2 Z" fill="#fff" stroke="#4c4c4c" stroke-width="1.22" stroke-linecap="butt" stroke-linejoin="round"/>
<path d="M485.0 776.9 L484.4 774.3" fill="none" stroke="#6a6a6a" stroke-width="0.68" stroke-linecap="butt" stroke-linejoin="round"/>
<path d="M486.4 776.2 L485.8 773.6" fill="none" stroke="#6a6a6a" stroke-width="0.68" stroke-linecap="butt" stroke-linejoin="round"/>
<path d="M487.9 775.5 L487.2 772.9" fill="none" stroke="#6a6a6a" stroke-width="0.68" stroke-linecap="butt" stroke-linejoin="round"/>
<path d="M489.3 774.8 L488.7 772.2" fill="none" stroke="#6a6a6a" stroke-width="0.68" stroke-linecap="butt" stroke-linejoin="round"/>
<path d="M490.7 774.0 L490.1 771.5" fill="none" stroke="#6a6a6a" stroke-width="0.68" stroke-linecap="butt" stroke-linejoin="round"/>
<path d="M492.2 773.3 L491.5 770.7" fill="none" stroke="#6a6a6a" stroke-width="0.68" stroke-linecap="butt" stroke-linejoin="round"/>
<path d="M493.6 772.6 L492.9 770.0" fill="none" stroke="#6a6a6a" stroke-width="0.68" stroke-linecap="butt" stroke-linejoin="round"/>
<path d="M495.0 771.9 L494.4 769.3" fill="none" stroke="#6a6a6a" stroke-width="0.68" stroke-linecap="butt" stroke-linejoin="round"/>
<ellipse cx="479.6" cy="778.2" rx="4.3" ry="2.7" transform="rotate(60 479.6 778.2)" fill="#fff" stroke="#4c4c4c" stroke-width="1.22" />
<ellipse cx="478.7" cy="778.7" rx="3.4" ry="2.1" transform="rotate(60 478.7 778.7)" fill="#ddd" stroke="#4c4c4c" stroke-width="1.22" />
<ellipse cx="477.3" cy="779.4" rx="3.4" ry="2.1" transform="rotate(60 477.3 779.4)" fill="#999" stroke="#4c4c4c" stroke-width="1.35" />
<ellipse cx="477.3" cy="779.4" rx="1.7" ry="1.1" transform="rotate(60 477.3 779.4)" fill="#ddd" stroke="#4c4c4c" stroke-width="0.81" />
<path d="M470.2 241.9 L485.8 233.7 L482.9 228.1 L467.2 236.2 Z" fill="#fff" stroke="#4c4c4c" stroke-width="1.35" stroke-linecap="butt" stroke-linejoin="round"/>
<path d="M485.1 232.2 L489.5 229.9 L488.1 227.3 L483.7 229.6 Z" fill="#999" stroke="#4c4c4c" stroke-width="1.22" stroke-linecap="butt" stroke-linejoin="round"/>
<ellipse cx="468.9" cy="239.0" rx="4.6" ry="2.9" transform="rotate(60 468.9 239.0)" fill="#fff" stroke="#4c4c4c" stroke-width="1.35" />
<ellipse cx="466.9" cy="240.0" rx="4.6" ry="2.9" transform="rotate(60 466.9 240.0)" fill="#666" stroke="#4c4c4c" stroke-width="1.49" />
<ellipse cx="466.9" cy="240.0" rx="2.3" ry="1.4" transform="rotate(60 466.9 240.0)" fill="#ddd" stroke="#4c4c4c" stroke-width="0.94" />
<path d="M631.9 749.1 L639.7 744.8 L637.5 740.8 L629.7 745.0 Z" fill="#fff" stroke="#4c4c4c" stroke-width="1.35" stroke-linecap="butt" stroke-linejoin="round"/>
<path d="M639.3 744.1 L643.7 741.7 L642.3 739.1 L637.9 741.5 Z" fill="#999" stroke="#4c4c4c" stroke-width="1.22" stroke-linecap="butt" stroke-linejoin="round"/>
<ellipse cx="630.9" cy="747.0" rx="4.3" ry="2.7" transform="rotate(60 630.9 747.0)" fill="#fff" stroke="#4c4c4c" stroke-width="1.35" />
<ellipse cx="629.0" cy="748.0" rx="4.3" ry="2.7" transform="rotate(60 629.0 748.0)" fill="#666" stroke="#4c4c4c" stroke-width="1.49" />
<ellipse cx="629.0" cy="748.0" rx="2.1" ry="1.3" transform="rotate(60 629.0 748.0)" fill="#ddd" stroke="#4c4c4c" stroke-width="0.94" />
<path d="M537.5 166.9 L624.3 210.3" fill="none" stroke="#626262" stroke-width="1.42" stroke-linecap="butt" stroke-linejoin="round"/>
<path d="M629.7 213.0 L623.2 212.6 L625.5 208.1 Z" fill="#111"/>
<path d="M487.4 279.0 L481.6 246.5" fill="none" stroke="#626262" stroke-width="1.42" stroke-linecap="butt" stroke-linejoin="round"/>
<path d="M480.5 240.6 L484.0 246.1 L479.1 246.9 Z" fill="#111"/>
<path d="M423.1 345.6 L418.3 426.0" fill="none" stroke="#626262" stroke-width="1.42" stroke-linecap="butt" stroke-linejoin="round"/>
<path d="M417.9 432.0 L415.8 425.9 L420.8 426.2 Z" fill="#111"/>
<path d="M423.1 345.6 L424.4 475.3" fill="none" stroke="#626262" stroke-width="1.42" stroke-linecap="butt" stroke-linejoin="round"/>
<path d="M424.5 481.3 L421.9 475.3 L426.9 475.3 Z" fill="#111"/>
<path d="M423.1 345.6 L464.9 397.0" fill="none" stroke="#626262" stroke-width="1.42" stroke-linecap="butt" stroke-linejoin="round"/>
<path d="M468.7 401.7 L463.0 398.6 L466.9 395.5 Z" fill="#111"/>
<path d="M423.1 345.6 L474.0 445.7" fill="none" stroke="#626262" stroke-width="1.42" stroke-linecap="butt" stroke-linejoin="round"/>
<path d="M476.7 451.0 L471.8 446.8 L476.2 444.5 Z" fill="#111"/>
<path d="M423.1 345.6 L508.4 374.8" fill="none" stroke="#626262" stroke-width="1.42" stroke-linecap="butt" stroke-linejoin="round"/>
<path d="M514.1 376.7 L507.6 377.1 L509.2 372.4 Z" fill="#111"/>
<path d="M423.1 345.6 L516.1 421.7" fill="none" stroke="#626262" stroke-width="1.42" stroke-linecap="butt" stroke-linejoin="round"/>
<path d="M520.7 425.5 L514.5 423.6 L517.6 419.8 Z" fill="#111"/>
<path d="M185.4 521.9 L184.2 553.6" fill="none" stroke="#626262" stroke-width="1.42" stroke-linecap="butt" stroke-linejoin="round"/>
<path d="M184.0 559.6 L181.7 553.5 L186.7 553.7 Z" fill="#111"/>
<path d="M173.5 647.2 L175.5 628.9" fill="none" stroke="#626262" stroke-width="1.42" stroke-linecap="butt" stroke-linejoin="round"/>
<path d="M176.1 622.9 L177.9 629.1 L173.0 628.6 Z" fill="#111"/>
<path d="M226.2 644.0 L211.2 632.0" fill="none" stroke="#626262" stroke-width="1.42" stroke-linecap="butt" stroke-linejoin="round"/>
<path d="M206.5 628.2 L212.7 630.0 L209.6 633.9 Z" fill="#111"/>
<path d="M456.9 707.2 L462.4 720.2" fill="none" stroke="#626262" stroke-width="1.42" stroke-linecap="butt" stroke-linejoin="round"/>
<path d="M464.7 725.7 L460.1 721.1 L464.7 719.2 Z" fill="#111"/>
<path d="M448.3 815.0 L448.3 782.0" fill="none" stroke="#626262" stroke-width="1.42" stroke-linecap="butt" stroke-linejoin="round"/>
<path d="M448.3 776.0 L450.8 782.0 L445.8 782.0 Z" fill="#111"/>
<path d="M512.9 789.1 L500.0 776.2" fill="none" stroke="#626262" stroke-width="1.42" stroke-linecap="butt" stroke-linejoin="round"/>
<path d="M495.8 772.0 L501.8 774.5 L498.3 778.0 Z" fill="#111"/>
<path d="M669.0 780.0 L643.0 752.9" fill="none" stroke="#626262" stroke-width="1.42" stroke-linecap="butt" stroke-linejoin="round"/>
<path d="M638.8 748.6 L644.8 751.2 L641.2 754.7 Z" fill="#111"/>
<path d="M816.2 690.0 L811.7 550.3" fill="none" stroke="#626262" stroke-width="1.42" stroke-linecap="butt" stroke-linejoin="round"/>
<path d="M811.5 544.3 L814.2 550.2 L809.2 550.4 Z" fill="#111"/>
<path d="M816.2 690.0 L817.9 603.0" fill="none" stroke="#626262" stroke-width="1.42" stroke-linecap="butt" stroke-linejoin="round"/>
<path d="M818.0 597.0 L820.4 603.0 L815.4 603.0 Z" fill="#111"/>
<path d="M816.2 690.0 L770.2 576.2" fill="none" stroke="#626262" stroke-width="1.42" stroke-linecap="butt" stroke-linejoin="round"/>
<path d="M768.0 570.6 L772.6 575.2 L767.9 577.1 Z" fill="#111"/>
<path d="M816.2 690.0 L776.5 628.4" fill="none" stroke="#626262" stroke-width="1.42" stroke-linecap="butt" stroke-linejoin="round"/>
<path d="M773.2 623.4 L778.6 627.1 L774.4 629.8 Z" fill="#111"/>
<path d="M816.2 690.0 L714.6 606.1" fill="none" stroke="#626262" stroke-width="1.42" stroke-linecap="butt" stroke-linejoin="round"/>
<path d="M710.0 602.3 L716.2 604.2 L713.0 608.0 Z" fill="#111"/>
<path d="M816.2 690.0 L724.0 656.5" fill="none" stroke="#626262" stroke-width="1.42" stroke-linecap="butt" stroke-linejoin="round"/>
<path d="M718.4 654.5 L724.9 654.2 L723.2 658.9 Z" fill="#111"/>
<path d="M798.3 199.4 L813.8 240.7" fill="none" stroke="#626262" stroke-width="1.42" stroke-linecap="butt" stroke-linejoin="round"/>
<path d="M815.9 246.3 L811.5 241.6 L816.1 239.8 Z" fill="#111"/>
<path d="M456.1 218.5 L465.9 235.7" fill="none" stroke="#626262" stroke-width="1.42" stroke-linecap="butt" stroke-linejoin="round"/>
<path d="M525.5 241.6 L516.7 219.1" fill="none" stroke="#626262" stroke-width="1.42" stroke-linecap="butt" stroke-linejoin="round"/>
<path d="M528.6 342.4 L524.6 364.8" fill="none" stroke="#626262" stroke-width="1.42" stroke-linecap="butt" stroke-linejoin="round"/>
<path d="M502.2 472.9 L483.8 464.5" fill="none" stroke="#626262" stroke-width="1.42" stroke-linecap="butt" stroke-linejoin="round"/>
<path d="M313.7 447.9 L333.5 457.1" fill="none" stroke="#626262" stroke-width="1.42" stroke-linecap="butt" stroke-linejoin="round"/>
<path d="M402.0 561.2 L374.4 549.4" fill="none" stroke="#626262" stroke-width="1.42" stroke-linecap="butt" stroke-linejoin="round"/>
<path d="M213.8 495.0 L219.6 517.5" fill="none" stroke="#626262" stroke-width="1.42" stroke-linecap="butt" stroke-linejoin="round"/>
<path d="M163.0 551.7 L168.2 568.9" fill="none" stroke="#626262" stroke-width="1.42" stroke-linecap="butt" stroke-linejoin="round"/>
<path d="M163.0 598.4 L168.2 616.3" fill="none" stroke="#626262" stroke-width="1.42" stroke-linecap="butt" stroke-linejoin="round"/>
<path d="M206.5 673.5 L189.3 638.7" fill="none" stroke="#626262" stroke-width="1.42" stroke-linecap="butt" stroke-linejoin="round"/>
<path d="M224.1 709.9 L253.9 711.2" fill="none" stroke="#626262" stroke-width="1.42" stroke-linecap="butt" stroke-linejoin="round"/>
<path d="M224.1 709.9 L246.0 724.4" fill="none" stroke="#626262" stroke-width="1.42" stroke-linecap="butt" stroke-linejoin="round"/>
<path d="M277.6 658.5 L298.7 646.6" fill="none" stroke="#626262" stroke-width="1.42" stroke-linecap="butt" stroke-linejoin="round"/>
<path d="M332.5 713.9 L335.6 686.2" fill="none" stroke="#626262" stroke-width="1.42" stroke-linecap="butt" stroke-linejoin="round"/>
<path d="M342.2 600.5 L329.0 607.1" fill="none" stroke="#626262" stroke-width="1.42" stroke-linecap="butt" stroke-linejoin="round"/>
<path d="M373.1 630.3 L380.2 645.2" fill="none" stroke="#626262" stroke-width="1.42" stroke-linecap="butt" stroke-linejoin="round"/>
<path d="M400.5 680.3 L403.6 653.7" fill="none" stroke="#626262" stroke-width="1.42" stroke-linecap="butt" stroke-linejoin="round"/>
<path d="M384.8 593.1 L405.9 607.7" fill="none" stroke="#626262" stroke-width="1.42" stroke-linecap="butt" stroke-linejoin="round"/>
<path d="M416.1 710.8 L416.1 663.1" fill="none" stroke="#626262" stroke-width="1.42" stroke-linecap="butt" stroke-linejoin="round"/>
<path d="M441.2 675.0 L453.9 668.1" fill="none" stroke="#626262" stroke-width="1.42" stroke-linecap="butt" stroke-linejoin="round"/>
<path d="M427.6 751.1 L446.1 740.4" fill="none" stroke="#626262" stroke-width="1.42" stroke-linecap="butt" stroke-linejoin="round"/>
<path d="M420.1 790.5 L438.6 776.5" fill="none" stroke="#626262" stroke-width="1.42" stroke-linecap="butt" stroke-linejoin="round"/>
<path d="M490.5 817.0 L480.0 783.9" fill="none" stroke="#626262" stroke-width="1.42" stroke-linecap="butt" stroke-linejoin="round"/>
<path d="M512.4 616.5 L486.5 629.6" fill="none" stroke="#626262" stroke-width="1.42" stroke-linecap="butt" stroke-linejoin="round"/>
<path d="M453.1 584.8 L458.1 594.0" fill="none" stroke="#626262" stroke-width="1.42" stroke-linecap="butt" stroke-linejoin="round"/>
<path d="M480.0 571.6 L494.5 592.7" fill="none" stroke="#626262" stroke-width="1.42" stroke-linecap="butt" stroke-linejoin="round"/>
<path d="M606.4 601.2 L620.5 620.0" fill="none" stroke="#626262" stroke-width="1.42" stroke-linecap="butt" stroke-linejoin="round"/>
<path d="M617.7 756.5 L633.5 720.9" fill="none" stroke="#626262" stroke-width="1.42" stroke-linecap="butt" stroke-linejoin="round"/>
<path d="M625.6 775.0 L630.9 751.2" fill="none" stroke="#626262" stroke-width="1.42" stroke-linecap="butt" stroke-linejoin="round"/>
<path d="M679.1 760.5 L670.4 736.7" fill="none" stroke="#626262" stroke-width="1.42" stroke-linecap="butt" stroke-linejoin="round"/>
<path d="M586.0 779.9 L586.0 757.5" fill="none" stroke="#626262" stroke-width="1.42" stroke-linecap="butt" stroke-linejoin="round"/>
<path d="M729.7 558.8 L746.9 566.7" fill="none" stroke="#626262" stroke-width="1.42" stroke-linecap="butt" stroke-linejoin="round"/>
<path d="M835.2 618.1 L824.6 595.7" fill="none" stroke="#626262" stroke-width="1.42" stroke-linecap="butt" stroke-linejoin="round"/>
<g transform="translate(498.0,156.0)"><rect x="0.6" y="0.6" width="38.4" height="21.4" fill="#fff" stroke="#444" stroke-width="1.3"/><path d="M6.6 9.5 L25 9.2 L25 7 L29.3 7 L29.3 4.2 Q29.3 3.6 30 3.6 L35.2 3.6 Q35.8 3.6 35.8 4.2 L35.8 18 Q35.8 18.6 35.2 18.6 L30 18.6 Q29.3 18.6 29.3 18 L29.3 15.4 L25 15.4 L25 12.9 L7.6 12.6 L7.6 13.2 L6.4 13.2 Z" fill="#000"/><path d="M6.4 13.8 Q8.8 17 8.3 18.3 Q7.8 19.6 6.4 19.6 Q5 19.6 4.5 18.3 Q4 17 6.4 13.8 Z" fill="#000"/></g>
<g transform="translate(467.6,279.2)"><rect x="0.6" y="0.6" width="38.4" height="21.4" fill="#fff" stroke="#444" stroke-width="1.3"/><path d="M6.6 9.5 L25 9.2 L25 7 L29.3 7 L29.3 4.2 Q29.3 3.6 30 3.6 L35.2 3.6 Q35.8 3.6 35.8 4.2 L35.8 18 Q35.8 18.6 35.2 18.6 L30 18.6 Q29.3 18.6 29.3 18 L29.3 15.4 L25 15.4 L25 12.9 L7.6 12.6 L7.6 13.2 L6.4 13.2 Z" fill="#000"/><path d="M6.4 13.8 Q8.8 17 8.3 18.3 Q7.8 19.6 6.4 19.6 Q5 19.6 4.5 18.3 Q4 17 6.4 13.8 Z" fill="#000"/></g>
<g transform="translate(402.8,322.8)"><rect x="0.6" y="0.6" width="38.4" height="21.4" fill="#fff" stroke="#444" stroke-width="1.3"/><path d="M6.6 9.5 L25 9.2 L25 7 L29.3 7 L29.3 4.2 Q29.3 3.6 30 3.6 L35.2 3.6 Q35.8 3.6 35.8 4.2 L35.8 18 Q35.8 18.6 35.2 18.6 L30 18.6 Q29.3 18.6 29.3 18 L29.3 15.4 L25 15.4 L25 12.9 L7.6 12.6 L7.6 13.2 L6.4 13.2 Z" fill="#000"/><path d="M6.4 13.8 Q8.8 17 8.3 18.3 Q7.8 19.6 6.4 19.6 Q5 19.6 4.5 18.3 Q4 17 6.4 13.8 Z" fill="#000"/></g>
<g transform="translate(166.3,499.2)"><rect x="0.6" y="0.6" width="38.4" height="21.4" fill="#fff" stroke="#444" stroke-width="1.3"/><path d="M6.6 9.5 L25 9.2 L25 7 L29.3 7 L29.3 4.2 Q29.3 3.6 30 3.6 L35.2 3.6 Q35.8 3.6 35.8 4.2 L35.8 18 Q35.8 18.6 35.2 18.6 L30 18.6 Q29.3 18.6 29.3 18 L29.3 15.4 L25 15.4 L25 12.9 L7.6 12.6 L7.6 13.2 L6.4 13.2 Z" fill="#000"/><path d="M6.4 13.8 Q8.8 17 8.3 18.3 Q7.8 19.6 6.4 19.6 Q5 19.6 4.5 18.3 Q4 17 6.4 13.8 Z" fill="#000"/></g>
<g transform="translate(153.6,646.6)"><rect x="0.6" y="0.6" width="38.4" height="21.4" fill="#fff" stroke="#444" stroke-width="1.3"/><path d="M6.6 9.5 L25 9.2 L25 7 L29.3 7 L29.3 4.2 Q29.3 3.6 30 3.6 L35.2 3.6 Q35.8 3.6 35.8 4.2 L35.8 18 Q35.8 18.6 35.2 18.6 L30 18.6 Q29.3 18.6 29.3 18 L29.3 15.4 L25 15.4 L25 12.9 L7.6 12.6 L7.6 13.2 L6.4 13.2 Z" fill="#000"/><path d="M6.4 13.8 Q8.8 17 8.3 18.3 Q7.8 19.6 6.4 19.6 Q5 19.6 4.5 18.3 Q4 17 6.4 13.8 Z" fill="#000"/></g>
<g transform="translate(206.4,643.6)"><rect x="0.6" y="0.6" width="38.4" height="21.4" fill="#fff" stroke="#444" stroke-width="1.3"/><path d="M6.6 9.5 L25 9.2 L25 7 L29.3 7 L29.3 4.2 Q29.3 3.6 30 3.6 L35.2 3.6 Q35.8 3.6 35.8 4.2 L35.8 18 Q35.8 18.6 35.2 18.6 L30 18.6 Q29.3 18.6 29.3 18 L29.3 15.4 L25 15.4 L25 12.9 L7.6 12.6 L7.6 13.2 L6.4 13.2 Z" fill="#000"/><path d="M6.4 13.8 Q8.8 17 8.3 18.3 Q7.8 19.6 6.4 19.6 Q5 19.6 4.5 18.3 Q4 17 6.4 13.8 Z" fill="#000"/></g>
<g transform="translate(437.6,684.2)"><rect x="0.6" y="0.6" width="38.4" height="21.4" fill="#fff" stroke="#444" stroke-width="1.3"/><path d="M6.6 9.5 L25 9.2 L25 7 L29.3 7 L29.3 4.2 Q29.3 3.6 30 3.6 L35.2 3.6 Q35.8 3.6 35.8 4.2 L35.8 18 Q35.8 18.6 35.2 18.6 L30 18.6 Q29.3 18.6 29.3 18 L29.3 15.4 L25 15.4 L25 12.9 L7.6 12.6 L7.6 13.2 L6.4 13.2 Z" fill="#000"/><path d="M6.4 13.8 Q8.8 17 8.3 18.3 Q7.8 19.6 6.4 19.6 Q5 19.6 4.5 18.3 Q4 17 6.4 13.8 Z" fill="#000"/></g>
<g transform="translate(428.6,815.2)"><rect x="0.6" y="0.6" width="38.4" height="21.4" fill="#fff" stroke="#444" stroke-width="1.3"/><path d="M6.6 9.5 L25 9.2 L25 7 L29.3 7 L29.3 4.2 Q29.3 3.6 30 3.6 L35.2 3.6 Q35.8 3.6 35.8 4.2 L35.8 18 Q35.8 18.6 35.2 18.6 L30 18.6 Q29.3 18.6 29.3 18 L29.3 15.4 L25 15.4 L25 12.9 L7.6 12.6 L7.6 13.2 L6.4 13.2 Z" fill="#000"/><path d="M6.4 13.8 Q8.8 17 8.3 18.3 Q7.8 19.6 6.4 19.6 Q5 19.6 4.5 18.3 Q4 17 6.4 13.8 Z" fill="#000"/></g>
<g transform="translate(495.0,789.8)"><rect x="0.6" y="0.6" width="38.4" height="21.4" fill="#fff" stroke="#444" stroke-width="1.3"/><path d="M6.6 9.5 L25 9.2 L25 7 L29.3 7 L29.3 4.2 Q29.3 3.6 30 3.6 L35.2 3.6 Q35.8 3.6 35.8 4.2 L35.8 18 Q35.8 18.6 35.2 18.6 L30 18.6 Q29.3 18.6 29.3 18 L29.3 15.4 L25 15.4 L25 12.9 L7.6 12.6 L7.6 13.2 L6.4 13.2 Z" fill="#000"/><path d="M6.4 13.8 Q8.8 17 8.3 18.3 Q7.8 19.6 6.4 19.6 Q5 19.6 4.5 18.3 Q4 17 6.4 13.8 Z" fill="#000"/></g>
<g transform="translate(647.4,778.8)"><rect x="0.6" y="0.6" width="38.4" height="21.4" fill="#fff" stroke="#444" stroke-width="1.3"/><path d="M6.6 9.5 L25 9.2 L25 7 L29.3 7 L29.3 4.2 Q29.3 3.6 30 3.6 L35.2 3.6 Q35.8 3.6 35.8 4.2 L35.8 18 Q35.8 18.6 35.2 18.6 L30 18.6 Q29.3 18.6 29.3 18 L29.3 15.4 L25 15.4 L25 12.9 L7.6 12.6 L7.6 13.2 L6.4 13.2 Z" fill="#000"/><path d="M6.4 13.8 Q8.8 17 8.3 18.3 Q7.8 19.6 6.4 19.6 Q5 19.6 4.5 18.3 Q4 17 6.4 13.8 Z" fill="#000"/></g>
<g transform="translate(797.0,690.4)"><rect x="0.6" y="0.6" width="38.4" height="21.4" fill="#fff" stroke="#444" stroke-width="1.3"/><path d="M6.6 9.5 L25 9.2 L25 7 L29.3 7 L29.3 4.2 Q29.3 3.6 30 3.6 L35.2 3.6 Q35.8 3.6 35.8 4.2 L35.8 18 Q35.8 18.6 35.2 18.6 L30 18.6 Q29.3 18.6 29.3 18 L29.3 15.4 L25 15.4 L25 12.9 L7.6 12.6 L7.6 13.2 L6.4 13.2 Z" fill="#000"/><path d="M6.4 13.8 Q8.8 17 8.3 18.3 Q7.8 19.6 6.4 19.6 Q5 19.6 4.5 18.3 Q4 17 6.4 13.8 Z" fill="#000"/></g>
<g transform="translate(777.0,176.8)"><rect x="0.6" y="0.6" width="38.4" height="21.4" fill="#fff" stroke="#444" stroke-width="1.3"/><path d="M6.6 9.5 L25 9.2 L25 7 L29.3 7 L29.3 4.2 Q29.3 3.6 30 3.6 L35.2 3.6 Q35.8 3.6 35.8 4.2 L35.8 18 Q35.8 18.6 35.2 18.6 L30 18.6 Q29.3 18.6 29.3 18 L29.3 15.4 L25 15.4 L25 12.9 L7.6 12.6 L7.6 13.2 L6.4 13.2 Z" fill="#000"/><path d="M6.4 13.8 Q8.8 17 8.3 18.3 Q7.8 19.6 6.4 19.6 Q5 19.6 4.5 18.3 Q4 17 6.4 13.8 Z" fill="#000"/></g>
<rect x="439.5" y="197.9" width="34.5" height="20.2" fill="#fff" stroke="#555" stroke-width="1.45"/>
<text x="456.4" y="211.6" font-size="11" font-weight="bold" font-style="normal" fill="#333" text-anchor="middle" textLength="12.4" lengthAdjust="spacingAndGlyphs">T1</text>
<rect x="145.9" y="531.5" width="34.5" height="20.2" fill="#fff" stroke="#555" stroke-width="1.45"/>
<text x="162.8" y="545.2" font-size="11" font-weight="bold" font-style="normal" fill="#333" text-anchor="middle" textLength="12.4" lengthAdjust="spacingAndGlyphs">T3</text>
<rect x="145.7" y="577.5" width="34.5" height="20.2" fill="#fff" stroke="#555" stroke-width="1.45"/>
<text x="162.5" y="591.2" font-size="11" font-weight="bold" font-style="normal" fill="#333" text-anchor="middle" textLength="12.4" lengthAdjust="spacingAndGlyphs">T1</text>
<rect x="189.5" y="673.9" width="34.5" height="20.2" fill="#fff" stroke="#555" stroke-width="1.45"/>
<text x="206.3" y="687.6" font-size="11" font-weight="bold" font-style="normal" fill="#333" text-anchor="middle" textLength="12.4" lengthAdjust="spacingAndGlyphs">T3</text>
<rect x="189.5" y="700.1" width="34.5" height="20.2" fill="#fff" stroke="#555" stroke-width="1.45"/>
<text x="206.3" y="713.8" font-size="11" font-weight="bold" font-style="normal" fill="#333" text-anchor="middle" textLength="12.4" lengthAdjust="spacingAndGlyphs">T2</text>
<rect x="366.9" y="571.9" width="34.5" height="20.2" fill="#fff" stroke="#555" stroke-width="1.45"/>
<text x="383.8" y="585.6" font-size="11" font-weight="bold" font-style="normal" fill="#333" text-anchor="middle" textLength="12.4" lengthAdjust="spacingAndGlyphs">T2</text>
<rect x="398.5" y="712.1" width="34.5" height="20.2" fill="#fff" stroke="#555" stroke-width="1.45"/>
<text x="415.4" y="725.8" font-size="11" font-weight="bold" font-style="normal" fill="#333" text-anchor="middle" textLength="12.4" lengthAdjust="spacingAndGlyphs">T2</text>
<rect x="391.5" y="741.5" width="34.5" height="20.2" fill="#fff" stroke="#555" stroke-width="1.45"/>
<text x="408.4" y="755.2" font-size="11" font-weight="bold" font-style="normal" fill="#333" text-anchor="middle" textLength="12.4" lengthAdjust="spacingAndGlyphs">T3</text>
<rect x="385.5" y="780.9" width="34.5" height="20.2" fill="#fff" stroke="#555" stroke-width="1.45"/>
<text x="402.4" y="794.6" font-size="11" font-weight="bold" font-style="normal" fill="#333" text-anchor="middle" textLength="12.4" lengthAdjust="spacingAndGlyphs">T1</text>
<rect x="475.5" y="818.1" width="34.5" height="20.2" fill="#fff" stroke="#555" stroke-width="1.45"/>
<text x="492.4" y="831.8" font-size="11" font-weight="bold" font-style="normal" fill="#333" text-anchor="middle" textLength="12.4" lengthAdjust="spacingAndGlyphs">T3</text>
<rect x="607.9" y="776.9" width="34.5" height="20.2" fill="#fff" stroke="#555" stroke-width="1.45"/>
<text x="624.8" y="790.6" font-size="11" font-weight="bold" font-style="normal" fill="#333" text-anchor="middle" textLength="12.4" lengthAdjust="spacingAndGlyphs">T1</text>
<text x="525.5" y="252.4" font-size="11" font-weight="bold" font-style="normal" fill="#3a3a3a" text-anchor="middle" textLength="13.6" lengthAdjust="spacingAndGlyphs">(1)</text>
<text x="529.5" y="340.4" font-size="11" font-weight="bold" font-style="normal" fill="#3a3a3a" text-anchor="middle" textLength="13.6" lengthAdjust="spacingAndGlyphs">(2)</text>
<text x="510.0" y="476.4" font-size="11" font-weight="bold" font-style="normal" fill="#3a3a3a" text-anchor="middle" textLength="13.6" lengthAdjust="spacingAndGlyphs">(3)</text>
<text x="304.5" y="449.9" font-size="11" font-weight="bold" font-style="normal" fill="#3a3a3a" text-anchor="middle" textLength="13.6" lengthAdjust="spacingAndGlyphs">(4)</text>
<text x="411.5" y="566.4" font-size="11" font-weight="bold" font-style="normal" fill="#3a3a3a" text-anchor="middle" textLength="13.6" lengthAdjust="spacingAndGlyphs">(5)</text>
<text x="212.5" y="491.9" font-size="11" font-weight="bold" font-style="normal" fill="#3a3a3a" text-anchor="middle" textLength="13.6" lengthAdjust="spacingAndGlyphs">(6)</text>
<text x="353.0" y="600.4" font-size="11" font-weight="bold" font-style="normal" fill="#3a3a3a" text-anchor="middle" textLength="13.6" lengthAdjust="spacingAndGlyphs">(7)</text>
<text x="268.0" y="662.4" font-size="11" font-weight="bold" font-style="normal" fill="#3a3a3a" text-anchor="middle" textLength="13.6" lengthAdjust="spacingAndGlyphs">(8)</text>
<text x="521.3" y="618.0" font-size="11" font-weight="bold" font-style="normal" fill="#3a3a3a" text-anchor="middle" textLength="13.6" lengthAdjust="spacingAndGlyphs">(8)</text>
<text x="331.5" y="721.9" font-size="11" font-weight="bold" font-style="normal" fill="#3a3a3a" text-anchor="middle" textLength="19.0" lengthAdjust="spacingAndGlyphs">(10)</text>
<text x="400.0" y="690.2" font-size="11" font-weight="bold" font-style="normal" fill="#3a3a3a" text-anchor="middle" textLength="19.0" lengthAdjust="spacingAndGlyphs">(11)</text>
<text x="453.0" y="580.4" font-size="11" font-weight="bold" font-style="normal" fill="#3a3a3a" text-anchor="middle" textLength="19.0" lengthAdjust="spacingAndGlyphs">(12)</text>
<text x="429.0" y="678.4" font-size="11" font-weight="bold" font-style="normal" fill="#3a3a3a" text-anchor="middle" textLength="19.0" lengthAdjust="spacingAndGlyphs">(13)</text>
<text x="606.5" y="596.9" font-size="11" font-weight="bold" font-style="normal" fill="#3a3a3a" text-anchor="middle" textLength="19.0" lengthAdjust="spacingAndGlyphs">(14)</text>
<text x="615.0" y="766.2" font-size="11" font-weight="bold" font-style="normal" fill="#3a3a3a" text-anchor="middle" textLength="19.0" lengthAdjust="spacingAndGlyphs">(15)</text>
<text x="717.9" y="561.6" font-size="11" font-weight="bold" font-style="normal" fill="#3a3a3a" text-anchor="middle" textLength="19.0" lengthAdjust="spacingAndGlyphs">(16)</text>
<text x="835.2" y="628.1" font-size="11" font-weight="bold" font-style="normal" fill="#3a3a3a" text-anchor="middle" textLength="19.0" lengthAdjust="spacingAndGlyphs">(17)</text>
<text x="679.0" y="771.0" font-size="11" font-weight="bold" font-style="normal" fill="#3a3a3a" text-anchor="middle" textLength="19.0" lengthAdjust="spacingAndGlyphs">(18)</text>
<text x="586.0" y="789.1" font-size="11" font-weight="bold" font-style="normal" fill="#3a3a3a" text-anchor="middle" textLength="13.6" lengthAdjust="spacingAndGlyphs">(6)</text>
<text x="480.0" y="565.9" font-size="11" font-weight="bold" font-style="normal" fill="#3a3a3a" text-anchor="middle" textLength="13.6" lengthAdjust="spacingAndGlyphs">(9)</text>
<polygon points="492.8,557.0 494.0,560.5 497.7,560.6 494.8,562.8 495.9,566.4 492.8,564.3 489.7,566.4 490.8,562.8 487.9,560.6 491.6,560.5" fill="#111"/>
<text x="373.5" y="622.9" font-size="11" font-weight="bold" font-style="normal" fill="#3a3a3a" text-anchor="middle" textLength="13.6" lengthAdjust="spacingAndGlyphs">(9)</text>
<polygon points="386.3,614.0 387.5,617.5 391.2,617.6 388.3,619.8 389.4,623.4 386.3,621.3 383.2,623.4 384.3,619.8 381.4,617.6 385.1,617.5" fill="#111"/>
<text x="141.3" y="33.4" font-size="18.2" font-weight="bold" font-style="normal" fill="#111" text-anchor="start" textLength="300.5" lengthAdjust="spacingAndGlyphs" stroke="#111" stroke-width="0.55">5. TIMING CHAIN &amp; CAMSHAFT</text>
<text x="825.5" y="859.0" font-size="11" font-weight="normal" font-style="normal" fill="#222" text-anchor="start" textLength="49.5" lengthAdjust="spacingAndGlyphs">ME-21403</text>
<text x="152.2" y="886.2" font-size="13.6" font-weight="normal" font-style="normal" fill="#4040d4" text-anchor="start" textLength="18.8" lengthAdjust="spacingAndGlyphs" stroke="#4040d4" stroke-width="0.3">(1)</text>
<text x="185.7" y="886.2" font-size="13.6" font-weight="normal" font-style="normal" fill="#4040d4" text-anchor="start" textLength="130.3" lengthAdjust="spacingAndGlyphs" stroke="#4040d4" stroke-width="0.3">Side chain guide RH</text>
<text x="152.2" y="909.5" font-size="13.6" font-weight="normal" font-style="normal" fill="#4040d4" text-anchor="start" textLength="18.8" lengthAdjust="spacingAndGlyphs" stroke="#4040d4" stroke-width="0.3">(2)</text>
<text x="185.7" y="909.5" font-size="13.6" font-weight="normal" font-style="normal" fill="#4040d4" text-anchor="start" textLength="129.0" lengthAdjust="spacingAndGlyphs" stroke="#4040d4" stroke-width="0.3">Intake camshaft RH</text>
<text x="152.2" y="933.3" font-size="13.6" font-weight="normal" font-style="normal" fill="#4040d4" text-anchor="start" textLength="18.8" lengthAdjust="spacingAndGlyphs" stroke="#4040d4" stroke-width="0.3">(3)</text>
<text x="185.7" y="933.3" font-size="13.6" font-weight="normal" font-style="normal" fill="#4040d4" text-anchor="start" textLength="138.9" lengthAdjust="spacingAndGlyphs" stroke="#4040d4" stroke-width="0.3">Exhaust camshaft RH</text>
<text x="152.2" y="957.0" font-size="13.6" font-weight="normal" font-style="normal" fill="#4040d4" text-anchor="start" textLength="18.8" lengthAdjust="spacingAndGlyphs" stroke="#4040d4" stroke-width="0.3">(4)</text>
<text x="185.7" y="957.0" font-size="13.6" font-weight="normal" font-style="normal" fill="#4040d4" text-anchor="start" textLength="156.2" lengthAdjust="spacingAndGlyphs" stroke="#4040d4" stroke-width="0.3">Intake cam sprocket RH</text>
<text x="152.2" y="1003.0" font-size="13.6" font-weight="normal" font-style="normal" fill="#4040d4" text-anchor="start" textLength="18.8" lengthAdjust="spacingAndGlyphs" stroke="#4040d4" stroke-width="0.3">(5)</text>
<text x="185.7" y="1003.0" font-size="13.6" font-weight="normal" font-style="normal" fill="#4040d4" text-anchor="start" textLength="166.3" lengthAdjust="spacingAndGlyphs" stroke="#4040d4" stroke-width="0.3">Exhaust cam sprocket RH</text>
<text x="400.7" y="886.2" font-size="13.6" font-weight="normal" font-style="normal" fill="#4040d4" text-anchor="start" textLength="19.0" lengthAdjust="spacingAndGlyphs" stroke="#4040d4" stroke-width="0.3">(9)</text>
<text x="434.9" y="886.2" font-size="13.6" font-weight="normal" font-style="normal" fill="#4040d4" text-anchor="start" textLength="40.7" lengthAdjust="spacingAndGlyphs" stroke="#4040d4" stroke-width="0.3">O-ring</text>
<text x="396.3" y="909.5" font-size="13.6" font-weight="normal" font-style="normal" fill="#4040d4" text-anchor="start" textLength="27.5" lengthAdjust="spacingAndGlyphs" stroke="#4040d4" stroke-width="0.3">(10)</text>
<text x="434.9" y="909.5" font-size="13.6" font-weight="normal" font-style="normal" fill="#4040d4" text-anchor="start" textLength="124.5" lengthAdjust="spacingAndGlyphs" stroke="#4040d4" stroke-width="0.3">Chain tensioner RH</text>
<text x="396.3" y="933.3" font-size="13.6" font-weight="normal" font-style="normal" fill="#4040d4" text-anchor="start" textLength="27.5" lengthAdjust="spacingAndGlyphs" stroke="#4040d4" stroke-width="0.3">(11)</text>
<text x="434.9" y="933.3" font-size="13.6" font-weight="normal" font-style="normal" fill="#4040d4" text-anchor="start" textLength="97.3" lengthAdjust="spacingAndGlyphs" stroke="#4040d4" stroke-width="0.3">Crank sprocket</text>
<text x="396.3" y="957.0" font-size="13.6" font-weight="normal" font-style="normal" fill="#4040d4" text-anchor="start" textLength="27.5" lengthAdjust="spacingAndGlyphs" stroke="#4040d4" stroke-width="0.3">(12)</text>
<text x="434.9" y="957.0" font-size="13.6" font-weight="normal" font-style="normal" fill="#4040d4" text-anchor="start" textLength="122.4" lengthAdjust="spacingAndGlyphs" stroke="#4040d4" stroke-width="0.3">Chain tensioner LH</text>
<text x="396.3" y="1003.0" font-size="13.6" font-weight="normal" font-style="normal" fill="#4040d4" text-anchor="start" textLength="27.5" lengthAdjust="spacingAndGlyphs" stroke="#4040d4" stroke-width="0.3">(13)</text>
<text x="434.9" y="1003.0" font-size="13.6" font-weight="normal" font-style="normal" fill="#4040d4" text-anchor="start" textLength="97.3" lengthAdjust="spacingAndGlyphs" stroke="#4040d4" stroke-width="0.3">Chain guide LH</text>
<text x="644.7" y="885.7" font-size="13.6" font-weight="normal" font-style="normal" fill="#4040d4" text-anchor="start" textLength="27.2" lengthAdjust="spacingAndGlyphs" stroke="#4040d4" stroke-width="0.3">(17)</text>
<text x="683.3" y="885.7" font-size="13.6" font-weight="normal" font-style="normal" fill="#4040d4" text-anchor="start" textLength="136.7" lengthAdjust="spacingAndGlyphs" stroke="#4040d4" stroke-width="0.3">Exhaust camshaft LH</text>
<text x="644.7" y="909.0" font-size="13.6" font-weight="normal" font-style="normal" fill="#4040d4" text-anchor="start" textLength="27.2" lengthAdjust="spacingAndGlyphs" stroke="#4040d4" stroke-width="0.3">(18)</text>
<text x="683.3" y="909.0" font-size="13.6" font-weight="normal" font-style="normal" fill="#4040d4" text-anchor="start" textLength="128.0" lengthAdjust="spacingAndGlyphs" stroke="#4040d4" stroke-width="0.3">Side chain guide LH</text>
<text x="643.2" y="956.8" font-size="13.6" font-weight="bold" font-style="italic" fill="#2a2ad0" text-anchor="start" textLength="226.8" lengthAdjust="spacingAndGlyphs" stroke="#2a2ad0" stroke-width="0.25">Tightening torque: N·m (kgf-m,</text>
<text x="642.2" y="978.4" font-size="13.6" font-weight="bold" font-style="italic" fill="#2a2ad0" text-anchor="start" textLength="37.3" lengthAdjust="spacingAndGlyphs" stroke="#2a2ad0" stroke-width="0.25">ft-lb)</text>
<text x="652.9" y="1002.0" font-size="13.6" font-weight="bold" font-style="italic" fill="#2a2ad0" text-anchor="start" textLength="21.5" lengthAdjust="spacingAndGlyphs" stroke="#2a2ad0" stroke-width="0.25">T1:</text>
<text x="683.8" y="1002.0" font-size="13.6" font-weight="bold" font-style="italic" fill="#2a2ad0" text-anchor="start" textLength="95.2" lengthAdjust="spacingAndGlyphs" stroke="#2a2ad0" stroke-width="0.25">6.4 (0.7, 4.7)</text>
</g>
<defs><filter id="soft" x="0" y="0" width="1024" height="1024" filterUnits="userSpaceOnUse"><feGaussianBlur stdDeviation="0.6"/></filter></defs>
</svg>
</body></html>
